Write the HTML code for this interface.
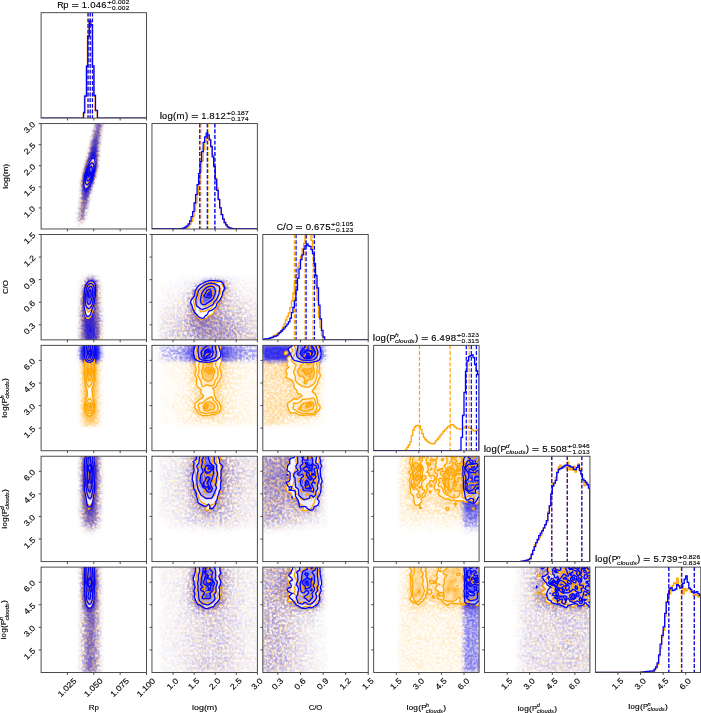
<!DOCTYPE html><html><head><meta charset="utf-8"><style>html,body{margin:0;padding:0;background:#fff;}svg{display:block}</style></head><body><svg width="701" height="713" viewBox="0 0 701 713">
<defs><clipPath id="c00"><rect x="41.10" y="12.70" width="105.4" height="105.4"/></clipPath><clipPath id="c10"><rect x="41.10" y="123.58" width="105.4" height="105.4"/></clipPath><clipPath id="c11"><rect x="151.96" y="123.58" width="105.4" height="105.4"/></clipPath><clipPath id="c20"><rect x="41.10" y="234.46" width="105.4" height="105.4"/></clipPath><clipPath id="c21"><rect x="151.96" y="234.46" width="105.4" height="105.4"/></clipPath><clipPath id="c22"><rect x="262.82" y="234.46" width="105.4" height="105.4"/></clipPath><clipPath id="c30"><rect x="41.10" y="345.34" width="105.4" height="105.4"/></clipPath><clipPath id="c31"><rect x="151.96" y="345.34" width="105.4" height="105.4"/></clipPath><clipPath id="c32"><rect x="262.82" y="345.34" width="105.4" height="105.4"/></clipPath><clipPath id="c33"><rect x="373.68" y="345.34" width="105.4" height="105.4"/></clipPath><clipPath id="c40"><rect x="41.10" y="456.22" width="105.4" height="105.4"/></clipPath><clipPath id="c41"><rect x="151.96" y="456.22" width="105.4" height="105.4"/></clipPath><clipPath id="c42"><rect x="262.82" y="456.22" width="105.4" height="105.4"/></clipPath><clipPath id="c43"><rect x="373.68" y="456.22" width="105.4" height="105.4"/></clipPath><clipPath id="c44"><rect x="484.54" y="456.22" width="105.4" height="105.4"/></clipPath><clipPath id="c50"><rect x="41.10" y="567.10" width="105.4" height="105.4"/></clipPath><clipPath id="c51"><rect x="151.96" y="567.10" width="105.4" height="105.4"/></clipPath><clipPath id="c52"><rect x="262.82" y="567.10" width="105.4" height="105.4"/></clipPath><clipPath id="c53"><rect x="373.68" y="567.10" width="105.4" height="105.4"/></clipPath><clipPath id="c54"><rect x="484.54" y="567.10" width="105.4" height="105.4"/></clipPath><clipPath id="c55"><rect x="595.40" y="567.10" width="105.4" height="105.4"/></clipPath>
<filter id="fo" x="0" y="0" width="701" height="713" filterUnits="userSpaceOnUse"><feTurbulence type="fractalNoise" baseFrequency="0.4" numOctaves="2" seed="7"/><feColorMatrix type="matrix" values="0 0 0 0 1 0 0 0 0 1 0 0 0 0 1 3 0 0 0 -0.9"/></filter>
<filter id="fb" x="0" y="0" width="701" height="713" filterUnits="userSpaceOnUse"><feTurbulence type="fractalNoise" baseFrequency="0.4" numOctaves="2" seed="23"/><feColorMatrix type="matrix" values="0 0 0 0 1 0 0 0 0 1 0 0 0 0 1 3 0 0 0 -0.9"/></filter>
<mask id="mo" maskUnits="userSpaceOnUse" x="0" y="0" width="701" height="713"><rect width="701" height="713" fill="#fff" filter="url(#fo)"/></mask>
<mask id="mb" maskUnits="userSpaceOnUse" x="0" y="0" width="701" height="713"><rect width="701" height="713" fill="#fff" filter="url(#fb)"/></mask>
</defs>
<rect width="701" height="713" fill="#fff"/>
<g clip-path="url(#c00)"><path d="M40.7 118.1l42.5 0 0-5 1.2 0 0-16.5 1.7 0 0-30 1.3 0 0-30 1.5 0 0-17.1 1.6 0 0 6.1 1.6 0 0 41 1.5 0 0 29.5 1.5 0 0 14.9 2 0 0 7.1 49 0" fill="none" stroke="#ffa500" stroke-width="1.3" stroke-linejoin="miter"/><path d="M87.90 12.70V118.10M90.10 12.70V118.10M92.40 12.70V118.10" stroke="#ffa500" stroke-width="1.2" stroke-dasharray="3.9 1.8" fill="none"/><path d="M41.1 118.1l42.5 0 0-5.6 1.2 0 0-16.5 1.8 0 0-30 1.2 0 0-30 1.5 0 0-15 1.6 0 0 4 1.6 0 0 41 1.5 0 0 29.5 1.5 0 0 14.9 2 0 0 7.7 49 0" fill="none" stroke="#0000ff" stroke-width="1.3" stroke-linejoin="miter"/><path d="M88.05 12.70V118.10M90.20 12.70V118.10M92.50 12.70V118.10" stroke="#0000ff" stroke-width="1.2" stroke-dasharray="3.9 1.8" fill="none"/></g><g clip-path="url(#c10)"><g mask="url(#mo)"><path d="M91.8 121.1l14.4 0-1.7 12.9-1.3 6.3-1 9.6-.2 8-1 7.9-2.1 10-3.6 11.6-3 11.8-3 13.7-.5 4.7-.7 2.9-2.4 4-2.4 3-.3 1 .6 3-9.1 0 .2-2 1.4-3 .1-1-1.5-5-.1-2.9 1.8-10.7 .4-4.3 1-19.9 1-5.9 1.9-8 1.7-4.8 1.4-6.1 1.5-4.5 1.6-8.5 3.4-14.4z" fill="#ffa500" fill-opacity="0.024" fill-rule="evenodd"/><path d="M92.6 121.1l12.9 0-1.7 12.9-1.5 8.8-1 9.1-.1 6-.6 5.9-1.8 10-4.5 14.7-3 11.6-3 14.1-.6 4.4-.6 1.9-1.9 3-3.9 4-.1 1 1.2 3-6.6 0 .5-2 1.4-2 .2-1-2-5-.5-2.9 2.1-15 .7-9.9 0-6 .6-6.9 2-10 5.5-18.7 1.5-8.1 1.5-5.5 2-9.1z" fill="#ffa500" fill-opacity="0.028" fill-rule="evenodd"/><path d="M93.4 121.1l11.4 0-3.5 25.2-.5 4.6-.1 7-.7 6.9-2.3 11-5.4 17.7-5.6 26-1 2-1.3 1.7-2 1.8-2 .8-1-.4-1.6-1.9-1.1-2-.6-2.9 2.3-16.6 .5-18.3 1.9-10.9 5.5-18.4 2.3-11.4 2.7-10.8zM77.8 230.5l.6-.6 1-.1 1 .6 .4 1.1-3.3 0z" fill="#ffa500" fill-opacity="0.041" fill-rule="evenodd"/><path d="M93.9 121.1l10.2 0-3.8 29.4-.1 7.4-.5 5.9-1.8 10-5.6 18-2 7.7-4.3 20-1.1 2-1.5 1.6-2 1.1-1 .1-1-.4-1.3-1.4-1-2-.4-1.9 2.1-17 .6-7.9-.2-7 .5-5.9 1-6 1.3-5 5.3-17.6 1.6-8.2 3.4-13.7z" fill="#ffa500" fill-opacity="0.056" fill-rule="evenodd"/><path d="M94.5 121.1l9.1 0-.7 6.9-1.6 10-1.3 10.9-.3 10-.7 6.9-2 10-3.7 11.3-3 10.6-4.6 20.9-.9 1.9-1.4 1.7-2 .9-1 0-1-.5-1.1-1.1-.5-1-.5-1.9 2.1-17 .4-7.9-.2-7 .4-4.9 .9-6 .9-4 5.5-17.9 2.3-10.9 4.7-19.8z" fill="#ffa500" fill-opacity="0.074" fill-rule="evenodd"/><path d="M95 121.1l8 0-.6 6.9-.7 6-.7 3-1.5 12.9-.1 8-.7 7.9-2 10-3.7 10.9-2.9 10-5 21.9-.7 1.6-1 1.1-1 .7-2 .2-1-.6-.9-1.1-.5-1-.2-1.9 1.9-14 .5-8.9-.2-9 1-8.9 1.9-8 4.8-14.9 2.3-10.9 3.5-14z" fill="#ffa500" fill-opacity="0.101" fill-rule="evenodd"/><path d="M96.1 121.1l6.2 0 0 2.1-.7 .9-.1 1-.2 7.9-.7 1-.3 5.2-.6 .8-.2 1-.2 6.9-.7 1-.1 1-.2 15.9-.8 1-.2 4.5-.9 1.5-.1 2.5-.9 1.5-.1 2-.9 1-.1 2-.9 .9 0 2-1 1-.1 2.2-.8 .8-.2 2.2-.8 .8-.2 2.4-.6 .6-.2 1-.2 2.2-.7 .8-.2 3.9-.8 1-.3 3.4-.6 .6-.4 3-.8 1-.2 3.4-.5 .6-.3 1-.1 2-1.7 1.9-2.3 .3-1-.5-.4-2.7 .3-6 .7-1 .1-1 .3-8.6 .7-1.3 0-1 .1-8-.8-4 .8-3 .2-6.4 .5-.5 .3-1 .2-3.2 .8-.8 .1-3 .9-1 .1-2 .9-1 .1-1.9 .9-1 .1-2.2 .8-.8 .2-2.2 .8-.8 .2-3 .9-1 .1-3 .8-1 .2-3.9 .8-1 .2-2.7 .9-1.3 .1-3 .8-1 .2-3 .8-1 .2-3.3 .6-.7 .4-3.4 .6-.5z" fill="#ffa500" fill-opacity="0.072" fill-rule="evenodd"/></g><path d="M95.6 121.1l6.6 0-.3 7.9-.6 2.2-.4 4.8-.7 2-.3 6.9-.8 3-.2 15.9-.6 1.3-.3 4.7-.7 1.2-.2 2.8-.8 1.5-.3 2.5-.7 .8-.3 2.2-.7 .8-.3 2.1-.7 .8-.3 2.2-.7 .8-.3 2.2-.7 .8-.3 2.2-.7 1-.5 3-.6 1-.4 2.9-.5 1-.5 4-.5 .7-.3 2.3-.9 2-1.2 6-1.2 2.9-1.3 1.2-1 .3-1-.2-1.3-1.3-.4-1.9 .2-3 .7-3 .2-6 .7-4 .2-21.8 .7-1.8 .3-4.2 .7-.8 .3-3.2 .7-.7 .2-2.3 .8-.8 .2-2.2 .7-.7 .3-2.2 .7-1 .3-2 .7-1.1 .3-1.9 .7-1.4 .3-2.6 .8-2 .3-3 .6-1.1 .3-2.8 .7-1.3 .4-2.7 .8-2 .2-2 .6-1.3 1.3-6.6 .8-2z" fill="#ffa500" fill-opacity="0.055" fill-rule="evenodd"/><path d="M96.2 121.1l5.6 0-.3 6.9-.9 7-.7 3-1 9.9-.2 13-.8 6.9-2 9-3.6 10-3.1 9.9-1.7 7.9-2.2 7.1-.7 3.9-1.2 3.3-1 1.1-1 .3-1.5-.8-.7-1.9 .8-6 1-12.9 .1-5-.4-7 .3-5.9 .8-6 .6-1.1 .4-2.9 5.5-16.4 2.5-11.4 5-18.9z" fill="#ffa500" fill-opacity="0.069" fill-rule="evenodd"/><path d="M96.9 121.1l4.2 0-.2 6.9-2.6 21.9-.1 11-.5 5.9-2.2 10-6.2 18.2-2.8 11.6-1.8 5-.8 4-1.4 3-1.1 .5-1-.5-.4-2 .8-6 0-4 .7-7.9 .1-5-.6-8 1-9.9 2.1-8 4.7-13.9 2.5-10.9 5.3-19.9z" fill="#ffa500" fill-opacity="0.114" fill-rule="evenodd"/><path d="M98.2 121.1l1.5 0 .4 6.9-2.2 20.9-.1 14-1 6.9-2 8-6.9 19.9-2.5 9.9-2.4 5-.6 2.7-.6-.7 .3-3-.5-5 .6-10.9-.8-10 .9-8.9 1.9-8 5.1-15.3 6.9-26.5 1.7-3.9z" fill="#ffa500" fill-opacity="0.179" fill-rule="evenodd"/><path d="M97.9 128l.4-.5 .3 5.5-1.5 16.9 .2 13-.9 6.9-2 8-7.5 19.9-1.6 6.1-.9 2.3-1 .6-.4-3.1 .1-7.9-1.2-10 .3-4.9 .6-5 2.1-8 4.9-13.9 5.5-19.6 2-5.6z" fill="#ffa500" fill-opacity="0.266" fill-rule="evenodd"/><path d="M94.9 141l.4-.9 1 .2 .3 2.7-.3 6.9 .5 12-.5 5.7-2 9.1-2 5.7-5 11.4-1 1.7-1 .9-.9-1.2-1.8-8.5 0-4.9 .7-6 2-8 5.2-13.9 2.8-9.4z" fill="#ffa500" fill-opacity="0.383" fill-rule="evenodd"/><path d="M93.6 149.9l.7-.3 .8 2.3 1 8 0 3.9-.8 6.7-2 7.7-4 9.5-2 3.2-1 .9-1-.1-.9-1.6-1.1-4.4 .1-6.9 1-5.6 1.9-6.8 2-5.1 4-9.3 1-1.9z" fill="#ffa500" fill-opacity="0.517" fill-rule="evenodd"/><path d="M92.2 155.9l1.1-1 1 1 1 3.6 0 7.3-1 6-2 6.6-2 4.5-2 3.6-1 1.2-1 .4-1-.4-.9-1.8-.2-1.2-.2-4.9 .4-5.2 .9-4.2 2-6 3-6.8z" fill="#ffa500" fill-opacity="0.714" fill-rule="evenodd"/><g mask="url(#mb)"><path d="M92.1 121.1l13.9 0-3.7 25.3-1.4 18.4-1.9 10-2.7 8.6-3 11-1.6 8.2-3.9 16.9-1.3 3-2.4 3-2.7 4.7-1 .8-2-1.7-1.8-2.8-.9-3-.9-4.9 .3-4 1.3-6.1 1-8.6 1.1-18.1 1.2-7 2-8 2.7-8.8 1.3-7.1 1.6-5.9 2.6-13 1.4-5.6z" fill="#0000ff" fill-opacity="0.024" fill-rule="evenodd"/><path d="M92.8 121.1l12.4 0-3.8 26.8-1.4 17.9-2.2 11-2.5 7.7-3 10.9-1.4 7.2-4 16.9-1.6 3-3.9 4.4-1 .5-1-.1-1-.8-1.2-2-1.3-4-.2-1.9 .2-4 1.5-7.9 .8-8 .9-16 1.6-8.9 1.9-8 2.7-9 1.4-6.9 1.6-6 2.6-12.9 1.4-5.5z" fill="#0000ff" fill-opacity="0.028" fill-rule="evenodd"/><path d="M93.5 121.1l11.1 0-3.3 22.9-1.5 19.8-2 11-6.5 22.2-2.4 11.6-2.8 10.9-1.7 3-2 1.7-2 1-1-.2-1.3-1.5-1.4-3-.2-1.9 .2-4 1.1-6 .9-8 1-18.8 1-6 1.9-8 3.7-12.7 .5-3.2 6.5-27.8z" fill="#0000ff" fill-opacity="0.041" fill-rule="evenodd"/><path d="M94.1 121.1l9.9 0-3.7 27-1.2 17.7-2.2 11-5.6 18.2-5.4 23.6-.9 1.9-1.6 2-1 .7-2 .5-1-.3-1.5-1.9-.7-2-.1-1.9 2.3-17.8 .5-15.1 .8-6.9 2.1-9 3.5-11.9 5-21.3 2.5-11.5z" fill="#0000ff" fill-opacity="0.056" fill-rule="evenodd"/><path d="M94.6 121.1l8.9 0-3.3 23.8-1.5 20.9-1.9 10-6.5 21.3-2.5 11.5-2.6 10-.8 1.9-1 1.1-1 .7-2 .3-1-.4-1-1.3-.5-1.4-.2-1.9 2-17 1.1-20.8 2.1-10 3.5-11.9 2.9-12 5-21.4z" fill="#0000ff" fill-opacity="0.074" fill-rule="evenodd"/><path d="M95.1 121.1l7.9 0-3.1 22.9-1 10.9-.4 9.9-1.8 10-6.5 20.9-2.7 11.9-2.8 11-1.3 2.2-2 1-1 0-1.4-1.3-.5-1-.2-1.9 2.1-18.9 .6-17.9 2-10 4.7-15.9 3.3-14.9 1.5-5 2.3-10.9z" fill="#0000ff" fill-opacity="0.101" fill-rule="evenodd"/><path d="M96.2 121.1l6.1 0 0 2.3-.7 .7-.1 1-.2 4.4-.6 .5-.2 1-.2 5.6-.8 1.4-.2 7.4-.6 .5-.2 1-.2 16-.7 .9-.2 1-.1 4.8-.9 1.2-.1 4-.9 1-.1 2.2-.7 .8-.3 2.3-.6 .7-.4 2.4-.6 .5-.3 1-.1 2-.9 1 0 2-.9 1-.2 2.2-.8 .8-.2 2.5-.8 1.5-.2 2.9-.8 1-.1 3-.8 1-.2 3-.8 1-.2 3-.8 1-.2 2.4-.6 .6-.4 1.9-1 1-2 .2-1.1-1.2 0-6.9 .9-2 .2-6 .6-1 .2-1 .2-21.2 .6-.6 .4-5.5 .9-1.5 .1-2.6 .8-1.4 .2-2.3 .6-.7 .3-3 .9-.9 .1-2.2 .9-.8 .1-2.3 .8-.7 .2-3.4 .6-.6 .3-1 .1-2.4 .6-.6 .3-1 .1-2.2 .7-.8 .3-3.9 .8-1 .2-2.5 .9-1.5 .1-2.5 .5-.5 .3-1 .1-3 .8-1 .3-3.2 .7-.7z" fill="#0000ff" fill-opacity="0.072" fill-rule="evenodd"/></g><path d="M95.7 121.1l6.5 0-.4 5.9-.5 1.3-.4 4.7-.8 3-.2 6-.8 2.9-1.2 22.9-.6 1.2-.3 3.8-.2 1-.5 .5-.2 2.5-.8 1.3-.5 2.7-.5 .5-.5 2.4-.5 .5-.4 2.5-.6 .6-.4 2.4-.6 .7-.4 2.3-.6 .7-.4 2.3-.6 .9-1.4 7-.8 2-.2 2-.6 1.3-1.6 6.7-1 3-1.3 1.5-1 .3-1-.3-.5-.6-.5-1.9 .3-7 .7-2.6 .2-2.4 .2-19.9 .6-2.9 .3-6 .7-1.3 .2-2.7 .8-1.4 .2-2.6 .8-1.4 .3-2.6 .6-.6 .4-2.3 .7-1 .2-2 .7-1.1 .5-2.9 .5-.8 .4-3.2 .6-1.1 .4-2.9 .6-.7 .4-3.2 .6-1.1 .4-2.9 .6-1.1 .6-2.9 .4-.6 .5-3.4 .5-1.1 .4-2.9 .8-1.9z" fill="#0000ff" fill-opacity="0.055" fill-rule="evenodd"/><path d="M96.4 121.1l5.4 0-2.9 23.8-.7 10-.4 10.9-2.1 11-6.4 18.9-4.6 17.9-1.8 5-.5 .6-1 .5-1-.6-.3-.5-.2-4 .2-3 .7-4 .6-7.6 0-14.3 .5-7.9 2.1-9 4.3-13.7 3.6-15.1 1.6-5 2.3-9.9z" fill="#0000ff" fill-opacity="0.069" fill-rule="evenodd"/><path d="M97 121.1l4.2 0-2 15.9-.9 10-.7 16.8-1 7-1.9 8-5.8 16.9-4.5 16.6-2 4.9-1 .5-.5-2.1-.2-3 .8-5 .3-6-.1-15.9 .5-6.9 1.9-9 4.3-13.9 4-15.9 1.6-5 2.7-10.9z" fill="#0000ff" fill-opacity="0.114" fill-rule="evenodd"/><path d="M98.1 121.1l1.9 0-2.2 24.8-.5 17-.6 4.9-1 6-1.7 6-9.6 27.8-.8 1-.2 .9-.7-3.9-.6-18.9 .8-9.9 2.1-9 3.6-10.9 4.4-16.9 1.8-5 3.2-10.9z" fill="#0000ff" fill-opacity="0.179" fill-rule="evenodd"/><path d="M95.8 137l.5-.8 .5 .8 .5 1.8 .1 2.2-.7 13.9 0 8.9-1.1 8-2.1 8-4.2 11.4-3 7-1 1.7-.9 .2-1-4.8-.8-8.6 .1-4 .6-5.9 1.9-8 4.3-12.9 4.2-14.9 .6-1.7z" fill="#0000ff" fill-opacity="0.266" fill-rule="evenodd"/><path d="M94.4 144.9l.9-.7 .6 4.7 .3 14-.9 8-1.9 7.9-3.1 8.2-3 6.3-1 1.4-1 .4-.9-1.5-1.2-6.9 .1-4.9 .7-6 2.3-9.2 6-17.4z" fill="#0000ff" fill-opacity="0.383" fill-rule="evenodd"/><path d="M92.8 152.9l.5-.8 1 .7 1.1 7.1 0 5.9-1.1 7.6-1 3.8-3 8-2 3.9-1 1.4-1 .8-1-.4-.9-2.7-.3-1.5-.2-4 .5-6.1 2.9-11 2-5.4z" fill="#0000ff" fill-opacity="0.517" fill-rule="evenodd"/><path d="M91.9 157.9l.4-.5 1 0 1 2.2 .4 4.2-.4 6-1 5.3-2 5.9-3 5.9-1 1.1-1 .2-1-1.1-.5-3.4 .1-4.9 .4-4.3 1-3.9 2-5.8 2-4.7z" fill="#0000ff" fill-opacity="0.714" fill-rule="evenodd"/><path d="M91.7 159l1.3-.8 1.6 .8 .7 1.5 0 6-1.1 6-2 6-2 4.6-1.7 2.4-1.5 1.5-1.5 .3-1.1-1.2-.7-3 .8-7.6 1.6-6 1.7-4.5 2.2-4.3z" fill="#fff" fill-rule="evenodd"/><path d="M90.8 160.5l.7-.8 1.5-.5 1.5 1.3 .5 1.5-.1 4.5-.8 6-1.1 2.3-.4 2.2-1.9 4.6-.9 1.5-2.8 2.9-1.5 0-1-1.4-.3-1.5 .4-7.6 2.8-9 2.3-4.5z" fill="#ffa500" fill-opacity="0.070" fill-rule="evenodd"/><path d="M91.1 162l.4-.6 1.5-.2 .5 .8 .6 3 0 4.5-1.6 6-2 4.5-2 3.2-1.5 1.1-1.5-.8-.2-.4-.4-3.1 .3-3 .8-4.5 1.5-4.5z" fill="#ffa500" fill-opacity="0.075" fill-rule="evenodd"/><path d="M91.3 163.5l.2-.4 1.5 .8 .6 2.6-.1 3-1.1 4.5-1.7 4.5-2.2 3.5-1.5 1-1.1-1.4-.2-1.6 .4-6 2-6 1.9-3.3z" fill="#ffa500" fill-opacity="0.105" fill-rule="evenodd"/><path d="M91 165l.5-.5 1.4 2 0 3-.5 3-1.5 4.5-.9 1.5-1.5 2.4-1.5 .6-.7-1.5-.2-1.5 .2-3 1.6-6 1.5-3 .6-.9z" fill="#ffa500" fill-opacity="0.143" fill-rule="evenodd"/><path d="M90 166.5l1.5-.9 .7 .9 .4 1.5-.3 3-1.3 4.5-1 2.2-1.5 2.1-1.5 0-.4-2.8 .1-1.5 1.2-4.5 1.2-3z" fill="#ffa500" fill-opacity="0.197" fill-rule="evenodd"/><path d="M89.6 168l.4-.8 1.5-.5 .6 1.3 .1 1.5-1.6 6-2.1 3.3-.5-.3-.8-1.5 0-1.5 1.1-4.5z" fill="#ffa500" fill-opacity="0.283" fill-rule="evenodd"/><path d="M89.4 169.5l.6-1.4 1.5 0 .2 1.4-1.5 6-1.7 2.3-.5-.8-.3-1.5 .6-3z" fill="#ffa500" fill-opacity="0.421" fill-rule="evenodd"/><path d="M89.9 169.5l.1-.3 .5 .3 .2 1.5-.5 3-1.7 2.6-.3-1.1 .2-1.5 .8-1.5z" fill="#ffa500" fill-opacity="0.682" fill-rule="evenodd"/><path d="M91.8 159l1.2-.9 1.6 .9 .7 6-.3 4.5-2.4 9-1.8 4.6-2.3 3.7-1.5 1.9-1.5 .4-1.2-1.5-.6-4.5 .9-7.6 1.7-6 1.9-4.5 1.8-3.6z" fill="#fff" fill-rule="evenodd"/><path d="M91.4 160.5l1.6-1.2 1 1.2 .4 1.5 .6 4.5-.9 6-1.1 2.9-.5 3.1-1.3 3.1-1.8 3-2.4 2.9-1.5 .3-.9-1.7-.5-3 .3-4.6 .5-3 .6-1.4 .5-3.1 1.8-4.5 1.5-3z" fill="#0000ff" fill-opacity="0.070" fill-rule="evenodd"/><path d="M90.6 163.5l.9-1.1 1.5 .1 1 2.5 .1 4.5-1.9 7.5-1.1 3-1.7 3.1-2.4 2.5-1.5-.9-.5-1.6 .1-4.6 1.2-6 1.5-4.5 1.6-3z" fill="#0000ff" fill-opacity="0.075" fill-rule="evenodd"/><path d="M90.4 165l1.1-1.2 1.5 .8 .6 1.9-.1 3-1.3 6-1.7 4.5-2 3-1.5 1.1-1-1-.4-1.6 .4-6 1.8-6 1.5-3z" fill="#0000ff" fill-opacity="0.105" fill-rule="evenodd"/><path d="M90 166.5l1.5-1.5 1.3 1.5 .1 3-.4 3-1.3 4.5-1.2 2.7-1.5 2.3-1.5 .7-.6-1.1-.3-1.6 .4-4.5 1.2-4.5z" fill="#0000ff" fill-opacity="0.143" fill-rule="evenodd"/><path d="M91.2 166.5l.3-.3 .3 .3 .6 1.5-.3 4.5-2.1 6.2-1.5 2.3-1.5 0-.3-4 1-4.5 1.9-4.5 .4-.7z" fill="#0000ff" fill-opacity="0.197" fill-rule="evenodd"/><path d="M91 168l.5-.3 .5 1.8-.4 3-1.3 4.5-1.8 2.9-1.2-1.4-.1-1.5 .5-3 1.7-4.5 .6-1.2z" fill="#0000ff" fill-opacity="0.283" fill-rule="evenodd"/><path d="M90 169.5l.5 0 .8 1.5-.9 4.5-1.9 3.2-.7-1.7 .1-1.5 .6-2.8z" fill="#0000ff" fill-opacity="0.421" fill-rule="evenodd"/><path d="M89.8 171l.2-.4 .4 .4-.1 3-.3 1.1-1.5 2.2-.2-1.8 .2-1.2z" fill="#0000ff" fill-opacity="0.682" fill-rule="evenodd"/><path d="M91.7 159l1.3-.8 1.6 .8 .7 1.5 0 6-1.1 6-2 6-2 4.6-1.7 2.4-1.5 1.5-1.5 .3-1.1-1.2-.7-3 .8-7.6 1.6-6 1.7-4.5 2.2-4.3zM92.9 162l.6 1.5 .4 3-.5 4.5-1.3 4.5-1.9 4.5-1.7 2.7-1.5 1.2-1.2-.8-.5-1.5 0-3.1 1.1-6 1.4-4.5 2.2-4.1 1.5-1.9zM90.3 166.5l1.2-.7 .5 .7 .4 1.5-.6 4.5-1.8 5-1.5 2.1-1.5-.3-.2-2.3 .4-3 1.3-4.5zM89.8 171l.2-1.3 .4 1.3-.4 3-.4-1.5zM88.5 174l1.5 0-1.5 2z" fill="none" stroke="#ffa500" stroke-width="1.3"/><path d="M91.8 159l1.2-.9 1.6 .9 .7 6-.3 4.5-2.4 9-1.8 4.6-2.3 3.7-1.5 1.9-1.5 .4-1.2-1.5-.6-4.5 .9-7.6 1.7-6 1.9-4.5 1.8-3.6zM91.1 163.5l.4-.6 1.5 .4 .7 1.7 .2 3-.4 3-1.2 4.5-1.5 4.5-2.3 3.8-1.5 1.2-1.5-1.2-.2-.7 0-3.1 .6-4.5 2.3-7.5 1.8-3.4zM91.5 166.5l.7 1.5 .1 1.5-.4 3-.8 3-1.1 3-1.5 2.3-1.5-.2-.2-3.6 1.5-6 1.7-3.5zM89.9 171l.1-.2 .2 .2 .2 1.5-.4 2.3-.8 .7-.7 1.5 0-2.2 .6-.8z" fill="none" stroke="#0000ff" stroke-width="1.3"/></g><g clip-path="url(#c11)"><path d="M152 229l1.5 0 1.5 0 1.5 0 1.5 0 1.5 0 1.5 0 1.5 0 1.5 0 1.5 0 1.5 0 1.5 0 1.5 0 1.5 0 1.5 0 1.5 0 1.6 0 1.5 0 1.5 0 0-.1 1.5 0 1.5 0 0-.1 1.5 0 0-.2 1.5 0 0-.5 1.5 0 0-.8 1.5 0 0-1.1 1.5 0 0-2.1 1.5 0 0-2.8 1.5 0 0-4.4 1.5 0 0-5.9 1.5 0 0-7.9 1.5 0 0-9.2 1.5 0 0-10.6 1.5 0 0-11.6 1.5 0 0-10.8 1.6 0 0-11 1.5 0 0-9.2 1.5 0 0-3.3 1.5 0 0-1.2 1.5 0 0 2.9 1.5 0 0 6.9 1.5 0 0 8.9 1.5 0 0 11.5 1.5 0 0 11.7 1.5 0 0 10.1 1.5 0 0 10.6 1.5 0 0 8.8 1.5 0 0 6.7 1.5 0 0 4.6 1.5 0 0 4 1.5 0 0 2.4 1.5 0 0 1.6 1.6 0 0 .8 1.5 0 0 .6 1.5 0 0 .4 1.5 0 0 .1 1.5 0 0 .1 1.5 0 1.5 0 0 .1 1.5 0 1.5 0 1.5 0 1.5 0 1.5 0 1.5 0 1.5 0 1.5 0 1.5 0 1.5 0 1.5 0 1.6 0 1.5 0" fill="none" stroke="#ffa500" stroke-width="1.3" stroke-linejoin="miter"/><path d="M200.83 123.58V228.98M208.04 123.58V228.98M215.27 123.58V228.98" stroke="#ffa500" stroke-width="1.2" stroke-dasharray="3.9 1.8" fill="none"/><path d="M152 229l1.5 0 1.5 0 1.5 0 1.5 0 1.5 0 1.5 0 1.5 0 1.5 0 1.5 0 1.5 0 1.5 0 1.5 0 1.5 0 1.5 0 1.5 0 1.6 0 0-.1 1.5 0 1.5 0 0-.1 1.5 0 0-.1 1.5 0 0-.3 1.5 0 0-.4 1.5 0 0-1 1.5 0 0-1.1 1.5 0 0-1.9 1.5 0 0-3 1.5 0 0-4.3 1.5 0 0-5.1 1.5 0 0-8.6 1.5 0 0-8.3 1.5 0 0-10 1.5 0 0-11.1 1.5 0 0-11.9 1.5 0 0-10.1 1.6 0 0-9.2 1.5 0 0-5.5 1.5 0 0-3.7 1.5 0 0 1.6 1.5 0 0 5 1.5 0 0 6.8 1.5 0 0 10.2 1.5 0 0 9.7 1.5 0 0 12.8 1.5 0 0 11.1 1.5 0 0 9.3 1.5 0 0 8.1 1.5 0 0 6.9 1.5 0 0 4.4 1.5 0 0 3.4 1.5 0 0 2.4 1.5 0 0 1.9 1.6 0 0 1 1.5 0 0 .4 1.5 0 0 .4 1.5 0 0 .2 1.5 0 0 .1 1.5 0 1.5 0 0 .1 1.5 0 1.5 0 1.5 0 1.5 0 1.5 0 1.5 0 1.5 0 1.5 0 1.5 0 1.5 0 1.5 0 1.6 0 1.5 0" fill="none" stroke="#0000ff" stroke-width="1.3" stroke-linejoin="miter"/><path d="M199.73 123.58V228.98M207.28 123.58V228.98M214.81 123.58V228.98" stroke="#0000ff" stroke-width="1.2" stroke-dasharray="3.9 1.8" fill="none"/></g><g clip-path="url(#c20)"><g mask="url(#mo)"><path d="M83.3 273.7l1.1-.5 1.9-.3 5-.2 4 .5 2 .8 3.1 2.7 1.6 2 .8 2 1 4-.3 4.9 1.5 5-.7 7 .1 2 .6 3 1.3 2.9-.2 2-1.3 3-.3 2 1.4 9.9 .3 6-.3 5-1.3 3-1.3 2-25.4 0-2.1-2-.9-2 .1-2 1-4-.5-5 .4-5.9-.3-13 .1-5.9 .8-4 .3-4-.3-2-1.3-3 1.3-2.9 1.3-5 .8-2 3.5-5z" fill="#ffa500" fill-opacity="0.024" fill-rule="evenodd"/><path d="M84.1 274.7l2.2-.7 4-.2 5 .5 2 1 2.6 2.4 1.3 2 .6 2 .6 4-.1 4.9 1.2 5-.2 6 .2 4 1.1 4.9-.9 4-.1 2 1.3 10.9-.4 10-.5 2-1.9 3-22.6 0-2.8-3-.4-1-.1-2 .7-4-.5-5 .5-5.9-.3-8 .2-9.9 .7-4 .3-6-.5-4 1.7-6.9 .7-2 3.2-5z" fill="#ffa500" fill-opacity="0.028" fill-rule="evenodd"/><path d="M84.8 275.7l1.5-.6 4-.3 3 .2 2 .4 3.2 2.3 1.5 2 .8 2 .6 4 0 5.9 .9 5 .2 10 .7 3.9-.4 6 1.1 10.9-.3 10-.6 2-2.1 3-20.1 0-2-2-1.3-2-.3-2 .5-4-.5-5 .4-4.9-.1-9 .3-9.9 .9-10-.1-4 2.2-7.9 2.6-4.5z" fill="#ffa500" fill-opacity="0.041" fill-rule="evenodd"/><path d="M89.5 275.7l1.8-.1 3 .4 3 1.8 2.3 2.9 .9 4 .3 7.9 .8 7 .1 7 .5 3.9-.1 6 1.1 10.9-.2 8-.3 3-1 2-1.8 2-17.9 0-3.1-3-.8-2 .3-5-.5-5 .4-5.9-.1-7 .4-11.9 1.1-13.9 2.2-7 1.6-3 1.9-2 1.9-.7z" fill="#ffa500" fill-opacity="0.056" fill-rule="evenodd"/><path d="M88.6 276.7l3.7-.2 2 .4 2 1 2.5 2.8 1.1 4 .2 7.9 .8 7 0 7 .6 4.9 0 5 1 9.9-.3 4 .2 4-.2 3-.6 2-1.3 1.7-1.7 1.3-15.2 0-2.8-2-.9-1-.8-2 0-5-.3-5 .3-4.9-.1-7 .9-19.9 .8-6.9 2.4-7 1.1-2 2.3-2.2z" fill="#ffa500" fill-opacity="0.074" fill-rule="evenodd"/><path d="M88.1 277.7l2.2-.6 2 0 2 .6 2 1.1 1 .9 1.3 2 .9 4 .7 14.9 0 6 .6 3.9 .1 6 .9 9.9 .1 9-.2 2-.7 2-1.7 1.8-2.3 1.2-12 0-1.6-.7-2-1.3-.9-1-.9-2-.4-10 .3-4.9-.1-6 .7-19.9 .9-7 .8-2.9 2.5-6 2-2.1z" fill="#ffa500" fill-opacity="0.101" fill-rule="evenodd"/><path d="M88.1 278.7l3.2-.4 3 .3 1 .9 1 .2 2 3 .2 10.9 .8 4 .3 17.9 .7 3 .2 12.9 .4 4-.6 4-1 1.1-1 .1-1 .9-2 .2-.7 .7-7.4 0-.9-.8-1.9-.2-1-.9-1-.1-1-.9-.2-1.1-.9-1 0-28.9 .8-8.9 .2-8 .7-1 .4-3.4 .5-.5 .4-2 .8-1 .3-1.3 1.2-1.7z" fill="#ffa500" fill-opacity="0.072" fill-rule="evenodd"/></g><path d="M88.8 278.7l1.5-.7 2 0 1 .1 2 1 2.6 2.6 1.1 4 .1 20.9 .8 3.9 .1 8 .9 6 0 12.9-.2 1-2.4 2.6-1.4 .4-.6 .4-3 .6-4.8 0-2.2-.4-2.9-1.1-2.6-2.5-.3-2-.5-9 .3-3.9-.3-6 .4-4 .3-18.9 .7-1.8 .4-4.1 1.9-5 1.1-2 1.5-1.6 1-.8z" fill="#ffa500" fill-opacity="0.055" fill-rule="evenodd"/><path d="M90.1 278.7l1.2-.2 2 .3 3 1.7 1.5 2.2 .7 3 .3 3.9-.2 17 .8 4.9-.1 5 1 9-.1 4.9 .4 4-.2 3-1.1 2.2-2 1.3-3 .9-3 .4-2 0-3-.7-1.9-.7-2.2-1.4-.7-1-.6-2-.3-8 .3-28.8 .2-4 1-6 .8-2.9 2.4-4.8 2-1.9z" fill="#ffa500" fill-opacity="0.069" fill-rule="evenodd"/><path d="M88.9 279.7l1.4-.5 2-.1 2 .6 1.5 1 .9 1 .9 2 .7 5-.3 18.9 .7 3.9 0 6 .9 7 .3 11.9-.4 2-1.2 1.4-3 1.2-4 .8-2-.1-4-1-1.9-1-1-1.1-.8-2.2-.4-7 .1-27.8 .5-8 1.3-5.9 1.6-4 1.6-2.2z" fill="#ffa500" fill-opacity="0.114" fill-rule="evenodd"/><path d="M88.5 280.7l1.8-.8 2-.1 2 .6 1 .7 1 1.1 .7 1.5 .8 5-.6 18.9 .5 3.9-.1 6 1 7 .5 11.9-.6 2-1.2 1.1-3 1.2-3 .4-2 0-2.9-.7-2-1-1.2-1-.7-2-.3-6-.4-27.8 .4-8 .9-5 1.3-3.9 1.7-3z" fill="#ffa500" fill-opacity="0.179" fill-rule="evenodd"/><path d="M90.4 280.7l1.9-.1 2.5 1.1 1.5 2 .7 3 .2 3.9-1 17 .2 3.9-.2 5 .1 3 1 5 0 4.9 .6 6-.3 2-1.3 1.5-3 1.2-3 .3-4-1-1.4-1-1-2-1-17.9-.5-16.9 .3-7 1.9-7.9 1-2 1.5-2 1.2-1z" fill="#ffa500" fill-opacity="0.266" fill-rule="evenodd"/><path d="M90.1 281.7l1.2-.3 2 .4 2 1.8 1 3.1 .3 3.9-.7 10-.8 7.9-.6 11 .9 5 .4 11.9-.4 1-.9 1-2.2 .9-2 .2-1-.1-2.2-1-.9-1-.3-1-1.9-17.9-.9-16.9 .3-7 1.6-6.9 .8-2 1.4-2 1.1-1.1z" fill="#ffa500" fill-opacity="0.383" fill-rule="evenodd"/><path d="M90.4 282.7l2.1 0 1.8 1.3 1 2.3 .4 4.3-.7 10-1.9 12.9-.3 4-.9 4 .2 3-.2 2.9 .4 3-.5 3 .2 3-.7 .8-1 .2-1.2-1-.1-3-.7-2.7-.3-3.3-2.7-10.4-1-7.5-.4-7.9 .2-7 1.2-5.6 1-2.5 1-1.6 1.3-1.2z" fill="#ffa500" fill-opacity="0.517" fill-rule="evenodd"/><path d="M89 284.7l2.3-.9 2 .9 1.1 2 .5 3.9-.6 8.9-1 6.1-2.8 10.9-1.2 1.6-1-.2-1-1.3-1-3.1-1-4.5-.5-7.4 .1-6 .4-3.5 1-3.5 1-1.9z" fill="#ffa500" fill-opacity="0.714" fill-rule="evenodd"/><g mask="url(#mb)"><path d="M88 272.7l2.3-.5 3 .1 3 .9 2 1.1 1.7 1.4 1.4 2 .6 1 1.1 4 1.4 7.9-.7 11 .4 6 .9 3.9 .1 12-.7 5.9 .5 4-.5 5-.4 2-1.1 2-24.8 0-1.5-3-.7-4-.4-6 .3-6.9 .5-3-.2-5 .5-14.9 1-6 .2-5.9-.6-4 .8-3 .2-3 1.1-1.6 1-.6z" fill="#0000ff" fill-opacity="0.024" fill-rule="evenodd"/><path d="M88.1 273.7l2.2-.5 3 .1 3 1 2 1.3 1 1.1 1.7 3 2.4 10.9-.9 8 .7 9.5 .9 4.4 0 12-.6 5.9 .2 7-.7 3-1.3 2-22.1 0-1.5-2-1-3-.6-7 .7-10.9-.1-4 .7-15.9 .7-5 .7-7.9-.1-3 1.8-6 3.5-2.3z" fill="#0000ff" fill-opacity="0.028" fill-rule="evenodd"/><path d="M88.1 274.7l2.2-.6 3 .1 3 1.1 1.8 1.4 1.7 3 .9 3 .6 4.1 1.1 3.8-1 8 1 9.9 .6 3 .4 8-.7 10.9 .2 7-.3 2-.5 1-1.8 2-19.4 0-1.9-2-1.1-3-.5-7 .5-14.9 .9-16.9 1.7-13.9 2.2-6 2.6-2.5z" fill="#0000ff" fill-opacity="0.041" fill-rule="evenodd"/><path d="M87.8 275.7l2.5-.8 2-.1 3 .9 2 1.3 1.2 1.7 1.1 3 .8 5 1 3.9-.8 8 2.1 20.9-.2 6-.4 3.9 .1 8-.3 2-.7 1-2.2 2-16.7 0-2.4-2-1.3-3-.5-7 .4-4 .1-10.9 1-16.9 1.2-10.9 .9-4 1.8-4 1.8-2.3z" fill="#0000ff" fill-opacity="0.056" fill-rule="evenodd"/><path d="M90.1 275.7l2.2-.2 2 .5 2 1 1 1.1 1.6 3.6 1.6 8.9-.6 8 2.1 20.9-.1 6-.5 3.9 .3 8-.6 2-.7 1-2.9 2-13.8 0-3.3-2.4-.9-1.6-.5-2-.2-6 .4-4 0-9.9 .4-5 .1-5.9 .9-12 1-6.9 1.3-4 1.6-3 2.8-2.8z" fill="#0000ff" fill-opacity="0.074" fill-rule="evenodd"/><path d="M89.2 276.7l2.1-.5 2 .1 2 .8 1.7 1.6 1 2 .8 3 .9 6.9-.5 8 2.2 21.9-.5 8.9 .2 8-.6 2-.9 1-3.8 2-10.7 0-2.7-1.5-1.8-1.5-1-3 .2-19.9 .5-6 .5-13.9 1-7.9 .9-4 1.9-4 2.7-2.9z" fill="#0000ff" fill-opacity="0.101" fill-rule="evenodd"/><path d="M89.1 277.7l2.2-.2 3.3 .2 2.7 3.1 .4 2.9 .6 .6 .2 21.3 .4 3.9 .4 1 .2 6 .9 2-.1 8.9-.6 2 0 1 .6 1 0 6.5-.9 1.5-1.1 1.1-1 .1-1 .9-3 .2-1.3 .7-4.1 0-1.6-.8-1.5-.2-1.7-1-1.7-1.6-.4-1.4-.7-1 0-7 .5-1 .3-2 .2-28.8 .8-3 .3-5.5 .8-1.4 .2-2.9 .8-1.1 .2-1.2 .8-.8 1.1-2.1 1-1 1-.2z" fill="#0000ff" fill-opacity="0.072" fill-rule="evenodd"/></g><path d="M89.5 277.7l.8-.5 3 0 2 1 1.4 1.5 1.2 3 .4 4.4 .5 2.5-.6 9 .5 3 .2 8.9 1.4 10-.3 8.9 .1 8-.2 1-.6 1-2 1.6-4 1.1-7-.1-2.9-1.3-2.4-2.3-.4-3 .1-18.9 .4-7-.2-3.9 .9-14 .6-1.2 .3-3.7 .7-1.2 .3-1.8 1.1-2 3.5-3.6z" fill="#0000ff" fill-opacity="0.055" fill-rule="evenodd"/><path d="M91 277.7l2.3 .1 2 1.1 1.3 1.8 1.1 3 .5 5.9-.3 9 .4 11.7 1.5 10.2-.4 8.9 .4 7-.4 2-.7 1-1.4 1-4 1.2-5 .2-3-.7-1.9-1-1.7-1.7-.6-2 .5-36.8 .4-6 1-5.9 .9-3 1.5-3 1.7-2 2.2-1.6z" fill="#0000ff" fill-opacity="0.069" fill-rule="evenodd"/><path d="M89.4 278.7l2.9-.5 2 .6 1.7 1.9 1.1 3 .7 5.9-.5 15 .2 5.9 1.5 10-.2 8.9 .4 6-.5 3-1.4 1.4-3 1.1-4 .4-3-.2-2.9-1-2-1.7-.8-3 .4-9.9 0-24.9 .6-8 1.1-5.9 1-3 2-3z" fill="#0000ff" fill-opacity="0.114" fill-rule="evenodd"/><path d="M89 279.7l2.3-.8 2 .3 1 .5 1.5 2 .9 3 .4 5.9-.8 20.9 1.5 9 0 8.9 .5 5-.2 3-.6 1-1.1 1-2.6 1-3.5 .3-3-.2-2.7-1.1-1.6-2-.3-2 .1-24.9-.3-5.9 .3-10 1-5.9 1.1-4 1.8-3z" fill="#0000ff" fill-opacity="0.179" fill-rule="evenodd"/><path d="M88.9 280.7l2.4-.9 2 .4 1 .7 1.4 2.8 .8 5.9-.6 12-.9 9.9 .5 6 .7 4 .8 13.9-.5 2-1.2 1.3-2 .9-3 .3-2-.1-2-.6-1.1-.8-.9-2-.5-14.9 .2-5-.8-11.9 .2-9 1.2-7.9 1.7-4.4z" fill="#0000ff" fill-opacity="0.266" fill-rule="evenodd"/><path d="M89 281.7l1.3-.7 2 0 1 .5 1 1 1 2.8 .4 4.3-.8 12-1.5 11.9 1.7 19.9-.1 2-.7 1.9-1 .8-1 .4-2 .2-2.4-.3-1.1-1-.4-1-.9-10 0-9.9-1.4-10.9-.2-4 .2-7 1.2-6.9 1.7-4z" fill="#0000ff" fill-opacity="0.383" fill-rule="evenodd"/><path d="M89.6 282.7l1.7-.5 1 .3 1 .8 1 2.4 .5 4.9-.5 7.5-1 6.5-2 7.7-1 2.7-1 1.6-2-2.9-2-7-.6-8.1 .6-7 1-4.2 1.3-2.7zM89.1 318.5l.2-.7 .6 1.7 0 1-.6 1.2-.5-1.2zM89.1 327.4l.2-.5 1 .8 .9 2.7 .1 2.5-.2 .5-.8 .4-1-3.8z" fill="#0000ff" fill-opacity="0.517" fill-rule="evenodd"/><path d="M89.1 284.7l1.2-.7 1-.1 1 .6 1 1.8 .5 4.3-.5 7.5-1 5.5-1 2.9-1 1.8-1 .8-1-.2-1-1.2-1-2.5-.6-6.6 .6-7.4 1-3.7 1-1.9z" fill="#0000ff" fill-opacity="0.714" fill-rule="evenodd"/><path d="M91.2 281.9l1.8 .3 1.3 1.2 .7 1.5 .6 4.5 .1 6-1.5 9.1-1.4 6-2.2 6-.6 .9-1.5 1.2-1.5-.2-.2-.4-.8-1.5-1.3-4.5-.8-12 .7-9.1 .5-1.5 1.2-3 1.9-3 1.8-1.3z" fill="#fff" fill-rule="evenodd"/><path d="M89.5 283.4l.5-.4 1.5-.3 1.5 .7 1.1 1.5 1 4.5 .1 4.5-1.2 9.1-1 2.9-.6 3.1-2.4 5.3-1.5 2-1.5-1-1.2-3.3-1.3-7.5-.1-4.5 .6-7.6 .7-3 .5-1.5 1.8-3z" fill="#ffa500" fill-opacity="0.070" fill-rule="evenodd"/><path d="M89.8 284.9l1.7-.5 1.5 1.3 .4 .7 .8 3 0 6-.6 4.6-1 4.5-1.7 4.5-.9 1.4-1.5 1.5-1.5-1.9-1.2-4-.4-3 .1-4.5 .5-7.6 1.3-3 1.2-1.8z" fill="#ffa500" fill-opacity="0.075" fill-rule="evenodd"/><path d="M89.6 286.4l.4-.5 1.5-.1 1.5 1.9 .6 1.7 .1 4.5-1.3 9.1-2.4 4.7-1.5 .9-1.5-1.7-.8-2.4-.3-7.6 .8-6 1.4-3z" fill="#ffa500" fill-opacity="0.105" fill-rule="evenodd"/><path d="M89 287.9l1-1 1.5 .1 .8 .9 .6 1.5 .2 3-1 9.1-1.1 3-1 1.4-1.5 .7-1.5-2.1-.5-7.6 .8-6 .5-1.5z" fill="#ffa500" fill-opacity="0.143" fill-rule="evenodd"/><path d="M90 287.9l1.5 .1 .8 1.4 .3 3-.1 3-.7 4.6-.9 3-.9 1.6-1.5 .5-.5-.6-.4-1.5-.5-7.6 .7-4.5 .7-1.5z" fill="#ffa500" fill-opacity="0.197" fill-rule="evenodd"/><path d="M89.4 289.4l.6-.7 1.5 .5 .6 1.7 0 3-1.5 7.6-.6 1.4-1.5 .1-1-6.1 .1-1.5 .8-4.5z" fill="#ffa500" fill-opacity="0.283" fill-rule="evenodd"/><path d="M89.3 290.9l.7-1.1 1.3 1.1 .2 1.5-.2 3-1.3 5.1-1.5-1.5-.4-2.1 .2-3z" fill="#ffa500" fill-opacity="0.421" fill-rule="evenodd"/><path d="M89.6 292.4l.4-1.1 .7 2.6-.7 3.9-1.1-.9-.3-1.5z" fill="#ffa500" fill-opacity="0.682" fill-rule="evenodd"/><path d="M88.2 281.9l1.8-1.1 1.5-.1 1.5 .6 .7 .6 .9 1.1 .7 1.9 .3 4.5-.2 6-1.4 9.1-2.4 6-.8 3-.8 1.6-1.5 1.4-1.5 0-1.5-3-1.5-7.5-.3-4.5 .7-10.6 .7-3 .9-3z" fill="#fff" fill-rule="evenodd"/><path d="M87.8 283.4l.7-.8 1.5-.7 1.5 0 1.5 .7 1.5 2.3 .7 4.5-.4 6-1.1 7.6-1.5 4.5-2.3 4.5-1.4 1.8-1.5-.9-.5-.9-1.9-6-.3-4.5 .7-10.6 .5-1.3 .5-3.2z" fill="#0000ff" fill-opacity="0.070" fill-rule="evenodd"/><path d="M89.9 283.4l1.6 0 1.5 1 1 2 .3 3-.2 6-1.8 9.1-.8 1.6-1.5 2-1.5 .7-1.5-1.3-1-1.5-.7-3-.2-3 .8-9.1 .7-3 1.4-3z" fill="#0000ff" fill-opacity="0.075" fill-rule="evenodd"/><path d="M89.4 284.9l.6-.5 1.5 0 1.7 2 .6 3-.2 4.5-.9 6.1-1.4 4.5-1.3 1.8-1.5 .3-1.5-1-1-2.6 0-7.6 .5-4.5 .9-3 .6-1.5z" fill="#0000ff" fill-opacity="0.105" fill-rule="evenodd"/><path d="M89.1 286.4l.9-.9 1.5 0 .8 .9 .6 1.5 .2 3-.2 4.5-.8 4.6-1.7 4.5-.4 .5-1.5 .3-1-.8-.8-1.5-.3-3 .1-4.6 1-6 .5-1.5z" fill="#0000ff" fill-opacity="0.143" fill-rule="evenodd"/><path d="M88.9 287.9l1.1-1.3 1.5 .1 .8 1.2 .3 1.5 0 4.5-.8 4.6-1.4 4.5-.4 .6-1.5 .5-.9-1.1-.4-1.5-.2-6.1 .6-4.5z" fill="#0000ff" fill-opacity="0.197" fill-rule="evenodd"/><path d="M89.9 287.9l.1-.2 1.5 .4 .5 1.3 0 6-2 6.4-1.5 .8-.7-2.6-.3-4.6 .6-4.5 .7-1.5z" fill="#0000ff" fill-opacity="0.283" fill-rule="evenodd"/><path d="M89.7 289.4l.3-.5 .9 .5 .6 1.5-.2 4.5-1.3 4-1.5 0-.5-4 .5-3.5z" fill="#0000ff" fill-opacity="0.421" fill-rule="evenodd"/><path d="M89.8 290.9l.2-.4 .3 .4 .4 3-.1 1.5-.6 1.8-1.4-1.8z" fill="#0000ff" fill-opacity="0.682" fill-rule="evenodd"/><path d="M91.2 281.9l1.8 .3 1.3 1.2 .7 1.5 .6 4.5 .1 6-1.5 9.1-1.4 6-2.2 6-.6 .9-1.5 1.2-1.5-.2-.2-.4-.8-1.5-1.3-4.5-.8-12 .7-9.1 .5-1.5 1.2-3 1.9-3 1.8-1.3zM89.8 284.9l1.7-.4 1.5 1.2 1.1 3.7 .1 4.5-.9 7.6-.7 3-1.7 4.5-.9 1.5-1.5 1.5-1.5-1.9-1.1-4.1-.5-3 .1-4.5 .4-6.1 .7-3 1.9-3.3zM89.9 287.9l1.6 0 .8 1.5 .3 4.5-1.1 7.6-1.5 3.2-1.5 .6-.6-.8-.4-1.5-.4-7.6 .7-4.5 .7-1.6zM89.9 290.9l.3 0 .5 1.5 .2 1.5-.9 4.6-1.5-1.6 0-2z" fill="none" stroke="#ffa500" stroke-width="1.3"/><path d="M88.2 281.9l1.8-1.1 1.5-.1 1.5 .6 .7 .6 .9 1.1 .7 1.9 .3 4.5-.2 6-1.4 9.1-2.4 6-.8 3-.8 1.6-1.5 1.4-1.5 0-1.5-3-1.5-7.5-.3-4.5 .7-10.6 .7-3 .9-3zM90 283.4l1.5 0 1.5 1.1 .9 1.9 .3 3-.1 4.5-.8 6.1-1.1 4.5-.7 1.5-1.5 2-1.5 .7-1.5-1.2-.9-1.5-.7-3-.2-3 .6-7.6 .9-4.5 1.4-3zM88.7 287.9l1.3-1.5 1.5 .1 .8 1.4 .3 3-.2 4.5-.9 4.6-1.5 3.8-1.5 .5-1-1.3-.5-1.5 0-6.1 .6-4.5zM89.4 290.9l.6-1.1 .8 1.1 .1 4.5-.9 2.5-1.5-.9-.1-1.6 .1-1.5z" fill="none" stroke="#0000ff" stroke-width="1.3"/></g><g clip-path="url(#c21)"><g mask="url(#mo)"><path d="M193 274.7l1.2-.6 2-.3 9 1.7 8.9-.9 7 .1 2 .4 2.9 1.6 2 .2 1.5-.2 4.5-1.6 2 .3 2 1.3 1 0 2-1.5 2-.4 1.9 .3 3 1.4 2 .6 3 1.8 1 .4 3 0 3-1.3 0 3.5-2 0-.3 .2-.7 .8-.4 2.2 1.4 5.3 1 1.2 1 .4 0 50.8-99.6 0-1.6-2-.9-2-.4-2 0-3-.3-1-3.3-5-.2-1 3.6-4.9 .3-1-.2-1-1.7-3-.5-2 .3-1 2-2 .5-1 .2-2-2.5-2.9-.1-1 .9-3-.5-2 .3-1 1.7-1 1.6-4 .1-2-.6-4.9 1.4-5.8 1-1.2 5-1.2 .4 .2 .3 1-.4 3 .2 1 1.1 1 1.4 .2 .9-.3 1.2-.9 .3-2 .5-1 2-1.9 1-.3 4 .2 1-.6 2-2.5 1-.6 1-.1 2 .4 2.9 2.1 1-.4zM149.5 305.6l0-.8 .8 .8 .4 1-.2 1.4-1 1zM149.5 334.4l1.9 .6 1.1 1.4 .2 1-.7 2-1.3 1-1.2 .3z" fill="#ffa500" fill-opacity="0.024" fill-rule="evenodd"/><path d="M194.4 275.7l1.8-.4 1 .2 4 1.8 4 0 2.9-1 2-.3 10-.1 2 .2 4.9 1.8 3 .1 3.6-.3 .4 .1 1.2 1.9 4.8 3.7 1-.7 .3-1 0-3 .4-1 1.3-.7 .9 0 3 1.9 2.1 .8 1.2 1 .5 1 0 1-1.8 1-.6 1 0 1 1 3 .3 1.9 1.3 .7 1-.1 .9-.6-1.2-6.9 .3-.4 1-.2 .5 .6 .7 3 .9 2-.1 1.1-.7 .8-.2 1 5.9 1.7 0 48.8-3.4 .3-79.5 0-2.7-.8-5.9-.5-5 .7-2-.6-1-.7-.9-1.1-.7-2-.1-5-1.6-3-.3-2 .4-1.9 1.9-4 0-2-1.4-4 .2-1 1.5-2.5 1.5-4.4 .1-1-.5-3 .9-1.3 2.6-1.7-.4-1-2.2-1.7-.6-1.3 .1-1 1.7-3-1.9-3.9-.1-2 .4-1 1.4-1.7 1-.2 3 2.2 2 1.1 5.9 .8 1-.1 2.1-1.1 1.9-3 2.8-1 3.2-2.4 3.9 0 3-3zM177 282.7l.3-.3 .8 .3-.8 .3z" fill="#ffa500" fill-opacity="0.028" fill-rule="evenodd"/><path d="M195 277.7l1.2-.2 .6 .2 1.4 2.2 1 .6 2-.3 7.9-2.9 3-.4 9 .2 9.3 2.6 2.6 2.1 2.4 .9 1 1 .3 1-.5 4 .8 .9 3 .5 3 3.1 6.9 2.6 3.7 2.8 1.2 4 1.1 2.1 1 1.7 1 .3 .9-.1 .6-1-.9-2-1-6 .4-1 2-.9 0 45-12 1.4-4.9-.3-6 .6-40.1 0-9.6-.5-4-.6-4 .4-4.6-1.3-3.4-.1-3.9-.6-4 .6-1-.2-1.2-.7-.7-1-.4-2 .4-4-1.4-3-.1-1 1.8-6.9 0-1-.9-3 .1-2 2.4-4 1-1 1.8-1 .9-1 .4-.9-.1-2.3 2 .3 1-.5 1-1.5 .5-2 .6-1 3.3-3 1.5-1.7 1-.9 3-1.1 4-.1 1-.7 .3-1.5-.3-3 1-.8 3.9-1 1.9-1.1 .6-1 0-1-1-2 0-1 .5-1z" fill="#ffa500" fill-opacity="0.041" fill-rule="evenodd"/><path d="M207.9 278.7l3.2-.9 9 .1 2 .3 6.9 2 1.8 1.5 1.2 1.7 1.5 1.3 .5 1 .2 6.9 .8 3.1 1 .7 1-.3 1-.9 1 .4 .5 1 1.5 .9 2.9-.2 3 .3 2 .8 1 1.2 .4 1-.1 1-2.7 2-.6 1-.3 3 .3 .9 .9 1 1.1 .5 1-.2 3-2.1 1 .1 3 2.1 3 0 0 3.9-1.5 .7-.7 1-.2 1 .2 1 .9 1 1.3 .4 0 20.5-2 .1-3 .7-7 .8-4.9-.2-9 1-6-.4-4.9 .9-5-.4-11 .3-19.8-1.3-4-.6-4 .3-4-1.4-4-.1-3.9-1-4 .3-1-.7-.3-1.3 2-5 0-1-.6-1-1.6-1-.2-1 1-3.9 .1-3-1.3-3 .2-1 .6-1 3.1-2.5 1-.2 3 .9 .6-.2 .5-1-.7-2 .4-2 2.1-2.9 2.8-2-.4-2 .3-1 2.3-2.8 4-2 1-.2 2 .1 1-.3 1.5-1.8 1.8-4 3.6-2.4 4.9-4.5zM169.4 323.3l-2.5 1.2-1.3 1 .3 .9 2.5 .4 1.1-.4 .7-.9 .1-1zM179.3 306.5l-.2 .1-.1 1 .4 .9 .9 1 1 .2 .7-1.2-.3-.9-1.4-1z" fill="#ffa500" fill-opacity="0.056" fill-rule="evenodd"/><path d="M210.4 278.7l1.7-.2 9 .3 5.9 1.6 2.4 1.3 1.3 2 1.6 4 .1 2.9-.8 4 0 2 2 3 1.4 3 4 2 2.5 2 2.1 4.9 .3 4 1.2 2 .8 1 2 1 2 .4 1-.5 1-1.2 1-.5 .8 .8 0 1-.4 1-1 1-.1 1 .7 .6 2.4-.6 1.6-1.4 1-.3 2 .1 0 2.8-2-.1-.8 .9 .6 2.9-.1 1-1.9 4 .2 1.2 1 .6 3-.9 0 4.1-2-.2-1 .2-1.2 1-1.8 .8-6 .9-4.9-.3-8 1-6-.2-5.9 .8-5-.3-11 .3-19.8-1.4-4-.8-4 .3-1-.3-3-2.1-1-.2-2 .3-1-.2-1-.6 0-1 .9-2 1.1-5-.3-4.9-1.3-4 .4-1 1.2-.2 3 .6 1-.4 1-5.3 1-.6 3 .7 1-.2 1-.9 1-2.6 .1-2-.3-1-.8-1.5-2-1.5-.3-1 .3-1.4 1-.7 1 .3 1 .8 1 0 1-1 1-5 2.3-4 1.7-2 6.4-5.9 5.5-2.4zM241.9 303.6l1.1-.3 .9 1.3-.1 1-.8 .9-1.3-.9zM168.1 330.4l.6 0 .1 1-.4 .8-.4-.8z" fill="#ffa500" fill-opacity="0.074" fill-rule="evenodd"/><path d="M209.4 279.7l2.7-.5 8 0 6.9 2 1.9 1.5 1.3 3 .6 3.9-.6 2-1.6 3-.4 2 .8 2.2 2 2.3-.3 3.5 .3 1.4 1 1.3 3 .8 4 2.5 .9 .9 .4 1-.5 4 .6 2 2.3 2 4.2 1.5 1.6 1.5 .3 1-.3 1-.6 .5-3.2 .4-.9 1-.3 1 .1 1 1.3 .9 1 .1 4-.3 1.6 .3 1.9 5 .1 1-.3 1-4.3 1.5-2 .1-3.9-.6-8 1.6-4-.3-7.9 1.1-5-.4-11.9 .3-15-1.2-4.9-.8-3-1.1-4-.1-4.3-4.1 0-1 1.6-2 .1-1-1.5-3 .1-1.1 1-.3 2 .1 2 .9 1-.2 1-2 .7-4.3 1.7-5 1.6-5.8 .7-4.1 1.3-4 .6-5 1.6-3 1.5-2 6.2-6.2 4-2.1zM253.6 328.4l.3-.4 .2 .4-.2 .2z" fill="#ffa500" fill-opacity="0.101" fill-rule="evenodd"/><path d="M208.8 280.7l9.3-.3 4.7 .3 1.3 .8 1.8 .2 2.3 2 .6 5-.5 1.9-2 4 .2 8-2 3-.4 2 .3 .9 .7 .6 .9 .4 1 1-.4 3 2.4 1.9 .9 1.1 .4 2 1.8 4 .9 .9 3 .7 .5 .4 1 1.9 2 2 .6 2 .2 4-.3 1.4-1 1.6-3 1.1-2 0-2-.7-1 .1-1 .6-3 .2-1.9 .8-18 .1-4.9-.2-8.9-1-3.7-1-.9-1 .5-.9 2-.3 1.3-.8-.3-.5-1-.7-2 .1-1-.5-1.1-2.4-1.8-2.3-.4-1.7 .3-.9 1.3-2-.1-3 .4-1 .9-1 .9-2 0-1-.5-1-.4-2 .4-4 .8-2.9 .3-3 .7-1 .3-5 .6-1 .4-2 6.9-7.9 1.2-1 .9-.2 1-.9 1-.1 1-.8 2-.3 1-.8 1.9-.3z" fill="#ffa500" fill-opacity="0.072" fill-rule="evenodd"/></g><path d="M209.7 280.7l.4-.3 2-.3 8 0 4 1.1 1.9 1 1.6 1.5 .7 2-.1 3-2.2 5.9-.3 6-2.6 5.2-1 2.7 0 3 .8 2 3.1 4 1.5 3 2.3 2 1.6 2 2.8 1.9 1.3 2 2.5 1.2 .6 .8 .1 2-.3 3-.4 1-1 .8-2 .3-2-1.5-1 .1-3 1.9-5.9 1.5-4-.4-12 .7-3.9-.9-5-.1-3.5-1.4-.4-1 .5-2-.3-1-1.3-1.2-3-1-.9-.8-1.8-3-.1-1 1.1-2.9 .1-4 .8-3-.1-2-.7-3 .2-3 1.7-8.9 .5-4 .7-2 6-6.9 2.5-2.4 6.9-3.1z" fill="#ffa500" fill-opacity="0.055" fill-rule="evenodd"/><path d="M212 280.7l6.1-.2 4 .7 3.9 1.8 1 1.3 .4 1.4-.1 3-2.2 6.9-.4 4-4 8.9-1 8 .4 .6 1-.3 1 .2 1 .7 1 1.5 .7 2.3 2.2 3.1 .8 .9 3.1 1.9 .4 1-.3 1.1-2 2.8-3-.1-.9 .6-.4 .6 1.3 .8 2-.2 1 .3 0 1.1-.6 1-4.3 2-16 .6-1.9-.2-3-.9-3 .2-2-.3-1-.4-.7-1-.1-3-.6-1-3.6-4-1.4-2-.3-.9-.4-6 .4-4-.8-7 2.1-12.9 .7-2 5.9-6.9 1.8-1.7 6-2.8 2.9-1z" fill="#ffa500" fill-opacity="0.069" fill-rule="evenodd"/><path d="M209.6 281.7l2.5-.5 5-.2 4 .6 2.7 1.1 1.4 1 .7 1 .4 2-.3 2.9-2.4 9-1.9 5-2.3 4-1 2.9-1.6 3-.9 3-1.7 4 0 1 .9 1.7 1.6 .3-2.6 .3-1 .6-.6 1.1-.2 1.9 .2 6 .6 1.6 1.1 1.4-3.7 1-2.4 .2-1.1-.2-.8-1-.3-2-.7-1.2-1 .1-3 2.7-1 .2-1.2-.8 .2-3-2.4-3-1.6-4.9-2.1-2-1.2-2-.3-2 .1-4-.7-6 .5-5.9 1.3-7 .8-2 6.9-7.9 4.7-2.6zM216.9 324.5l.2-.5 .1 .5-.1 0zM218.9 329.4l1.2-.2 1 .5 .5 .7-.5 1.6-1 .4-1-.7-.6-1.3z" fill="#ffa500" fill-opacity="0.114" fill-rule="evenodd"/><path d="M208.6 282.7l3.5-.7 5-.2 3 .5 2 .8 2 1.6 .4 1 .3 2-.3 2.9-3.9 12-6.1 9.9-.9 3-1.1 2-1.4 1.4-3.3 1.6-.8 1-.7 2-1.1 .9-2 .5-2 0-1-.7-1.8-2.7-3.2-.9-1.2-1.1-1.2-10-.1-5.9 .3-2 1.4-7 2.1-3 4.7-5.3 4-2.3z" fill="#ffa500" fill-opacity="0.179" fill-rule="evenodd"/><path d="M208.4 283.7l3.7-.7 4-.3 2 .2 2.2 .8 1.4 1 .7 1 .7 2 0 2.9-1 3.8-3 7.8-5 7.3-5.4 7-4.5 2.7-1 .4-1 0-4-2.1-1-1.2-2.1-6.8-.6-5.9 .2-2 1.1-6 .8-2 1.5-2 4.4-4.9 3.4-2z" fill="#ffa500" fill-opacity="0.266" fill-rule="evenodd"/><path d="M209.2 284.7l5.9-.8 3.3 .8 1.3 1 1.3 2 .5 1.9-.2 2-1.2 3.6-2.8 6.4-5.2 7.1-3 3-2.9 2.3-2 1-2 0-1-.5-1-1.2-2.3-3.8-.8-1.9-.3-6 .8-6 1.5-3 4.1-4.8 3-1.9z" fill="#ffa500" fill-opacity="0.383" fill-rule="evenodd"/><path d="M212.7 285.7l1.8 0 1.6 .4 2.1 1.6 .9 1.9 .1 1-1 4-4.1 7.3-4 5.1-2 1.6-1.9 1-2 .3-1-.2-1.9-1.2-.8-.9-.8-2-.5-6 .2-3 .6-2 2.2-3.1 3-3.1 3.2-1.7z" fill="#ffa500" fill-opacity="0.517" fill-rule="evenodd"/><path d="M208.9 288.7l3.2-.8 3 .8 .8 .9 .4 1-.2 2.1-1.1 2.9-3.9 5.5-4 3.7-1.9 .7-1-.2-1-.7-1-2.1-.4-4.9 .3-2 1.1-2 2-2.3 1.9-1.7z" fill="#ffa500" fill-opacity="0.714" fill-rule="evenodd"/><g mask="url(#mb)"><path d="M213.9 273.7l2.2-.5 4 .1 3 .7 4.9 .3 7 1.5 3 .2 1.6 .7 2.4 2.4 1-.1 1.6-1.3 2.3-.7 6 .1 1 .4 .8 1.2 .3 2 .5 1 2.4 .7 2 1.4 0 58.6-95.6 0-1.9-.6-3-1.8-1.4-1.6-.9-2 .2-3-1.3-4 1-3.9-.4-3 .4-2-1-4 2.9-7-.4-3.9 .1-4-.3-1-.9-.7-2-.6-.7-.7 .2-1 .5-.8 1-.6 1-.1 3 1.1 2 .2 1 0 .7-.8-.8-2-2.9-2.3-.5-1.7 .2-1 1.3-2.1 1-.7 1 0 2 1.1 1.8-.2 .4-1-1.4-3-.2-1 1.7-4 1.7-1.2 1.9-.1 .6 .3 .2 1-.8 2 .9 1 2.1 .4 .9-.4 .9-2 2.2-2.2 3-1.1 3-.1 3.9-1.6 2 0 5 1.6 1 .1 3-.4 7-1.9 4.9 .3zM159.8 282.7l.6-.2 .2 .2-.2 1.1-1.1-.1z" fill="#0000ff" fill-opacity="0.024" fill-rule="evenodd"/><path d="M215 274.7l4.1-.2 4.7 1.2 7.2 .5 6 2.1 1 .6 1.1 1.8 1.2 1 5.8 1 .8 1 .4 3 .5 1 1.1 1 2-.2 5-2.5 1-.1 1 .3 2 1.3 0 54.9-79.7 0-2.9-.9-5-.5-3.9 .5-3-.4-3-1-2-1.3-1.5-2.4-.3-4-.9-3 1.2-3.9 .5-4.3-.9-4.7 2-6 .2-2-.6-2.9 1.3-4.4 1-.7 2 0 1-.5 1.8-2.4 0-1-1.7-3-.2-1 .3-1 .8-.5 2-.5 1.9 .5 1 .8 2 2.8 1 .2 1-.7 2.3-3.6-.2-1-1.1-1.2-2-1.1-2-.4-1-.8-.3-.4 .2-1 1.1-.3 1 .2 2 1 1 .1 2-.5 1 .1 2 1.4 1 0 1.6-1-.2-4 .6-.8 1-.6 3.9-.1 4.2 .5 1.8-.7 3-1.8 7-2.8 1.9-.2 4 .5zM243 291.4l-.2 1.2 1.1 1.2 1 .2 1.8-.4 .3-1-.8-1-2.3-.4z" fill="#0000ff" fill-opacity="0.028" fill-rule="evenodd"/><path d="M204.7 276.7l2.4-.4 4 .4 4-.8 4-.1 4 1.1 6.9 .8 2 .6 1.6 1.4 .7 5 1.8 3-.2 1.9 .4 1 2.7 1.4 1.6 1.6 .9 2 .5 3.2 1 .7 2.9 .1 1 .5 3-1.3 2 .2 2.8 1.6 2.2 3.3 .8 .7 2.2 .4 0 35.9-5 .7-4-.6-6-.2-6.9 1.2-4-.2-10.8 .6-34-.1-7.9-1.1-3-.9-3-.1-3-.6-3.9 .7-2-.2-3-1.1-2.3-1.6-.9-2-.1-3-.6-3 1.3-3.9 .7-5-.7-4 3.1-8 4.5-4.7 2.9 2.6 1-.6 1-2.1 1-.8 1 0 2 1 1 .1 1-.6 1-1.8 .6-3-.7-4 .2-1 1.9-3.2 5.9-3.8 1.1-.9 .9-2.5 .8-.5 4.2-1 3-1.8zM256.8 288.7l1.1 .2 1.8 1.7 .2 2.9-3-.1-1.6-.8-.4-.6-.2-1.4 .3-1 .9-.7z" fill="#0000ff" fill-opacity="0.041" fill-rule="evenodd"/><path d="M204.9 277.7l2.2-.4 4 .1 4-.6 3 0 12.1 2.9 1 1 .2 1-.4 5.1 2.5 4.8 .5 2.8 1 .2 2-.4 1.3 .4 .5 1 0 2 .9 3 1.5 2 1.8 3.5 .9 1.1 1 .5 3.1-.1-.5 1.9 2.7 3 1.7 3.1 2 .6 2 .1 1.6-.8 .4-1-.3-1-1.5-4 .8-1.3 3-.3 0 22.4-2 .1-3-1.9-1.2-.1-.6 1 1.8 1.9 3.9 3.1 1.1 .3 0 4.7-5 1.2-4-.7-5-.3-2.9 .3-5 1.1-4-.2-9.9 .5-4 .6-11-.6-11.9 .7-9.9-1-5-.9-3-1-4-.1-3-.9-2.9 .9-2 .1-2.4-.7-2.5-2-.6-1-.1-1 .6-2.2 1-.5 2 .2 .7-.5 1.5-4 0-1-.7-.9-2.5-1-.6-1 0-1 .5-1 1.1-.6 4 .1 .9-.6 2.9-4.9 .5-2 2.6-1.7 1-1 1.6-3.2 2.9-4 1.5-3 .7-5 4.4-5 4.1-5.9 1.2-1z" fill="#0000ff" fill-opacity="0.056" fill-rule="evenodd"/><path d="M214.7 277.7l2.4-.1 3 .5 5.2 1.6 3.5 2 .4 1 .9 8.9-2.1 4-.1 1 .3 1 .8 .9 2.9 2.1 .2 1-1.4 2 1.3 5.5 1 1 2 1.3 1-.2 0-.7-.8-2-.1-.9 .9-2.6 1-.9 1 .1 2 1.4 1.4 2.9 .3 5 2 3 2.7 3 .4 1-.1 3 1.2 .8 3.5 .2-.6 1-.9 .2-1 .7-.5 1-.1 1 .6 1 2.6 2 5.1 5 .6 1-.2 1-1.1 .8-2 .2-4-1.2-4-.3-2 .2-5.9 1.8-4-.2-13.9 1.4-11-.5-11.9 .5-9.9-1-4.8-1.7-3.2-1.9-3 .5-1-.1-2-1-3-.5-.8-1-.3-2 .6-2 4.3-4 3.1-1.9 .4-4 6.7-7.1 1-1.4 .4-2.5-1-3.9 1.6-4.2 1.6-6.8 2.3-2.8 1.3-3.1 2.1-3 1.6-1.5 9-5.1 2.9-.8zM251.2 319.5l.7-.5 1-.2 1 .7 0 1-1 1-1-.1-.8-.9zM259.4 319.5l.5-.3 0 3.8-1.3-1.5 0-1zM166.7 336.4l.7-.5 1 0 .3 .5-1.3 .3z" fill="#0000ff" fill-opacity="0.074" fill-rule="evenodd"/><path d="M212.2 278.7l4.9-.4 5 1.2 3 1.3 1.9 1.8 .6 1.1 .6 4-.1 1.9-.5 2-1.6 3-.5 3 .4 2 1.3 2 .1 1-.4 3 1.6 2 .5 3.1 1 .8 2 1 1.9 2 .8 4 .5 1 .8 .8 1 .4 4 .1 1 .4 .7 1.3 1 3.9 .2 1-.5 3 .7 3-.1 1-1.8 2-2.9 2-1.3 .2-3-.3-5 1.1-8.9 .9-12-.4-11.9 .5-8-1-1.9-.6-2.2-1.4-3.2-3-.2-1 .6-.7 3-1.7 .6-2.6-.6-2-3.1-2.9-.4-2 1.5-3.9 3-3.7 1-2.2 .1-2.2-.6-2.9 .2-2 2.6-9 1.6-3 1-3 3-4 7-4.6 4-1.7z" fill="#0000ff" fill-opacity="0.101" fill-rule="evenodd"/><path d="M209 279.7l7.1-.2 3.5 .2 .5 .5 2.3 .5 .7 .6 1 .3 1 1.1 .3 1 .8 1 0 5.9-.8 1-1.1 3-.2 2.3-.7 1.7-.1 5-.8 2-.5 2.9 .4 6 .2 1 1.5 1.5 1.9-.1 1-.6 2-.5 .9 .7 .6 2 1.6 2 1.5 3 1.4 2 1 5.9 0 2-1 1.9-3 2.2-2 .3-1.1 .6-5.8 .3-2 .6-4-.7-8 0-2 0-2.9 .8-2-.3-4 .4-5.9-1.1-1.8-1-.3-.5-.1-3.5-1.2-3-.3-4-1.7-3.9 0-1 1.2-3 .4-3 1.1-4 .1-2-.7-1.9 .1-4 .8-2 .3-3 .6-1 .3-2 .8-1 .3-1.4 .6-.6 .4-2.3 1.8-2.6 2-2 2.2-1.2 2-1.8 1-.3 .7-.7 1.3-.3 1-.8 2.9-.3z" fill="#0000ff" fill-opacity="0.072" fill-rule="evenodd"/></g><path d="M212 279.7l2.1-.5 3 0 4 1.2 2 1 1 1 1.4 2.3 .4 3-.2 1.9-1.8 5-1.7 8-1.7 5-.1 1.9 .6 6 .3 1 1.8 2.6 1 .7 2.2-1.3 1.7-.3 2.1 2.3 1 2 .2 2-.3 .7-1-.6-2 .1-.7 .8-.2 .9 .9 1.3 1 .3 2-.2 .7-.4-.2-1.9 .5-.2 .6 1.1-.2 1 .3 1 1.3 1.8 .4 1.2 0 2-1.2 2-2.2 1.4-2 .8-5.9 1.1-3 .1-4-.9-4 .5-4 0-2.9 .5-6 0-4-.4-2.4-1.1-.6-1-.1-4-1.9-3.4-.8-3.5-.1-4 1.9-5-.5-3 0-4-1.2-3.9 1.4-8 2.7-7 3-3.9 1.6-1.5 4-2.9 2-1 3.9-1.2z" fill="#0000ff" fill-opacity="0.055" fill-rule="evenodd"/><path d="M208.1 280.7l7-1 3 .3 4 1.7 1.3 1 1.2 2 .4 2-.2 2.9-3.3 11-3.9 7.9-1.5 1.9-1 2.1 0 6 1 .6 2-.3 2 .4 2 4 2 1.5 1.9 4.6 3.3 3.1 .4 1-.1 1-.6 1-1.2 1-1.8 .6-4.9 .8-1.8-.4-2.2-1.1-2-.4-4 1.3-3 .1-2.9 .7-7-.5-1.1-1.1-.2-3-.7-1.9-3-2.1-1-1.1-.8-1.9 .2-1.9 .8-2 .1-2 .9-4-1.1-7-1.3-2.9-.4-2 1.3-8 2.5-6 3-3.9 5.8-4.3zM215.1 322.4l-1 .4-1.1 1.7 .1 1.1 1 .4 1.9-.5 .6-1-.5-1.6z" fill="#0000ff" fill-opacity="0.069" fill-rule="evenodd"/><path d="M211.6 280.7l3.5-.4 2 .2 4 1.7 1.6 1.5 .6 1 .6 2-.1 2-2.2 7.9-1.5 4-4 6.1-2.1 3.8-.8 2-.4 3-.7 1.9-2 3.3-1.4 1.8-1.4 3.9-3.1 5.7-1 .5-2-1.1-3.3-4.1 0-1 2.3-.8 .5-1.1-2.5-2-.7-1-1.7-4-1.9-8-1.8-4.9-.1-2 .4-4 .5-2 2.2-5 3.5-4.9 5.8-4 3.7-1.4z" fill="#0000ff" fill-opacity="0.114" fill-rule="evenodd"/><path d="M210.2 281.7l4.9-.5 2 .2 2.5 1.3 1.8 2 .8 2 .1 2-.6 2.9-1.5 5-2.3 5-3.7 5-2.1 3.7-2 2.2-3.9 2.1-2 .7-5-.6-1-.6-1.7-2.6-2.7-6.9-.3-3 .8-5 4.9-9 5.4-3.9 2.5-1.2z" fill="#0000ff" fill-opacity="0.179" fill-rule="evenodd"/><path d="M210.7 282.7l4.4-.3 1.3 .3 1.7 1 1.5 2 .8 2 .1 1.9-.4 2-1.6 5-1.4 3-1.9 3-2.6 3-2 2.9-1.5 1.3-2 .8-1.9 .6-2-.1-4-1.7-1-.7-1-1.3-1-2.2-.7-2.6 .4-5 4.3-8.9 2-1.7 4-2.7 1.9-1z" fill="#0000ff" fill-opacity="0.266" fill-rule="evenodd"/><path d="M208.6 284.7l1.5-.5 3-.2 2 .4 1 .5 1 1 1 1.8 .3 1.9-.3 2-1.5 4-3.5 5.8-4 4.8-1 .7-1.9 .5-3-.1-2-1.1-2.1-2.6-.8-3 .1-3 .6-2 2.8-6 5-3.9z" fill="#0000ff" fill-opacity="0.383" fill-rule="evenodd"/><path d="M208.3 287.7l1.8-.8 1-.1 2.2 .9 1 1 .4 .9 .1 1-.2 2-1 2-2.2 3-2.3 3.9-1 1.1-1.9 1-2 0-1.5-1-1.1-2-.3-2 .2-2 2.2-5z" fill="#0000ff" fill-opacity="0.517" fill-rule="evenodd"/><path d="M206.1 283.4l5.3-1.4 1.5-.1 3.1 .6 3-.6 1.5 0 1.2 1.5 .4 1.5 1.7 3 0 1.5-1 3-.1 3-.4 1.5-1.8 2.3-1.5 3.8-3 6-1.6 1.5-1.3 3-1.7 1.2-3 1.4-1.5 1.7-1.5 .8-1.5 .1-3 .7-1.5-.5-1.5-1.1-2.6-4.3-.5-1.5 .3-4.5-1-3-.4-3 .2-1.5 1-1.3 1.5-3.2 .5-4.6 7-6.3z" fill="#fff" fill-rule="evenodd"/><path d="M210.1 283.4l1.3-.5 1.5-.1 3.1 1 3-.3 1.4 1.4 2 3 .3 1.5-1 3-.2 3-2.5 3.9-.6 2.2-1.1 1.5-3 3-1 3-1.9 2.2-1.9 .8-5.6 3.7-3 .1-1.5-1-2.4-2.8-.4-1.5 .2-1.5-.3-1.5-1.2-3 .2-3 .9-2 1.9-7.1 .7-1.5 2.8-3 3.6-3z" fill="#ffa500" fill-opacity="0.070" fill-rule="evenodd"/><path d="M210.1 284.9l1.3-.5 1.5 .1 6.1 2.7 .9 .7 1 1.5-.7 4.5-.6 1.5-1.2 1.5-1.7 4.6-4.4 4.5-.9 1.5-1.5 1.5-3 .6-1.5 1.1-4.5 .4-1.6-3.6-1.4-1.1-.9-1.9 .1-1.5 .8-2.4 .6-3.7 1.5-4.5 2.5-3 2.9-2.5z" fill="#ffa500" fill-opacity="0.075" fill-rule="evenodd"/><path d="M209.1 286.4l2.3-.9 1.5 .2 1.5 .7 1.6 .9 3 2.8 .3 .8 0 1.5-.5 1.5-1.4 1.5-1.2 4.6-2.4 3-3.9 3.4-3 .9-1.5 .9-1.5 .4-1.5-.4-2.4-3.7-.5-6 .3-1.6 1.8-4.5 2.5-3 1.3-1z" fill="#ffa500" fill-opacity="0.105" fill-rule="evenodd"/><path d="M208.3 287.9l1.6-1 1.5-.4 1.5 .2 1.5 .6 2.1 2.1 1 1.5 .2 1.5-1.6 3-.5 3.1-3.3 4.5-2.4 1.9-1.5 .8-3 1.2-1.5 .1-1.5-1.8-.9-2.2-.7-4.5 .3-1.6 1.1-3 2.1-3 1.1-1.2z" fill="#ffa500" fill-opacity="0.143" fill-rule="evenodd"/><path d="M209.7 287.9l1.7-.6 1.5 .3 1.5 .8 .9 1 .5 1.5-.8 6-.6 1.4-1.5 1.4-.9 1.8-3.4 3-3.2 1.3-1.5-.5-1.2-2.3-.1-3-.6-1.5 .1-1.6 1.3-3 2-2.9z" fill="#ffa500" fill-opacity="0.197" fill-rule="evenodd"/><path d="M208.8 289.4l1.1-.7 1.5-.4 1.5 .3 1.2 .8 .4 1.5-.4 4.5-.4 1.5-1.5 1.6-2 3-1.8 .8-1.5 1.5-1.5 .8-1.3-1.6 .4-1.5-.2-1.5-.9-1.5-.2-1.6 1.2-3 1-1.3 1.5-1.7z" fill="#ffa500" fill-opacity="0.283" fill-rule="evenodd"/><path d="M208.3 290.9l1.6-1.1 1.5-.3 1.5 .8 .4 .6-.4 4.6-3 2.9-1.5 .7-3-1.1-.8-1.1 0-1.5 .8-1.5z" fill="#ffa500" fill-opacity="0.421" fill-rule="evenodd"/><path d="M208.6 292.4l1.3-1.2 1.5 .2 .4 1-.3 1.5-1.6 .5-.7 1-2.3 1.5-1.3-1.5 1.3-1.8z" fill="#ffa500" fill-opacity="0.682" fill-rule="evenodd"/><path d="M205.7 281.9l2.7-.9 3-.6 9.1 .9 1.5 .7 1 1.4 1.7 4.5-.4 1.5-1.7 3-.4 3-.6 1.5-1.1 1.6-.5 1.5-2.8 3-1.2 3.5-.7 1-3.9 3.1-1.5 .1-1.5 .9-.6 1.9-.9 1.3-2.2 1.7-.8 1.5-1.5 .3-3-.8-4.5-4.7-1.9-3.8-1.1-3.8-1.1-2.2-.1-1.5 .6-1.5 2.1-2.3 1.4-2.3 .4-4.5 2.9-4.5 2.8-2.2z" fill="#fff" fill-rule="evenodd"/><path d="M205.7 283.4l2.7-1.1 3-.3 9.1 1.2 1.2 1.7 0 4.5-1.1 3-.5 3-1.1 1.3-1.3 3.3-1.7 1.9-1.6 3-3 2.7-3.1 1.4-2 1.5-.9 1.5-1.5 .5-3 1.7-1.5-.6-1.5-3.2-2.5-2.9-2.5-4.5-.1-1.5 2.6-4.6 1-2.7 .5-3.3 2.2-3 1.8-1.9 3-1.9z" fill="#0000ff" fill-opacity="0.070" fill-rule="evenodd"/><path d="M205.9 284.9l2.5-1 3-.5 3 .5 3.1 1.8 .9 .7 .6 1.5 .1 1.5-.6 4.5-1.9 4.6-2.4 3-1.8 3-1 .7-2.2 .8-2.3 1.5-4.5 1.1-1.5-.6-3.4-2-.9-1.5-.1-6 1.5-4.6 .6-3 4.7-4.5z" fill="#0000ff" fill-opacity="0.075" fill-rule="evenodd"/><path d="M209 284.9l2.4-.6 1.5 .2 1.5 .7 1.6 1.2 1.2 1.5 .3 1.5-.5 4.5-1.8 4.6-3.8 4.8-3 1.1-3 2.1-3 .1-1.5-.5-1.5-.7-.9-.9-.6-4.5-.1-1.5 1.7-4.6 .2-1.5 .7-1.5 3.5-3.2 1.5-1.2z" fill="#0000ff" fill-opacity="0.105" fill-rule="evenodd"/><path d="M207.8 286.4l2.1-.8 1.5-.1 1.5 .2 1.3 .7 1.2 1.5 .5 1.5 .2 3-.3 1.5-1.9 4.6-2.5 2.8-6 3.8-1.5 .2-1.5-.2-1.5-.6-.9-1.5-.7-3 0-1.5 .8-1.6 1.2-4.5 3.9-4.5z" fill="#0000ff" fill-opacity="0.143" fill-rule="evenodd"/><path d="M206.9 287.9l3-1.2 1.5 .1 1.5 .6 1.5 2.4 .4 1.1 0 1.5-1.4 4.5-2 2.7-4.6 3.4-1.4 .8-1.5 .2-1.5-.4-.6-.6-.4-1.5 .5-3-.2-3.1 .7-2.1 2.6-3.9z" fill="#0000ff" fill-opacity="0.197" fill-rule="evenodd"/><path d="M206.5 289.4l1.9-1.1 1.5-.2 1.5 .3 1.1 1 .6 1.5-.5 1.5 .2 3-1.4 2.5-1.5 1.3-4.5 2.9-1.5 .1-.6-.7 .8-3-1-1.6-.3-1.5 2-3 .5-1.5z" fill="#0000ff" fill-opacity="0.283" fill-rule="evenodd"/><path d="M206.8 290.9l1.6-1.1 1.5 .3 .7 .8 .9 4.5-1.6 2.1-1.5 .1-1.5-.5-1.5-.1-1.1-1.6 1.1-1.2z" fill="#0000ff" fill-opacity="0.421" fill-rule="evenodd"/><path d="M207.5 292.4l.9-.9 .9 .9 .8 1.5-.2 1.9-1.5 .2-1.3-.6-.3-1.5z" fill="#0000ff" fill-opacity="0.682" fill-rule="evenodd"/><path d="M206.1 283.4l5.3-1.4 1.5-.1 3.1 .6 3-.6 1.5 0 1.2 1.5 .4 1.5 1.7 3 0 1.5-1 3-.1 3-.4 1.5-1.8 2.3-1.5 3.8-3 6-1.6 1.5-1.3 3-1.7 1.2-3 1.4-1.5 1.7-1.5 .8-1.5 .1-3 .7-1.5-.5-1.5-1.1-2.6-4.3-.5-1.5 .3-4.5-1-3-.4-3 .2-1.5 1-1.3 1.5-3.2 .5-4.6 7-6.3zM209.7 284.9l1.7-.5 1.5 0 6.1 2.6 1.2 .9 .8 1.5-.8 4.5-.5 1.5-1.2 1.5-1.8 4.6-4.3 4.5-1 1.8-1.1 1.2-3.4 .9-1.5 1.1-3 .3-1.5 .6-1-1.4-.2-1.5-.7-1.5-1.1-.9-1-2.1 0-1.5 3-10.6 1-1.5 3-3 1.5-1.1zM209.3 287.9l2.1-.8 1.5 .2 1.5 .7 1.2 1.4 .6 1.5-1 6-.4 1.6-1.5 1.5-.9 1.5-3.2 3-3.8 1.6-1.5-.3-1-1.3-.5-1.5-.2-3-.6-1.5 .2-1.6 1.3-3 2-3zM208.5 290.9l1.4-.9 1.5-.2 1.5 .9 0 3.2-.3 1.5-1.2 1.3-1.5 .9-1.5 .6-1.5 0-1.5-.5-.5-.8-.1-1.5 .8-1.5z" fill="none" stroke="#ffa500" stroke-width="1.3"/><path d="M205.7 281.9l2.7-.9 3-.6 9.1 .9 1.5 .7 1 1.4 1.7 4.5-.4 1.5-1.7 3-.4 3-.6 1.5-1.1 1.6-.5 1.5-2.8 3-1.2 3.5-.7 1-3.9 3.1-1.5 .1-1.5 .9-.6 1.9-.9 1.3-2.2 1.7-.8 1.5-1.5 .3-3-.8-4.5-4.7-1.9-3.8-1.1-3.8-1.1-2.2-.1-1.5 .6-1.5 2.1-2.3 1.4-2.3 .4-4.5 2.9-4.5 2.8-2.2zM209.3 283.4l2.1-.3 3 .6 4.6 2.3 .6 1.9 0 1.5-.7 4.5-2 4.6-.8 1.5-1.5 1.5-1.7 3.1-6 3.4-3.8 1-.7 .5-1.5-.5-4.1-3-.7-1.5-.3-4.5 .4-1.5 1.5-4.6 .6-3 1.1-1.3 1.5-1.7 3-2.4 3-1.4zM209.3 286.4l2.1-.3 1.4 .3 1.6 1.5 1.1 3-.4 3-1.9 4.6-1.8 1.9-6 4-1.5 .2-1.5-.2-1.4-1.4-.6-3 1.2-6.1 1.6-3 2.2-2.5 1.5-1zM206.5 290.9l1.9-1.4 1.5 .2 1.1 1.2-.1 1.5 .8 3-.9 1.5-.9 .9-1.5 .1-3-.5-.6-.5-.9-1.3 1.5-1.9z" fill="none" stroke="#0000ff" stroke-width="1.3"/></g><g clip-path="url(#c22)"><path d="M262.8 339.9l0-.1 1.5 0 0-.2 1.5 0 0-.1 1.5 0 0-.3 1.5 0 0-.2 1.5 0 0-.8 1.6 0 0-1 1.5 0 0-1.2 1.5 0 0-1 1.5 0 0-.9 1.5 0 0-1.4 1.5 0 0-.8 1.5 0 0-1.2 1.5 0 0-3.5 1.5 0 0-3.3 1.5 0 0-3.9 1.5 0 0-3.6 1.5 0 0-3.5 1.5 0 0-5.2 1.5 0 0-6.7 1.5 0 0-8 1.5 0 0-9.5 1.5 0 0-8.8 1.6 0 0-7.6 1.5 0 0-4.7 1.5 0 0-6.3 1.5 0 0-7.2 1.5 0 0-5.4 1.5 0 0-5.2 1.5 0 0-4.2 1.5 0 0-2.6 1.5 0 0 1.2 1.5 0 0 7.6 1.5 0 0 11.1 1.5 0 0 17.7 1.5 0 0 16.3 1.5 0 0 15.2 1.5 0 0 16.4 1.5 0 0 10.7 1.5 0 0 8 1.5 0 0 4 1.6 0 0 .2 1.5 0 1.5 0 1.5 0 1.5 0 1.5 0 1.5 0 1.5 0 1.5 0 1.5 0 1.5 0 1.5 0 1.5 0 1.5 0 1.5 0 1.5 0 1.5 0 1.6 0 1.5 0 1.5 0 1.5 0 1.5 0 1.5 0 1.5 0 1.5 0 1.5 0 1.5 0 1.5 0 1.5 0 1.5 0" fill="none" stroke="#ffa500" stroke-width="1.3" stroke-linejoin="miter"/><path d="M294.35 234.46V339.86M305.05 234.46V339.86M313.03 234.46V339.86" stroke="#ffa500" stroke-width="1.2" stroke-dasharray="3.9 1.8" fill="none"/><path d="M262.8 339.9l0-.5 1.5 0 0-.4 1.5 0 0-.2 1.5 0 0-.2 1.5 0 0-.2 1.5 0 0-.7 1.6 0 0-.4 1.5 0 0-.8 1.5 0 0-.4 1.5 0 0-.5 1.5 0 0-1.7 1.5 0 0-1.2 1.5 0 0-1.7 1.5 0 0-1.5 1.5 0 0-1.7 1.5 0 0-1.7 1.5 0 0-1.9 1.5 0 0-2.3 1.5 0 0-3.7 1.5 0 0-5.6 1.5 0 0-5.1 1.5 0 0-6.7 1.5 0 0-10.6 1.6 0 0-12 1.5 0 0-9.4 1.5 0 0-9.2 1.5 0 0-4.8 1.5 0 0-5.6 1.5 0 0-3.5 1.5 0 0-1.9 1.5 0 0 2 1.5 0 0 .5 1.5 0 0 3.3 1.5 0 0 4 1.5 0 0 9.9 1.5 0 0 12 1.5 0 0 12.5 1.5 0 0 17.1 1.5 0 0 13.7 1.5 0 0 11.5 1.5 0 0 6.7 1.6 0 0 2.7 1.5 0 0 .2 1.5 0 1.5 0 1.5 0 1.5 0 1.5 0 1.5 0 1.5 0 1.5 0 1.5 0 1.5 0 1.5 0 1.5 0 1.5 0 1.5 0 1.5 0 1.6 0 1.5 0 1.5 0 1.5 0 1.5 0 1.5 0 1.5 0 1.5 0 1.5 0 1.5 0 1.5 0 1.5 0 1.5 0" fill="none" stroke="#0000ff" stroke-width="1.3" stroke-linejoin="miter"/><path d="M296.09 234.46V339.86M306.13 234.46V339.86M314.44 234.46V339.86" stroke="#0000ff" stroke-width="1.2" stroke-dasharray="3.9 1.8" fill="none"/></g><g clip-path="url(#c30)"><g mask="url(#mo)"><path d="M77.8 343.8l.7-1 22.6 0 2 3 1.4 4 .5 5-.8 4 .8 3.9-.3 3 .4 3-.7 4 .5 5.9-.3 10 1.2 5-1.1 5.9 .3 4-.4 3 .4 4-.2 5.9-.7 7-.7 2-2.1 2.1-3 1.5-6 .9-7-.2-2.9-.8-3-1.3-1.7-1.2-1.1-2-.2-7-.8-3.9 1-7-1-17.9 1.4-8-1.2-6.9-.2-8 .4-4-.1-8.9 1-7z" fill="#ffa500" fill-opacity="0.024" fill-rule="evenodd"/><path d="M79.3 343.8l.7-1 19.7 0 2.4 3 1 3 .4 3-.3 7 .5 3.9-.2 3 .4 3-.4 4 .2 8.9-.6 6 1.2 6-.8 5.9 0 7 .4 4-.3 7.9-.5 5-.9 2-2.9 2.3-4 1.1-6 .4-4.9-.5-2-.7-3-1.7-1-.9-.8-2-.5-9.9 .5-8-.6-9.9 .3-4-.2-4 .8-7-1-7.9 .4-4-.4-12.9 .9-9 .7-2z" fill="#ffa500" fill-opacity="0.028" fill-rule="evenodd"/><path d="M80.5 343.8l.9-1 17 0 2.8 3 1 3 .2 2-.3 6 .5 4.9 .3 7-.3 13.9-.6 5 1.1 6-.6 5.9 0 7 .4 4-.3 8.9-.5 4-1.1 2-1.7 1.4-4 1.3-5 .3-5.9-.5-4-2-1.4-1.5-.3-1-.5-8.9 .2-9-.4-9.9 .7-5-.3-5 .4-5-.9-7.9 .5-5-.6-12.9 1-8 .8-2z" fill="#ffa500" fill-opacity="0.041" fill-rule="evenodd"/><path d="M82.3 342.8l15.1 0 3 3 1.1 3 .1 2-.4 5 .6 4.9 .3 8-.4 13.9-.5 4 1 7-.6 4.9 .1 8 .3 4-.3 10.9-.8 3-1.6 1.6-2 .9-4 .9-5 .1-3.9-.7-3.3-1.8-.9-1-.7-2-.5-7-.2-16.9 .1-3.9 .8-5-.4-5 .2-5-.8-5.9 .4-6-.5-12.9 1-8 1-2z" fill="#ffa500" fill-opacity="0.056" fill-rule="evenodd"/><path d="M82.2 343.8l.9-1 13.4 0 3.2 3 1.1 3-.4 6 1 13.9-.5 9.9 0 5-.3 3 .7 7-.5 4.9 .4 12-.2 10.9-.5 2-1.6 2-2.6 1.2-3 .6-6 0-2.9-.6-2-1.2-1.1-1-.6-1-.5-2-.4-6.9-.3-15 .1-3.9 .9-6-.5-5 0-5-.6-5.9 .3-6-.3-12.9 .9-8 .4-1z" fill="#ffa500" fill-opacity="0.074" fill-rule="evenodd"/><path d="M82.9 343.8l.9-1 11.9 0 3.3 3 .6 1 .6 2-.4 6 1 13.9-.9 17.9 .6 7-.5 4.9 .5 13-.3 9.9-.5 2-1.4 1.6-2 1-4 .8-5 0-2.9-.9-2-1.5-.7-1-.7-3-.5-5.9-.4-14 1-10.9-.5-5 0-5-.7-5.9 .4-6-.3-12.9 .9-8 1-2z" fill="#ffa500" fill-opacity="0.101" fill-rule="evenodd"/><path d="M84.1 343.8l1-1 9.4 0 1.8 1.8 1 .5 2 3 0 3.7-.6 1-.1 1 .1 2 .6 1 0 1 .2 10.9-.1 15.9-.7 2 .7 3 0 6-.7 2.9 .7 2 0 19.9-.1 1.2-1 2-.8 .8-1.2 .3-1 .8-5 .3-5.2-.4-1.7-1.6-1-1.9-.4-5.5-.6-1.3-.1-20.5 .8-2 .1-3-.1-3-.7-1.5-.1-1.5 0-35.8 .8-1 .3-1.2z" fill="#ffa500" fill-opacity="0.072" fill-rule="evenodd"/></g><path d="M83.8 343.8l1.1-1 9.7 0 1.7 1.3 2.4 2.7 .4 2 0 9 .7 11.9-.2 5-.6 4.9-.1 18.9 .3 13-.4 9.9-.1 1-1.4 1.8-1 .7-3 1.1-6 0-1-.2-2.2-1.4-1.2-2-1.9-11.9-.1-10 .7-5.9 .2-5-.4-10-.7-5.9 .1-19.9 .8-7 1.1-2z" fill="#ffa500" fill-opacity="0.055" fill-rule="evenodd"/><path d="M84.4 343.8l1.2-1 8.3 0 3.5 3 1.1 2 .2 1-.2 5 .7 15.9-.6 9.9 0 14-.3 3.9 .4 5 0 10-.6 8.9-.8 2-1 .8-2 .9-3 .6-3-.1-2-.5-1.3-.7-.9-1-.7-2-1.8-9.9-.1-11 .9-10.9-1.2-15.9 .2-19.9 .7-7 1.2-2z" fill="#ffa500" fill-opacity="0.069" fill-rule="evenodd"/><path d="M85 343.8l1.4-1 6.7 0 3.7 3 .7 1 .6 2-.2 5 .6 15.9-.5 9.9-.5 17.9 .6 5-.3 12.9-1.2 7-.8 1-1.5 .9-3 .7-4-.3-1-.3-1.1-1-.5-1-1.8-7-.9-4.9 .1-10 .8-9.9-1.2-16.9 .2-19.9 .7-7 1.2-2z" fill="#ffa500" fill-opacity="0.114" fill-rule="evenodd"/><path d="M85.9 343.8l1.9-1 3.8 0 .7 .3 2 1.2 1.7 1.5 .7 1 .5 2 .5 20.9-1.1 21.9 0 5.9 .6 5-.1 10-.6 3.9-1.4 5-.6 1-1.2 1-2 .5-3-.1-1.1-.4-.9-1-2.9-7.9-.8-4 .1-8 1-10.9-1.3-17.9 .1-19.9 .8-7 1.1-1.7z" fill="#ffa500" fill-opacity="0.179" fill-rule="evenodd"/><path d="M87.3 343.8l1-.4 2-.1 3 1.1 2 1.8 .9 2.6 .5 22.9-.6 12.9-.8 7 .1 5.9 .8 6-.1 8-.5 3-1.3 3.2-2 3-1 .8-1 .2-1-.1-1-.7-3-4.3-1.3-3.1-.7-4 .3-7 1.2-9.9-1.6-18.9 .1-19.9 .8-7 1.2-1.8z" fill="#ffa500" fill-opacity="0.266" fill-rule="evenodd"/><path d="M86.9 344.8l2.4-.7 3 .6 2 1.6 .8 2.5 .5 25.9-.7 9.9-1.2 5-.1 2 .5 5.9 1 5 .1 7-.5 3-1.2 2.9-1.2 1.4-2 1-2-.3-2-1.7-1.6-3.3-.5-3 .2-6 1.8-10.9-2-15-.2-7.9 .2-15.9 .5-6 .9-2z" fill="#ffa500" fill-opacity="0.383" fill-rule="evenodd"/><path d="M87.1 345.8l1.2-.6 2-.2 2 .8 1 1 .5 2 .5 6.9 0 10 .3 6-.3 5-1 8.2-2.6 6.7 .1 1 2.8 8.9 .5 4 0 3-.5 3-.9 2-1.4 1.3-2 .7-2-1-1-1.3-.9-2.7-.2-2 .1-4 .4-2 1.6-5.8 1.6-4.1-.1-1-1.5-3.5-1-4-.8-4.5-.4-4.9 .2-20.9 .6-6 .4-1z" fill="#ffa500" fill-opacity="0.517" fill-rule="evenodd"/><path d="M88 346.8l1.3-.5 1 0 1.2 .5 .8 1.5 .5 5.5 0 12.9 .5 4 0 3.8-1.5 8.1-.5 1.7-1 1.3-1 0-1-1.4-1-2.4-1-6.1 .2-20.9 .8-6.9zM89.2 399.5l1.1 .1 1 .9 1 2 .6 5-.5 3-.6 1-.8 1-1.7 .5-1-.3-1-1.2-.6-2-.3-3 .9-4.5 1-1.7z" fill="#ffa500" fill-opacity="0.714" fill-rule="evenodd"/><g mask="url(#mb)"><path d="M77 342.8l27.3 0 1.5 3 .5 5-.6 8-1.3 2.9-1.2 1.4-1.9 1.4-6 2.9-4 1.1-4 0-2-.5-1.9-.9-5-3-1.4-1.4-1.2-2-.8-2.9 0-10 .8-3z" fill="#0000ff" fill-opacity="0.024" fill-rule="evenodd"/><path d="M78.2 342.8l24.9 0 1.7 3 .4 4-.4 9-1.4 2.9-2.1 1.9-5 2.6-3 1.2-3 .4-2 .1-3-.6-5.9-3.6-1.3-1-1.4-2-.8-2.9 .1-11 .8-2z" fill="#0000ff" fill-opacity="0.028" fill-rule="evenodd"/><path d="M79.3 342.8l22.7 0 2 3 .4 3-.4 10-.3 .9-1.2 2-2.2 1.8-5 2.5-3 1-2 .4-3-.1-2.9-1.1-5-3.3-1.9-2.2-.7-1.9-.2-9 0-2 .5-2z" fill="#0000ff" fill-opacity="0.041" fill-rule="evenodd"/><path d="M79.3 343.8l.9-1 20.8 0 1.8 2 1 3-.3 10-.9 2.9-2.3 2.1-5 2.7-2 .8-3 .6-2 0-3-.7-4.9-3.2-2.2-2.3-.7-1.9-.3-2 .1-9 .5-2z" fill="#0000ff" fill-opacity="0.056" fill-rule="evenodd"/><path d="M80 343.8l1.1-1 19.2 .2 2.4 2.8 .4 2-.1 10-1.1 2.9-1.6 1.6-5 2.8-3 1.1-2 .3-4-.4-1.9-.9-3.6-2.5-2-2-.8-1.9-.2-2 0-9 .6-2z" fill="#0000ff" fill-opacity="0.074" fill-rule="evenodd"/><path d="M80.7 343.8l1.1-1 17.3 0 1.2 .9 1.8 2.1 .6 3-.2 9-.5 1.9-.7 1-2 1.7-5 2.7-4 1.1-3-.2-2-.7-4.9-3.5-1.6-2.1-.4-1.9-.2-8 .1-2 .6-2z" fill="#0000ff" fill-opacity="0.101" fill-rule="evenodd"/><path d="M82 343.8l1.1-1 14.5 0 .7 .7 1.1 .3 1.9 2 .5 6-.5 8.1-2 1.9-1 .1-.8 .8-1.2 .4-2.5 1.6-2.5 .4-.6 .6-2.4 .1-1-.8-2-.2-1.9-1.8-1.1-.3-1.9-1.8-1-1.6-.1-1.5 0-11 .8-1 .3-1 1-.3z" fill="#0000ff" fill-opacity="0.072" fill-rule="evenodd"/></g><path d="M81.7 343.8l1-1 15.1 0 2.5 1.7 1.6 2.3 .2 4-.1 7-.2 1-1.4 1.9-5.1 3.7-3 1.1-6 0-.9-.8-1-.3-3-2.3-1.2-1.4-1.4-2.9-.1-8 .1-2 .9-2z" fill="#0000ff" fill-opacity="0.055" fill-rule="evenodd"/><path d="M82.2 343.8l1.1-1 13.8 0 2.9 2 .8 1 .8 2 .1 4-.2 6-.8 1.9-.8 1-1.6 1.4-4 2.3-2 .8-2 .3-4-.4-1.9-1.1-2.8-2.3-1.6-2-.4-.9-.4-3-.1-6 .3-2 .8-2z" fill="#0000ff" fill-opacity="0.069" fill-rule="evenodd"/><path d="M82.8 343.8l1.1-1 12.4 0 3 2 1.5 2 .4 5-.3 6-.7 1.9-.9 1-5 3.3-3 1.1-2 .1-2-.2-2-.9-3.9-3.1-.9-1.3-.6-1.9-.2-9 1-3z" fill="#0000ff" fill-opacity="0.114" fill-rule="evenodd"/><path d="M83.5 343.8l1.1-1 10.8 0 4.1 3 .5 1 .5 2 0 7-.5 3-1.5 1.9-5.2 3.3-4 .8-2-.3-1.8-.8-3.7-3-.7-1-.6-1.9-.3-8 .6-3 1.5-2z" fill="#0000ff" fill-opacity="0.179" fill-rule="evenodd"/><path d="M84.3 343.8l1.4-1 8.5 0 3.1 2 1.8 2 .5 2 .2 3-.1 5-.4 1.6-1.8 2.3-4.2 2.8-2 .7-2 .2-2.8-.7-2.9-2-1.7-2-.5-.9-.5-4 .1-6 1.2-3z" fill="#0000ff" fill-opacity="0.266" fill-rule="evenodd"/><path d="M85.3 343.8l1.7-1 5.6 0 4.7 2.9 1.2 2.1 .4 6-.2 3-.4 1.6-1.8 2.3-2.9 2-1.3 .6-3 .5-3-.8-2.8-2.3-1.2-1.9-.6-4 .1-6 1.3-3z" fill="#0000ff" fill-opacity="0.383" fill-rule="evenodd"/><path d="M86.8 343.8l2.5-.7 3 .5 2.5 1.2 1.3 1 1.2 2 .4 6-.4 4.1-2 2.8-1.3 1-2.7 1.2-3 .1-2-.8-1.9-1.7-1-1.5-.4-1.2-.5-6 .5-4 1.1-2z" fill="#0000ff" fill-opacity="0.517" fill-rule="evenodd"/><path d="M86.3 344.8l3-.9 2 .3 2.1 .6 1.4 1 1.3 2 .4 4-.2 5.5-1.3 2.4-2.7 2.1-3 .6-2-.5-1.7-1.2-1.4-1.9-.7-4 .1-5 .8-2.9z" fill="#0000ff" fill-opacity="0.714" fill-rule="evenodd"/><path d="M84.6 344.6l2.4-.9 1.5-.2 3 .1 2.9 1 0 21.1 .6 4.5-.3 3 .2 3-1.6 9-1.3 3.1-.2 1.5 .7 3-.1 3 2.1 9 .2 4.5-.4 1.5-1.3 2.5-1.5 1.8-1.5 .8-1.5-.3-1.9-1.8-1.6-3-.5-3 .2-4.5 2.7-7.5 .1-1.5-.5-4.5-1.5-4.6-1-10.5 0-22.6 .3-3z" fill="#fff" fill-rule="evenodd"/><path d="M84.5 344.6l1-.9 3-.5 4.5 .4 1.5 1 0 21.1 .7 4.5-.3 3 .2 3-1.6 9-1.4 3.1-.2 1.5 .8 3-.1 3 1.8 7.5 .4 6-.9 3-2.4 2.9-1.5 .8-1.5-.2-2.1-2-1.6-3-.5-3 .2-4.5 2.8-7.5 0-1.5-.3-4-1.6-5.1-1-9z" fill="#ffa500" fill-opacity="0.070" fill-rule="evenodd"/><path d="M85.6 344.6l1.4-1 1.5-.2 3 .2 1.8 1 .4 3 0 7.5 .3 3-.3 7.6 .6 4.5-.1 6-2.1 9-1.9 3.1-.2 1.2-1.5-.3-1.5-2.5-.9-3-.8-9 .1-6-.2-3 .3-4.5-.5-3.1 .4-3-.2-3 .5-3zM89.9 391.3l.1-1.1 0 3.2zM88.7 397.3l1.3-1 1.5 1.8 2.4 6.7 .1 4.5-.4 1.5-2.1 3-1.5 .8-1.5-.4-1.7-1.9-.9-1.5-.7-4.5 0-1.5 .9-3z" fill="#ffa500" fill-opacity="0.075" fill-rule="evenodd"/><path d="M86.2 344.6l.8-.6 1.5-.4 1.5 0 2.5 1 .5 4.5-.1 6 .4 4.5-.4 6.1 .8 4.5-.3 6-2 7.5-1.4 2.3-1.5 .5-.9-1.3-.5-1.5-1.1-7.5 .1-13.5-.4-4.6 .2-6 .5-3zM88.2 400.3l.3-.6 1.5-.8 2.2 2.9 .9 3 .1 4.5-.4 1.5-1.3 2-1.5 .8-1.5-.5-.7-.8-1-1.5-.8-3-.1-3 .3-1.5z" fill="#ffa500" fill-opacity="0.105" fill-rule="evenodd"/><path d="M86.9 344.6l1.6-.7 1.5 0 1.7 .7 .9 7.5-.3 3 .5 4.5-.6 6.1 .8 4.5-.3 6-.7 3-1.8 4.5-1.7 .7-.7-2.2-1.2-7.5 .2-12-.7-4.6 .4-6 .8-3zM88.2 401.8l.3-.4 1.5-.5 1.5 1.4 1.1 2.5 0 4.5-.4 1.5-.7 1-1.5 .9-1.5-.6-.9-1.3-1-3-.2-3 .6-1.7z" fill="#ffa500" fill-opacity="0.143" fill-rule="evenodd"/><path d="M87.7 344.6l.8-.4 1.5 0 .9 .4 .2 3 .9 4.5-.3 3 .6 4.5-.9 6.1 1.2 4.5 0 1.5-.8 6-1.8 3.9-1.5-.1-1.2-5.3-.1-6 .3-7.5-.9-4.6 .6-6 .9-3zM87.8 403.3l.7-.7 1.5-.3 1.5 1.4 .5 1.1-.1 4.5-.5 1.5-1.4 1-1.5-.7-.9-1.8-.5-3 0-1.5z" fill="#ffa500" fill-opacity="0.197" fill-rule="evenodd"/><path d="M89.8 349.1l.2-.5 1.2 3.5-.2 3 .7 4.5-.2 2-1.2 4.1 1.8 4.5 0 1.5-1.2 6-.9 1.8-1.5-.9-.5-2.4-.3-6 .7-3 0-3-1.2-6.1 1.2-7.5zM87.9 404.8l.6-1 1.5-.4 1.2 1.4 .2 1.5-.4 3-1 1.6-1.6-1.6-.7-3z" fill="#ffa500" fill-opacity="0.283" fill-rule="evenodd"/><path d="M89.5 352.1l.5-.5 .3 3.5 .7 3-.2 3.1-.8 1.8-1.5-1.7-.7-3.2 .7-4.1zM89 368.7l1-.8 1.6 2.3-.1 1.5-1.5 4.4-1.5-2.5-.2-3.4zM89.5 404.8l.7 0 .3 1.5-.5 2.5-1.5-2.5z" fill="#ffa500" fill-opacity="0.421" fill-rule="evenodd"/><path d="M88.4 358.1l.1-.8 1.5-.2 .3 1-.3 2.4-1.5-1.7zM89.1 370.2l.9-1 .7 1 0 1.5-.7 1.8-.9-1.8z" fill="#ffa500" fill-opacity="0.682" fill-rule="evenodd"/><path d="M84.7 344.6l2.3-.9 3-.2 3 .4 1.3 .7 .3 7.5-.4 6-1.2 2.5-1.5 1.2-1.5 .5-1.5-.1-1.5-.5-1.8-2.1-.5-1.5-.3-3z" fill="#fff" fill-rule="evenodd"/><path d="M84.4 344.6l1.1-.9 1.5-.4 3-.1 3 .3 1.5 1.1 .4 7.5-.5 6-.4 1.5-1 1.3-1.5 1.3-3 .3-1.5-.4-2.2-2.5-.4-1.5-.2-3z" fill="#0000ff" fill-opacity="0.070" fill-rule="evenodd"/><path d="M85.5 344.6l1.5-1.1 3-.2 1.5 .1 2.3 1.2 .4 7.5-.5 6-.8 1.5-1.4 1.4-1.5 .6-1.5 0-1.5-.8-1.1-1.2-.4-1.5-.6-4.5z" fill="#0000ff" fill-opacity="0.075" fill-rule="evenodd"/><path d="M86 344.6l1-.7 3-.4 1.5 .2 1.4 .9 .1 4.2 .6 3.3-.3 4.5-.4 1.5-.9 1.5-2 1.2-1.5 0-1.5-1-.9-1.7-.4-4.5z" fill="#0000ff" fill-opacity="0.105" fill-rule="evenodd"/><path d="M86.7 344.6l1.8-.8 1.5-.1 2.4 .9 .6 7.5-.3 4.5-.4 1.5-.8 1.1-1.5 .9-1.5-.1-.5-.4-1.2-1.5-.4-1.5-.2-4.5z" fill="#0000ff" fill-opacity="0.143" fill-rule="evenodd"/><path d="M87.4 344.6l1.1-.5 1.5-.1 1.7 .6 0 3 .8 4.5-.2 3-.7 3-1.6 1.2-1.5-.1-1-1.1-.4-1.5-.3-4.5z" fill="#0000ff" fill-opacity="0.197" fill-rule="evenodd"/><path d="M88.2 344.6l1.8-.3 .8 .3 .2 3 1 4.5-.5 4.5-1.5 1.9-1.5-.2-.8-1.7-.4-4.5z" fill="#0000ff" fill-opacity="0.283" fill-rule="evenodd"/><path d="M89.7 347.6l.3-.4 1.4 4.9-.4 3-1 2.3-1.5-.8-.6-4.5 .6-3.8z" fill="#0000ff" fill-opacity="0.421" fill-rule="evenodd"/><path d="M89.3 350.6l.7-.5 .7 2-.7 3.6-1.2-2.1-.3-1.4z" fill="#0000ff" fill-opacity="0.682" fill-rule="evenodd"/><path d="M84.6 344.6l2.4-.9 1.5-.2 3 .1 2.9 1 0 21.1 .6 4.5-.3 3 .2 3-1.6 9-1.3 3.1-.2 1.5 .7 3-.1 3 2.1 9 .2 4.5-.4 1.5-1.3 2.5-1.5 1.8-1.5 .8-1.5-.3-1.9-1.8-1.6-3-.5-3 .2-4.5 2.7-7.5 .1-1.5-.5-4.5-1.5-4.6-1-10.5 0-22.6 .3-3zM86.2 344.6l2.3-.7 1.5 0 2.6 .7 .5 4.5-.2 6 .5 4.5-.4 6.1 .7 4.5-.2 6-2 7.7-1.5 2.4-1.5 .6-1.5-2.6-1-8.1 0-13.5-.3-4.6 .2-6 .5-3zM89.6 398.8l.4-.3 1.5 1.9 1.3 2.9 .5 3 0 3-.4 1.5-1.4 2.1-1.5 .8-1.5-.4-1.5-1.9-.8-2.1-.4-3 .4-3 .7-1.5 1.6-2.5zM88 344.6l2.5 0 .1 3 .9 2.9 .2 1.6-.3 3 .6 4.5-.3 3.1-.7 3 1.4 4.5-.1 1.5-.8 6-1.5 3-1.5-.5-.6-2.5-.4-3-.1-4.5 .4-3 .1-3-1-6.1 .6-6 .9-3zM88.3 403.3l1.7-.6 1.7 2.1-.1 4.5-.7 1.5-.9 .6-1.5-.8-.9-2.8-.2-3zM89.5 353.6l.5-1.4 .8 7.4-.8 3.1-1.5-1.9-.5-2.7 .5-3.2zM89.4 368.7l.6-.6 1.4 2.1 0 1.5-1.4 3.7-1.3-2.2-.3-1.5 .1-2zM89 406.3l1-1.2 .3 1.2-.3 1.5z" fill="none" stroke="#ffa500" stroke-width="1.3"/><path d="M84.7 344.6l2.3-.9 3-.2 3 .4 1.3 .7 .3 7.5-.4 6-1.2 2.5-1.5 1.2-1.5 .5-1.5-.1-1.5-.5-1.8-2.1-.5-1.5-.3-3zM86.5 344.6l2-.6 1.5 0 2.6 .6 0 3 .6 4.5-.3 4.5-.4 1.5-1 1.5-1.5 .8-1.5-.1-1.1-.7-.9-1.5-.5-4.5zM88.5 344.6l2 0 .1 3 1.2 4.5-.7 4.5-1.1 1.6-1.5-.4-.7-2.7-.2-3zM89.4 350.6l.6-.5 .6 2-.6 3.6-1.2-2.1-.3-1.5z" fill="none" stroke="#0000ff" stroke-width="1.3"/></g><g clip-path="url(#c31)"><g mask="url(#mo)"><path d="M163.4 343.8l1-.7 1-.2 4 .7 2.3-.8 2.3 0 2.3 .8 3.3-.8 67 0 2.3 .9 7-.1 4 .7 0 82.3-8 1.1-4-.4-7.9 .7-14 .1-4.9 .6-15.9-.3-8 .3-6-.8-5.9 .4-4.3-.9-6.7-.2-7.9-.9-5 .7-2-.8-1.6-1.8-.2-2 .5-5-1.7-3.9 .2-2 2.5-7 .1-1-.8-1.8-1.8-2.2-.1-1 1.2-2.9 2.1-3 .8-2-.1-1-.6-1-3.6-3-.4-1 .3-1 2.2-2.7 .3-1.3-.1-3.9-1-4 0-1 1-2 1.8-2 .3-1-.2-1-2.1-3-1.9-3.9 .1-2 2-5 .4-2-.6-1-2-.4-.9-.6-.3-1 .5-1 .7-.5 1-.1 2 1.2 1 .3zM149.5 382.6l0-.4 1 1.6 1 2.8-.2 1-.6 1-1.2 .6z" fill="#ffa500" fill-opacity="0.024" fill-rule="evenodd"/><path d="M181.8 343.8l1.5-.2 3 .3 3.7-1.1 38.8 0 2.2 .6 4-.3 3 .5 5 0 2.9 .5 3 1 7-.1 4 1.1 0 79.2-3 .1-5 1-4-.4-4.9 .3-3 .5-3-.2-4 .5-7-.1-4.9 .7-15.9-.4-5 .3-4 0-5-.9-3 .5-2.9 0-4-1.1-4 0-6-1.2-4.9-.2-4 .6-1-.2-1.1-.7-.6-1-.2-2 .8-3 0-1-1.5-2.9-.3-2 2.6-7-.3-3-1-3 0-3 .6-1.5 2.1-3.4 .6-2-.4-1-2.5-2-1.2-2 .2-1 1.6-3-.7-5.9 .2-3 2.1-4.8 .2-1.2-.6-2-2.3-3-.8-1.9-.5-2 .2-2 .8-2 2.7-5 2.3-2.4 1-.3 3 .5 1-.1 2.9-1 4 .7z" fill="#ffa500" fill-opacity="0.028" fill-rule="evenodd"/><path d="M190.8 343.8l2.1-1 31.6 0 6.5 1.7 4-.1 3 .5 5.9 .1 5 1.8 7-.3 4 2.2 0 4-1 .4-.8 .7-.1 1 .8 3 1.1 .5 0 22.2-1 .9-.5 1.2-2.9 3-.3 1 .7 2.9 1 1.3 1-.5 1-1.3 1-.6 0 8.4-1.9 1.7-1.9 3-.1 1 .6 3-1.5 4 1.8 6.4 1 1 2 .3 0 6.6-4-.1-4 1.3-4-.6-4.9 .4-3 .7-4-.1-3 .5-7-.1-3.9 .8-4 .2-5-.5-8.9 0-4 .4-5-.4-4-.8-4.9 .7-2-.4-3-1.4-3 .3-1-.3-1.5-1-.2-1 .3-2-.6-2.2-3-2.7-.6-1 0-4-3.3-3-2-.8-2-1.3-1-1.9-.6-3 0-1 .6-.8 1.9-1.2 .9-1-.7-2.9 .2-1 1.2-1 2.5-.9 1.9-1.1 1-1 .4-2-.7-2-2.4-3-1.3-3-.9-1-4.3-1.9-.4-2 .4-2 .6-1 2-2 .4-1-.7-.3-1.7-5.7-2.3-2-.6-.9-.6-2 .2-2 1-1.9 1-.8 1-.2 2 .5 1.7-.6 .9-1 .8-2 1.1-1 2.4-1.4 1 0 3 .7 4-1.6 6-.3zM255.9 358.4l-.7 .4 .7 1 1.7-1zM169.4 396.4l-1 .3-.9 .8 .4 1 1.5 2 .9 2.2 1-.3 .5-.9 .6-4-1.1-.9zM165.4 356.5l0 1.5 1 .1 1-1.3-1-.5zM168.4 365.2l-1.9 2.5 .9 .8 1 .2 1-.5 .5-1.5-.1-1-.4-.4zM162 383.6l1.4-.5 1.1 .5 .4 1-1 1-1 0-1.1-1zM259.2 408.5l.7-.7 0 4.8-1.6-1.1-.1-1zM162.2 412.5l3.2-.2 2 1 1.1 1.2 1 1.9 .2 1-.4 2-.9 1.8-3.4 1.2-1.8 0-.3-1 1-2-.1-1-1.9-3.9-.2-1z" fill="#ffa500" fill-opacity="0.041" fill-rule="evenodd"/><path d="M193 343.8l2.3-1 26.3 0 8.4 2.5 5 .2 4 1 3-.1 2 .4 .7 1-.8 3 .1 1 1.9 3.6 2.3 1.4 .9 1-.3 2.9 .2 3 .3 1 2.6 1.4 1 1.1 1.2 4.5-.6 1-.6 .3-1-1.3-1-.6-1 .1-.6 .5-.5 1 .5 3-.2 1-1.2 1.5-3 1.4-.5 1 0 6 .8 1 3.7 1.2 .7 .8-.7 7.9 1 5-.3 2-.7 .9-1 .7-1.6 .4-1.4 .8-1.9-.3-1 .2-.6 1.3 .6 .3 1-.2 .9-.8 1-.1 2 .9 2 .2 1 .7 .2 5 3 .9 .5 1-.7 1.3-2 .6-.7-.9-.3-2.2-1 .1-1 .7-.9 1.4-.9 4-1.1 1-2 .4-3 1.3-4-.2-3 .6-6 0-6.9 1.4-3-.1-3-.5-5 .3-4.9-.3-4 .4-5-.6-4-1.1-3 .9-1.9 .1-1.6-.6-2.4-2.3-1-.3-2 .2-.3-.6-.9-6-2.2-1.9-.6-1-.6-3-2.4-2-.5-1 .2-1 2.5-3 .5-6-.2-2.9 2.5-1.3 2.2 .3 1.3 1-.5 1 0 1.8 1 .6 .3-.5 .3-.9-.5-2 1.7-4-1.5-11 .2-1 1.1-1.9 .1-2-.7-2.3-1-1.2-5-2.5-1-.1-1 .5-.4-.4-.6-4.7-.4-1.3-.6-.4-1 .3-1-.1-1.1-.8 .2-1 .9-.5 1 0 .9 .5 1.1 1.5 .2-.5 2.8-2 .5-.9 .3-3 .8-1 2.4-2 0-1-1.3-2 .3-1 2-.5 2 .3 1-.1zM241 397.2l-.5 .3-.2 1 .7 .3 1.3-.3 .7-1-1-.6zM250.5 348.8l3.4-.3 1 .3 .5 1-.3 1-1.2 1.2-4 .2-1-.5-.6-.9 .1-1zM173 369.7l.3-.7 2 2.8 2.5 1.9 .9 1 .1 2-.8 .9-2.7 .9-.7-.9-.4-1.9-1.9-2-.4-1 .3-2zM259.4 370.7l.5-.1 0 4.2-1-.2-1-.8-.5-1.1 .2-1zM253.4 380.6l.5-.4 1 .4 .4 1-.2 1-3.2 3 0 1 1 2-1 1-1.8-1-.6-1-2.4-2-.5-1 .4-1 .9-.6 3-.2zM249.6 420.4l1.3 .1 .9 .9 .3 1-1.2 .4-1.1-.4-.8-1z" fill="#ffa500" fill-opacity="0.056" fill-rule="evenodd"/><path d="M195.1 343.8l2.8-1 20.9 0 11.2 3.6 5 .7 1.4 .7 2 2 .4 1-.2 1-1.2 1-.4 1 0 1 .5 2 1.7 2.9 1.2 3 0 1-.6 2 .9 3-.7 1-2 1.5-1 .5-2-.4-1 .5-.4 2.9 .4 .5 2-2.1 1-.2 3 2 .6 .8 .2 1.9-1.2 5-.6 .9-1.8 1.1-.6 4 .2 6-.3 1-2.5 1.9-.8 1 .8 4.4 3.1 2.6 .2 1-.3 3 .4 1 2.4 2 .7 1-.3 6.9-.5 1-.7 .5-1 .1-4-1.3-2-.3-3 .9-4.9 2.6-3 .8-3 .2-4-1-5 .6-4.9-.6-4 .7-5.1-1.2-2.9-2.1-2 0-2.9 1.4-1-.2-1-.9-1.6-2.2-.2-1 .8-.4 2 1.1 1 .2 .9-.2 1-1.5 .4-1.2-.4-1.4-2.9-2.5-.4-1 .1-2 1.7-3-.1-2-.7-1-2.6-1.4-.6-1.6 .4-3 1.2-2.8 1-.8 1.9-.7 .9-.6-.1-1-2.2-3-.4-1 0-1 .9-1.9 0-1.1-.8-9.9-1.2-4 1.2-4-.2-5-.6-1.9 .7-2-.1-1-1.1-2 .1-3 .7-2 1-1 3.6-2zM244.7 402.5l.2-.5 .4 .5-.4 .1z" fill="#ffa500" fill-opacity="0.074" fill-rule="evenodd"/><path d="M197.2 343.8l2.5-1 16.5 0 4.9 1.4 6.6 2.6 1.7 1 .8 1-1.1 3 .3 2 .6 1.2 3 1.8 .2 1-1.2 1.9 .3 5-.7 3-.5 7-.6 2-1.2 1.9-.3 1 .5 1 2.1 2 .3 2-.9 2.2-3.1 2.8-.4 1 1.1 3 .1 2.9 1.4 3 .4 4 1.9 3-.3 1-2.1 2-.7 3-2.7 5.9-2.5 3.3-1 .8-2 .8-3 .3-3-1.6-1 .1-3 1.1-2 .1-4.9-2.2-1 .1-2 1.6-1 .2-2-.6-2-1.2-1.6-2.8-3.1-3.9-1.9-3-.2-2 .4-3-.6-4.2-1-1.5-1.5-1.3-.4-1 .1-1 .9-1.2 .9-.1 2.2 .3 .8-.8 .5-2.1-1.3-5 .4-3-1.8-4-.2-4-1-7.9 .5-3 .1-5 .9-4.9-.2-2-1.3-3-.2-1 .2-1 .8-1 2.4-2 3.4-2z" fill="#ffa500" fill-opacity="0.101" fill-rule="evenodd"/><path d="M199.3 343.8l1.9-.2 .8-.8 10.3 0 .8 .7 4 .3 1 .8 2.3 .2 .7 .7 1.3 .3 .7 .7 1 .3 1.3 1 .6 1-.8 3 .1 1 1.2 6 .9 1.9-.8 3 .2 1 1.4 3 .3 2-.1 5-1.9 2.9-.2 1 .2 3 .8 3-.1 1-.7 1-3 3-.2 1 .2 2 .8 3-.1 2.9 2.2 3 .1 1-.2 3-.6 2 .2 3-.5 3-.3 1.1-1 1.3-2 .7-3 .2-4 2-1 .8-3 1.2-2 0-2-1.1-1.8-.3-1.1-.6-6 .1-1-.5-5-5.6-1-3.1 .8-8.2 1.9-4 .2-3.9-.4-2-.7-1-.1-6-1.7-2.2-.2-.8-.1-4.9-.8-2 0-8 .1-3.2 .7-2.8 .3-10.9 1-2 1-1.1 3.4-1.9 1.6-.1z" fill="#ffa500" fill-opacity="0.072" fill-rule="evenodd"/></g><path d="M200 343.8l1.2-.6 3-.3 5.9 .1 5 .4 .7 .4 3.3 .6 2 .9 1.9 1.5 1.2 2-.2 3 1.1 4 .5 3.9-.2 4 1.4 5 .2 3-.2 2-1.4 3.9-.5 8-.4 1-2.1 3-.6 2 0 1 .7 5.9 2.7 4 .1 1-.5 3 .1 4-.8 2.3-2 2.2-9 4.1-2 .6-6.9-.9-6-1.2-1-.4-3.8-3.7-1.4-3 .2-7 .5-2 1.9-4 .7-3.9-1.5-4-.1-5-2-3-.3-1 .1-3.9-.8-4-.1-4 .8-7 .6-10.9 .5-2 1.7-2.3 4-2.2z" fill="#ffa500" fill-opacity="0.055" fill-rule="evenodd"/><path d="M201.2 343.8l3-.5 6.9 .1 6 1.1 3.6 1.3 1.3 1 .6 1 .4 4 1.3 5-.1 7.9 .3 2 1.1 3 .1 2-1.4 5-1 8.9-1 2-2.5 3-.3 1 1.5 6.9 2.8 4-.2 8-1.1 2-2 2-8.4 3.9-7.9-.4-6-1.6-2-1.2-1.7-1.7-1.5-3-.1-3 .5-5 2.5-5 .9-2.9-.2-2-1.4-3.3-.5-5.7-1.5-2-.7-2 .2-2.9-1.1-7 .9-7 .1-7.9 .8-5 .8-2 .7-1 1.4-1z" fill="#ffa500" fill-opacity="0.069" fill-rule="evenodd"/><path d="M199.9 344.8l3.3-.8 6.9-.1 5 .6 4 1.3 1.4 1 .5 1 .3 3 1.5 5-.4 9.9 .4 2 .9 2 .2 2-2.3 8.9-.3 5-.7 1-2.5 2-1 2-.2 1 .4 2 1.4 3.9 3.3 5 .3 1 .1 6-1 2-2.3 2.4-2 1.1-5 2-7.9 .1-4.7-1.7-2-.9-1.3-1.2-1.3-1.8-.6-2 0-2 .9-5 3.2-6 .8-2.9-.3-2-1.9-5-.5-4-1.6-3-1.9-9.9 .2-2 1.1-4-.4-4 .3-4.9 1.6-7 .7-1 1.4-1z" fill="#ffa500" fill-opacity="0.114" fill-rule="evenodd"/><path d="M202.2 344.8l2-.3 6.9 .1 3 .5 3 .9 1.3 .8 .8 1 .6 4 .9 3-.4 10.9 .4 2 1.1 3-.1 2-3.6 11.9-3 3.9-3 2.1-.6 1 0 1 7.7 8.9 .9 2 .7 5-.8 2-1.9 2.1-2 1.2-5 1.8-5.9 .2-2-.3-2-.9-3-2.1-1.4-2-.5-2 .7-4 .9-3 5.4-7.9 .6-1 .1-1-2.5-3-2.2-4-1-3-1.5-3-1.9-8.9 .3-2 1-3-.2-5 .4-3.9 1.2-5 .3-3 .6-1 1.3-1z" fill="#ffa500" fill-opacity="0.179" fill-rule="evenodd"/><path d="M202.6 345.8l2.6-.3 3.9-.1 3.8 .4 3.2 1.5 1 1.2 .4 1.3 .3 3-.1 5 .3 8.9 1.4 4 0 2-5.3 12.5-1.4 1.4-2.6 1.1-1 .1-3.9-.8-2-1.1-4-6.3-1.2-3.9-.5-6 .8-5 .5-9.9 1.4-7 .7-1zM206.7 396.5l1.4-.1 1 .3 6.4 4.8 1.5 2 .9 3 .3 2-1 2-2.1 1.5-4 1.8-4 .3-4.2-.6-1.7-1-1-1-1.4-3 .1-4 1.3-2.8 4-3.8z" fill="#ffa500" fill-opacity="0.266" fill-rule="evenodd"/><path d="M204.1 347.8l2.1-.7 1.9-.1 2 .2 2 .6 .9 1 .4 1 .9 4 .5 7.9-.5 5 1.1 5-.2 3-4.1 6.5-2 1.4-2 .6-1.9-.2-1.7-1.4-2.3-4-.4-1.9 .5-11 .8-5-.4-5.9zM205.6 401.5l4.5 .3 1.7 .7 1.4 1 .9 1.3 .6 1.7-.2 2-.6 1-2.8 1.7-3 .7-2.8-.4-2.1-1.1-1-1.4-.6-1.5-.3-2 .3-1 .5-1 1.1-1z" fill="#ffa500" fill-opacity="0.383" fill-rule="evenodd"/><g mask="url(#mb)"><path d="M158 343.8l1.4-1 100.5 0 0 20.9-3 0-4 .6-9.9-.1-7.4 .5-10.3 1-8.2 1.8-10 .4-6.9-.4-10-1.2-5.1-1.6-14.8-.8-3.9 .2-4-.5-6-1.9-1.6-1-.4-1 1.5-2.9 .1-1-.2-1-1.1-2-1.3-6 .2-1 .8-.7z" fill="#0000ff" fill-opacity="0.024" fill-rule="evenodd"/><path d="M160.2 343.8l1.2-.6 2.4-.4 96.1 0 0 19.9-2.6 0-4.4 .7-12.9 .1-13.7 1.2-7.2 1.6-5 .7-7 .3-4.9-.3-12-1.7-5.9-1.5-19.9-.9-3-.7-2-.9-1.9-1.6-.2-.9 .2-5-1.5-4-.2-2 .4-1 1.1-1z" fill="#0000ff" fill-opacity="0.028" fill-rule="evenodd"/><path d="M165.9 343.8l2.5-.3 5.9 .2 8.1-.9 67.9 0 4.6 .5 5-.5 0 19-3 .1-4 .6-12.9 .1-13 1.4-11.9 2.3-8 .3-6.9-.4-7-1.4-4-.5-4.9-1.2-7-.7-12.9-.4-3.5-1.3-1.3-1-.7-.9-.3-2 .1-4-1.2-4 .7-2 2.2-1.9 2-.6z" fill="#0000ff" fill-opacity="0.041" fill-rule="evenodd"/><path d="M181.8 343.8l6.1-1 47.9 0 6.2 .3 11.9 1.1 6-.3 0 17.2-3 0-4 .7-4 .2-6.9-.2-16.9 1.8-9 1.9-9.9 .7-8-.9-9-1.7-3.9-1.1-8-.9-11.9-.4-3-.8-2.2-1.6-.7-2 .3-4-.8-4 .1-1 1.3-1.6 2-.9 5-.8 6.9 .2z" fill="#0000ff" fill-opacity="0.056" fill-rule="evenodd"/><path d="M187 343.8l3-1 40.5 0 2.5 .2 4 .9 5 0 11.9 1.2 6-.3 0 15.4-3 0-4 .8-4 .2-7.9 0-14 1.6-12.9 2.6-7.9 .2-6-.4-6-1.5-5-.7-3.9-1.1-8-1.1-11.9-.6-3-1.1-1.4-1.3-.5-2 .6-3-.5-4 .3-1 1.4-1 2.1-.3 3-1 7.9 .1z" fill="#0000ff" fill-opacity="0.074" fill-rule="evenodd"/><path d="M189.3 343.8l2.4-1 31 0 9.3 .8 5 .8 4 .1 7.9 .8 6 .8 5-.2 0 13.4-3-.2-4 1-5 .4-4-.2-3.9 .3-14.9 2-11 2.3-8.9 .4-7-1-5-1.3-4-.6-3.9-1.1-4-.4-4-1-11.9-1.1-2-.8-1.2-1.2-.2-1 1.2-3-.1-2 .3-1 2.2-2 1.6-1 1.2-.2 6.9 0z" fill="#0000ff" fill-opacity="0.101" fill-rule="evenodd"/><path d="M191 343.8l2.2-.2 1.2-.8 25 0 .7 .7 4.5 .3 1.4 .7 8 .2 .8 .1 1.2 .8 7.9 .2 1 .6 6 .4 1 .6 2.9 .4 2.1 .8 3 1.7 0 7.6-2-.7-1 0-4.9 1.6-4.1 .3-5.9 0-1.7 .6-5.3 .4-1 .7-6 .2-1 .3-.4 .4-3.5 .2-1 .8-3 .2-1.2 .8-6.8 .4-1.7 .6-4.2 .1-.9-.1-1.1-.7-5-.2-1-.8-2.4-.3-.6-.6-1-.2-4-.1-1-.8-2-.3-.9-.7-5-.3-1-.7-1.5-.2-.5-.5-2.8-.5-1.4-1-.8-1.4-2.9-1-1.1-1.6-.3-2 .3-1 1.6-1 5.4-.3 4.3-1.7 2.7-.3 1-.8 4-.1 1.1-.8 1.8-.2z" fill="#0000ff" fill-opacity="0.072" fill-rule="evenodd"/></g><path d="M191.9 343.8l1.3-.6 3.4-.4 21.8 0 5.7 1.2 6.9 .4 4 .8 6 .3 9.6 2.3 2.9 1 1.3 1 1.1 2 1 .8 3 .9 0 2.8-3-1.2-2 .3-1-.2-2-1.8-2-.8-2-.4-.6 .6 .3 1 2.5 3-.2 1-2 1-4.9 .1-5 .7-7 1.6-5 .4-1.9 .7-3 .4-1 .6-3.2 .4-1.8 .7-12.9 .1-2-.1-1.5-.7-2.5-.4-1-.6-7-1.4-1.9-.9-6-1.2-3.9-2.4-1-1-1.2-2-2.7-2 .1-1 1.4-1 4.3-1.1 5-2.2 5.9-1.4 2-.9z" fill="#0000ff" fill-opacity="0.055" fill-rule="evenodd"/><path d="M193.1 343.8l5.5-1 18.6 0 6.9 1.5 7.9 .9 5 1 5 .3 2.6 1.3 .8 1-.7 3 0 2 .2 1.1 1.1 1.9-6 1.8-9 1.9-5 .7-11.9 2.9-7 .3-4.9-.2-5-1.1-4-1.4-4-.7-3.9-1.7-3.6-.5-1.6-1-1.3-3-1.7-2 .1-1 2.1-.3 1-.7 .9-2 .8-1 1.7-1 3.6-.9z" fill="#0000ff" fill-opacity="0.069" fill-rule="evenodd"/><path d="M196 343.8l5.2-1 13.9 .1 10 2.1 6.9 .9 5 1.4 4 .3 1.1 1.2 0 2-1.1 5-.8 1-1.2 .5-4 .9-4.1 1.5-4.9 .9-11.9 3-7.9 .4-5-.5-13-3.6-3.3-2.1-1.1-1-.3-1 .5-6 .2-1 .9-1 7.1-3.2z" fill="#0000ff" fill-opacity="0.114" fill-rule="evenodd"/><path d="M199.5 343.8l5.6-1 5.1 0 5.9 .9 13.6 3.1 2.5 1 1.3 1 .9 2 .2 2-.3 1-2 3-.9 1-1.4 .7-10.9 3.4-6 1.3-6.9 .3-5-.5-4-1-8.4-3.2-1.6-2-.8-2 .1-2 1.4-4 1.9-2 2.4-1.4 2-.7z" fill="#0000ff" fill-opacity="0.179" fill-rule="evenodd"/><path d="M203.5 343.8l5.6-.3 7 .9 5 1.4 5 2 1.5 1 .8 2 .2 2-.9 3-1.7 2-3.5 1.9-5.8 2-5.6 1-5.9 .2-6-1.1-3-1.1-5-2.9-1.1-2-.3-3 1.1-4 1.3-2 1.7-1 1.3-.3z" fill="#0000ff" fill-opacity="0.266" fill-rule="evenodd"/><path d="M201.9 344.8l4.3-.5 3.9 .1 6 .9 4.1 1.5 1.7 1 1.2 2 .5 5-.5 2-2 2-1.7 .9-7.3 2.1-7.9 .2-5-1.2-2.6-1.1-2.5-1.9-1.1-2-.3-3 .8-4 .6-1 1.2-1 2.5-1z" fill="#0000ff" fill-opacity="0.383" fill-rule="evenodd"/><path d="M202.2 345.8l4-.5 3.9 .1 6 1.3 1.9 1.1 1.1 1.1 .9 1.9 .1 3.1-.8 2.9-2 2-3.2 1.3-3 .7-4.9 .2-2.8-.3-5.2-1.9-1.1-1-1-2-.4-3 .5-2.8 1.5-2.2 1.6-1z" fill="#0000ff" fill-opacity="0.517" fill-rule="evenodd"/><path d="M203.9 346.8l3.2-.3 3.4 .3 2.7 1 1.2 1 1.1 2 .6 3-.5 2-1.4 2-2.1 1.2-5 .7-3.9-.7-2.2-1.2-1.2-2-.2-3 .1-2 .5-1.4 1-1.2z" fill="#0000ff" fill-opacity="0.714" fill-rule="evenodd"/><path d="M195.9 344.6l2-.7 10.5-.3 6 0 6.4 1 .1 3-.7 3 .8 3 .1 6 .4 1.6-1.8 6 .1 1.5 .6 1.5 1 4.5-.2 1.5-2.2 4.4-1.5 1.8-.7 2.8-1.6 1.5-2.5 1.6 1.6 3-.1 3 1.8 5.1 .4 .9 2.6 2.3 1.3 2.2 .6 3-.1 1.5-.8 1.5-1.3 1.5-1.2 .9-3.1 1.2-3 0-2.5 1-2 .3-4.5-.3-1.5-.6-3-2.4-1.5-2.7-1.5-1.9 .3-4.5 4.2-3.6 1.7-.9 2-1.5 .5-1.5-2.7-2.6 0-1.9 .4-1.5-3.8-3.1-.6-1.5-.4-3 .3-3-.4-1.5-1.5-3 .2-1.5 .9-1.5 .3-1.5-1.3-6 0-1.5 1.4-2 .3-1.1-.8-6 0-1.5 .9-3-.9-3z" fill="#fff" fill-rule="evenodd"/><path d="M195.7 344.6l2.2-1.1 10.5-.3 7.6 .2 3 .4 2 .8 .1 3-.7 3 .8 3 .1 6 .3 1.6-1.7 6 .1 1.5 1.6 6-.2 1.5-2.4 4.5-1.5 2-.5 2.5-1.5 1.5-2.6 1.6 1.6 3 .2 1.5-.4 1.5 1.7 4.9 .6 1.1 3.1 3 .7 1.5 .7 3-.1 1.5-2.2 3-1.3 1-3.1 1.3-3 0-3 1-1.5 .2-3 .1-1.5-.4-1.5-.5-3-2.4-3.1-4.8 .2-4.5 4.4-3.8 1.5-.7 2-1.5 .5-1.5-2.5-2.3-.3-.7 .5-3-3.8-3.1-.6-1.5-.3-3 .2-3-.3-1.5-1-1.5-.4-1.5 .1-1.5 .8-1.5 .4-1.5-1.3-6 0-1.5 1.5-2.3 .2-.8-.9-6 0-1.5 1-3-1-3z" fill="#ffa500" fill-opacity="0.070" fill-rule="evenodd"/><path d="M197.1 344.6l2.3-.7 9-.5 6 .1 3.4 1.1-.1 3-.7 1.5 .5 1.2 1.4 1.8 .2 3 .6 1.5 .1 1.5-.8 2.1-1.5 1.1-.8 1.4-.4 1.5 1.5 3 1.3 4.5 .4 3-.3 1.5-.7 1.5-2.3 3-.9 3-.8 1.5-1.6 1.1-3 .6-3-1-1.5 .5-1.5 2.2-1.5-.7-2-2.7-1.1-4.5-1.1-3-1.9-3 1.4-3 .3-1.5 .1-1.5-.9-3 .1-1.5 1.2-1.5 .3-1.5-1.4-4.6-.1-4.5 .6-1.5 1.3-1.5-.8-1.5-1.3-1.5zM210.3 395.8l1.1-1.3 2.4 2.8 .7 3 3.9 4.5 .8 4.5-.8 1.5-.9 .9-3.1 1.5-3-.2-4.5 1.4-3-.3-3-.8-1.5-1.2-1-1.3-.5-2.7-.8-1.8 0-1.5 .6-1.5 1.7-1.5 3-.7 4.5-3.5 1.5-.5z" fill="#ffa500" fill-opacity="0.075" fill-rule="evenodd"/><path d="M199.1 344.6l9.3-.9 6 .2 1.5 .7-.3 4.5 .4 1.5 1 1.5-.2 1.5-1.2 1.5 .1 1.5 1.3 1.5-.1 1.5-.9 1.3-.8 1.8-.3 3 1.3 1.5 .7 1.5 .5 3-.4 1.5 0 3-.5 1.5-2.6 3-.4 1.5 .3 1.5-.9 1.2-.6 .3-.9 .3-1.5-.6-4.5-.7-1.5 .7-1.5-.7-.9-3.5-1.2-1.5-.7-1.5-.1-1.5 .5-1.5-.7-4.5 .5-1.5-.2-1.5-.6-1.5 1.4-3-1.5-4.6 0-1.5 .7-1.5 0-1.5-.4-1.5 1.7-3 .2-1.5-.2-.6-1.8-.9zM208.2 398.8l1.7-.7 1.5 .5 1.1 1.7 3.5 3.1 .9 1.4 .6 4.5-1 1.5-2.1 1.2-4.5 .1-3 1-1.5-.1-4.5-1.4-.8-.8 0-3-1-1.5-.1-1.5 .4-.5 3-.6z" fill="#ffa500" fill-opacity="0.105" fill-rule="evenodd"/><path d="M204.7 344.6l3.7-.5 4.5 .1 2 .4-.2 4.5 .1 1.5 .6 1.5-.3 1.5-.8 1.5 .1 1.5 1.1 1.5 0 1.5-.8 1.6-1.6 4.5 .6 1.5 1.8 1.5 .5 1.5-.2 1.5-1 3 0 1.5-1.4 3-2.5 3-1 .8-1.5 .3-2.7-1.1-1.8-1.3-3.2-3.2 .9-3-1-3 0-1.5 1-1.5 .2-1.5-.3-1.5 .6-1.5-.1-1.5-1.4-3.1-.4-1.5 .4-1.5 1-1.5 .3-1.5-.4-3 .4-1.5 .5-1 2.3-2zM209.8 400.3l4.3 3 1.5 1.5 0 4.5-1.3 1.5-1.4 .3-3 0-1.5 .7-1.5 .2-1.5-.2-2-1-1-1.5-.2-3 .6-1.5 2.6-2.5 3-1.8z" fill="#ffa500" fill-opacity="0.143" fill-rule="evenodd"/><path d="M206.8 344.6l2.4 0 0 1.5 .7 .9 1.5 .4 1.5-.4 .4 .6 .1 3 .4 1.5-.4 4.5 .9 1.5 .1 1.5-1 1.6-2.1 4.5 .7 1.5 1.6 1.5 .9 1.5 .2 1.5-1.4 3-.4 3-.8 1.5-.7 .7-3 1-1.5-.2-3.5-3-.5-3-.9-1.5-.4-1.5 .4-1.5 1.1-1.5 .1-3 .3-1.5-.3-1.5-1.6-3.1-.2-1.5 2-3 .1-1.5-.6-3 .6-1.5 3.7-1.5-.4-1.5zM205.4 403.3l1.5-.8 1.5-.2 1.5-.1 1.5 .5 2.6 2.1 .4 1.1-.1 1.9-.6 1.5-.8 .5-3-.8-1.5 1.5-.8 .3-.7 .2-1.5-.3-1.6-1.4-.5-3 .8-1.5z" fill="#ffa500" fill-opacity="0.197" fill-rule="evenodd"/><path d="M204.7 350.6l.7-.5 1.5 .1 .8 .4 .7 .9 1.5-.5 1.5 .2 1.1 2.4-.3 3 .7 1.5-.1 1.5-1 3.1-2.3 3 .8 1.5 3.1 3 .3 1.5-.8 1.5-1.3 1.5 .1 3-.3 .5-1.5 0-1.5-1.3-1.5 1.1-1.5-.8-.5-1-.2-1.5-1.4-1.5-.5-1.5 2.1-4.5 .1-3-2.3-4.6-.2-1.5 2.4-3 .3-1.5-.7-1.5zM205 404.8l1.9-1.3 3 .4 1.5 .5 1.5 1.9-1.5 .8-1.5-1.2-1.5 1.3-.7 2.1-.8 .5-1.5-.2-1.1-1.8 0-1.5z" fill="#ffa500" fill-opacity="0.283" fill-rule="evenodd"/><path d="M206.8 355.1l3.1-.5 .7 .5-1.1 1.5 1 1.5 .3 3.1-.2 1.5-.7 .7-1.5 .3-1.5-1.4-1.5-.7-1.5-2.2-.2-1.3 1.7-2.1zM206.1 368.7l2.3-1 1.5 .4 2.3 2.1 .4 1.5-1.2 1.2-1.5 .6-1.5-.7-1.5-1.6-1.5-.3-.6-.7zM206.6 404.8l.7 0 .3 1.5-.5 1.5-.2 .4-1.5 0-.3-1.9z" fill="#ffa500" fill-opacity="0.421" fill-rule="evenodd"/><path d="M205.3 358.1l.1-.1 .2 .1-.2 .2zM207.2 370.2l1.2-1.3 1.5 .3 1.1 1 .1 1.5-1.2 .5z" fill="#ffa500" fill-opacity="0.682" fill-rule="evenodd"/><path d="M194.9 344.6l4.5-.9 10.5-.2 4.5 .2 4.4 .9 .2 3.1 1.9 5.9-.5 3-.8 1.5-3.6 2.6-6.1 1.5-6 0-4.5-.7-1.5-.6-2.3-1.3-.7-1.2-1.2-4.8 .1-3 1.1-4.5z" fill="#fff" fill-rule="evenodd"/><path d="M194.3 344.6l3.6-1.2 12-.2 6.1 .2 3.5 1.2 .2 3 1.8 6-.5 3-.6 1.5-4.4 2.9-6.1 1.5-4.5 .1-4.5-.5-1.5-.2-3-1.4-1.4-.9-.9-1.5-.4-3-.6-1.5 .2-3 1-4.5z" fill="#0000ff" fill-opacity="0.070" fill-rule="evenodd"/><path d="M196.5 344.6l2.9-1 10.5-.3 4.5 .3 2.8 1 .3 3.8 1.6 5.2-.5 3-1.2 1.5-1.8 1.5-1.2 .7-4.5 1.1-4.5 .4-6-1.2-1.7-1-1.1-1.5-.4-1.5-.5-6z" fill="#0000ff" fill-opacity="0.075" fill-rule="evenodd"/><path d="M198 344.6l2.9-.7 9-.4 3 .1 3 1 .1 2.4 1 5.1 .1 3-.3 1.5-2.4 2.4-4.5 1.6-6 .2-4.1-1.2-1.5-1.5-.4-1.5-.7-6z" fill="#0000ff" fill-opacity="0.105" fill-rule="evenodd"/><path d="M199.5 344.6l2.9-.5 7.5-.4 3 .2 1.9 .7 .9 7.5-.7 4.5-1.2 1.5-3.9 1.6-4.5 .6-3-.7-2.5-1.5-.8-3-.6-4.5 1-4.5z" fill="#0000ff" fill-opacity="0.143" fill-rule="evenodd"/><path d="M201.8 344.6l8.1-.7 1.5 .1 2.4 .6 .1 4.5 .7 3-1.3 4.5-1.7 1.5-1.7 .8-4.5 .6-1.5-.1-2.4-1.3-.9-1.5-.8-4.5 .1-1.5 1.5-3z" fill="#0000ff" fill-opacity="0.197" fill-rule="evenodd"/><path d="M206.6 344.6l3.3-.4 2.7 .4-.2 4.5 .9 3-.8 3-1.1 1.5-1.5 1.2-4.5 1-1.5-.2-.9-.5-1.3-1.5-.7-4.5 2.9-4.3 1.5-.7 1.2-1z" fill="#0000ff" fill-opacity="0.283" fill-rule="evenodd"/><path d="M205.8 349.1l2.6-1.1 2.9 2.6 .7 1.5-.6 1.9-1.5 1.8-1 .8-3.5 1.3-1.5-.3-1-1-.4-1.5 0-1.5 1.8-3z" fill="#0000ff" fill-opacity="0.421" fill-rule="evenodd"/><path d="M206.1 350.6l.8-.4 1.5-.1 1.5 1.1 .7 .9-.7 1.5-4.5 3.2-.6-.2-.5-1.5 .7-3z" fill="#0000ff" fill-opacity="0.682" fill-rule="evenodd"/><path d="M195.9 344.6l2-.7 10.5-.3 6 0 6.4 1 .1 3-.7 3 .8 3 .1 6 .4 1.6-1.8 6 .1 1.5 .6 1.5 1 4.5-.2 1.5-2.2 4.4-1.5 1.8-.7 2.8-1.6 1.5-2.5 1.6 1.6 3-.1 3 1.8 5.1 .4 .9 2.6 2.3 1.3 2.2 .6 3-.1 1.5-.8 1.5-1.3 1.5-1.2 .9-3.1 1.2-3 0-2.5 1-2 .3-4.5-.3-1.5-.6-3-2.4-1.5-2.7-1.5-1.9 .3-4.5 4.2-3.6 1.7-.9 2-1.5 .5-1.5-2.7-2.6 0-1.9 .4-1.5-3.8-3.1-.6-1.5-.4-3 .3-3-.4-1.5-1.5-3 .2-1.5 .9-1.5 .3-1.5-1.3-6 0-1.5 1.4-2 .3-1.1-.8-6 0-1.5 .9-3-.9-3zM197.9 344.6l10.5-.7 6 .2 2.2 .5-.2 3-.4 1.5 1.7 3-.1 1.5-.9 1.5 .3 1.5 1.4 1.5-2.4 3.9-.6 2.2 .3 1.5 1.2 1.5 1.1 3 .1 4.5-.1 1.5-.6 1.5-2.4 3-.5 3-1.6 1.9-1.5 .4-4.5-1-1.5 .1-1.5 1.5-1.5-.2-.6-1.2-1.2-4.5-3-6 1.1-1.5 .4-4.5-.8-3 .4-1.5 1.1-1.5-.1-1.5-1.3-3.1-.2-1.5 .4-1.5-.3-3 1.9-3-.1-1.5-2.2-1.5zM210.3 397.3l1.1-.5 .7 .5 .8 1.1 .5 1.9 3.1 3 1 1.5 .7 4.5-.7 1.5-3.1 1.7-3-.2-4.5 1.3-1.5-.1-4.5-1.1-1.6-1.6-.4-3-.7-1.5-.1-1.5 1.3-1.7 3-.1 4.8-4.2zM206.5 344.6l3.1 0 0 1.5 .3 .4 1.5 .5 1.5-.4 .6 1 0 3 .4 1.5-.4 4.5 .9 1.6 .1 1.4-1 1.6-2 4.5 .6 1.5 1.6 1.5 1 1.5 .1 1.5-1.3 3-.5 3-.8 1.5-.8 .8-3 1.3-1.5-.3-4-3.3-.2-3-1.1-3 .3-1.5 1-1.5 .1-3 .4-1.5-.3-1.5-1.6-3.1-.2-1.5 .7-1.5 1.2-1.5 .2-1.5-.7-3 .6-1.5 .6-.5 2.7-1zM205.3 403.3l1.6-.9 1.5-.2 1.5-.1 1.5 .5 2.8 2.2 .2 .6 .3 .9-.8 3-1 .6-3-.5-1.7 1.4-1.3 .3-1.5-.3-1.7-1.5-.5-3 .8-1.5zM209.6 353.6l1.9 0-.1 2.1-.7 .9 .9 1.5-.8 4.6-.9 1.1-1.5 .5-3-1.9-1.7-2.8-.3-1.5 3.5-4 1.5 .2zM205.4 368.7l1.5-1 1.5-.3 1.5 .4 2.6 2.4 .4 1.5-1.5 1.5-1.5 .9-1.5-.5-1.3-1.9-1.7-.2-1-1.3zM206.1 404.8l.8-.4 1.2 .4-.2 1.5-1 2.3-1.5-.1-.4-.7-.1-1.5 .5-.9z" fill="none" stroke="#ffa500" stroke-width="1.3"/><path d="M194.9 344.6l4.5-.9 10.5-.2 4.5 .2 4.4 .9 .2 3.1 1.9 5.9-.5 3-.8 1.5-3.6 2.6-6.1 1.5-6 0-4.5-.7-1.5-.6-2.3-1.3-.7-1.2-1.2-4.8 .1-3 1.1-4.5zM198.7 344.6l11.2-.7 3 .2 2.4 .5 .2 3 .8 4.5-.1 1.5-.3 3-1.1 1.5-4.9 2-4.5 .4-4.3-.9-1.7-1.1-.7-1.9-.8-6zM206.7 344.6l5.9 0-.3 4.5 1 3-.9 3-1 1.5-1.5 1.1-4.5 1-1.5-.2-.8-.4-1.3-1.5-.7-4.5 2.8-4.2 1.5-.7 1.3-1.1zM205.7 350.6l1.2-.6 1.5-.1 1.5 1 .9 1.2-.9 1.8-3.5 2.7-1 .3-1.2-.3-.3-1.5 .9-3z" fill="none" stroke="#0000ff" stroke-width="1.3"/></g><g clip-path="url(#c32)"><g mask="url(#mo)"><path d="M261 342.8l63 0 1.6 3 2 5 .2 3-.9 4 .8 2.9-.1 1-1.6 2.5-.3 1.5 1 3 .3 4.7 1 5 .7 2.2 .3 2-.3 2-1.2 3-.1 1 1.1 3 0 2-1.6 2.9-.6 2 1.6 8-.2 2-.7 2.1-.6 2.9 .2 2.9 .9 2 .4 2-.2 2-.7 1.4-1 .7-4 .5-8 2.8-4-.2-2.9 .6-6 0-5 .6-13.9-.2-9.9 .7-6-.2-2-.3-2-.9-2-1.7 0-82.7z" fill="#ffa500" fill-opacity="0.024" fill-rule="evenodd"/><path d="M261.6 343.8l1.2-1 59.7 0 .5 .6 1.5 2.4 1.6 5-.6 6 .1 3.9-1.2 4 .1 1 .9 3 .1 5 2 8.9-.3 2-1.5 3 .2 2 1 3-.5 2-1.4 2.9-.2 1 1.2 9-1.7 7-1.7 2.9-.1 1 .9 2-.1 1-9.3 4.6-4 .2-3.9 .9-5 0-5 .6-4.9-.1-5 .3-4-.3-9 .7-3.9 0-5-.5-2-1.1-1.3-1.3-.7-1 0-79.4z" fill="#ffa500" fill-opacity="0.028" fill-rule="evenodd"/><path d="M263.2 343.8l2.1-.7 4.3-.3 50.9 0 2.4 2 .9 2 1 4-.7 9.9-.8 4 1 5-.1 4 1.4 8.9-.4 2-1.2 2-.3 1 .1 2 .9 4-1.2 3.9 .6 5 0 5-.4 4-.5 2-3.4 5.9-1.8 1.6-6 2.9-4.9 1.8-7 .3-4 .7-9.9 .2-4-.3-11.9 1-6-.7-2-1.4-.8-1.1-.9-2-.3-3 0-39.5 .4-2.3-.4-2.9 0-27.6 1.5-2.3z" fill="#ffa500" fill-opacity="0.041" fill-rule="evenodd"/><path d="M269 343.8l7.2-.5 5 .2 3.7-.7 33.2 0 2.9 1.4 1.5 1.6 1.1 4 .2 2-1.3 12.9 .9 5-.1 4 .6 6.9-.3 2-1.2 3-.5 5 .6 4-.4 2.9 .9 5 0 8-.4 2-.9 2-2.7 3.6-2 1.8-6.6 2.5-3.8 2-6.5 .4-5 1-8.9 .3-4-.4-9.9 1.3-2 0-5-.6-2-1-.9-1-.6-1-.4-2-.1-6-.4-4.9 .3-9-.2-10.9 .3-3-.6-5 .9-5-.5-3.9 0-6-.5-5 .3-13.9 1-3 1.4-1.2 2-.6z" fill="#ffa500" fill-opacity="0.056" fill-rule="evenodd"/><path d="M284 343.8l9.1-1 22.1 0 3.8 1.3 1.4 .7 1.1 1 .7 2 .6 4-.2 5-.9 6.9 .8 6 .2 7.9-.3 4-1.2 4-.8 6 .3 5.9 1.2 5 .3 7-.2 2-1.4 3-3.6 3.9-1 .7-3 1-5.9 1.1-2 1.3-2 .2-3-.2-6 2.1-7.9 .5-4-.4-9.9 1.6-6-.4-2-.8-1-.8-1-1.9-.3-2-.3-23.9 .3-8.9-.5-5 1-5-.6-3.9 .1-5-.5-6 .4-14.9 1-2 1.4-.8 1-.2 7.9-.6 8 .1z" fill="#ffa500" fill-opacity="0.074" fill-rule="evenodd"/><path d="M290.9 343.8l8.7-1 13.1 0 6.3 2 1.4 1 .6 1 .9 6-.2 4-.8 6.9 .8 6 .1 7-.5 4.9-2.3 11 .5 4.9 1.5 5 .5 7-.3 2-1.6 3-2.6 2.7-2 1.2-2 .6-3 .3-4.9-.4-6 .8-4-.2-1.3 .9-.9 2-.8 .4-5.9 1.2-4-.4-4 1.1-6.9 .9-6-.9-1.7-1.3-.5-1-.4-2 .2-5-.4-4.9 0-14 .3-8.9-.6-5 1.1-5-.7-3.9 .2-5-.6-6 .4-4.9 .1-10 .6-1.2 1-.8 1-.3 7-.5 8.9 0 3-.6z" fill="#ffa500" fill-opacity="0.101" fill-rule="evenodd"/><path d="M298.4 343.8l9.7-.3 4.9 .2 1 .7 3.2 .4 .8 .8 1 .2 1 1.6 .5 6.4-.5 8-.4 .9 .4 1.2 .5 7.8 .5 1.8 0 2.2-.7 1.9-.3 5-.7 1-.3 3.1-.6 .9-.4 2.4-.6 .6-.3 2 .4 3.9 .5 .6 .5 2.4 .5 .5 1.1 3.5-.1 8.3-.6 .7-.4 1.1-2.8 2.8-1.2 .4-1 .7-4.9 .2-5-.4-5 .4-5-.3-5.9 1.5-2 2.6-5 .3-.7 .6-1.3 .4-1 .7-4 .2-1 .7-1.9 .1-2.8-.1-1.2-.6-2-.3-1.1-1.1-.1-1-.2-15.9 .2-18.9-.9-3 .1-2.4 .5-.6 .5-2.3 .5-.7 0-.9-.6-1-.2-2 0-7-.8-2 0-4 .5-1 .3-1.9 .1-10 1.2-1.1 7.9-.5 7 .2 1.2-.6 6.8-.5 1-.5 7.9-.3z" fill="#ffa500" fill-opacity="0.072" fill-rule="evenodd"/></g><path d="M300.5 343.8l4.6-.6 5.9 .2 1.3 .4 2.7 .4 3 1.3 1.3 1.3 .3 1 .9 5-.1 5-.7 2.9-.1 2 .9 6 .1 8-.8 2.9-.4 4-1.1 4-2.2 4-.1 1 1.5 4.9 2 5 .8 7-.9 3-2.7 2.9-1.7 1.3-1 .3-4.9 .7-5-.7-5 .4-6-.9-5.9 1.1-2.5 1.8-2.5 .3-1 .5-2 1.9-1 .6-3 .2-2 .8-1.9 .4-5-.9-1.2-.8-.8-2 .6-5-.7-4.9-.1-5 .3-3-.2-4 .3-3.9-.4-4 .6-3-1.1-5 .3-2 1.3-3-.2-1.9-.7-2-.1-1 .6-3-.9-4-.3-3 1-4.9-.1-3 .4-3-.3-3 .4-1 1.3-.6 4-.7 9.9-.1 4-.9 5-.4 2.9-.6z" fill="#ffa500" fill-opacity="0.055" fill-rule="evenodd"/><path d="M305.9 343.8l5.1 .2 5 1.2 1.3 .6 1.1 1 .7 2 .6 4 .1 3-.9 6.9 .8 5 .4 8-1 3.9-.2 3-.9 3-1 2.5-2.3 2.5-.4 1 .1 1 4.6 10.9 .5 6-.5 2.1-1.2 1.9-1.8 1.7-1 .6-2 .7-3.9 .4-5-.6-5 .3-6-1.3-3.9 .5-7-.5-1 .2-1 .8-2 2.6-1-.2-2-1.4-.7 .1-.3 .4-.2 2.6-.4 1-1.3 1.3-2 .1-1.2-.4-.8-.7-1.5-.3-.5-.3-.3-.7 .3-1.7 1 .2 1 1.1 1-.2 1.1-1.4 1.1-2-.3-4.9-.9-.4-3 2.2-1-.9-.3-.9-.2-6 .5-2 2 2.7 1-.3 1.6-2.4-.8-1-1.8 0-1 .6-1-.6-.6-3 .6-2.2 1-.7 2-.3 1 .6 1 1.7 1 .9 1.9 .8 1 0 1.5-.8 1-1 .5-1-.2-1.9 .3-1 .9-1.2 1-.3 1.4 .5-.8 2.9 .5 1 1.9 1.9 1 0 .7-.9 .8-2 .1-3.9 3.2-2 .6-1-.7-1-3.7-2-1.2-1-.5-1-.3-3-.9-1-3.1-1.1-2-1.8-1-.5-1 0-1 .6-1.9 2-1-.5-1.3-2.6 1.5-2 .1-1-.3-1.7-1-1.3-1-.4-1 .5-1-.7-.5-1.4-1.5-2.1-.8-2.9 .5-3 2.3-4.2 3-1.7 1.1-2-.3-1-3.8-1.2-.6-.8 .1-1 1.8-1 1.7-.2 2.9 .2 2 .8 1-.1 7-1.9 8-1.3zM269.3 365.5l-.5 1.2 .1 1 .4 .7 1 .2 2-1.8 .4-1.1-.4-.7-1-.1zM276.2 358.5l-2 1.5-.2 1.7 .4 1 .8 .3 1-.2 1-.3 .9-.8 .2-1-.1-1.9-1-.7zM267.3 371.7l.6 3 .8 1 .4 1-.8 .6-1-1-.4-1.6-.7-1 .1-1.3zM266.1 379.6l1.2-.8 2 2.7 1 .4 1-.2 .3 .9-.3 .5-2 .2-3 1.8-1-.4-.8-2.1 .7-2zM275.7 382.6l1.5-.3 .7 .3 .6 1-.2 3-1.1 .8-1-1-1.1-2.8zM266.2 390.6l.1-.1 0 .1 0 .1z" fill="#ffa500" fill-opacity="0.069" fill-rule="evenodd"/><path d="M299.9 344.8l7.2-.5 4.9 .3 4 1.3 1.2 .9 .8 2 .7 4 .2 3-.9 6.9 .9 5 .4 8-1.2 3.9-.2 3-.9 2.5-1.7 2.5-4.1 3-.3 1 3.1 4 3.8 6.9 .5 2 .2 5-.5 2-1 1.4-2 1.7-2 .8-4.9 .5-4-.5-5 0-6-1.7-3.9-.6-2-1.1-1.5-1.5-.7-2 .5-2-.2-1-1.2-1 .4-1 2.7-2.2 4.9-2.3 3-2.1 2.1-2.3 1-2-.5-1-3.6-2.2-2.9-2.8-.7-1-.2-2-.6-1-2.5-1.3-4-3.9-3-.6-.5-1.1 .5-.8 2 0 1-1.2 .1-2-.7-2 .2-2-.5-3 0-4 .5-1 2.3-1.9-.1-1-.6-1-2.4-3-.7-2 .2-1 .8-1 .9-.4 4-.7 4-1.6zM275.2 370.7l1-.9 1 .5 .7 1.4-.1 1-.6 .6-1 .1-1-.6-.2-1.1z" fill="#ffa500" fill-opacity="0.114" fill-rule="evenodd"/><path d="M299.5 345.8l7.6-.8 3.9 .3 2.4 .5 1.9 1 .8 1 .3 1 1 7-.6 6.9 .7 4 .6 7-.3 2-1.2 3.9-.4 3-1.2 2.3-2 1.8-3 1.5-2.9 .8-2 .1-2-.5-6.7-2-1.3-.8-2.3-4.2-2.7-3-1.7-3.9 .2-3 3.2-9 0-2-1.4-3.9-.1-1 1.6-4-.6-3 .8-1zM305.9 395.6l2.2-.4 2.9 .9 1 .8 4.3 5.6 .8 2-.1 4-.4 2-1.4 2-2.2 1.3-2 .5-3.9 .2-7-.5-2.5-.5-2.4-1-4.2-3-.7-1-.1-1 .9-3 1-1.5 5-3.7 4-2.3z" fill="#ffa500" fill-opacity="0.179" fill-rule="evenodd"/><path d="M303.4 346.8l3.7-.5 2 0 2.7 .5 1.2 .7 1.1 1.3 1.1 6-.1 6.9 .3 5 .8 5-.5 3-2.7 7.5-2 1.3-3.9 .8-2-.1-2-.6-3-1.5-3-.8-.8-.7-.8-2-1.1-6.9 .2-2 1.5-4-.1-3 .6-3-.5-2.9 .7-3 2.5-5 .8-.9zM304.4 400.5l2.7-.7 2.9 .2 2 1 2 1.6 1.1 1.9 .1 2-.8 3-1.4 2-1 .6-2 .5-5.8-.1-4.1-1-1.9-1-2.1-1.9-.2-1.1 .8-3 1.2-2 2.1-1z" fill="#ffa500" fill-opacity="0.266" fill-rule="evenodd"/><path d="M306.2 351.8l.9-.4 2 .7 1.7 1.7 .5 1 .1 3 .6 2.1 .1 1.8-1.3 3 2.3 6-.2 2-1.3 3-2.5 2-2 .8-2-.2-2.7-1.6-2.1-3-.5-2 .1-1 .5-1 2.4-2 1.8-2 .3-1-.5-1-1.5-1-.7-1 0-1 .8-2.9 1.6-4zM303.8 404.5l3.3-.4 3.9 1 1 1.4-.5 2-.8 1-1.6 .7-2 0-1.9-.7-2.8-2-.4-1 .3-1z" fill="#ffa500" fill-opacity="0.383" fill-rule="evenodd"/><g mask="url(#mb)"><path d="M260.3 342.8l66 0 2.6 3 .9 2 0 5 .5 5-1.2 2.9-2.1 2.2-5 3.2-3 1.1-2 .3-10.9 .3-26.9-2.1-12.9-.1-3-.4-3-1.3z" fill="#0000ff" fill-opacity="0.024" fill-rule="evenodd"/><path d="M260.3 342.8l64.5 0 2.9 3 1 2 0 5 .6 5-.7 1.9-.7 1-4.9 3.9-4 1.8-3 .4-10.9 .3-9-.7-5.9-.8-21.9-.7-5-.5-3-1.5z" fill="#0000ff" fill-opacity="0.028" fill-rule="evenodd"/><path d="M260.7 342.8l62.8 0 3.2 3 1 2 .1 5 .5 3 0 2-.7 1.9-.8 1-4.8 3.6-2 1-4 .9-10.9 .3-16.3-1.8-20.5-.3-4-.4-2-.6-2-1.4 0-18.8z" fill="#0000ff" fill-opacity="0.041" fill-rule="evenodd"/><path d="M260.7 343.8l1-1 60.7 0 3.4 3 1 2 0 4 .7 4 0 2-.3 1-1.2 1.6-4 3.2-3 1.4-3 .6-9.9 .4-9-.7-7.9-1.1-20.9-.4-4-.3-2-.8-2-1.6 0-16.9z" fill="#0000ff" fill-opacity="0.056" fill-rule="evenodd"/><path d="M261.6 343.8l1-1 58.6 0 2.8 2 1.6 2 .6 2-.2 3 .7 4-.1 2-1 1.9-4.6 3.8-2 1-4 .8-9.9 .2-10-1-5.9-.9-20.9-.2-4-.4-2-.8-2-2.2 0-14.8z" fill="#0000ff" fill-opacity="0.074" fill-rule="evenodd"/><path d="M262.3 343.8l1.3-1 56.4 0 4 2.8 1.3 2.2 0 4 .6 4-.1 2-1.2 1.9-3.6 3.3-3 1.3-3 .5-8.9 .3-10-.9-7.9-1-22.9-.4-2-.6-1-.7-1.5-1.8-.5-1.1 0-12.3z" fill="#0000ff" fill-opacity="0.101" fill-rule="evenodd"/><path d="M263.2 343.8l3.7-1 3.4 .6 3.9-.5 3 .7 7 .1 4-.3 2.4-.6 27.6 0 .8 .8 1 .1 1 .9 1 .1 2.1 2.1 .1 6 .8 2.4 0 1.4-.7 1.2-.2 1-1.1 1.2-2.9 2.7-1.1 .2-1 .8-10.9 .3-10-.2-.7-.1-1.3-.7-5.1-.3-.8-.6-1-.1-24.3-.3-.6-.6-1.1-.4-.1-1-.8-.7-.7-5.2 .7-8z" fill="#0000ff" fill-opacity="0.072" fill-rule="evenodd"/></g><path d="M263.7 343.8l.6-.5 2-.2 17.9 .2 10-.5 22.9 0 1.9 .4 2 .9 1.9 1.7 1.3 2 .4 7-.2 3-1.1 1.9-2.3 2.5-2 1.2-4 1-13.9-.1-2.8-.6-5.2-.4-1.5-.6-1.4-.2-24.9-.1-2-.9-1.7-1.8-1-2.9 0-8 .3-2 1.3-2z" fill="#0000ff" fill-opacity="0.055" fill-rule="evenodd"/><path d="M264.7 343.8l1.6-.3 7.9 0 11 .4 12-1.1 17.8 0 2 .4 4 1.5 2.2 2.1 .6 2 .3 7-.4 2-1 1.9-2.7 2.5-3 1.3-4 .5-8.9 .1-15.9-2-18.9 .1-4-.3-2-.8-1.2-1.4-.7-1.9-.4-3 .1-6 .4-2 1.2-2z" fill="#0000ff" fill-opacity="0.069" fill-rule="evenodd"/><path d="M293.8 343.8l7.3-.8 8-.1 5.9 .4 5 1.4 1.6 1.1 1.3 2 .4 8-.7 3-1.6 2-3.1 1.9-3.9 .7-6.9 .3-9-.7-9.9-1.5-21.9 0-2.6-.8-1-1-.6-.9-.6-4 .2-7 .7-2 1.9-1.4 2-.4 7.9 0 11 .3z" fill="#0000ff" fill-opacity="0.114" fill-rule="evenodd"/><path d="M299.5 343.8l5.6-.3 7.9 .3 5 .8 2.5 1.2 1.5 2 .2 2 0 7-1.2 2.9-2 1.8-3 1.1-9.9 .5-9-.8-8.9-1.5-21.9 .1-2-.6-1.4-1.5-.8-4 .2-6.1 .4-1.9 .6-1 1-.7 2-.4 7.9-.1 12 .3z" fill="#0000ff" fill-opacity="0.179" fill-rule="evenodd"/><path d="M296.8 344.8l6.3-.5 6.9 0 5 .4 3.8 1.1 1.3 1 .8 2 .2 7-.7 3-2 1.9-2.4 1-8.9 .7-9-.7-9.9-1.9-5 .3-15.9-.1-2-.3-1-.7-.8-1.2-.5-3 .3-6.5 .6-1.5 1.3-1 9-.3 12 .4z" fill="#0000ff" fill-opacity="0.266" fill-rule="evenodd"/><path d="M296.9 345.8l6.2-.7 6.9 0 5 .5 3 1.2 .9 1 .6 2 .1 6-.6 2.4-1.4 1.5-2.3 1-3.3 .5-5.9 .2-9-.9-3-.8-4.9-1.8-2-.1-4 .7-13.9 0-3-.4-1.3-1.3-.5-2 .2-3 .6-3.4 1-.8 4-.1 3.9-.5 4 .6 4-.1 4 .5 5.9-1z" fill="#0000ff" fill-opacity="0.383" fill-rule="evenodd"/><path d="M300 346.8l4.1-.5 5.9-.1 4.1 .6 1.9 1 1 1.6 .4 2.4-.2 4-.8 2-1.2 1-2.2 .7-5.9 .5-8-.8-1.7-.4-1.3-.8-1-1.2-.2-1 .2-5 1-2 1.3-1z" fill="#0000ff" fill-opacity="0.517" fill-rule="evenodd"/><path d="M303.5 348.8l5.6-.7 3.1 .7 1.1 1 .9 2-.2 2-.9 2-1.2 1-3.8 1-2.5 0-4-1-1-1-.4-1 0-3 1.3-2z" fill="#0000ff" fill-opacity="0.714" fill-rule="evenodd"/><path d="M289.5 344.6l2.7-.5 9-.6 10.6 .1 6.5 1 .2 3 1.1 1.5 .1 1.5-.6 3 .6 3-.6 6.1 .5 6-.9 3 .5 1.5 1.2 1.5-.2 1.5-2.1 4.5-.7 3-5.3 7.6 1.2 1.5 2 1.5 .9 1.5 .9 3 .3 4.5 1.5 1.5 1 1.5 .1 1.5-.4 1.5-3.3 3-1.5 2.2-7.6 .4-4.5 .8-4.5-1.1-3-1.9-1.5-.1-1.5 .5-1.5-.3-2.3-3.5-.9-4.5 .4-1.5 4.1-3 1.7-1.7 3 .9 1.3-.7 1.7-1.5 1.5-.6 .8-.9-1.4-1.5-.9-.5-1.5-.2-1.2-.8 0-1.5-.6-1.5-1.8-1.5-.7-1.6-.1-3-1.6-3.2-1.5-1-4.3-1.8-.1-1.5 .6-1.5 .1-1.5-1.1-1.5-.1-1.5 .4-.8 2.6-2.2-1.1-.9-1-2.1 1.3-3-.9-3.1 .6-.7 2.9-2.3 .3-1.5 1.9-3-.5-1.5-2.8-3zM284.7 352.1l1.5-.7 1.5 .1 .4 .6-.6 1.5-1.3 1-1.5-.2-.5-.8z" fill="#fff" fill-rule="evenodd"/><path d="M289.9 344.6l2.3-.8 9-.6 12.1 .2 3 .5 1.6 .7 .2 3 1.1 1.5 .3 1.5-.5 3 .1 1.5 .4 1.5-.5 6.1 .4 6-.8 3 .4 1.5 1.2 1.5-.2 1.5-2.2 4.5-.8 3-3.7 4.4-1.5 .9-.5 .8 0 1.5 3.5 3 .9 1.5 1.2 3 .3 4.5 2.5 3 .1 1.5-.5 1.5-3 2.8-1.5 2.3-1.5 .4-6.1 .1-4.5 .7-4.5-1.2-1.5-.8-1.5-1.3-1.5 0-1.5 .5-1.5-.5-2.1-3-.8-4.5 .3-1.5 4.2-3 1.4-1.3 3 .7 1.5-.6 1.5-1.5 1.5-.4 1.2-1.4-1.3-1.5-1.4-.8-1.5-.2-.7-.5-.6-3-1.9-1.5-.8-1.6 .2-3-2.2-3.6-1.5-.9-3.9-1.5-.2-1.5 .8-3-1.2-1.5-.2-1.5 3.5-3-.3-.7-1.5-.9-.7-1.4 1.3-3-.8-3.1 3.2-2.7 .4-1.8 2-3-.5-1.5-1.7-1.5-1-1.5zM285.5 352.1l.7-.3 1.5 .3-.9 1.5-.6 .5-1.6-.5z" fill="#ffa500" fill-opacity="0.070" fill-rule="evenodd"/><path d="M293.9 344.6l2.8-.9 3-.3 10.5 .1 3.1 .3 2 .8 0 1.5 2.4 4.5 .2 1.5-1.3 3 .1 1.5 .9 1.5 .3 1.5-.6 4.6 .8 3-.9 4.5 .4 3-.2 1.5-1.9 6-1 1.5-1.2 1.3-1.5 .7-3.1 2.1-7.5-1.2-3-1.9-1.5-1.4-1.8-2.6-.3-1.5 .2-1.5-.8-1.5-.3-1.5-1.3-1.5 .4-1.5 .9-1.2 .7-1.8 0-3-.5-1.5-2.7-3-.8-1.6 .4-1.5 1.4-.6 .8-.9 .7-2.9 1.7-1.6-.2-3-1.3-3zM307 397.3l.2-.4 1.5 1.1 1.5 .1 1.6-.6 1.5 .1 1.5 1.2 .6 1.5 .4 3 1.6 3 0 1.5-.3 1.5-2.3 3.2-1.5 1-7.6 .2-3 .6-4.5-1.7-3-2.3-3.3-1-.1-1.5 .6-1.5-1.7-.5-.5-1 .5-1.5 3-1.2 3 .5 3-.8 1.5-2.2 1.2-.8 3.3 .1z" fill="#ffa500" fill-opacity="0.075" fill-rule="evenodd"/><path d="M295.7 344.6l2.5-.7 3-.2 4.5 .3 4.5-.2 3.1 .6 .3 .2 0 1.5 1 1.5 1.9 4.5-1.2 3-.1 1.5 1.3 3-.1 1.6-.8 3 .6 4.5-.2 6-.6 3-.9 3-1.2 2.3-1.5 1.2-4.6 2-1.5 .2-1.5-.3-1.9-.9-.9-1.5 .1-3-.3-.4-3 2-1.8-1.6-.2-1.5 .3-1.5-.3-3-.4-1.5-1-1.5 .5-1.5 1.8-3 1.2-3-4.2-3 .7-4.6 .8-1.5 1.4-1.5 .1-4.5-1.4-3zM307.9 400.3l3.9-1.1 1.5 .4 .4 .7 1.8 4.5 .4 3-.2 1.5-2.4 3.3-7.6 .2-3 .4-1.8-.9-2.7-.8-3.3-3.7 .6-1.5 1.8-1.5 3.9-2.4 1.5-1.7z" fill="#ffa500" fill-opacity="0.105" fill-rule="evenodd"/><path d="M297.2 344.6l4-.6 4.5 .5 3-.4 3.5 .5 0 1.5 1.1 1.8 1.4 4.2-.6 3 0 1.5 .6 3 .6 1.6-1 3-.2 1.5 .9 4.5 .2 3-.9 4.5-1 1.7-1.5 1.1-3.1 .7-2.5 4-.5 .2-1.5-.4-1.2-1.3 .3-3-.6-2-1.5-.8-1.5 .8-1.5 1.4-.4-.9 .1-1.5-.6-4.5-.8-1.5 0-1.5 2.3-3 .3-1.5 1.7-3-2.6-1.7-1-1.4-.6-1.5-.1-1.5 1.7-1.5 .2-1.5-.2-1.5 .4-3-1.4-3zM307.2 401.8l3-.9 1.6-.1 1.5 1.1 .8 1.4 .7 3-.5 3-1 2-1.5 .4-1.6-.2-7.5 .7-4.5-1.9-.7-1-.2-1.5 .9-1.5 1.5-1.5 3-2.4 1.5-.6z" fill="#ffa500" fill-opacity="0.143" fill-rule="evenodd"/><path d="M299 344.6l4.5 0-.1 3 .8 1.1 1.5 .2 1.5-2.3 .8-.5 0-1.5 1.4 0-.2 3 .8 1.5 1.8 1.3 1 1.7 .3 7.5 1.1 1.6-.1 1.5-1 1.5-.5 1.5 1.2 3 .3 3 0 1.5-.7 3-.4 1.5-1.2 .9-5.6 2.1-.5 2.1-.8-.6 .4-1.5-.4-1.5-2.2-3.5-1.5-.2-1.5 .2-.8-1-1.2-3-.1-1.5 3.3-3 .2-1.5 1.6-1.2 1.5-1.8-1.5-2.2-2.7-.9-1.3-1.5 .4-1.5 1-1.5-.2-1.5-.5-1.5 .4-3-.8-3zM305.8 403.3l4.4-1.5 1.6 .2 1.4 1.3 .5 1.5-.2 1.5-1.6 3-.1 .2-1.6-.6-2.1 1.9-.9 .2-4.5 0-1.5-1.6-1.5 .2-.4-.3 .4-.8 1.5 .7 1.1-1.4-1.2-1.5 .9-1.5 2.2-1.5z" fill="#ffa500" fill-opacity="0.197" fill-rule="evenodd"/><path d="M301.2 350.6l1.5-.6 1.5 .8 1.5 .4 1.5-1 1.5-.4 2.4 2.3 1.1 6-.4 1.5 1.3 3.1-2.9 2.5-3 .2-1.5-1 0-1.7-1-1.5-2-2.3-1.7-.8 .2-1.8 2.4-1.2-.1-1.5-1.8-1.5zM311 367.2l.8-.5 .9 2 .3 3-1 3-.1 1.5-.8 1.5-.9 .5-1.5 0-1.3-.5-.2-1.6-1.5 .1-1.4-1.5-.7-1.5-.9-1.1-1.5 0-.9-.4-.6-1.5 1.5-.6 1.5-1.3 1.5-.4 1.5 .7 1.5 .2 1.5-.3zM308.4 403.3l1.8-.6 1.6 .3 .8 1.8-.8 1.4-3.6 1.6-1 1.6-1.5 .1-1-1.7 .1-1.5 1-1.5z" fill="#ffa500" fill-opacity="0.283" fill-rule="evenodd"/><path d="M306.7 353.6l.5-.5 1.5-.5 .9 1 0 3 .6 .4 .7 1.1-1 3 1.1 1.6-2.3 1.3-1.5-.8-2.8-3.6-.8-1.5 .9-1.5 2.4-1.5zM303.3 370.2l.9-.6 6-.1 1.1 .7-.6 1.5-3.5 2.1-1.5 0-1.5-2.7zM307.5 404.8l1.2-.6 1.5-.1 .9 .7-3.9 1.9-.4-.4z" fill="#ffa500" fill-opacity="0.421" fill-rule="evenodd"/><path d="M304.8 358.1l.9-.9 1.5 .7 .5 1.7-.5 .6-1.5 0-.4-.6zM306 371.7l1.2-.9 1.1 .9-1.1 .7z" fill="#ffa500" fill-opacity="0.682" fill-rule="evenodd"/><path d="M291.9 344.6l6.3-.9 9-.3 9.1 .4 3.2 .8 0 1.5 .9 3 .7 4.5-.3 3-.6 1.5-.9 1.6-1.5 1.3-6 1.3-10.6-.1-6-1.5-1.5-.7-2.3-3.4-1.1-3-1.8-3-.2-1.5 .9-1.3 2.7-1.7z" fill="#fff" fill-rule="evenodd"/><path d="M290.2 344.6l5-1 4.5-.4 13.6 0 4.5 .3 2.3 1.1 0 1.5 1.4 7.5-.2 3-1.5 3-1.6 1.6-4.9 1.2-12.1 .1-7.5-2-1.1-.9-2.5-3-.6-3-1.8-3-.2-1.5 1.7-2.4 1-.6z" fill="#0000ff" fill-opacity="0.070" fill-rule="evenodd"/><path d="M294.3 344.6l2.4-.7 3-.4 7.5-.2 7.6 .2 3 .7 .6 .4 0 1.5 1.6 6-.2 3-.9 3-1.1 1.5-1.5 .8-4.5 1.3-9.1 0-1.5-.2-5.5-1.9-1.5-1.5-.4-1.5 0-6 .8-1.5 .2-1.5-.5-1.5z" fill="#0000ff" fill-opacity="0.075" fill-rule="evenodd"/><path d="M296.4 344.6l3.3-.8 7.5-.4 7.6 .4 2.4 .8 0 1.5 1.7 6-.4 3-1.1 3-2.6 2-3 .8-9.1-.1-3-.7-1.5-.8-1.6-1.2-.9-1.5-.3-1.5 .3-4.5 1.1-3z" fill="#0000ff" fill-opacity="0.105" fill-rule="evenodd"/><path d="M298.2 344.6l3-.7 6-.3 6.1 .3 2.6 .7 .4 3 1.4 3 .3 1.5-1 4.5-.7 1.1-1.5 1.4-1.5 .7-4.6 .6-6-.4-1.5-.4-2.7-1.5-1.3-1.5-.6-1.5-.1-1.5 1.5-6z" fill="#0000ff" fill-opacity="0.143" fill-rule="evenodd"/><path d="M299.7 344.6l7.5-.8 4.6 .2 2.8 .6 0 1.5 .5 1.5 1.7 3 .4 1.5-1.3 4.5-1.1 1.4-1.5 .8-4.6 1-6-.6-2.1-1.1-2.4-2.1-.5-.9-.1-1.5 2.1-7.5z" fill="#0000ff" fill-opacity="0.197" fill-rule="evenodd"/><path d="M303.2 344.6l4-.6 5.8 .6 0 1.5 3.2 6-.3 1.5-1.4 3-2 1.5-2.3 .8-3 .3-3-.5-1.5-.6-1.5-1.8-1.7-1.2-.5-1.5 2.2-6 2-1.5z" fill="#0000ff" fill-opacity="0.283" fill-rule="evenodd"/><path d="M305.5 344.6l1.7-.3 3.8 .3 0 1.5 4 6-.4 1.5-1.3 2.4-3.1 2.2-1.5 .3-3.6-.4-1.8-1.5-.9-1.5-1.6-1.5 .4-1.8 1.5-1.7 1.5-1 .9-1.5z" fill="#0000ff" fill-opacity="0.421" fill-rule="evenodd"/><path d="M306.9 344.6l1.7 0 0 1.5-1.4 1zM306.1 350.6l1.1-.8 4.6 0 .7 .8 .9 1.5-1.3 3-1.4 1.5-2 1.1-1.5-.1-1.9-1 .6-1.5 .1-1.5-.3-.3-1.5-.1-1.5-1.1z" fill="#0000ff" fill-opacity="0.682" fill-rule="evenodd"/><path d="M289.5 344.6l2.7-.5 9-.6 10.6 .1 6.5 1 .2 3 1.1 1.5 .1 1.5-.6 3 .6 3-.6 6.1 .5 6-.9 3 .5 1.5 1.2 1.5-.2 1.5-2.1 4.5-.7 3-5.3 7.6 1.2 1.5 2 1.5 .9 1.5 .9 3 .3 4.5 1.5 1.5 1 1.5 .1 1.5-.4 1.5-3.3 3-1.5 2.2-7.6 .4-4.5 .8-4.5-1.1-3-1.9-1.5-.1-1.5 .5-1.5-.3-2.3-3.5-.9-4.5 .4-1.5 4.1-3 1.7-1.7 3 .9 1.3-.7 1.7-1.5 1.5-.6 .8-.9-1.4-1.5-.9-.5-1.5-.2-1.2-.8 0-1.5-.6-1.5-1.8-1.5-.7-1.6-.1-3-1.6-3.2-1.5-1-4.3-1.8-.1-1.5 .6-1.5 .1-1.5-1.1-1.5-.1-1.5 .4-.8 2.6-2.2-1.1-.9-1-2.1 1.3-3-.9-3.1 .6-.7 2.9-2.3 .3-1.5 1.9-3-.5-1.5-2.8-3zM284.7 352.1l1.5-.7 1.5 .1 .4 .6-.6 1.5-1.3 1-1.5-.2-.5-.8zM294.4 344.6l3.8-.6 3-.1 9 0 4.5 .7 0 1.5 2.5 4.5 .3 1.5-1.4 3 .1 1.5 .9 1.5 .4 1.5-.8 4.6 .9 3-.8 4.5 .3 3-.3 1.5-1.2 4.5-.6 1.5-1 1.5-.7 .7-4.6 2.7-3 0-4.5-1.1-1.5-1.6-1.5-.4-2.8-3.3 0-3-.7-3-.8-1.5-.4-1.5 1.5-3 .2-1.7 .8-1.3 0-1.5-2.3-1-1.8-2-.6-1.6 2.4-3 .2-1.5 1.3-1.5 .7-1.5-.1-3-1.4-3zM310.3 398.8l1.5-.8 1.5 .1 .9 .7 .7 1.5 .6 3 1.4 3-.3 3-2.1 3-1.2 .9-7.6 .2-3 .5-4.5-1.7-3-2.4-1.8-.5-.6-1.5 1-1.5 .1-1.5-.5-1.5 1.8-.2 1.5 .3 3-1.1 3-3.1 3 .2 1.5-.6zM298.7 344.6l5.1 0-.1 3 .5 .6 1.5 .3 1.5-2.4 0-1.5 2.9 0 0 1.5-.5 1.5 .6 1.5 1.6 .9 1.3 2.1 .2 7.5 1 1.6-.1 1.5-1.4 3 1.1 3 .3 3 0 1.5-.9 4.4-1.5 1.2-5 1.9-1.1 2.9-1.5-.6 0-1.2 .7-1.1-.3-1.5-.8-1.5-1.1-1.5-1.5-.4-1.5 .3-1-1.4-1.1-3-.1-1.5 3-3 .3-1.5 .4-.6 2.7-2.4-1.2-2-1.5-.2-1.5-.7-1.2-1.7 .4-1.5 .9-1.5-.6-3 .4-3-.9-3zM309.9 401.8l1.9 0 1.5 1.4 .5 1.6-.5 3-.8 1.5-.7 .8-1.6-.6-1.5 1.3-1.5 .3-4.5 .1-.7-.4-.8-.9-1.5-.1-.9-.5 .9-1.5 1.5 .3 .2-.3-.9-1.5 1.1-1.5 1.1-.8 1.5-.9 1.5 0zM306.7 352.1l2-.7 1.5 1.5 .3 .7-.1 1.5 1.1 3-.7 1.5 0 1.6 1.2 1.5-1.8 1.3-1.5 .5-1.7-.3-.5-1.5-3.4-4.6 .4-1.5 2.2-1.5-.2-1.5zM310.3 368.7l1.5-.5 .2 .5-.2 3.6-3.1 1.6-1.5 .4-1.5 .2-1.5-2.4-1.9-1.9 1.9-1.3 1.5 .4 1.5 0zM309.7 376.2l.5-.6 .3 .6-.3 .5zM310.2 403.3l1.6 1.2 0 .5-4.6 2.6-1.4-1.3 1-1.5z" fill="none" stroke="#ffa500" stroke-width="1.3"/><path d="M291.9 344.6l6.3-.9 9-.3 9.1 .4 3.2 .8 0 1.5 .9 3 .7 4.5-.3 3-.6 1.5-.9 1.6-1.5 1.3-6 1.3-10.6-.1-6-1.5-1.5-.7-2.3-3.4-1.1-3-1.8-3-.2-1.5 .9-1.3 2.7-1.7zM298.1 344.6l9.1-.7 4.6 .2 4.2 .5 .3 3 1.4 3 .3 1.5-1 4.5-.7 1.2-1.5 1.3-1.5 .7-4.6 .5-6-.3-1.6-.4-2.6-1.5-1.3-1.5-.5-1-.2-2 1.4-6zM305 344.6l2.2-.2 4.6 .2 0 1.5 3.6 6-.6 2.2-1.5 2.3-2.4 1.5-2.2 .6-4.5-.6-4-4.5 1-2.5 1.5-1.9 1.8-1.6 .5-1.5zM307.1 350.6l3.1 .2 1.6-.3 1 1.6-1 2.5-1.5 2-1.6 .7-1.5-.1-1.3-.6 .8-1.5 .3-1.5-1.3-1.3-1-.2 1-.2zM310.2 353.6lz" fill="none" stroke="#0000ff" stroke-width="1.3"/></g><g clip-path="url(#c33)"><path d="M373.7 450.7l1.5 0 1.5 0 1.5 0 1.5 0 1.5 0 1.5 0 1.5 0 1.5 0 1.5 0 1.5 0 1.5 0 1.5 0 1.6 0 1.5 0 1.5 0 1.5 0 1.5 0 1.5 0 1.5 0 1.5 0 0-.1 1.5 0 0-.9 1.5 0 0-2.2 1.5 0 0-2.5 1.5 0 0-3.2 1.5 0 0-6.2 1.5 0 0-5.6 1.5 0 0-3 1.5 0 0-1.4 1.5 0 0-.2 1.6 0 0 .6 1.5 0 0 3.7 1.5 0 0 4 1.5 0 0 3.6 1.5 0 0 2.3 1.5 0 0 1.2 1.5 0 0 1.6 1.5 0 0 .7 1.5 0 0 .5 1.5 0 0 .3 1.5 0 0-.8 1.5 0 0-2.2 1.5 0 0-1.4 1.5 0 0-2 1.5 0 0-2 1.5 0 0-1.9 1.5 0 0-2.1 1.5 0 0-1.7 1.6 0 0-1.4 1.5 0 0-1.7 1.5 0 0-.7 1.5 0 0-1.4 1.5 0 0 .1 1.5 0 0 1.1 1.5 0 0 1.5 1.5 0 0 1.3 1.5 0 0 .3 1.5 0 0 .3 1.5 0 0-.4 1.5 0 0-.5 1.5 0 0-1.3 1.5 0 0-.7 1.5 0 0 .7 1.5 0 0 .9 1.5 0 0 .7 1.6 0 0 1.2 1.5 0 0 1 1.5 0 0 .2 1.5 0 0-.5 1.5 0 0-1 1.5 0 0 21.2" fill="none" stroke="#ffa500" stroke-width="1.3" stroke-linejoin="miter"/><path d="M419.47 345.34V450.74M450.13 345.34V450.74M469.13 345.34V450.74" stroke="#ffa500" stroke-width="1.2" stroke-dasharray="3.9 1.8" fill="none"/><path d="M373.7 450.7l1.5 0 1.5 0 1.5 0 1.5 0 1.5 0 1.5 0 1.5 0 1.5 0 1.5 0 1.5 0 1.5 0 1.5 0 1.6 0 1.5 0 1.5 0 1.5 0 1.5 0 1.5 0 1.5 0 1.5 0 1.5 0 1.5 0 1.5 0 1.5 0 1.5 0 1.5 0 1.5 0 1.5 0 1.5 0 1.6 0 1.5 0 1.5 0 1.5 0 1.5 0 1.5 0 1.5 0 1.5 0 1.5 0 1.5 0 1.5 0 1.5 0 1.5 0 1.5 0 1.5 0 1.5 0 1.5 0 1.5 0 1.6 0 1.5 0 1.5 0 1.5 0 1.5 0 1.5 0 1.5 0 1.5 0 1.5 0 1.5 0 0-.5 1.5 0 0-12.9 1.5 0 0-21.8 1.5 0 0-23.2 1.5 0 0-20.8 1.5 0 0-10.5 1.5 0 0-4.3 1.5 0 0-1 1.6 0 0-.7 1.5 0 0 2.6 1.5 0 0 6.9 1.5 0 0 6.1 1.5 0 0 4.1 1.5 0 0 76" fill="none" stroke="#0000ff" stroke-width="1.3" stroke-linejoin="miter"/><path d="M466.26 345.34V450.74M471.33 345.34V450.74M476.39 345.34V450.74" stroke="#0000ff" stroke-width="1.2" stroke-dasharray="3.9 1.8" fill="none"/></g><g clip-path="url(#c40)"><g mask="url(#mo)"><path d="M78 453.7l24.1 0 1.6 3 .9 4 .2 6.9 .7 3-.5 4 .1 7 .6 3.9-.7 6 .7 6-.5 3-.1 3.9-.8 4 .8 9-1.9 6.8-.1 4.1-1.8 6.6-1 1-1 .2-2-.3-1 .3-2 2.9-1 .6-1.1-.3-.9-1.8-3 .4-1-.3-2.2-1.3-2.8-1-1.5-1-.9-2-.4-4-2.8-5-.6-1.9-.7-10 .1-8 .6-6.9-.3-6 .9-5-.3-6.9-.8-4-.1-2 .5-3-.2-3.9 .7-8 .5-2z" fill="#ffa500" fill-opacity="0.024" fill-rule="evenodd"/><path d="M79.3 453.7l21.5 0 1.9 3 1 4 .2 3-.3 3.9 .5 4-.2 10 .6 3.9-.7 6 .4 7-.9 8.9 .1 11-1.1 5-.3 3.9-.7 2.2-2 2.8-3 .5-2 1-6 2-1-.2-3.9-2-1.7-1.3-1-4-2.6-5-1.1-6.9-.3-13 .4-5.9-.2-7 .7-5-.2-6.9-.8-6 .5-3-.2-3.9 .6-8 .5-2z" fill="#ffa500" fill-opacity="0.028" fill-rule="evenodd"/><path d="M79.7 454.7l.8-1 19 0 2.3 3 1 4 .2 3-.3 3.9 .3 4 0 10 .5 3.9-.7 6 .2 7-.7 7.9 0 12-1.1 4.9-.2 3-.7 2-1 1.4-5 2.4-6 1.9-1-.2-2.5-1.5-1.3-1-.7-1-3.5-7-1.2-7.9-.3-10 .3-6.9-.2-8 .5-5-.2-5.9-.6-6 .4-4-.2-3.9 .6-8 .6-2z" fill="#ffa500" fill-opacity="0.041" fill-rule="evenodd"/><path d="M80.6 454.7l.9-1 16.9 0 2.6 3 1.1 4-.2 6.9 .3 5 0 9 .5 3.9-.7 6 0 9-.5 5.9-.2 13-1.4 6.9-1.1 2-4.5 2.6-5 1.5-2-.2-2.7-1.9-3.2-5-1.6-3.9-.9-7-.2-24.9 .3-4-.6-11.9 .1-7.9 .5-8 .8-2z" fill="#ffa500" fill-opacity="0.056" fill-rule="evenodd"/><path d="M81.5 454.7l1-1 14.9 0 2.8 3 1.2 4 .1 3-.3 4.9 .4 4 0 9 .3 3.9-.7 5-.2 6 .1 5-.4 4.9-.2 13-1.5 5.9-.9 2-3.8 2.6-4 .9-2 0-2-.9-1.6-1.6-2.1-3-1.8-3.9-1.1-7 0-14.9-.3-5 .1-14.9-.4-6 .3-4-.2-3.9 .5-8 .8-2z" fill="#ffa500" fill-opacity="0.074" fill-rule="evenodd"/><path d="M82.3 454.7l1.1-1 13.2 0 3 3 1.2 4-.2 7.9 .6 16.9-1 11 .2 5-.6 9.9 0 7-2 6.9-.5 1-2.2 2-2.8 1.2-2 .1-2-.4-2-1.3-1.9-2-1.1-1.6-1.4-2.9-1.3-7-.2-14.9-.5-5-.2-29.8 .6-7 .9-2z" fill="#ffa500" fill-opacity="0.101" fill-rule="evenodd"/><path d="M83.2 454.7l1.1-1 11.1 0 3.9 4 .4 5-.2 6.9 .8 4 .1 12.9-.1 1.1-.7 .9-.1 1-.2 14.9-.6 2-.3 13-2.9 6.9-1.2 1.2-1 .2-1 .7-1.8-.1-1.9-1-2.5-2-1.7-1.9-.3-1.1-.7-.7-.5-2.2-.6-1-.4-9-.6-3-.1-26.8-.2-2-.6-1.9-.1-2.1 .1-2.1 .5-.9 .1-1-.7-3.9 .1-1.2 .6-1.8 .3-6z" fill="#ffa500" fill-opacity="0.072" fill-rule="evenodd"/></g><path d="M83.5 454.7l1.2-1 10.4 0 2.2 1.5 1.4 1.5 1.1 3 .3 25.8-.4 7-.7 5 .1 5-.5 14.9-.9 3-2.4 4.9-1 1.4-1 .8-1 .3-2-.1-1-.6-4.2-3.8-2.1-3.9-1.1-5-.5-14.9-.7-5-.1-33.8 .3-3 1.3-2z" fill="#ffa500" fill-opacity="0.055" fill-rule="evenodd"/><path d="M83.9 454.7l1.3-1 9.4 0 3.5 3 .8 2 .4 2 .4 24.8-1.2 12 .1 5-.7 8.9-.1 6-.5 2-2.9 5.9-1.1 1.1-1 .5-1 .1-2-.8-3.1-2.9-2.3-3.9-1.2-5-1.6-19.9-.2-29.8 .6-7 .9-1.6z" fill="#ffa500" fill-opacity="0.069" fill-rule="evenodd"/><path d="M84.6 454.7l1.4-1 7.7 0 2.6 1.8 1.1 1.2 .9 2 .4 2 .3 24.8-1.1 12 0 5-1.1 13.9-.7 3-2.6 4.9-1.2 1.1-1 .2-1-.2-2-1.5-1.4-1.6-1.8-2.9-1.4-5-1.1-9-.9-10.9-.3-29.8 .6-7 1.3-2z" fill="#ffa500" fill-opacity="0.114" fill-rule="evenodd"/><path d="M85.5 454.7l1.7-1 5.2 0 .9 .4 2 1.3 1.4 1.3 .9 2 .3 2 .3 24.8-1.2 12-.6 10.9-1.7 10-2.3 3.9-1.1 .8-1-.1-2-1.8-1.9-2.8-.8-2-2.1-10-1.1-11.9-.5-27.9 .3-5.9 .2-2 .8-2z" fill="#ffa500" fill-opacity="0.179" fill-rule="evenodd"/><path d="M86.8 454.7l1.5-.6 2-.2 2 .6 2.3 1.2 1.7 2 .7 4 .2 23.8-2 21.9-.8 4-1.1 3-1 1.7-1 .9-1 .2-1-.2-2-2.1-2-5-.9-4.5-1.3-11.9-.3-8.9-.1-18 .3-6.9 .5-2 .6-1 1-1z" fill="#ffa500" fill-opacity="0.266" fill-rule="evenodd"/><path d="M86.3 455.7l3-1 2 .2 2 .8 2 2 .6 3 .3 23.9-.6 8.9-2.3 15.9-1 2.3-1 1-1 .3-1-.1-1-.6-1-1.5-1-2.5-1-4.8-1.3-10-.4-8.9-.1-18 .2-4.9 .7-4z" fill="#ffa500" fill-opacity="0.383" fill-rule="evenodd"/><path d="M88.3 455.7l3 .1 1.8 .9 .9 1 .6 2 .4 6 .1 18.9-.7 7.9-2.1 11.3-1 3.2-1 1.5-1-.2-1-1.4-1-2.4-1-3.9-1.1-6.1-.6-9-.1-18.9 .5-6.9 .3-1.5 1-1.4z" fill="#ffa500" fill-opacity="0.517" fill-rule="evenodd"/><path d="M88.6 456.7l1.7-.1 1 .3 1.1 .8 .9 1.6 .6 16.3-.1 9.9-.7 7-1.8 6.3-1 1.5-1 .2-1-1-2-6-.7-8.9 0-17 .4-6.9 .4-2 .9-1.3z" fill="#ffa500" fill-opacity="0.714" fill-rule="evenodd"/><g mask="url(#mb)"><path d="M78 454.7l.6-1 23.4 0 1.7 3 .9 5-.5 6.9 .8 6-.3 10.9 .6 5-1.1 9 .3 7.9-1 5 .9 7-1.4 7.9-1.8 4-.8 .9-3 .8-1.3 1.3-1.7 2.7-3 .9-2 1.5-1.1-.1-.9-.8-1.2-2.2-2.2-2-4.8-6-1.3-3-.1-5.9-.9-4-.9-8 1-4.9-.6-5 .4-13.9-.6-23.9 .7-3z" fill="#0000ff" fill-opacity="0.024" fill-rule="evenodd"/><path d="M79.2 454.7l.6-1 20.9 0 1.5 2 .8 2 .6 5-.4 5.9 .7 6-.4 11.9 .5 4-.9 8 0 8.9-.7 4 .7 7-.1 2-1.5 5.9-.9 2-1.3 1.5-5 4.1-2 1.1-6-1.2-1-.6-5.4-5.9-1-3 .1-3.9-1.1-5-.8-7 .8-5.9-.4-5-.2-8 .4-5.9-.6-18.9 .5-7z" fill="#0000ff" fill-opacity="0.028" fill-rule="evenodd"/><path d="M80.3 454.7l.7-1 18.4 0 2.4 3 .5 2 .3 4-.2 6.9 .6 6-.4 10.9 .2 6-.7 6 .2 7.9-.8 6 .4 8-1.4 4.9-1.6 3-4.6 3.8-2 .7-5-1-2-.8-3.9-3.7-.7-1-.6-2-.1-3.9-1.1-5-.7-7 .6-5-.6-13.9 .3-5.9-.4-18.9 .5-7z" fill="#0000ff" fill-opacity="0.041" fill-rule="evenodd"/><path d="M81.2 454.7l.9-1 16.1 0 2.8 3 .7 2 .2 4-.3 4.9 .6 8-.4 16.9-.5 5 .3 8.9-.9 6 .2 8-.7 2.9-1.9 4-3 2.8-2 1.1-2 0-5-1.2-1-.5-2.9-2.5-1.3-2.7-.2-3.9-1.1-5-.6-7 .4-5-.7-13.9 .3-5.9-.4-17.9 .6-8 .3-1z" fill="#0000ff" fill-opacity="0.056" fill-rule="evenodd"/><path d="M82.1 454.7l1.1-1 14 0 2.3 2 .7 1 .7 2 .3 3-.3 4.9 .7 9-.3 3 0 5-.9 12.9 .5 9.9-.9 5-.1 9-.8 2.9-1.8 3.6-3 2.6-2 .6-6-1.4-1.9-1.2-1.3-1.2-1.1-2-.4-4.9-.9-4-.5-7 .2-5-.8-13.9 .2-5.9-.3-17 .7-8.9 .9-2z" fill="#0000ff" fill-opacity="0.074" fill-rule="evenodd"/><path d="M82.9 454.7l1.2-1 12.1 0 3.3 3 .9 3-.2 6.9 .7 9-.3 3 .1 5-1.1 12.9 .5 10.9-.9 4-.2 8-.7 2.9-1.9 4-2.1 1.9-2 .7-2-.2-4-1.2-1.9-1.2-.9-1-.9-2-.3-3.9-.8-4-1.3-25.9 .3-5.9-.4-6 .3-5-.3-6 .7-8.9 1-2z" fill="#0000ff" fill-opacity="0.101" fill-rule="evenodd"/><path d="M84.2 454.7l1-1 9.4 0 .7 .7 1 .2 2 1.9 1.1 2.2 0 12.9 .3 3-.3 14.9-.1 1.2-.7 1.8-.2 4 .1 6.9 .5 3-.1 1-.5 2-.1 3.2-.6 1.8-.4 7-.7 .9-.2 1-.7 1-.4 1.2-1 1-2 1-2-.1-1-.6-2-.3-1-.8-1-.2-.9-1-1-2.3-.3-5.8-.7-2.9-.4-16-.7-3 0-31.8 .5-2 .4-4z" fill="#0000ff" fill-opacity="0.072" fill-rule="evenodd"/></g><path d="M84.1 454.7l1.5-1 9.1 0 2.6 1.8 1 1.2 .6 1 .5 3-.3 5.9 .8 9-.3 4 0 4-1.3 13.9 .4 10.9-.5 2-1 9-.6 2-2.1 3.9-1.3 1-1.9 .5-2-.2-3-1.1-1-.7-1.2-1.5-1.2-7.9-.5-10-.6-2.9-.2-8-.7-5 .5-5.9-.6-5 .3-6-.3-5 .8-4.9 .1-5 1.1-2z" fill="#0000ff" fill-opacity="0.055" fill-rule="evenodd"/><path d="M84.7 454.7l1.4-1 7.8 0 2.4 1.6 1.5 1.4 .5 1 .5 2-.1 6.9 .6 8-.7 14.9-.8 8 0 5 .4 4.9-2.1 13-2.1 3.9-1.1 1-1.6 .6-2-.3-3-1.1-1-.7-.8-1.5-2.2-20.8-.8-12 0-22.9 .8-8.9 1.1-1.8z" fill="#0000ff" fill-opacity="0.069" fill-rule="evenodd"/><path d="M85.5 454.7l1.6-1 5.7 0 2.5 1.4 1.8 1.6 .6 1 .4 2-.1 6 .7 8.9-.8 14.9-.9 10 .2 8.9-2.3 12-1.6 2.8-1 .9-1 .3-2-.1-2-.7-1-.7-.9-1.5-2.5-19.9-.9-12 0-22.9 .8-8.9 1.3-2z" fill="#0000ff" fill-opacity="0.114" fill-rule="evenodd"/><path d="M86.5 454.7l2.8-1 3 .5 2.8 1.5 1.1 1 .5 1 .4 2 .6 14.9-.6 14.9-1.1 11 0 7.9-.7 4-2 7.2-1 1.8-1 .6-1 .2-2.2-.8-.8-.9-.3-1.1-.4-3-1.3-4.8-1.4-9.1-1.2-13 0-21.9 .7-8.9 .7-2z" fill="#0000ff" fill-opacity="0.179" fill-rule="evenodd"/><path d="M88.3 454.7l2-.2 2 .4 2 1.1 1.4 1.7 .4 2 .5 9.9-.5 19.9-1.3 11-.3 7.9-.7 3-1.5 3.6-1 1.1-1 .1-1-.6-1-1.4-1-1.9-1-3.3-1.5-7.5-1.3-13 0-20.9 .8-8.9 .2-1 .8-1.3 1-.8z" fill="#0000ff" fill-opacity="0.266" fill-rule="evenodd"/><path d="M87.7 455.7l1.6-.4 2 .1 2 1 1.2 1.3 .5 2 .4 7.9-.1 17.9-.6 8-1.3 7-.9 7.9-1.2 2.1-1 .3-1-.4-1-1.3-2-6.2-1.4-9.4-.5-5-.2-10.9 .2-10 .7-7.9 .5-2 .6-1z" fill="#0000ff" fill-opacity="0.383" fill-rule="evenodd"/><path d="M88.1 456.7l1.2-.3 2 .1 1 .6 1 1.2 .3 1.4 .5 7.9-.1 17.9-.7 8-1 4-1.8 5-.2 .4-1 .3-1-1.4-2.2-8.3-.5-5-.3-9.9 .3-11 .7-7.9 .7-2z" fill="#0000ff" fill-opacity="0.517" fill-rule="evenodd"/><path d="M88.3 458.7l1-.7 1-.1 1.2 .8 .6 2 .4 5.9 .1 18-.3 4.2-1 5.2-1 1.5-1 .2-1-1-1-3.8-.5-12.3 .2-12 .8-5.9z" fill="#0000ff" fill-opacity="0.714" fill-rule="evenodd"/><path d="M84.9 455.5l2.1-1 3-.1 3 .3 1.7 .8 0 16.5-.2 3 .5 4.6-.5 3-.2 12-.6 3-1.9 6-1.2 1.6-.5 1.5 .2 1.5-.3 .5-1.5 .4 0-1.2 1.4-1.2-.6-1.5-.8-.4-1-1.2-.7-1.5-1.3-6-1-7.5 .1-7.5-.3-4.6z" fill="#fff" fill-rule="evenodd"/><path d="M84.6 455.5l.9-.8 1.5-.5 3-.1 3 .2 1.9 1.2-.3 4.5 .4 12-.5 3 .8 4.6-.6 3 .2 3-.6 10.5-2.3 7.5-1.4 3.1 .1 1.5-.7 1.1-1.5 .7-.4-1.8 1.1-1.5-.5-1.5-1.4-1.6-.8-1.5-2.2-12-.2-13.6z" fill="#ffa500" fill-opacity="0.070" fill-rule="evenodd"/><path d="M85.6 455.5l1.4-1 3-.3 3 .5 1 .8 0 19.5 .3 4.6-.8 15-2 5.6-1.5 2.4-1.5-.8-2.2-5.7-1.1-7.5 .2-6-.5-6.1z" fill="#ffa500" fill-opacity="0.075" fill-rule="evenodd"/><path d="M86.2 455.5l.8-.7 1.5-.4 1.5 0 1.5 .2 1.7 .9 .1 19.5 .5 3.1-.6 10.5-.6 6-.4 1.5-2.2 3.3-1.5-.8-1.2-2.5-1.3-6-.3-19.6z" fill="#ffa500" fill-opacity="0.105" fill-rule="evenodd"/><path d="M86.8 455.5l1.7-.9 1.5 0 2.5 .9 .2 19.5 .4 3.1-.5 10.5-.8 6-1.8 2.6-1.5-.7-.9-1.9-1.3-7.5 .3-6-.5-10.6z" fill="#ffa500" fill-opacity="0.143" fill-rule="evenodd"/><path d="M87.5 455.5l1-.6 1.5 0 1.8 .6 0 9 .8 15.1-.7 10.5-1.2 4.5-.7 .9-1.5-.9-1.5-7.5 .2-6-.6-10.6 .8-7.5z" fill="#ffa500" fill-opacity="0.197" fill-rule="evenodd"/><path d="M88.1 455.5l1.9-.3 .8 .3 .3 3-.2 6 .6 3 .1 7.5 .6 4.6-.8 9-1.4 4.2-1.5-1.2-1-6 .2-9.1-.5-6 .2-3 .8-4.5z" fill="#ffa500" fill-opacity="0.283" fill-rule="evenodd"/><path d="M89.8 458.5l.2-.3 0 1.9zM88.3 466l.2-.5 1.5-.5 1 4-.1 6 .7 4.6-1 7.5-.6 2.5-1.5-1.8-.3-2.2 .3-9.1-.8-4.5 0-1.5z" fill="#ffa500" fill-opacity="0.421" fill-rule="evenodd"/><path d="M88.5 467.5l1.5-.3 .1 .3 .4 4.5-.5 3.2-1.5-1.4-.3-1.8zM89.4 478.1l.6-1.3 .8 2.8-.8 6.4-.5-1.9-.3-3z" fill="#ffa500" fill-opacity="0.682" fill-rule="evenodd"/><path d="M85.3 455.5l1.7-.9 3-.2 3 .4 1.2 .7-.1 6 .8 4.5 0 1.5-.4 22.6-1.4 9-.2 3-1.4 3.1-1.5 2.3-1.5-.7-1.6-3.2-.6-4.5-1.8-9-.4-12 .4-6.1-.2-6 .3-3 0-3 .7-3z" fill="#fff" fill-rule="evenodd"/><path d="M85.2 455.5l1.8-1.3 3-.1 3 .4 1.3 1-.1 6 .8 6-.6 24.1-1.4 7.5-.1 3-.6 1.5-2.3 3.7-1.5-.7-1.6-3-2.5-13.5-.3-12 .3-6.1-.2-6 .3-6 .7-3z" fill="#0000ff" fill-opacity="0.070" fill-rule="evenodd"/><path d="M86 455.5l1-.8 3-.4 1.5 .2 1.9 1-.4 5.6 1.1 4.9 0 13.6-.4 4.5 .3 4.5-1.6 9-.9 2.3-1.5 1.2-1.5-.6-.7-1.4-1.8-6-1-7.5-.2-9.1 .7-4.5-.5-6 .5-1.8 0-4.2z" fill="#0000ff" fill-opacity="0.075" fill-rule="evenodd"/><path d="M86.7 455.5l1.8-.9 1.5-.1 1.5 .3 1.1 .7-.2 4.5 1.1 6-.1 12.1-.5 6 .3 4.5-1.7 8.6-1.5 1.8-1.5-1.1-1.6-4.8-1.2-7.5-.1-9.1 .4-4.5-.3-6 .5-3-.1-3 .6-3z" fill="#0000ff" fill-opacity="0.105" fill-rule="evenodd"/><path d="M87.4 455.5l1.1-.6 1.5-.1 1.8 .7-.2 4.5 1.2 6-.1 13.6-.4 4.5 .3 4.5-1.4 6-1.2 2.6-1.5-2.2-.7-1.9-1.6-7.5 0-9.1 .4-4.5-.3-6 .7-3-.3-3 .7-3z" fill="#0000ff" fill-opacity="0.143" fill-rule="evenodd"/><path d="M88.2 455.5l1.8-.3 .8 .3 .1 4.5 1.4 6 .1 1.5-.2 12.1-.5 4.5 .2 4.5-1.9 5.6-1.5-1.8-1.7-6.8 0-9.1 .4-4.5-.3-4.5 .7-4.5-.1-3 .7-3z" fill="#0000ff" fill-opacity="0.197" fill-rule="evenodd"/><path d="M88.3 460l.2-1.1 1.5 .8 .6 3.3 1.2 3 .1 1.5-.4 12.1-.6 4.5 .2 3-.1 1.5-1 2.3-1.5-1.4-1-5.4 .3-12.1-.4-4.5 .9-4.5z" fill="#0000ff" fill-opacity="0.283" fill-rule="evenodd"/><path d="M89.4 464.5l.6-.7 1 2.2 .3 1.5-.8 7.5-.1 7.6-.4 2.3-.4 .7-1.1 .4-.4-4.9 .4-9.1-.5-4.5 .5-2.3zM89.7 487.1l.3-1 .1 1-.1 .4z" fill="#0000ff" fill-opacity="0.421" fill-rule="evenodd"/><path d="M89.6 466l.4-.4 .6 1.9-.6 3-.9-1.5-.4-1.5z" fill="#0000ff" fill-opacity="0.682" fill-rule="evenodd"/><path d="M84.9 455.5l2.1-1 3-.1 3 .3 1.7 .8 0 16.5-.2 3 .5 4.6-.5 3-.2 12-.6 3-1.9 6-1.2 1.6-.5 1.5 .2 1.5-.3 .5-1.5 .4 0-1.2 1.4-1.2-.6-1.5-.8-.4-1-1.2-.7-1.5-1.3-6-1-7.5 .1-7.5-.3-4.6zM86.4 455.5l2.1-.7 1.5 0 3 .7 .1 19.5 .4 4.6-.5 9-.6 6-.9 2.5-1.5 1.8-1.5-.8-1-2-.5-1.5-.9-6-.2-18.1zM88.2 455.5l2.6 0 .3 4.5-.3 4.5 .8 4.5 0 6 .5 4.6-.8 9-1.3 4.2-1.5-1.2-.9-6 .2-9.1-.6-6 1-7.5zM88.5 467.5l1.5-.2 .1 .2 .4 4.5-.5 3-1.5-1.5-.3-1.5zM89.5 478.1l.5-1.2 .7 2.7-.7 6.3-.7-4.8z" fill="none" stroke="#ffa500" stroke-width="1.3"/><path d="M85.3 455.5l1.7-.9 3-.2 3 .4 1.2 .7-.1 6 .8 4.5 0 1.5-.4 22.6-1.4 9-.2 3-1.4 3.1-1.5 2.3-1.5-.7-1.6-3.2-.6-4.5-1.8-9-.4-12 .4-6.1-.2-6 .3-3 0-3 .7-3zM86.9 455.5l1.6-.6 1.5 0 2.4 .6-.2 4.5 1.1 6-.1 12.1-.4 6 .3 4.5-1.6 8.3-1.5 1.9-1.5-1.2-1.5-4.5-1.2-7.5-.1-9.1 .4-4.5-.2-6 .5-3-.1-3 .6-3zM89.6 455.5l.5 0 .3 4.5 .5 3 1 3 .1 1.5-.3 13.6-.5 3 .2 4.5-1.4 3.5-1.5-1.5-.5-2-.7-3-.1-4.5 .4-9.1-.3-6 .8-3-.1-3 .3-1.5 .2-1 1.1-.5zM88.5 466l1.5-1.3 1 2.8-1 7.5-.4-1.5-.1-1.5-1-2.5-.2-2zM89.8 476.5l.2-1.3 .1 7.4-1.6 .4 0-2.5 .7-.9z" fill="none" stroke="#0000ff" stroke-width="1.3"/></g><g clip-path="url(#c41)"><g mask="url(#mo)"><path d="M160.7 454.7l1.9-1 95 0 2.3 1 0 69.8-.7 .8-3.3 7-1 .7-2 .1-6-3.4-3.9-.4-1 .4-2 2-1 .4-6 .7-5-.5-2 1.8-.9 .2-1-.4-2-1.5-1-.2-5 0-3 2.2-1 .3-1-.3-2-1.5-1 0-3.4 1.4-1.5 1.7-1 .3-2-.7-4-.5-3-2.2-3-1.1-5.9-.6-2 .2-4 1.5-1 0-6-3-1.9-1.7-2.1-.9-3.9-1.1-1.7-.9-1.9-2-1-1.9 .6-4-1.2-4-.5-3-1.1-3-.4-4.9 .4-1 2.1-3 .5-2-.8-3.6-1-1.2-2 0-3-1.6-2.7-.6 5.7-.4 2 1.1 1-.5 .5-1.2 .2-1-.6-1-1.1-.7-.3-1.2 .1-5-.8-3.7-1.8-3.3 .3-1 1.5-2 .4-3 .9-2.9-.3-4-1.3-3 .9-1zM149.5 495.5l0-.5 .6 1.5 .1 3-.7 2.5zM149.5 514.4l0-.9 1 .4 1.4 1.5 .2 1-.7 1.7-.9 .7-1 .3z" fill="#ffa500" fill-opacity="0.024" fill-rule="evenodd"/><path d="M165.5 454.7l9.8 .5 4-.9 6.7-.6 57.3 0 3.6 .8 4-.3 9 2.2 0 66.1-2-.1-1 .4-.5 .5 0 2-.5 1.7-1 1.6-1 .8-1.7-.1-3.3-1.5-4-.2-2.9-1-1 .1-.8 .6-1.3 2-1.9 .9-4 .4-6-.8-5.9 .9-5-.2-3 .9-1 0-2-1.1-1 0-3.9 1.4-4 .5-2 1-1 0-1-.7-1-1.7-4-1-2-1.7-2-1.1-1.9-.2-1 .2-4 2.1-3 .6-2-1.3-3-1.1-2-1.9-3.9 .2-2-.5-1.6-.8-1.1-1-1.1-1.9 .1-4-2-4-.1-4-1-4 0-2.9 2-4 .2-1-.3-6 .7-4-.4-2-1.6-2.9-.1-3-1-5 .4-2 1.3-2 .1-1-1-3 .6-2.9-.2-3 .2-2 .4-1 1-1 2.5-1.3z" fill="#ffa500" fill-opacity="0.028" fill-rule="evenodd"/><path d="M187.4 454.7l3.6-1 34.2 0 1.8 .4 8 .1 4 .8 4 .1 3.9 .8 4-.2 2.5 1 2.5 1.9 4-.4 0 32.8-2 .1-.4 .4 0 1 .2 4 1.1 1 1.1 .2 0 7.2-2-.1-.5 .6 .1 1 .4 .7 1 .5 1 .1 0 4.4-2 .6-1-.3-.5 1 0 1-.9 4-.6 .3-1-.1-1-1-1-.4-1 .4-2 1.8-3 4.8-1 .3-1.9-.9-2 .2-2 1-2.3 2.5-1.7 .8-4 0-3-.4-6.9 1.3-4-.3-3 .4-3-1-1 0-5.9 1.2-1-.3-3-2.2-3-.8-2 .1-3-1.3-3 0-4.9-.7-4 .5-1-.6-1.9-2.6-4.5-1-1.4-1-2.1-2.3-3-1.8-4-1.3-.9-1.6 .6-3-1.6-4 0-2 .9-1.6 1.5-1.3 .5-1 0-4.5 2.5-2.5 .6-1-.2-1-1.9-.7-1-1.3-.3-3-1.5-2.9-.2-3-1.1-4 .3-2 .5-1 2.2-2 .6-1-.5-1-1.4-1-.7-1 .1-.9 1-1.1 1.4-.9 0-1-.6-2 .2-1 1-2 1-.9 1-.3 4.9 .5 4 0 4-1.1 5-.4zM166.4 501.3l-1.4 1.2 .4 1.1 2.7 1.8 .2 1-.8 3 .4 1 1.5 1.2 .9-.3 .6-.9 .1-1-1.2-7.9-.4-.7-1-.3zM164.8 519.4l.6-.5 1-.1 .6 .6 .5 1-.1 2-1 .4-1.2-.5-.7-.9-.2-1zM259.2 519.4l.7-.6 0 .6 0 .6z" fill="#ffa500" fill-opacity="0.041" fill-rule="evenodd"/><path d="M191.2 454.7l4.1-1 27.4 0 3.3 1.2 9 .4 4 1 4 .1 3.9 1.2 3-.5 1 .2 1 .7 .8 1.7 .6 4 .6 .8 2 1.1 .1-.9 1.9-3 1-1.1 1-.4 0 5.9-4-.4-.4 5.9 1.3 4 1.6 3 0 3 .4 1 1.1 .5 0 6-3-1.1-1 0-1 1.5-.5 4-.5 1.5-1 .6-3 .5-.6 .4-.4 .7-.7 4.3 1.4 3.9 0 1-1.7 4 .3 2-.8 6-.5 1.1-1 1-1 .3-1-.2-2.9-1.6-1 .2-2 1.2-4 1.2-2 2.4-.7 .3-2.3 .1-4.9 2.3-6-.2-4 .6-3-.9-4 .8-2.3-.7-2.6-2.3-3-.4-4-.9-3-1.7-4.9 0-4.5-1.6-1.2-1 .7-.5 1.2-1.5 .8-1.8 .1-1.2-.5-2-.6-1-1-.7-1 .6-1.8 4.1-.2 2 .4 1-.4 .5-2 .5-2-.1-1.5-.9-.6-1-.3-2 1.3-2 0-1-.5-2 .2-2 1.4-2.1 3-2.9 .7-.9 .2-1-.9-1.6-1-.5-1.2 .1-.9 2-.9 .8-.6-.8-.7-3-1.7-1.9-1.8-1.1 1.3-1 2.7-1 1-1-.1-2-.5-2-.6-.6-1-.3-3-.1-.7-1 2-3.9 2.3-3 .3-1 0-1-1-3 .1-1.1 1-1.2 2-.5 1-.7 1-1.5-.1-1-2.8-2.9 0-2 .9-1.6 4-3 6-1.5 3.9-1.6z" fill="#ffa500" fill-opacity="0.056" fill-rule="evenodd"/><path d="M194.8 454.7l2.3-1 23.1 0 6.8 2.3 8 .5 1 .3 3 1.9 1 .3 2-.5 .9 .2 1 1-.1 1-1.5 2 .2 1 1.8 2.9 .1 5-.3 1-2.2 2-.8 2-.2 2 .4 2 1.1 2 1.5 1.4 2 .9 .4 .6 .1 1-.5 1.4-2.7 1.6-.7 1-.2 1 .3 1 1.6 2 0 2-.3 .9-.9 .7-3-2.4-3-.1-1.6 .9-.4 1 0 2.4 1 1.4 2.1 .2 .4 1-.2 1.9-.3 .9-1 .5-2-.5-1 .4-1.2 1.7 .2 1.4 .9 .6 3.1 .8 1 .6 1 1.2 .7 2.4-.2 1-1.5 1.7-2 .4-4-1.3-1 .4-1.6 2.8-1.4 1.5-2 1.6-2.9 1.5-2 .3-3-.4-4 .8-3-.5-4 .8-.9-.4-2-2.2-1-.7-4-.4-4-1.5-1.5-1.4-1.4-2-.7-2-.4-3-1-1.6-3.9-1.3-3.4-3.1-.5-1 1.9-2.2 1.9-4.7 0-1-.4-1-2-2-1.5-2.1-1.4-2.9-.4-2 1.8-3.9 1.2-2-.2-4 1-5-3.2-5-2.1-1.9-.2-1 .5-.4 2-.2 1-.6 2-2.9 3.5-2.9 2.4-1zM247.7 474.6l.2-.2 1.3 .2 .2 1-.5 .6-1 .1-.4-.7z" fill="#ffa500" fill-opacity="0.074" fill-rule="evenodd"/><path d="M196.5 454.7l2.4-1 16.8 0 3.4 .4 6.9 2.5 4 .6 4.3 1.5 .7 .9 1.5 3.1 0 1-.5 2-.6 .9-2.3 2-.4 2 .3 1.3 1 1.3 3 .4 1 .7 .5 1.3 .3 5 .9 3-.1 1-1.6 2.8-.3 3.1-.7 1.2-4 1-1.9 1.8 0 1 .9 1.4 .6 1.6-.1 2-.6 2-2.4 3.9-.4 3-.6 1-.5 .5-2 0-1.9 1.6-3.4 1.9-2.6 2.3-3.8 .7-1.3 1-.9 1.2-1 .4-2-.1-2.9 .6-7-2.8-2 .1-1.4-.4-1.6-2-1.6-7-.8-1-1.7-1-.9-1-1.4-2.9-.1-2 1.1-3 0-1-1.3-4 .4-6-2-8.9 .8-8-1.3-4.9 0-2 2.3-4 1.5-1.6zM224.6 517.4l.5-.5 .9-.2 1 .7 .1 1-1.1 1.1-.9 .1-.6-.2-.3-1z" fill="#ffa500" fill-opacity="0.101" fill-rule="evenodd"/><path d="M198.2 454.7l3-.4 .6-.6 10.9 0 1.4 .8 3.3 .2 .7 .5 3.6 .5 1.4 .9 1 .1 1.9 1.5 2.2 .5 1 1-.6 4 1 2 .1 3.9 .5 2 .1 1-.9 3 .1 1 1.6 3-.7 2-2 3-.5 1.9 .8 3-.1 1-2.1 3-.4 3 .7 2 1.9 2-.2 1-1.3 1-2.2 .9-1.4 2-.5 2.5-1 2.4-1.1 1.1-3.9 2.2-3 .2-2 .7-2 .3-3 1.9-.9 .2-3-.5-4-3.4-1.4-.6-1.2-1-.7-1-.2-2-.8-2-.7-1-3-2.6-.5-1.3 .5-4-1.1-6-.6-12.9 .4-5-.8-3-.3-5.9 .3-4 .9-2 .9-1 1.3-.3 1-.8 2-.2 .7-.7 1.3-.1z" fill="#ffa500" fill-opacity="0.072" fill-rule="evenodd"/></g><path d="M199.1 454.7l1.1-.5 3.9-.5 6.8 0 3.2 .4 2 .7 4 .3 3 1.4 1.6 1.2 2.5 2 .4 1-.6 3 1.3 3.9-.4 10 1 3-.1 1-1.8 3.9 .2 4-2.3 6-.2 2 .2 3-.3 1-1.6 2.9-1.7 5-1.2 1.5-3 1.5-4.3 1-6.6 2.3-1 .1-2-.6-5-3.9-1.5-1.9-1.2-4-2.8-4.9-1.9-10-.7-11.9 .8-5-.9-4-.4-4.9 .4-4 .8-2 1.4-1.3 5-2.3z" fill="#ffa500" fill-opacity="0.055" fill-rule="evenodd"/><path d="M200.5 454.7l4.7-.7 4.9 0 9 1.5 3 1.1 1.5 1.1 1.8 2 .4 1-.3 4 1.2 2.9-.3 4 .2 4-.4 3 .5 4-1 3.9-.3 4-1.9 6-.2 4-3 7.9-.6 1-1.6 1.3-11.9 3.6-2-.1-1-.4-5.2-4.4-2.5-6.9-2-4-1.9-9-.5-9.9 .7-6-1-6-.2-3.9 .4-3 .9-2 1.3-1 5-2.4z" fill="#ffa500" fill-opacity="0.069" fill-rule="evenodd"/><path d="M203.4 454.7l3.7-.3 3 .1 9 1.6 2 .8 1.1 .8 1.4 2 .3 2-.5 3 1.3 3.9 .1 7-.6 3 .6 5-1 3.9-.2 4-1.6 5-.9 5.2-1.6 2.7-1.1 3-.9 1-7.4 3.2-3.9 .9-2-.2-1-.5-2.9-2.4-1.3-2-2.1-5.9-2.1-4-1.6-6-.3-2-.5-8.9 .6-7-.9-5 0-2.9 .2-4 .6-2 2-2 2.3-1.3 3-1.1z" fill="#ffa500" fill-opacity="0.114" fill-rule="evenodd"/><path d="M201.2 455.7l4-.6 3.9 0 3 .3 6 1.4 2.1 .9 1 1 .6 2-.6 5 1.3 3.9 .2 5-.5 4 .3 6-.9 3.9-.1 4-2.4 4.9-2.8 4.1-1.4 3.9-1.1 1-3.7 2.2-2.4 .8-1.5 0-1-.5-5-5.1-3.2-7.3-2.3-8-.4-7.9 .2-9-.5-4 .5-6.9 1.1-2 1.1-1 1.6-1z" fill="#ffa500" fill-opacity="0.179" fill-rule="evenodd"/><path d="M201.1 456.7l5.1-.8 4.9 .2 2.5 .6 3.5 1.3 1.3 .7 .8 1-.1 6.9 1 4 .2 3-.4 6 .1 5-1.1 6.9-.7 2-1.1 1.6-3.8 3.4-2.2 3.4-1 .3-5.9-.4-2-1.3-1-1.2-1.5-2.8-2.7-9 .1-3.9-.3-3-.2-7 .2-4-.3-3 .4-4.9 .4-2 .7-1 1.1-1z" fill="#ffa500" fill-opacity="0.266" fill-rule="evenodd"/><path d="M202.9 457.7l4.2-.7 5.1 .7 1.7 1 1.7 2 1.1 4 .9 10.9-.5 9.9-.7 4-1.2 3-1.6 2-2.5 2.1-3 1.1-2.2-.2-3.7-2.8-1-2-1.9-6.2 .3-3.9-.4-16.9 1-5.4 1.1-1.6z" fill="#ffa500" fill-opacity="0.383" fill-rule="evenodd"/><path d="M208 460.7l2.1 .2 1 .7 1.1 2.1 1.4 16.9-1.5 6.2-2.4 3.7-.6 .5-1 .1-2.9-1.9-2.1-2.7-.3-1.9 .7-10-.8-6 .4-2.9 1.1-1.9 2-2.1z" fill="#ffa500" fill-opacity="0.517" fill-rule="evenodd"/><g mask="url(#mb)"><path d="M160.6 454.7l3.8-.2 1.6-.8 89.3 0 4.6 1.8 0 73.7-3-1.3-4-.1-1 .3-2 1.8-1 .4-5-.9-5.9 1.3-4-.3-6 3.4-2 .6-.9-.2-3-2-1.1 .1-1.9 2.3-3-.6-3 .6-1.5-.3-2.5-2.2-7.9-1.2-3-1.2-1 0-1 .4-3 2.9-4 1.5-1 0-.9-.5-.7-.7-.5-2-.7-1-4.1-.7-3-1.1-1-.1-7 1.5-.9 .1-1.6-.7-1.7-2-1.2-2-.1-2 .8-1.9-.2-1.4-.6-.6-1.4-.6-3 .4-1-.3-1-.5-.9-1-.3-1 .4-3-.2-7 1-3.9 .4-6-.5-4 .2-4 1-3.9-.2-1-1.2-2-.4-2 1.2-5-.5-5.2-.8-1.8-2.2-1.9-.6-2 .6-1.5 2-1.8 1-4.1 1-1.1z" fill="#0000ff" fill-opacity="0.024" fill-rule="evenodd"/><path d="M167.9 454.7l1.5-.5 4.9 .8 4-.8 4 .1 4.2-.6 57.4 0 3 .7 5-.1 8 2.9 0 68.7-5-.5-3-1.2-2-.1-1 .5-.3 .7 .4 2-1.1 .9-4-1.1-3.9 .5-3 .8-3 .2-4 2.1-3 .9-1-.2-2.9-2.3-1-.2-4 1.2-4 .6-10.9-.8-5-2.3-2 .2-1.5 .5-2 2-1.5 .5-1-.2-1.2-1.3-1.7-.9-5-.1-4-2.1-1-.1-3 1.1-2 .3-2-.2-.9-.7-.6-1.3 1.4-3 .1-.9-1-2-1.9-2-1-.7-5.4-1.3-.9-1-.8-2-.2-3 .3-2.9 .6-2.1 0-3.9 1.2-5-.7-3-.2-4 .8-2 1.5-1.9-.2-1-2-2.4-.8-1.6 0-2 1.2-3 .2-2-.8-4-2.6-3.9 0-1 1.8-2.1 1.4-3.9 .6-.5 1-.2 2-.1z" fill="#0000ff" fill-opacity="0.028" fill-rule="evenodd"/><path d="M191 454.7l2.5-1 34.7 0 9.8 1.5 5-.1 3.9 .8 4-.1 2.7 .9 2.3 1.8 4 .6 0 50.6-3-.5-3 1.1-3 .1-.7 1 .1 1 1.6 3 .8 3-.2 1-.6 .6-2 .9-2 .4-2-.4-1.2-.5-.8-.8-1.9 1.8-2 3-3.9 1.9-4.1 1-4 1.7-1 0-1-.5-1-1.2-.9-.5-4 .5-4-1-4 1.7-4 .3-2.9 .5-2.3-.5-2.7-2.4-1-.3-4 .6-4-.4-7.9 .7-1-.3-1-.8-3-3.1-2.4-.9-1.4-3-1.2-4-3.9-1.6-1.1-1.4 .6-1 3.4-.2 3-1.6 1.1 .8 .2 1-.4 2 .4 1 .7 .4 1-.2 .3-1.2 0-4-1.3-.5-1 .1-.6-1.6 0-3-.4-.8-1-.6-1 0-2 2.3-1 .6-.9 .2-1-.1-2-1.6-2.5-.9-.9-1 .2-1 1.4-3 2.8-1.9 .7-1.1 .4-2-1.1-1.1-3 1.1-1-.3-.8-1.7 .1-1 .5-1 1.7-1 .6-1 .5-3.9-.1-1-.5-.8-3-1.1-.8-1.1 .1-1 1.9-3 .2-2-2.6-6.9 0-1 1.2-1 2 1.3 2 .4 3 1.7 .9 .2 .7-.7 .6-2.9-.3-1.6-2.9-2-.7-1.4-.1-1 .5-1 1.3-.5 3.9 .8 5-1.1zM243.9 515.4l-.9 .7-.2 1.3 1.1 1.6 .8-1.6 .1-1zM246.9 502.1l-.2 1.3 .2 .8 1 .4 1.1-1.2-.3-.9-.8-.7zM252.9 492.4l-1 .6-1 1.2-.3 2.3 .3 1 1 .8 2 .3 2-.9 .9-1.2 .1-2.2-.2-.8-.8-1.3-2-.1zM164.1 506.4l1.3 .5 .2 .5-.3 1-1.9 2.3-1 .5-.7-1.8 .1-1 .6-1.2zM259.6 516.4l.3-.6 0 3.4-.7-.8z" fill="#0000ff" fill-opacity="0.041" fill-rule="evenodd"/><path d="M193.6 454.7l2.1-1 26.8 0 14.5 2.7 6 .1 2.9 1.1 4 .3 1.3 .8 .1 1-2.1 4-2.8 2.9-.2 1 .3 1 .4 .8 1 .6 1-.1 5-3.1 2.9 1.8 .1 1-1 2 .1 1 1.6 2-.4 1-3.4 1-1.5 1-.4 1 .2 1 .8 .8 5 1.8 .5 .4 0 1-2 2.9-.5 .6-1 .4-1.5-1-2.5-4.4-2-.8-2-.4-1 0-.6 .7-.5 2 1.1 4.6 1 .9 1.8 .4-.7 1-2.1 .4-2 1.5-1 4.1-.9 2-1 1.6-2 1.6-.3 .8 2.2 1.9 .6 1-.7 3 0 1 .7 2-.2 1-.3 .4-1 .2-3-1.1-1 .1-.8 .4-.3 1 .1 1 1.5 4 .1 1-.6 2.9-1 1.7-1 .4-1-.2-2-2.4-1-.2-4 1.4-3.9 2.7-2 .1-3-1.5-1-.1-4 1.9-2 .2-3-.3-1.9 .9-1-.1-2.6-2.5-1.4-.6-5 1.1-5-1.8-1-.1-2.9 .8-1-.1-1.3-1.3 .6-1.9 .1-1-.3-1-2.8-1-.3-1 1-2 1-.6 1 0 2.1-2.4 .2-1-1-3 .5-3-.8-2.3-1-1-3-.1-1-.3-2.7-2.2-2.2-5-2.1-2-.4-1 .4-1.5 .8-.5 3.2-.9 1-1.1-.1-1.9-1.4-3 .1-2 .4-1.2 .7-.8 2.2-1 .6-1-.3-1-1.2-1.9-2.2-2.1-1-2-2.2-2-.2-.9 .6-1.1 1-.2 1.7 1.3 .6 .9 1.7 1.6 1 .3 1-.5 .5-1.4 .2-1.9 0-2-.9-4 .5-1 2.7-1 6.9-1.1zM185.3 494.4l-1.8 3.1 .8 .6 1-.6 1-1.3 .1-1.7zM253.4 463.7l.5-.6 .5 .6-.5 1.5zM167.2 474.6l.2-.5 1 .4 1 2.1 0 .4-1-.3-1-.9zM259.7 506.4l.2-.1 0 .1 0 .3z" fill="#0000ff" fill-opacity="0.056" fill-rule="evenodd"/><path d="M195.5 454.7l3.5-1 17.9 0 15.8 3 3.3 1.7 4 0 1 .3 .3 1-.1 1-2.3 5.9-.3 4 .4 1 1 .5 2 0 .2-.5-.1-2 .4-1 .5-.2 .9 .8 2 3.4-1 .9-1-.1-.9 .2-.7 3-.9 2-3.5 4-.4 2 .5 1.6 3 .1 1 .5 .4 .7 0 1-1 2-.8 3-.6 1.2-1 .3-2-.4-1 .4-2.5 3.5-.2 1 .9 2 .2 2.9 .7 1 1.9 1.5 .3 .5-.2 1-3.2 1-.9 1.3-.3 3.7-.7 1.6-3 1.8-6.9 6.3-1 .3-1-.2-3-2.5-1 .1-3 1.6-2 .4-1.3-.5-.7-1.5-1-.6-3.9 1.6-1-.1-4-1.5-1 .2-2 1.4-1 .1-1.5-.6-2.5-2.4-2-1.1-1-1.1 0-2.3 1.3-4 .1-2-2.5-7.9 1.4-4 0-3-1.2-2.5-1-1-2-.8-.7-.7 .7-.6 .5-1.4 .2-3.9-2.1-4 0-1 .6-2 0-1-1.6-3 0-1 1.3-3 1.1-4.2 2.3-2.7-.9-2 .1-1 1.5-1.2 3.9-.9zM235 486.5l-1 .1-.6 .9 0 3 .3 1 1.3 .7 1-.1 1-1.2 .7-2.4-.2-1-.5-.7z" fill="#0000ff" fill-opacity="0.074" fill-rule="evenodd"/><path d="M198 454.7l3.9-1 11.5 0 9.7 1.9 5.8 2.1 1.7 1-.3 2 .4 4 .6 1 1.7 .9 .9 1 .1 1-.5 4 .5 1.7 1 1.3 3 .1 .9 .9-.6 1-1.3 .6-2-.6-.5 1-.5 3.3-3 2.2-.8 1.4-.3 1 .3 3-1.6 2-.2 1 .9 1 2.2 1 .5 1-1.2 1-3.8 .8-1 .8-.6 1.4 .2 1 .4 .4 2.7 .6 1.1 1 .1 .9-.5 1-2.8 2-.2 1 1.6 3 1.6 2-.6 .9-1-.8-1 0-1 .5-2 3.4-1.7 5-1.2 .8-1.1-.8-.3-1 .1-3-.7-.8-4-.1-2 2.3-1 .2-4-.6-2.9 .4-1-.6-.3-.8-1.7-2-2-3-1-.6-1-.2-1 .3-3 2.4-1 0-1-.9-.3-1-.2-7-2.7-2.9 0-1 1.2-3-.2-4-2.3-6-.4-5.9-1.6-3 .3-6 .5-2-.9-2-.2-2 .9-2 2.9-1 .7-.9 .3-1-.4-3 .4-1 4.6-3z" fill="#0000ff" fill-opacity="0.101" fill-rule="evenodd"/><path d="M201.1 454.7l4.1-.2 8.9 .1 2 .9 3.6 .2 1.4 .8 2.1 .2 2 2 .4 2 .7 1 1.1 4.9 1.9 4 0 3-1.7 3-.2 1 .5 5-.5 2.9-2.9 4-.2 4-1.6 4-.4 7.9-.8 3-2.4 2.2-3.2 1.8-1.8 .4-2 1.1-2 1.7-3-.1-1.9-.8-5-5-2-.9-2-.4-1-.7-.4-3.3-.8-1.9-.3-3-1.7-3-.3-4-1.6-3-.5-6.9-1.5-4 .1-3 1.7-3 1.3-6.9 .8-2 .2-2.9 .8-2.1 2-2 1.2-.3 .8-.7 3.2-.2z" fill="#0000ff" fill-opacity="0.072" fill-rule="evenodd"/></g><path d="M202.4 454.7l1.8-.6 6.9 .1 1.8 .5 4.2 .5 4 1.1 2 1.1 1 1.3 1.4 4 1 6.9 1.1 3-.2 1-1.4 2-.2 1 .1 3-.8 3 .7 2 0 .9-1.8 3-.4 4-1.7 4-.3 4-1.3 6.9-1.2 1.4-4 2.7-3 1.3-3 1.7-2-.1-1.9-1-3-3.2-4.6-2.8-1-1-1.1-3-.7-3.9-2.1-4-.4-4-1.7-4-.1-4.9-1.3-5 .3-2 1.7-4.9 .8-6 1.9-6 .6-1 1.7-1.4 3-1z" fill="#0000ff" fill-opacity="0.055" fill-rule="evenodd"/><path d="M204.8 454.7l7.3 .2 4 .7 5 1.6 .9 .5 .8 1 1.5 5 .1 3.9-.9 5 .9 6-1.4 4 .9 2.9-1 3-.4 4-1.8 4-.5 4-1.2 2.9-.3 2-.6 1.4-3.8 3.6-6.2 2.6-1.9-.5-1-.7-3-3-3.7-2.4-1.3-2-.7-1.9-.3-3.1-2.1-3.9-.5-4-1.7-4 .1-3.9-1-6 .1-2 1.4-6 .4-4.9 2.1-6 .6-1 1.6-1.1 5-1.5z" fill="#0000ff" fill-opacity="0.069" fill-rule="evenodd"/><path d="M202 455.7l3.2-.5 4.9 0 7.5 1.5 2.1 1 1 1 1.8 5-.2 2.9-1.4 5 .2 2 1.4 4-1 4 .4 3.9-.6 6-2.8 7-2.4 2.1-1.3 2.8-1.6 2-.3 2-.5 1-1.3 .7-3 .5-1.9-.1-3-2.5-3-1.6-1-1-1-1.9-.5-4-2.1-4-.8-4-1.2-4 .1-2.9-.8-8 .9-6 .4-5.3 2.5-5.6 .8-1z" fill="#0000ff" fill-opacity="0.114" fill-rule="evenodd"/><path d="M201.8 456.7l2.4-.7 4.9-.1 5 .8 2.8 1 1.2 1 .4 1 1.3 5-1.1 5.9 .1 2 1.2 5-.3 4 0 7.9-.4 2-1.2 2.7-1 1.3-3 2.1-6 6-1 .4-1.9-.3-3.1-1.2-1.2-1-1.2-4-2.2-4-1.8-7-.6-10.9 .9-9.9 3.3-7z" fill="#0000ff" fill-opacity="0.179" fill-rule="evenodd"/><path d="M202.8 457.7l2.4-.8 3.9 .1 3.3 .7 2 1 1 1 .3 1 .7 5-.5 5.9 1.3 12-.6 4.9-3 5-2.5 2.7-2 1.3-2.9 1.2-1 0-1-.4-2-2.3-1.5-2.5-.9-2-.6-5-1-3-.4-9.9 .1-2 3.3-11.9z" fill="#0000ff" fill-opacity="0.266" fill-rule="evenodd"/><path d="M205 459.7l2.1-.4 1.6 .4 .4 .4 .8 3.6 1.8 2 .7 1.9-1.5 7 1.5 5-.2 5.9-1 2-1.4 2-.7 2.4-1 .9-1 .1-1.9-.8-1.5-1.6-.9-5.9 .1-3-.5-3 .5-3-.6-4 .6-5 1.3-5.9z" fill="#0000ff" fill-opacity="0.383" fill-rule="evenodd"/><path d="M197.2 455.5l3.7-.9 7.5-.3 6 .2 4.6 .5 1.4 .5-.1 3 1 3-.7 3 .7 7.5-.4 3 .7 3.1-.3 1.5-.8 1.5 .2 1.5 .8 1.5 0 1.5-.8 1.5 .4 3-.4 1.5-1 1.5-.7 3-.1 3-2.9 2.1-1.6 2.5-1.5 .9-1.5 0-1 .6 .8 3-2.8 1.8-1.5 .3-1.5-.6 .2-1.5 1-1.5 .2-1.5-1.4-1.1-3-1.1-2.2-2.4-1.4-3-.8-3-1-1.5-.9-3-1.5-3 .3-1.5 1-1.5 .5-1.5-1-3-.1-4.6 .2-1.5-.7-4.5 .3-4.5 1.8-4.5z" fill="#fff" fill-rule="evenodd"/><path d="M196.9 455.5l2.5-1.1 1.5-.2 7.5-.2 6 .1 4.6 .5 1.6 .9-.1 3 1 3-.6 3 .6 7.5-.3 3 .6 3.1-.3 1.5-.7 1.5 .2 1.5 .8 1.5 .1 1.5-.9 1.5 .4 3-.4 1.5-1 1.5-.7 3-.1 3-3.2 2.6-1.6 2.4-1.5 .9-1.6 .2 .3 3-1.7 1.3-1.5 .8-1.5 .3-1.5-.4-.3-.5 .2-1.5 .9-1.5 .1-1.5-.9-.7-3-1.1-2.7-2.8-1.2-3-.6-2.7-1.1-1.8-.4-1.7-2-4.3 .2-1.5 1-1.5 .4-1.5-.8-3 0-7.6-.7-3 .4-4.5 1.7-4.5z" fill="#ffa500" fill-opacity="0.070" fill-rule="evenodd"/><path d="M198.7 455.5l2.2-1 7.5-.3 6 .2 4.5 1.1 0 1.5-.7 1.5 .3 1.5 .8 1.5-.3 3 .4 6-.4 3 1.3 4.6-2.2 4.5-.4 1.5 .6 3-.2 1.5-.8 1.5-.2 1.5 .6 1.5-.2 1.5-3.4 3-1 1.5-.6 1.5-1.1 .6-1.5-.2-1.5-.7-4.5 0-2.1-1.2-1.2-1.5-.9-3-2.2-3-1.3-4.5 .5-1.5 1.3-1.5 .1-1.5-1.3-4.5 0-4.6-.7-3 .1-1.5 .6-1.5 .1-3 1.7-4.5z" fill="#ffa500" fill-opacity="0.075" fill-rule="evenodd"/><path d="M199.9 455.5l2.5-.8 6-.3 4.5 .1 3.6 1-.3 4.5 1 3 .2 3-.3 4.5-.8 3 .2 1.5 1.7 1.5 .6 1.6-1.9 4.5-.2 4.5-1.6 4.5 .4 1.5 0 1.5-4.1 4-7-1-.5-.3-.3-1.2-4.6-4.5-.7-1.5-.5-3 1.6-2.4 .1-3.6-1.2-3-.2-4.6-.7-3 .3-1.5 1.8-3 .9-4.5-.5-3z" fill="#ffa500" fill-opacity="0.105" fill-rule="evenodd"/><path d="M201.1 455.5l4.3-.8 3-.1 4.5 .2 2.2 .7 0 4.5 .9 7.5-.6 4.5-.8 3 2.4 3.1 0 1.5-1.1 3-.6 4.5-1.8 4.5 .3 3-1.1 1.5-1.3 1-4.5-.6-1.5-.9-2.8-2.5-3.3-4.5 1.2-3 .6-4.5-.2-1.5-.8-1.5-.1-3.1-1-4.5 3.1-7.5 0-1.5-1-3z" fill="#ffa500" fill-opacity="0.143" fill-rule="evenodd"/><path d="M202.9 455.5l5.5-.7 3 .2 2.4 .5 0 9 1 3-.5 4.5-1 3 2 3.1 .4 1.5-1.1 6-2.1 4.5-1.1 2.1-2 .9 .5 .5 1.5 .3 .4 .7-.4 .5-1.5 .2-3-.2-1.5-1-1.5-1.4-.5-1.1-.1-1.5-1.8-3 .3-3 .9-3 .2-1.5-.6-3.1 .1-1.5-1.7-4.5 .1-1.5 .9-3 1.7-3 .1-1.5-1.1-3 .5-1.5z" fill="#ffa500" fill-opacity="0.197" fill-rule="evenodd"/><path d="M204.9 455.5l3.5-.4 3.7 .4-.7 7-.9 2 .5 1.5 1.9 1.5 .5 1.5-.1 3-1 3 .5 1.5 1.3 1.6 .4 1.5-.1 1.5-.7 1.5-.5 3-2.1 3-.3 1.5-.9 .7-3 1.4-1.5-.3-1.3-3.3-1.2-1.5-.2-1.5 1.4-4.5 .3-3-.6-1.6-.5-3-1.1-3-.1-3 .6-1.5 1.2-1.3 1.1-.2 .4-.5 .5 .5 1.9 0-.2-1.5-2.2-1.2-.8-1.8-.4-1.5 .7-1.5z" fill="#ffa500" fill-opacity="0.283" fill-rule="evenodd"/><path d="M206.6 458.5l.3-.5 1.5-.6 .8 1.1 .3 1.5-1.1 .7-1.5-.5zM203.9 466l1.5-.2 1.5 .9 .7 .8-.2 1.5 1 1.2 3 0 .3 .3 .6 1.5-1.1 3 .5 1.5 1.3 1.6 .5 1.5-2.1 5.3-3.1 .7-.9 1.5 1 .8 .3 .7 .1 1.5-1.9 .5-.6-.5-2-4.5 1.4-6 2.9-3.1-1.7-.7-1.5 .3-.7-1.1-1.5-7.5z" fill="#ffa500" fill-opacity="0.421" fill-rule="evenodd"/><path d="M207 472l2.9-.7 1.3 .7-.4 1.5-.9 1.3-2.9-1.3zM209.3 478.1l.6-.9 1.8 .9 .5 1.5-.8 1.4-1.6 .1-.9-1.5zM206.9 481.1l.6 1.5-.6 .5-.3-.5z" fill="#ffa500" fill-opacity="0.682" fill-rule="evenodd"/><path d="M196.7 455.5l1.2-.5 3-.5 6-.2 9.1 .5 2.4 .7 0 1.5 1.2 3 .1 3 2.7 3-.1 1.5-1.2 3-.1 1.5 .1 3-.4 3.1 .6 3-.6 1.5-.2 1.5 .1 4.5-1.6 3 .1 1.5-1.4 3-.5 3-1.4 3 0 1.5-.6 1.6-2.3 2.8-1.5 .7-1.6-.5 .1-1.5-.5-1.5-1-1-1.5 1.6-1.5 .5-1.5-.4-4.5-2.3-1.4-1.5-.4-3-1.3-3 0-3-2.5-4.5-.3-1.5-.1-4.5-1.2-3 .5-4.6 1.1-3 .2-3-.5-3 .7-3-.9-1.5 1.6-.9 1.5-1.9z" fill="#fff" fill-rule="evenodd"/><path d="M196.9 455.5l2.5-1.1 3-.3 6 0 7.6 .4 2 1 0 1.5 1 3 .3 3 2.6 3 0 1.5-1.2 3 0 4.5-.5 4.6 .3 1.5-.7 3 .4 1.5-.1 3-1.7 3-.4 3-.7 1.5-.5 3-1.1 1.5-.4 1.5 .1 1.5-.7 1.6-1.8 2.1-1.5 .5-.7-1.1-.8-2.9-1.5-1-1.5 .6-1.5 1.2-1.5 .5-1.5-.6-3.5-2.4-.1-1.5-2-4.5-.1-3-1.7-3-1.1-3-.2-4.5-1.1-3 .1-1.5 .4-3.1 1-3 .4-3-.7-3 1.3-3 0-1.5 1.3-1.5z" fill="#0000ff" fill-opacity="0.070" fill-rule="evenodd"/><path d="M198.5 455.5l2.4-1 6-.3 7.5 .7 1.8 .6 .1 4.5 1.7 6-.4 1.5 .1 1.5 1.3 4.5-.1 1.5-1.4 4.6-.3 3-.5 1.5 .2 1.5 .8 1.5 0 1.5-1.7 2.6-2 6.4-2.6 2.3-3-.3-3 .5-1.5-.4-1.5-1.6-1.5-.6-1.4-1.4-.5-3-1.8-3-1.2-4.5-.1-3-.7-3 .2-3.1 1.4-6-.1-1.5-1.1-3 2.3-3.6z" fill="#0000ff" fill-opacity="0.075" fill-rule="evenodd"/><path d="M199.9 455.5l2.5-.8 4.5-.3 6.3 1.1 0 3 .5 3 .5 1.5 1.5 1.5 .5 1.5-.3 3 1.4 4.5-.2 1.5-1 3.1 .1 3-.3 1.5-.9 1.5-.2 1.5 1.1 1.5 0 1.5-4.5 9.1-4.5 .3-1.5-.7-1.5-1.2-1.5-.5-1.1-1-2.5-4.5-1.4-4.5-.3-7.5 .6-4.6 1-3-1.4-3-.2-1.5 2.2-3z" fill="#0000ff" fill-opacity="0.105" fill-rule="evenodd"/><path d="M201.2 455.5l2.7-.7 3-.1 3.8 .8 .2 3 1.6 4.5 1.7 1.5 1 1.5-.3 3 1 4.5-1.1 4.6 .1 3-.5 1.7-1.8 1.3-.1 1.5 1.4 1.5 .6 1.5-1.2 3-1.9 2.9-1.5 1.1-1.5 .3-1.5-.3-3-1.3-1.8-1.2-.1-1.5 .8-1.5-1.9-1.8-.9-1.2-1.6-4.5 .3-7.6 .5-1.5 1.1-1.5 .1-1.5-1.5-3 1.6-4.5-.1-3 .8-3z" fill="#0000ff" fill-opacity="0.143" fill-rule="evenodd"/><path d="M202.6 455.5l4.3-.5 2.3 .5 .1 3 1.7 4.5 3.1 3-.1 4.5 .6 3-1.4 4.6-.3 3-1.5 1.6-.5 1.4 .4 1.5 1.8 3-.3 1.5-1.4 2.3-1.5 .6-3-.5-1.8-.9 .1-1.5-1-1.5-2.2-1.5-.7-3-1.7-1.5-.2-1 .7-6.6 2.1-3 0-1.5-1.8-3 .2-1.5 1.1-3-.3-3 1.2-3z" fill="#0000ff" fill-opacity="0.197" fill-rule="evenodd"/><path d="M204.6 455.5l3 0-.2 3-.5 .9-1 .6 .7 1.5 1.3 1.5 5 3 .6 1.5-1.5 9-1.6 4.6-1 1.5 .2 1.5 2.1 4.5-.4 1.5-1.4 1.2-1.5 0-1.2-1.2-.6-1.5-3.2-1.5-.8-1.5-.2-2.1-1.7-2.4 .2-1.1 .4-.4 0-3.1 .5-1.5 1.4-1.5 .6-1.5-1.4-6 .9-3-.4-3 1.1-1.5 .6-1.5z" fill="#0000ff" fill-opacity="0.283" fill-rule="evenodd"/><path d="M206.2 466l.7-.7 1.5 0 3 .9 1.1 1.3-.3 1.5-.8 1.5-1.5 1.3-3 1.5-1.5-.8-1.1-3.5zM206.2 478.1l2.2-1.2 1 1.2-.1 1.5-1.8 3 1 3 .8 1.5 .6 .4 .4 1.1-.4 .8-1.5-.2-.7-2.1-2.3-.2-1.5-.5-.6-.8 .1-3 1.5-1.5z" fill="#0000ff" fill-opacity="0.421" fill-rule="evenodd"/><path d="M207.5 467.5l.9-.4 2.5 .4-.5 1.5-3.5 1.6-.7-1.6zM203.9 484.1l1.5-1.5 1.2 1.5-.1 1.5-1.1 .5-1.1-.5z" fill="#0000ff" fill-opacity="0.682" fill-rule="evenodd"/><path d="M197.2 455.5l3.7-.9 7.5-.3 6 .2 4.6 .5 1.4 .5-.1 3 1 3-.7 3 .7 7.5-.4 3 .7 3.1-.3 1.5-.8 1.5 .2 1.5 .8 1.5 0 1.5-.8 1.5 .4 3-.4 1.5-1 1.5-.7 3-.1 3-2.9 2.1-1.6 2.5-1.5 .9-1.5 0-1 .6 .8 3-2.8 1.8-1.5 .3-1.5-.6 .2-1.5 1-1.5 .2-1.5-1.4-1.1-3-1.1-2.2-2.4-1.4-3-.8-3-1-1.5-.9-3-1.5-3 .3-1.5 1-1.5 .5-1.5-1-3-.1-4.6 .2-1.5-.7-4.5 .3-4.5 1.8-4.5zM200 455.5l2.4-.5 6-.3 4.5 .2 3.5 .6-.3 4.5 1 3 .2 3-.3 4.5-.8 3 .2 1.5 1.7 1.5 .6 1.6-1.9 4.5-.2 4.5-1.6 4.5 .4 1.5 0 1.5-4 3.9-6-.9-1.5-1-.1-.5-4.7-4.5-1.2-3 0-1.5 1.5-2.2 .2-2.3 0-1.5-1.2-3-.3-4.6-.6-3 .2-1.5 1.9-3 .9-4.5-.5-3zM204.4 455.5l4-.3 4.4 .3-.3 7.5-.6 1.5 .5 1.5 1.2 1.5 .2 1.5-.2 3-1.1 3 .7 1.5 1.2 1.6 .5 1.5-1.3 6-1.8 3-.4 1.5-1.5 1.3-3 1.7-1.5-.1-.8-1.4-.2-1.5-.5-1.1-1.4-1.9-.2-1.5 1.4-4.5 .2-3-.6-1.6-.3-3-1.3-3-.1-1.5 .7-3 2.5-3-.1-1.5-1.1-3 .8-1.5zM203.6 467.5l.3-.6 1.5-.4 1.5 1-.3 1.5 .7 1.5 4.1 .5 .5 1-1.2 3 .2 1.5 1.6 1.6 .5 1.5-1.6 3.8-.9 .7-3.6 1-1.5-.2 .1-2.3 1-3 2.8-3.1-.9-1.4-1.5-.3-1.5 .5zM206.5 488.6l.4-.6 .8 .6-.8 1.5z" fill="none" stroke="#ffa500" stroke-width="1.3"/><path d="M196.7 455.5l1.2-.5 3-.5 6-.2 9.1 .5 2.4 .7 0 1.5 1.2 3 .1 3 2.7 3-.1 1.5-1.2 3-.1 1.5 .1 3-.4 3.1 .6 3-.6 1.5-.2 1.5 .1 4.5-1.6 3 .1 1.5-1.4 3-.5 3-1.4 3 0 1.5-.6 1.6-2.3 2.8-1.5 .7-1.6-.5 .1-1.5-.5-1.5-1-1-1.5 1.6-1.5 .5-1.5-.4-4.5-2.3-1.4-1.5-.4-3-1.3-3 0-3-2.5-4.5-.3-1.5-.1-4.5-1.2-3 .5-4.6 1.1-3 .2-3-.5-3 .7-3-.9-1.5 1.6-.9 1.5-1.9zM199.6 455.5l2.8-.6 4.5-.2 7.5 .8-.2 6 .6 1.5 1.3 1.5 .5 1.5-.3 3 1.4 4.5-.2 1.5-1 3.1-.3 4.5-.8 1.5 0 1.5 1 1.5-.1 1.5-4.2 9-.7 .6-4.5 .3-1.5-.3-4.5-3.3-2.5-4.8-1.3-4.5-.3-7.5 .5-4.6 1-3-.4-1.5-.9-1.5-.3-1.5 2.2-3zM203.6 455.5l4.8 0 .1 3 1.5 4.5 3.5 3 .3 1.5-.4 3 .3 3-2.3 7.6-1 1.5-.1 1.5 2.1 4.5-1 2.6-1.5 .9-1.5-.1-1-.4-1.9-3-1.6-.6-1.2-.9-.6-1.5-.2-1.5-1.3-1.5-.6-1.5 .8-6.1 2.2-3-.2-1.5-1.4-3 .1-1.5 .9-3-.4-3 1.6-3zM206.2 466l.7-.7 1.5 0 3 1 1.1 1.2-.3 1.5-.8 1.5-1.5 1.3-3 1.5-1.5-.9-1.1-3.4zM206.2 478.1l2.2-1.2 1 1.2-.1 1.5-1.8 3 .9 3 .9 1.5 .6 .4 .4 1.1-.4 .8-1.5-.2-.7-2.1-2.3-.2-1.5-.5-.5-.8 .1-3 1.4-1.5z" fill="none" stroke="#0000ff" stroke-width="1.3"/></g><g clip-path="url(#c42)"><g mask="url(#mo)"><path d="M260.7 453.7l63 0 1.7 2 1.2 2 1 3 0 4 .8 2.9 .1 6-1.4 4 1 4 .5 4.9-.2 5-1.3 5 .8 4-.8 3.9 .6 4-1.2 4 0 1 .8 2 .3 2-.7 4.9-2.1 4-.8 2.7-1 1.2-1 .3-.5-.2-2.2-2-1.3-.3-1.1 .3-1.9 1.5-1 .2-3-1.1-1.9 .2-3 1.6-4 1.5-4 2.5-1 .4-4-.7-1 .3-.5 .6-.6 2-.8 1-1 .3-1-.7-.3-.6 .1-1 1.2-2-.3-1-1.7-.8-1 0-2 1.3-2 .8-5 .5-4-.1-1.9 .9-2 .3-3-1.1-5.4-4.8-.6-.7 0-75.5z" fill="#ffa500" fill-opacity="0.024" fill-rule="evenodd"/><path d="M261.4 454.7l1-1 59.5 0 2.1 2 1.4 2 1 4-.4 3 .5 2.9 .3 6-1.3 4 1.1 5 .2 3.9-.2 5-1.1 4 .9 5-1.2 3.9 .9 4-.6 2-1.2 2-.1 1 .7 3-.5 2-1 1-2.4 .6-1 .7-.5 .7-.5 2.9-5 2.7-4.9-.1-3 1.9-4 .8-3 1.9-1 .2-1-.3-2-1.9-3 1.5-.9 .2-5-.6-1 .2-3 1.9-2 .5-4-.1-3.9-1.3-1 .3-2 1.5-1 .1-2-.7-4-2.9-1.6-2.8-.4-2.5 0-69.1z" fill="#ffa500" fill-opacity="0.028" fill-rule="evenodd"/><path d="M262.8 454.7l1.8-1 55.6 0 3.4 3 1 2 .5 2-.5 8.9 .3 4-.5 4 .8 7-.3 6.9-1.1 4 .9 4-1.1 4.9 .1 4-2.2 5 .5 2-.2 1-.8 .6-2 .4-1 .8-2 3.4-2 2.4-1 .5-1 .1-3.9-1.4-1 .6-2 2.9-1 .5-3 .5-2-.2-3-1.6-1-.1-1.5 .5-3.4 2.2-7 .8-3 1.9-1 .3-3-.3-3.9-1.8-1-.1-3 1.7-2 .1-2-.8-1.3-1-.6-1-.6-2-1.3-6.9-.2-3.6 0-58.3 1.3-1.8z" fill="#ffa500" fill-opacity="0.041" fill-rule="evenodd"/><path d="M264.5 454.7l5.7-1 48.4 0 3.9 3 1.2 2 .4 2-.6 8.9 .3 3-.2 6 .5 6-.4 6.9-1 4 .4 5-2 8.9-.8 2-1.3 1.7-2.9 2.3-2.1 4.5-1 .4-2-1.3-1-.3-1.9 .3-2 1-1.6 1.4-.9 2.9-1.5 1.2-2 0-4-1.8-1-.1-2 .7-4.9 2.5-6 1-4 1.9-3-.3-2.9-1.5-1-.2-1 .1-3 1.6-1 .1-1.2-.2-1.4-1-.8-2-1.5-7.9-.2-9-.7-8.9 .5-4-.7-6.8 .3-7.1-.3-5.5 .5-4.5 0-13.9 1.5-2.7 1-.8z" fill="#ffa500" fill-opacity="0.056" fill-rule="evenodd"/><path d="M270 454.7l2.3-.3 5.9-.1 5 .3 8.6-.9 24.9 0 2.3 1.1 2.4 1.9 1.3 2 .5 2-.6 7.9 .5 16-.3 5.9-1.1 5 .1 4-.9 4.9-1.8 6-1.6 2-4.5 3.3-3 .9-3.9 .6-3 1.4-1 .9-2 3.2-1 .1-3-.8-2-.1-6.9 3.2-9 1.6-2 .7-1-.1-2-.9-1.9-.3-2 .3-3 1.3-1.3-.4-.7-1-1.6-4.9-.6-4-.1-8-.6-8.9 .4-5-.8-8 .5-4.9-.3-5 .4-5-.1-12.9 .5-2 1.3-1.7 2-.8z" fill="#ffa500" fill-opacity="0.074" fill-rule="evenodd"/><path d="M289.4 454.7l8.7-1 15.9 0 2 .5 3 1.3 1.4 1.2 1.4 2 .5 2-.5 7.9 .6 16.9-.3 4-2.4 13.9-1.7 6-.5 1-1.5 1.6-3 2.2-2 .9-1.9 .4-4 0-3 .3-1 .6-2 3.2-1 .5-5-.5-4.9 2.5-3-.2-2 .6-3 .4-4 0-3.9 1.4-5 .8-1-.2-1-.9-1.5-2.6-.7-2-.3-2 0-7-.8-9.9 .6-5-.9-8 .4-4.9-.3-5 .5-5 .1-13.9 .9-1.7 2-1 7-.9 10.9 .1z" fill="#ffa500" fill-opacity="0.101" fill-rule="evenodd"/><path d="M296.1 454.7l7-.4 2-.6 3.3 0 1.6 .7 5 .2 1 .9 2 .2 2.1 2 .2 1 .7 .7 .1 31.1-.1 .9-.7 1.1-.3 2.8-.7 1.2-.3 2.7-.7 1.3-.3 2-.5 .9-.5 4.7-1 1.8-2.7 2.5-1.7 1-2.5 .5-4-.3-2-.7-2-.3-1 .1-3 1.6-1 0-3-1.3-1-.2-3.9 .7 .9-1.1 0-1-.7-1-2.2-.6-1 .1-3.2 3.5-.8 3.4-.9 1.6-1.1 1-1 .4-3 .3-3.9 1.1-5-.2-1-.4-1.1-2.2-.2-13-.8-2.9 0-4 .7-1 .1-1-.2-2-.6-1-.2-6 .3-28.8 1-1.2 5-.9 8.9-.4 6 .2 1-.1 1-.6 7.9-.2 1-.2z" fill="#ffa500" fill-opacity="0.072" fill-rule="evenodd"/></g><path d="M298.5 454.7l1.6-.5 2-.2 9.9 .2 5 1.1 1.9 1.4 1.5 2 .5 3-.2 6.9 .7 8-.5 5 .3 4.9-.7 6-1.1 4-2 5-1.2 6.9-1.2 1.8-1.3 1.2-2.7 1.6-1.9 .6-8-2.1-1 .1-3 1.6-1-.1-5.9-4.4-7-1.4-1 .3-.8 .8-1.9 6-1.3 1.6-1 .1-2-2.6-1-.6-1.9-.2-1 .6 .1 1.1 2.1 2 0 1-1.2 1.1-3 .1-3 .6-1-.6-.8-2.2 0-6-1.1-9.9 1.2-4-1.8-8 0-3 .6-2.9-.4-6 .7-5 0-10.9 .2-2 1.4-1.2 4-.2 3.9-1 14-.3 4.9-.8z" fill="#ffa500" fill-opacity="0.055" fill-rule="evenodd"/><path d="M301 454.7l7.1-.4 7.9 1.2 2.2 1.2 .9 1 1 2 .3 2-.2 6.9 .5 9-.3 10.9-1.2 6-2.7 7-.8 4.9-.6 2-1.7 2-3.4 2-1.9-.1-8-2.1-3 1.4-1-.2-1.6-2-1.2-3-1.2-.7-4.9 .6-2.1-.9-1.3-1-.6-1 .7-2.9-.7-1-1 .4-.1 .6 .1 1.6 .9 1.3-.9 .4-.3 .6-1.2 1-2.1 1-1.4 2.6-1 .4-3 0-2.9 .9-1.5 2.1-.1 3-.4 .9-1 .6-1-.2-.6-1.3-.3-10-1.2-4.9 .1-1 1-1.3 2.4-.7 .8-1-.3-1-1.9-.6-1-.8-1-2-.8-3.6 0-2 .6-3.9-.3-6 .8-6-.3-4 .6-3.9-.1-3 .9-1 3.6 0 3.9-1.4 5-.5 5 .2z" fill="#ffa500" fill-opacity="0.069" fill-rule="evenodd"/><path d="M297.6 455.7l3.5-.5 6-.3 6.9 .7 3.1 1.1 1.1 1 1 2 .3 2-.1 6.9 .7 9-.4 5 .1 3.9-.5 4-1 4-2.6 5-1.7 6.4-3 3.2-1 .6-1.9 .2-3-.2-2-.7-3.2-1.6-4.8-3-4.5-3.9-3.4-1.9-4-2.8-4-1.6-1-.8-2-2.9-1-.1-2.9 1.8-1-.9 .1-3.8-1.1-1.4-1 .2-3 2.3-1-.1-.3-1 0-2 .9-2.9-.5-3-.1-5 1-1.8 1.7-1.2 .8-1 .5-3 1-.9 2-.8 .9-.9 2-5.6 .9-.7 2.1-.5 6-.1zM278.2 465.8l-1.7 1.8-2.3 1.4-1.2 1.6-.4 1-.4 2 .1 1 .6 1 2.3 .5 4-1 1-.8 .4-1.7-1.5-3-.4-3zM274 498.5l2.2-.4 1 .2 1 .7 .5 1.5-.5 1.5-1 .4-1 0-2-.8-.7-1.1-.2-1z" fill="#ffa500" fill-opacity="0.114" fill-rule="evenodd"/><path d="M302.6 455.7l5.5-.2 7 1.2 1.7 1 .7 1 .8 3-.1 5.9 .9 11-.6 8.9-.9 5-.9 2-2.1 3-1.6 3.9-1 1.5-3.9 2.8-2 .8-2.3-1.1-1.9-2.9-1-1-3.8-1.3-7.3-3.7-.9-1-1.7-3-3-2.3-1.5-2.7 0-1 1.2-2.9 .4-2-.8-5 .7-5-.6-4 .5-1 2.1-1.4 1.8-3.5 2.4-3 2.1-1z" fill="#ffa500" fill-opacity="0.179" fill-rule="evenodd"/><path d="M302.3 456.7l5.8-.3 5.9 1.3 1.4 1 .6 .9 .6 2.1 0 6.9 1.1 10-1.2 9.9-1.2 4-1.2 2-3.1 3.5-2.9 1.6-2-.3-3-1.5-6-2.3-4.5-5-1.1-2-.4-2-.1-1.9 1.4-4-.4-7 .5-3-.9-4 0-2.9 .5-1.2 4-3.8 2-1z" fill="#ffa500" fill-opacity="0.266" fill-rule="evenodd"/><path d="M302.2 458.7l4.9-.9 3.7 .9 1.5 1 1 1 .7 1.2 .5 1.8-.3 5.9 1.2 9-.4 3.9-1 4-2.3 4-.7 2.1-1 1.4-1.9 .9-2-.3-1.9-1.1-2.5-2-1.6-1.8-1-2.2-.6-4.9-1.4-5.3-.3-3.7 .5-3-.2-4 .4-1.9 1.6-4 1-1z" fill="#ffa500" fill-opacity="0.383" fill-rule="evenodd"/><path d="M306.7 470.6l.4-.7 1 .2 1.2 3.5 .1 1-.3 1.5-1-.7-1.5-1.8-.4-1 .1-1z" fill="#ffa500" fill-opacity="0.517" fill-rule="evenodd"/><g mask="url(#mb)"><path d="M260.3 453.7l64.2 0 2.5 2.3 1 1.7 .6 3-.2 7.9-.7 5 1.2 4-.3 2-1.1 3 .4 2.9 0 5-1.3 4-.3 2 1.5 6.9-.3 4 .8 3 .7 6-.7 5.9-1.3 5-1 1.5-1 .4-1-.1-2-1.5-1-.2-3 1.9-5-.1-3.9 .9-3-.4-2.5 1.6-1.5 .6-2 0-3-1.2-1-.1-4.3 1.7-1.5 1-2.1 2.5-1 .4-2.3-2.9-1.3-1-1.4-.4-4.6 .4-2.7 1-2.6 2.2-1 .2-4-1.2-3-.1-1-.5-.5-.6-1.1-3-1.4-2.1z" fill="#0000ff" fill-opacity="0.024" fill-rule="evenodd"/><path d="M260.8 454.7l.9-1 61 0 2.1 2 1.9 3 .6 4-.1 5.9-.9 5 1 4 0 1-1.1 4 .4 2.9 0 5-1.2 4-.3 2 .9 6-.3 1.9-.7 2 .2 1 1.2 2 .4 2-.3 2-.8 2 1 5 .1 1-.8 1.7-1 .6-2 .3-4 1.8-6 .1-3.9 1.2-3.9 .2-3.1 2.1-1 .3-3-.9-1 0-5 1.2-2.9 .2-3 .9-3.2-.8-5.8-.1-2 .5-3.9 1.9-1 .2-5-.7-1-.7-4-5.6 0-70.6z" fill="#0000ff" fill-opacity="0.028" fill-rule="evenodd"/><path d="M262.1 454.7l1.1-1 57.7 0 2.6 2 1.3 2 .9 2 .5 4-.4 5.9-.7 4 .7 5-.8 4 .5 6.9-1.5 7 .2 6.9-1.3 4 1.3 3 .2 1-.6 1-2 2-1.2 2-.9 3 0 2.9-.7 .9-1 .4-1-.1-2-.8-1 .1-3 1-3.9 .1-3 1.2-6 1.1-4 1.3-4.9-.4-5 1.2-4 .3-4-.1-4.9 2.2-6-1.1-1-.5-1.9-1.8-.6-1-1-3 .1-8.9-.6-4.8 0-52.5z" fill="#0000ff" fill-opacity="0.041" fill-rule="evenodd"/><path d="M263.4 454.7l1.7-1 54 0 2.9 1.7 1.3 1.3 1.3 3 .6 4-.4 5.9-.7 4 .6 5-.6 5 .4 5.9-1.8 9-.1 4.9-1.1 4 0 4-2.5 3.8-3 2.8-5 3.3-1.9-.1-2-1.3-1-.2-1 .4-2 2.4-3 1.4-3.2 .4-3.8 1.1-6.9-.3-3 1.4-2 .5-5-.3-1 .3-2.9 2.1-1 .2-6-1.2-2-1.2-1.3-2.6-.3-2 .1-7.9-.8-14.9 .2-14.9-.4-7 .4-4-.5-6 .5-4.9-.4-4 .7-2z" fill="#0000ff" fill-opacity="0.056" fill-rule="evenodd"/><path d="M265.1 454.7l2.2-.5 5 .5 3.9-.3 9 .3 13.5-1 17.2 0 2.1 .4 2 .9 2.3 1.7 1.1 2 .9 4-.1 3-1.1 7.9 .6 5-.4 5 .3 5.9-2.6 11-.1 3.9-.9 5-.8 2-1.2 1.5-1 .7-4 1.4-4.9 0-4 2.1-2 .6-3-1.7-1 0-.7 .4-.5 1 .2 1.5 1 .9 2 0 .5 .6-.3 1-1.2 .3-1.4-.3-.6-.6-1 .2-3 1.8-2.9 .3-2-.4-2-1.4-1-.2-1.7 3.2-1.3 .9-3 .3-4-.7-1 .6-1.7 1.9-1.2 .5-3-.9-3-.2-1-.5-1.2-1.9-.5-3.9 .1-6-.6-6 .1-4-.4-3.9 .2-15.9-.4-7 .4-4-.5-6 .4-4.9-.2-3 .2-2 1.3-2z" fill="#0000ff" fill-opacity="0.074" fill-rule="evenodd"/><path d="M297.6 454.7l4.5-.7 13.9 .4 4 1.3 1.4 1 1.2 2 .8 4-1.2 10.9 .7 6-.3 4 0 5.9-1.3 6-1.7 5-.1 3.9-1.1 5-.8 1-1.6 1-6 1.5-2.9 .1-4 1.5-4-1.1-4 1.1-1 0-1-.8-1.7-2.3-1.2-.5-1 0-1 .9-.2 2.6 .5 2 2.2 2 .4 1-.9 .7-1 .1-3-1.7-2-.1-1 .3-.6 .7-.2 2.9-.5 1-.7 .5-2 .2-4-2-1-.1-1.8 .4-5.1 2.1-2 .2-1-1.1-.6-3.1 .2-5-.8-6 0-5-.4-3.9 .1-15.9-.5-7 .4-4-.5-6 .5-4.9-.2-3 .2-2 .6-1 1-.8 3-.8 5 .3 3.9-.2 9 .2z" fill="#0000ff" fill-opacity="0.101" fill-rule="evenodd"/><path d="M295.1 455.7l7-.6 4 .4 11.9 .1 1 .9 1 .1 1.1 1.1 .1 1 .9 2 0 4-.7 2.9-.3 6 .2 4 .7 1.9 0 1.6-.8 2.5-.2 8.9-.7 1-.3 2.6-2.6 5.4-.4 6.3-1.4 1.6-3.6 1.2-2 .2-4.9-.1-3-.6-5-.2-3-1.8-3.9-.3-1.4-.4-.8-1-.7-2-1.1-.4-.7 .4 .2 3-1 2-.2 1 .9 4-.5 1-.7 .3-5 .3-3 1.1-5.9 3.5-3 .3-1-.5-.5-1 .8-4-1.4-4-.4-3 .1-4-.6-.9-.2-1 0-19.9-.3-2-.5-.7-.1-2.3 .1-1 .7-1 .1-2-.2-2-.6-1.1-.1-2.9 .1-2.1 .6-.8 .2-1-.2-4 .2-2 1.2-1.1 2-.2 24.8 0 2-.1z" fill="#0000ff" fill-opacity="0.072" fill-rule="evenodd"/></g><path d="M297.9 455.7l1.2-.5 2-.2 14.9 .2 3 1 2.2 2.5 .4 4-.2 5.9-.6 5 .8 6-.3 6.9-.9 7-1 3-2.6 5-.9 5.9-.7 1-1.2 .6-4 1.2-2.9-.3-5-1.6-4 .1-2-1.1-3-2.7-2.9-.5-4-2.5-1 .2-1.6 1.6-.3 1 .1 3-1.3 5-.6 1-1.3 .6-2 .3-1-.7-1-1.5-1-.3-1 .5-1 1.8-.2 2.3-.4 1-1.3 1.1-2.1 .9-1-1 .5-3 .1-3 1.9-3 .4-1-.1-1-.7-.6-3-.9-.6-.5-1.4-2.1-.6-1.8 .3-5-.9-5 .2-7.9-.6-5 .7-5-.8-6 1-4.9-.5-4 1.2-1.6 2-.7 4 .8 3.9-.3 3 .4 4-.5 4 .1zM278.2 498.3l-.5 1.2 .5 1.1 1 .1 1-.5 .4-.7 .1-1-.5-.9-1-.1z" fill="#0000ff" fill-opacity="0.055" fill-rule="evenodd"/><path d="M300 455.7l2.1-.3 9.9 0 4 .4 3 1.2 1 1 .7 1.7 0 6.9-.5 7 .8 8-1.2 10.9-1.2 4-3 5-1.2 4.9-1.4 1.3-2.1 .7-1.8 .3-2-.3-3-2-4-1.8-3-.2-3-2.3-1-.3-2.9 .1-1-.4-1-1-.3-1 .1-3-.5-1-2.3-1.2-5-1.5-2-1.3-1-.3-1.2 .3 2.2 1.9 .2 1.1-.3 1-2.6 3-1.2 3-1.1 .1-.4-.1-.1-1 1-2-1.4-5.2-1-.3-3 1.6-1 .1-1-.7-.7-1.5-.5-5 .3-3.9-1-5 1.2-6-1.2-5 1.4-3.9 .1-2-.5-2 .1-1 .8-.8 1-.3 2 .4 1.1 .7 .9 1.7 1 .6 1.3-.3 .6-.6 .2 .6 1.8 1.8 2 1 1-.2 .4-.6 .4-4 1.2-.7 2-.3 4 .3 4-.5z" fill="#0000ff" fill-opacity="0.069" fill-rule="evenodd"/><path d="M298.9 456.7l3.2-.6 12.9 .2 1.7 .4 1.7 1 1 2 .3 7.9-.5 7 .9 6 0 2-1.4 9.9-.7 2.5-1 1.8-3.4 3.7-1.6 3-1 .9-1 .4-1.9 .1-2-1.7-4-.8-3-1.8-4-1.7-2-1.4-.5-2 0-3-.5-.9-1.5-1.1-.4-.6-.5-2.4-2.5-2.7-1.2-3.2-.8-.8-2.6-1.2-2.4-2-2-.5-2 2.1-2 .5-3.9-.3-2 .8-1 0-1-1.4 .1-1.2 .9-1.2 1-.4 2 .9 1 0 3.3-2.3 .4-2-.3-3 .5-.7 1-.3 3 2 1 .2 2-.5 1 .4 1.6 2.9 2.4 5.8 1 .5 1-.2 .2-1.1-.4-3-1-2-.2-1 2.4-3 1-3.5 .7-5.4 .6-1 1.1-1z" fill="#0000ff" fill-opacity="0.114" fill-rule="evenodd"/><path d="M300 457.7l3.1-.7 9.9 .1 2.9 .6 1.1 1.1 .4 3.9 .8 3.9-.7 8 1.1 8 0 2-1.3 3.9-.5 4-.7 2-2.1 2-2 .9-4.9 .6-6-.6-1.3-.9-1.8-2-2.8-6-1.1-4.9 .4-9-.5-4 2.1-8.9 1.4-2z" fill="#0000ff" fill-opacity="0.179" fill-rule="evenodd"/><path d="M302.2 459.7l1.9-.5 5-.5 1.9 .2 1 .4 .6 .4 .5 3 1.9 2.8 .4 1.1 .1 2-1 6 1.6 9-.1 1.9-3 6.9-1.4 1.1-2.5 1-2 .3-2-.4-1.8-.9-2.1-2-.8-3-1.5-3.9-.8-4 .9-14.9 1.1-3z" fill="#0000ff" fill-opacity="0.266" fill-rule="evenodd"/><path d="M304.8 472.6l.3-.5 1-.4 .8 .9 .2 1.2-1 .7-1.2-.9z" fill="#0000ff" fill-opacity="0.383" fill-rule="evenodd"/><path d="M289.6 455.5l2.6-.5 7.5-.6 9-.1 7.6 .3 1.5 .2 1.5 .7-.4 4.5 .4 4.5 .7 1.5-.6 3 .5 3-.4 1.5-.3 7.6 .2 1.5 1.2 3-.6 1.5-.1 3-2.1 4.5-2 3-1.9 6-.6 1.2-.7 .4-1.1 3-2.8 1.5-4.5 1-1.4-1 .7-3-1.5-1.5-2.6-1.6-1.3-3-1.4-2.2-1.5-.4-1.5 .9-1.5-.4-.7-.9-.2-1.5 .4-1.5-.7-1.5-3.3-1.4-1.1-1.6-.7-4.5 .3-.4 3.3-1.1-.3-1.2-1.5-1.2-.3-.6 2.3-3-.5-2.1-1.1-1-.7-3-1.9-4.5 3.7-5.1 .7-3.9z" fill="#fff" fill-rule="evenodd"/><path d="M290.2 455.5l2-.7 6-.6 10.5-.2 7.6 .3 1.5 .2 1.4 1-.4 4.5 .1 4.5 .5 1.5-.4 3 .5 3-.3 1.5-.1 7.6 .1 1.5 1.1 3-.6 1.5 0 3-2 3-.4 1.5-2 3-2 6.6-1.8 1-.1 1.5-.7 1.5-3.5 1.7-3 .4-.8-.6 .6-3-1.1-1.5-3.2-1.8-.8-1.3-.7-2.1-1.5-2.2-1.5-.5-1.5 .9-1.5-.4-.5-1.7 .5-1.5-.6-1.5-2.3-1.5-1.6-.6-.7-.9-.4-3 .5-1.5 2.1-.8 .7-.7-.2-1.5-1.6-1.5 2-3-.9-2.7-1.2-1.9-.3-1.9-1.8-4.1 1.8-2.4 1.5-1 .4-2.6 1-3-.4-1.5z" fill="#ffa500" fill-opacity="0.070" fill-rule="evenodd"/><path d="M295.7 455.5l2.5-.9 1.5-.2 9-.2 7.6 .6 1.7 .7 0 1.5-.7 3 .1 3-1.2 3 .1 1.5 1.1 3 .2 1.5-.3 1.5 .6 3-.3 7.6-1.1 3 1.1 3-1.3 1.2-1.4 3.3-1.7 3-1.4 1.4-3.1 .2-3 2.1-1.5 .6-1.5 .1-1.5-.6-.8-.8-2.2-3.5-2.7-2.5-1.8-3.3-4.1-2.7 .2-1.5 2.5-3 .7-3 0-1.5-2.3-6.1 1.5-1.2 1.7-3.3 1.3-.9 .4-.6 0-3-.4-1.8-.7-1.2-.3-1.5 1.5-3zM289 467.5l.7 0 1 1.5-1.5 .8-.7-.8z" fill="#ffa500" fill-opacity="0.075" fill-rule="evenodd"/><path d="M297.3 455.5l2.4-.8 4.5 0 4.5-.4 3.1 .1 4.4 1.1 0 1.5-1.5 1.5 1.2 3 .2 1.5-.7 3 .7 4.5-.3 3 .9 3-.2 6.1-1.9 9-1.3 3-1.5 2.7-4.6 .9-1.5 0-1.5-.8-1.5 .1-1.3-1.4-.3-1.5-1.4-.8-3-.5 .1-1.7-1.1-3-.5-.6-1.5-.1-1-.8 1.4-3 .6-3 .2-3 .6-1.6-1-3 .9-3 1.6-3 .3-1.5 0-1.5-1.3-4.5 1.3-3z" fill="#ffa500" fill-opacity="0.105" fill-rule="evenodd"/><path d="M298.5 455.5l1.2-.4 4.5 .1 4.5-.6 3.1 .1 2.2 .8 0 1.5-.4 1.5 1.4 4.5-.4 3 .7 3-.9 4.5 .4 1.5 .9 1.5 .1 1.6-.9 7.5-1 3-.6 3-1.2 1.5-.5 1.5-1.2 1.5-3.2 .9-1.5-.1-1.2-.8-1-1.5-4.3-3-.8-1.5-.5-3-1.2-3 0-1.5-.5-1.5 .1-1.5 1-1.5 .4-1.6-1.2-3 .3-3 2.4-4.5 .5-.7 1.5-.8-2.2-1.5-.2-1.5-.8-1.5z" fill="#ffa500" fill-opacity="0.143" fill-rule="evenodd"/><path d="M305.8 455.5l2.9-.7 3.1 .2 1.1 .5-.3 3 .9 3 .3 4.5 .7 3-1.3 4.5 0 1.5 1.5 1.5 .3 1.6-1.2 4.5-.2 1.5 .2 1.5-1.1 3 0 1.5-.9 1.5-1.6 .8-1.5-.3-.1-.5-1.4-.8-1.5 0-3 1.8-1.5-.5-.6-.5-.7-1.5 1.3-1.1 1.4-.4-1.2-3-.1-1.5-1.2-1.5-1.9-.9-.5-.6-.1-1.5 .6-.9 1.5-1.2 1.5 .9 1.5 .2 2.1-2.1-1-1.5-2.6-.8-1.5 1.6-1.5-.5-.6-1.8 0-1.5 .4-1.5 1.7-3.1 3-1.4 3-.6 .4-.9-.4-.4-1.5 .2-1.5-.4-1.1-.9-.7-1.5 .5-1.5 1.3-.4 1.5-.1 1.6-2.5zM306.6 493.1l.6-.2 .7 .2 .8 .6 .3 .9-1.8 1.3-1.5-.4-.6-.9 .6-1.3z" fill="#ffa500" fill-opacity="0.197" fill-rule="evenodd"/><path d="M307.4 455.5l1.3-.4 3.1 .3 .1 1.6-.3 1.5-1.4 1.3-3 1.7-1.4-1.5 1.6-3zM308.2 464.5l.5-.5 1.5-.2 1.6 .4 .4 1.8 1.1 1.1 .4 1.9-1.3 3-.4 3 1.5 1.5 .6 1.6-2 4.5-1.2 1.5-.6 3 .4 3-.5 .2-.5-1.7-1-.6-1.5 .2-1.5 .8-1.5-.5-1-1.4-.4-1.5-.1-2.1-.7-2.4 .7-.5 3.6-4.1 0-1.5-3-1.5-1.2-1.5-1.4-3 .5-.7 1.5-.5 1.5 .3 3-1.5zM308.7 466.9l-1 .6 1 2.9 1.5-.1 .8-1.3 .1-1.5-.9-.8zM299.6 479.6l.1-.1 .2 .1-.2 .2z" fill="#ffa500" fill-opacity="0.283" fill-rule="evenodd"/><path d="M308.6 455.5l1.7 0-.1 1.7-1.5 .5zM305.5 469l.2-.1 1.5 .6 .6 1 .1 1.5-.7 .8-1.5 .7-1.5-.7-.6-.8 .3-1.5zM307.8 476.5l.9-1.2 1.5-.2 3 3-1.4 2.6-1.6 .5-1.5-.4-.4 .3 1.3 1.5 0 1.5-.9 1.5-1.5 .4-1.5 1.3-.9-.2-.6-.2-.4-1.3 .5-4.5 1.4-2.4z" fill="#ffa500" fill-opacity="0.421" fill-rule="evenodd"/><path d="M305.1 470.5l.6-.6 .9 .6 0 1.5-.9 .6-.9-.6zM307.8 478.1l.9-1 1.5-.2 1.7 1.2-1 1.5-.7 .3-1.5-.8z" fill="#ffa500" fill-opacity="0.682" fill-rule="evenodd"/><path d="M294.5 455.5l3.7-.9 12-.3 7.6 .5 2.2 .7-.1 3 .6 1.5-.3 3 1.5 3-.9 1.4-.4 1.6 .1 6 .3 2.1 1.5 4-1.4 3 .3 3-.7 6-2.8 4.5-.5 1.5 1.6 1.5 .3 1.5-.4 1.5-.9 1.7-3.7 1.4-1.1 3-2.8 .5-3.1-2-1.4-1.5-1.5-.3-4.5 .6-1-4.9-.5-1.5-2.7-4.5-.3-5-3-.8-3 0 0-.7 1.5 .2 1.2-2.7-1.2-.7-1.2 .7-.3 .7-.2-.7-1.3-1.4-.6-1.6-1.1-1.5 3.3-1.5 .7-1.5 .2-6.1-.7-1.5-2.6-1.5 .6-3 0-1.5 2.5-3-.6-3 1.3-1.6 1.5-.5 1.5 0 .8-.9zM286.1 475l1.6-.2 .1 .2zM291.9 497.6l.3-.7 .3 .7-.3 .3z" fill="#fff" fill-rule="evenodd"/><path d="M295.2 455.5l1.5-.9 1.5-.3 12-.2 7.6 .4 1.8 1-.2 3 .4 1.5-.5 1.5 1.8 4.5-.6 1.5-.5 3 .3 4.5 .5 3 .9 1.6 .3 1.5-1.6 3 .4 3-.7 6-3.9 6 .1 .8 1.5 .4 .3 .3 .5 1.5-.8 2.4-1.5 .9-3 1.1-1.5 2.3-1.6 .6-4.5-3.9-3 .7-1.5-.2-1-.8-.4-1.6 .8-3-.9-.8-1.5-.5-2.2-3.2-.7-6-1.6-.4-1-1.1-.5-4.8-.1 .3-2.9 2-1.3-2 .2-1.5 2.3-1.5 .5-7.6-.5-1.5-2.3-1.5 .1-1.5 .9-1.5-.8-1.5 2.4-2.3 1.5 0 1.5-.4 1.5-1.2 0-.9-1.4-1.2 0-1.5 1.4-1.5zM307.2 502l-.2 .1 .2 .7 .3-.7zM290.7 465.6l-1.4 1.9 1.4 .6 1.4-.6 .3-1.5-.2-.6zM290.3 460l.4-.5 1.5-.6 1.2 1.1-1.2 1.2-1.5 .4z" fill="#0000ff" fill-opacity="0.070" fill-rule="evenodd"/><path d="M296.8 455.5l1.4-.7 3-.5 4.5 .2 4.5-.3 6.1 .7 1.6 .6-.8 6 1.9 3 .2 1.5-.8 4.5 .5 4.5 1.3 4.6-.2 1.5-.7 1-.7 2-.3 1.5 .6 3-1.2 3 .4 1.5-.7 1.5-2.6 3.4-1.5 1.1-1 0-.5 3.2-1.3-1.7-1.8-.6-1.5 0-1.8 .6-1.2 1.4-1.5-1.4-.8-1.5-3.7-3-.5-1.5-.3-4.5-.7-1.1-2.3-1.9-.4-7.5-1.4-1.5-.3-1.6 .2-1.5 1.2-3.2 1.6-1.3 .1-1.5-.4-3 .6-1.5 1.3-1.5-.5-4.5z" fill="#0000ff" fill-opacity="0.075" fill-rule="evenodd"/><path d="M298.3 455.5l4.4-1 3 .4 4.5-.5 5.4 1.1 .2 3-.4 4.5 2.3 1.5 .7 1.5 0 1.5-1.4 3 .4 1.5 .3 3 .6 1.5 .4 3.1-1.6 6 .4 3-1.7 3 0 1.5-.4 1.5-.6 .9-1.5 .9-1.5-1.3-1.6-.1-1.5 3.1-3 1.1-1.5 .2-4.5-3.5-.8-1.3-.2-4.5-.4-1.5-2.2-1.5-.4-1.5 .3-1.5-.6-3 .1-1.5 .4-1.5-1.2-1.6-.6-1.5 .3-1.5 .8-.9 3.2-2.1-2.3-3 0-1.5 2.2-3-.4-3z" fill="#0000ff" fill-opacity="0.105" fill-rule="evenodd"/><path d="M300 455.5l2.7-.7 3 .7 4.5-.9 2.7 .9 0 1.5 1.1 1.5 .4 1.5-.4 3 .8 1 1.5 .7 1.2 1.3 .1 1.5-1.8 3 1.5 6-.1 1.6-.8 1.5 .7 3-.8 2.6-.6 .4-.1 1.5 .4 1.5-.8 1.5-.6 3-1.3 1.4-1.5-.9-1.6-.2-1.5 1.6-1.5-.5-1.5-2.4-1.5 .1-.9 .9-.3 3-.3 .2-1.5-.4-1.1-1.3 .5-3-.6-3-2.2-3 .8-1.5-.1-1.5-1.2-1.5-.5-1.5 2.1-1.5-.1-1.6-3.1-1.5 0-1.5 4.1-3-.5-1.5-2.1-1.5 .1-1.5 2.4-3-.2-3 .6-1.5zM306.8 496.1l.4-1 .3 1-.2 1.5-2.1 0z" fill="#0000ff" fill-opacity="0.143" fill-rule="evenodd"/><path d="M301.3 455.5l1.4-.4 1.3 .4 0 3 1.7 1.2 1.5-.9 .4-3.3 2.6-.6 1.9 .6 0 1.5 1.2 3-.5 3 1.3 1.5 2.6 1.5 .3 1.5-.7 .9-1.6 .6 0 1.5 .6 1.5 .2 3 .8 1.5-.5 1.6-1.7 1.5-.1 1.5 2.1 1.5-1.3 1.8-1.5-1.3-1 1 1.8 4.5-.3 3-.5 1.2-3.1-1.5-1.3 .3-.2 .8-.2-.8-2.8-.7-3-.2-.4-.6 .4-1.5-.8-1.5-1.4-1.5-1-4.5 1.8-4.6 .2-1.5-1.8 .9-2.2-.9-.6-1.5 2.8-1.9 .9-1.1-.1-1.5-.8-1.3-.5-.2-.1-1.5 3-3-.7-1.5 .1-1.5 .6-1.5-.8-1.5z" fill="#0000ff" fill-opacity="0.197" fill-rule="evenodd"/><path d="M308.9 455.5l1.3-.2 .7 .2 0 1.5 .8 1.5 .1 1.9-1.6 0-1.5-1.7zM304.2 461.5l1.5-.5 1.5-.1 1.2 .6 1.8 1.6 1.6 .1 1.5 1.7 2.2 1.1 .5 1.5-2.7 1.5 .6 3-3.2 1.5 0 1.5 1.1 .8 3 .1 .4 .6-.8 1.6-1.1 1-.8 2-1.3 1.5-.8 1.5 2 3 .5 1.5-.2 1.5-.9 .6-3.1-.9-3 .1-1.5-.6-.4-2.2-2.6-4.5 0-1.5 1.5-2.1 1.5-.2 .9-.7 0-1.6-1.5-3-.9-1-1-.5 .1-4.5 1.6-1.5 .5-1.5-.1-1.5zM298 473.5l1.7-.7 1 .7-1 .9z" fill="#0000ff" fill-opacity="0.283" fill-rule="evenodd"/><path d="M305.1 463l.6-.8 1.5 0 .8 .8 .3 1.5 .4 .3 1.5 0 1.6-.4 1.4 1.6-1.1 3 .2 1.5-.5 .8-1.6-.2-1.7 .9 .9 1.5 .1 1.5 3.3 3.1-1 2.1-1.6 .5-.8-1.1-2.1-1.5-1.1-3.1-.3-1.5 .1-1.5-2.3-1.5-.6-1.5 .9-1.5 1.6-1.5 .1-1.5zM302.5 481.1l4.7-1.4 2.2 2.9-.1 1.5 .3 1.5 2.2 2.6 0 .7-4.6 0-1.6-.3-.9-3 .1-1.5-.5-1.5-1.6-.2z" fill="#0000ff" fill-opacity="0.421" fill-rule="evenodd"/><path d="M311.6 466l.2-.1 0 .1 0 .2zM305.5 467.5l1.7-1.1 1.5 .3 1.4 .8-.2 1.5-2.7 .9-1.5-.1-.9-.8zM309.9 478.1l.3-.5 .8 .5-.8 .3zM306.6 484.1l.6-1 .6 1 .3 1.5-.4 1.5-.5 .3-1-1.8z" fill="#0000ff" fill-opacity="0.682" fill-rule="evenodd"/><path d="M289.6 455.5l2.6-.5 7.5-.6 9-.1 7.6 .3 1.5 .2 1.5 .7-.4 4.5 .4 4.5 .7 1.5-.6 3 .5 3-.4 1.5-.3 7.6 .2 1.5 1.2 3-.6 1.5-.1 3-2.1 4.5-2 3-1.9 6-.6 1.2-.7 .4-1.1 3-2.8 1.5-4.5 1-1.4-1 .7-3-1.5-1.5-2.6-1.6-1.3-3-1.4-2.2-1.5-.4-1.5 .9-1.5-.4-.7-.9-.2-1.5 .4-1.5-.7-1.5-3.3-1.4-1.1-1.6-.7-4.5 .3-.4 3.3-1.1-.3-1.2-1.5-1.2-.3-.6 2.3-3-.5-2.1-1.1-1-.7-3-1.9-4.5 3.7-5.1 .7-3.9zM297.1 455.5l2.6-.6 9-.2 3.1 0 5 .8 0 1.5-.7 3 .4 3-.9 3 .8 4.5-.3 3 .9 3-.1 6.1-.9 3-.5 4.5-.5 1.5-1.2 3-2 3.3-6.1 .9-1.5-.2-1.5 1.1-1.5-.5-1.2-1.6-.5-1.5-1.3-1.1-1.5-.8-.8-1.1 0-1.5-.7-1.9-3-1.2-.6-1.4 1.8-3 .9-3-.4-3-.9-3.1 .3-1.5 3.4-6 .1-3-1.2-4.5 1.5-3zM306 455.5l2.7-.4 4 .4-.2 3 .8 3 .3 4.5 .8 3-1.3 4.5 0 1.5 1.4 1.5 .4 1.6-1.4 4.5-.2 1.5 .4 1.5-1.2 3 0 1.5-.7 1.2-1.6 .8-3-1.7-1.5 .1-1.5 .4-.3 .7-1.2 .7-1.9-.7-.6-1.5 1-.9 1.5-.1 .2-.5-1.3-3-.1-1.5-1-1.5-2.3-1.2-.3-.3-.1-1.5 .4-.7 1.5-1 1.5 .7 1.5 .2 2.3-2.3-.8-1.5-3-1.1-1.5 1.5-1.5-.3-.4-1.6 0-1.5 .3-1.5 1.8-3 2.8-1.3 3.1-.2 .6-1.5-.7-.8-1.5 .3-1.5-.4-.7-.6-.9-1.5 .1-.4 1.5-1.1 1.5 0 1.8-3zM305.4 494.6l.3-.8 1.5-.5 1.4 1.3-1.4 1-1.5-.4zM308.4 455.5l2.3 0 0 1.5-.5 1-1.5 .9-.4-.4zM305.1 469l.6-.5 1.5 .5 .8 1.5 .2 1.5-1 1.2-1.5 .5-1.5-.6-.8-1.1 .2-1.5zM309.8 473.5l.4-.5 .5 2 2.7 3.1-1.6 3.1-1.6 1.1-.4 1.8-1.1 2-1.5 .4-1.5 1.2-1.5-.4-.6-1.7 .2-4.5 2.1-3z" fill="none" stroke="#ffa500" stroke-width="1.3"/><path d="M294.5 455.5l3.7-.9 12-.3 7.6 .5 2.2 .7-.1 3 .6 1.5-.3 3 1.5 3-.9 1.4-.4 1.6 .1 6 .3 2.1 1.5 4-1.4 3 .3 3-.7 6-2.8 4.5-.5 1.5 1.6 1.5 .3 1.5-.4 1.5-.9 1.7-3.7 1.4-1.1 3-2.8 .5-3.1-2-1.4-1.5-1.5-.3-4.5 .6-1-4.9-.5-1.5-2.7-4.5-.3-5-3-.8-3 0 0-.7 1.5 .2 1.2-2.7-1.2-.7-1.2 .7-.3 .7-.2-.7-1.3-1.4-.6-1.6-1.1-1.5 3.3-1.5 .7-1.5 .2-6.1-.7-1.5-2.6-1.5 .6-3 0-1.5 2.5-3-.6-3 1.3-1.6 1.5-.5 1.5 0 .8-.9zM286.1 475l1.6-.2 .1 .2zM291.9 497.6l.3-.7 .3 .7-.3 .3zM297.9 455.5l4.8-.7 3 .3 4.5-.4 6.3 .8-.2 3-.6 3 .2 1.5 1.9 1.1 .7 1.9 0 1.5-1.3 3 1.9 9.1-1.8 6 .5 3-1.8 3-.2 3-1 1.5-1.5 1-1.5-1.6-1.6 0-.7 2.1-.8 .9-4.5 1.4-4.7-3.8-.8-1.5-.2-4.5-.6-1.5-2.2-1.5-.3-1.5 .2-1.5-.4-1.5-.1-4.5-1.3-1.6-.1-1.5 .5-1.5 1-1.3 2.9-1.7-2.1-3-.1-1.5 2-3-.3-3zM301.8 455.5l1.7 0 0 1.5-.8 1.3-.9-1.3zM308 455.5l2.2-.3 1.5 .3 0 1.5 1.1 3-.4 1.5 0 1.5 1.2 1.5 2.8 1.5 .3 1.5-.4 .5-2.1 1 .1 1.5 .7 1.5 0 3 .9 1.5-.6 1.6-1.6 1.5-1 3-1.2 1.5 2.1 4.5 .1 1.5-.4 1.9-3.1-1.1-6-.3-1.1-.5-.3-3-1.6-1.5-1.1-4.5 .8-1.5 .4-1.5 2-1.6-.2-1.5-.4-.6-1.5-.1-1.5 1.1-1.5-.4-.9-1.5 2.4-1.5 1.3-1.5-.1-1.5-.7-1.5 .1-1.5 2.4-2.1 .2-.9-.7-1.5 .5-2.6 2 1.1 1 .3 2.3-.3-.3-1.5zM313.3 473.5l-1.5 .3-.2 1.2 2.2 0-.2-1.5zM314.2 482.6l.6-.2 .3 .2-.3 .6zM305.4 463l.3-.4 1.5 0 .5 .4-.3 1.5 1.3 .9 1.5 0 1.6-.6 1 1.2-1 3 0 1.7-3.1-.4-.6 .2-.9 1.1-1.5-.3-1.5-.8-.7-1.5 1-1.5 1.7-1.5 .8-1.5-1.3-.7zM306.4 473.5l.8-1.2 1.5 .4 .4 .8 .1 1.5 3.2 3.1-.6 1.5-1.6 .1-2-1.6-1.6-3.1zM306.2 481.1l1-.3 1.5 1.5 .5 3.3 1.9 3-.9 .2-1.5-.5-1.5 .3-1.5-.6-.6-2.4z" fill="none" stroke="#0000ff" stroke-width="1.3"/></g><g clip-path="url(#c43)"><g mask="url(#mo)"><path d="M398.5 454.7l.9-1 82.2 0 0 70.8-1.2 4.8-1.4 2-2.4 1.6-4 1.5-2 .3-2.9-.8-3 1.8-1-.1-2.6-2.3-3.4 .2-4-1.4-3.9 1.3-1-.2-3-1.4-5 .9-4-.9-2 .4-2.9 2.6-2 .7-1-.1-1-.6-2-2-2-1.1-5-.5-4 1.6-2.9 .7-3 1.4-2-1.3-2.1-2.3-1.9-1-2-.3-2-1.3-1.8-2.4-.6-2 .2-3.9-.9-7 0-10.9 .5-6-.6-5 .1-6-.5-4.9 .5-4-.3-6 .5-4 .2-5.9 .9-4z" fill="#ffa500" fill-opacity="0.024" fill-rule="evenodd"/><path d="M400.3 454.7l1.1-1 79.8 0 .4 .4 0 64.2-.6 4-2.4 6.4-1 1.5-1 .7-2 .5-4-.1-1.9-.7-4-2.3-1 .2-3 1.7-3 .8-4-1-3.9 .8-2-.9-2-.3-4 .8-6-.5-4.9 2-1-.1-3-2.3-1-.3-4 .4-3-.2-4 1.6-3.9 .2-2-.4-8-3.2-1.9-1.3-1-2-.1-3.9-1.1-7 .1-11.9 .4-5-.7-5 .2-6-.5-4.9 .6-5-.3-5 .9-10.9 .9-3z" fill="#ffa500" fill-opacity="0.028" fill-rule="evenodd"/><path d="M402.1 454.7l2-1 75.5 0 2 1.8-.2 52.9-1.7 13.9-1.1 2.3-2 2.5-1 .9-1 .4-5-.2-.9-.5-4-3.3-1-.1-7 3-5-.3-2.9 .9-4 0-3 .7-6-.8-3 .8-1.3-.3-2.6-2.3-2-.4-4 2-1 .2-3-.7-1 .1-2 1.2-2 .3-8.9-1.6-4.9-2.8-.7-2-1.4-8.9 0-11.9 .5-5-.9-5 .3-6-.5-4.9 .6-5-.2-5 .9-10.9 1.2-3z" fill="#ffa500" fill-opacity="0.041" fill-rule="evenodd"/><path d="M405.3 454.7l2.7-.2 3.3-.8 17.6 .1 4.9 .4 2.8-.5 41.3 0 2.8 2 .9 1 0 41.6-.2 2.2-.9 3.9-.1 5-1.6 12-.2 .9-1 1.5-2 .9-6-.3-1.9-.7-2-1.5-1-.4-4 1.1-3-.5-3 1.3-3.8 .6-2.1 1.6-1 .4-3-.5-3 .7-1-.3-5-3.3-3.9-.8-2-1-1-.1-1.2 .4-4 3.9-1.8 .7-4-1.6-4 1.3-5.9-.4-2-.8-1.3-1.2-2.7-.6-1-.6-.8-1.7-1.2-7 .2-8-.3-4.9 .6-4-1.1-5 .4-6-.5-4.9 .7-5-.1-7 .6-7.9 1-3 .7-1 1.8-1.4z" fill="#ffa500" fill-opacity="0.056" fill-rule="evenodd"/><path d="M410.9 454.7l2.1-.5 5.9-.4 2 .1 4 .9 8.9 .3 5-.9 5-.4 23.7-.1 9.1 .5 2 .7 1.2 .8 1.8 2.8 0 33.5-1.9 12.4-.3 6-1.5 6-.7 4-.6 1.5-1 .3-3-.8-3.9 .1-1-.7-1-1.5-1-.8-4 2.1-4-.5-1 .1-3 .9-3 .3-2.9 1.6-1 0-6.3-3.6-1.7-.4-6 0-6.9-1.9-2 2.1-1 .5-5 1.2-2 .9-2 1.3-.9 .3-1-.3-1-.8-.5-.9 .1-3-2.6-1.5-1-1.9-1-1-1-.3-1 .4-1 .9-1 0-1.1-1.6-.5-6 .4-3-.7-3.9 .8-4-.1-1-1.2-3-.3-2 .6-5-.5-4.9 1.2-7-.6-6 .8-6.9 .5-2 1.7-2.2 2-.8zM402.9 516.4l2.7 1 1.4 1-.6 1-2.4 1.1-1 .1-1-.4-.3-1.8 .3-1.2z" fill="#ffa500" fill-opacity="0.074" fill-rule="evenodd"/><path d="M416.3 454.7l3.6-.3 5 1 4 0 4.9 .5 5-1 5-.4 13.9 0 5-.5 13.9 .9 2 .7 1 .8 1.3 2.3 .4 2 0 8.9-.4 6 .4 11.9-1.5 13-.9 3.9-.2 5-1.1 3.1-1 .8-2-.3-1 .4-1.1 2-.9 .8-7.9-1.5-2.1 .7-.9 1.9-1 .3-5 .2-1-.4-3-2.6-.9-.1-1.6 .7 0 2-.4 .6-1 .1-.3-2.7-2.7-1.2-5 .4-3-1.9-2-.8-.5 .5-.6 2-2.8 .6-1-.1-3-2.5-2-.8-1 .5-1.1 3.3-.9 .9-3 .2-1-.2-3-1.7-2.9-.9-2-2.3-5.3-4-.2-1 .5-1.2 1-.8 2-.7 .6-1.2-.7-1-3.4-2 .2-4-.5-1-2.2-1.9-.3-1.1-.1-2 .7-4.9-.5-4 2.4-7-.3-2-1.1-2-.5-2 .9-3.9 .3-3 .7-2 .7-1 1.1-.7 7-1.9z" fill="#ffa500" fill-opacity="0.101" fill-rule="evenodd"/><path d="M412.9 455.7l9-.1 2 .9 7 .1 2.9 .8 1-.2 1-.6 2-.2 1-.7 19.9-.1 4-.4 13.9 .4 1 .8 1.1 .3 1 1 .2 2 .6 2-.6 3 .2 3.9-.4 6 .3 12.9-.4 7.6-.7 1.4-.3 5-.7 1-.3 5-.8 1.9-4.2 .5-2 1.8-1.9 .5-2-.8-2-1.7-1 .1-4 1.9-4 .9-2-.1-2-1-1-.2-3.9 .4-1-.7-2-2.4-1-.3-1 .6-1 1.3-1 .4-1-.3-2-1.4-1-2.5-1-1.3-2-1.1-1.9-.4-1 .1-1.2 .7-.2 3-.6 2.1-1 .3-1-.1-3-2.4-1.4 1.1-1.6 3.2-1 .8-1 0-3-1-2.9-1.8-1.3-1.2-.7-1.6 .6-2.4 .1-2.9-.6-1-2.2-2-1.2-3-.2-4-.9-3 0-3.9-.2-1-.8-1-.3-2 .4-2 .8-2 .4-3-.7-5 1.4-3.9-.1-1-.8-2 .2-2 1.8-2 1.3-.3 1-.8 2-.2z" fill="#ffa500" fill-opacity="0.072" fill-rule="evenodd"/></g><path d="M415.9 455.7l2-.5 2 0 5 1.6 4 .1 4.9 .9 2-.6 2-1 6-1 13.9 .1 5-.3 8.9 .2 6 .9 1 .8 1.4 1.8 .3 2 0 28.8-1.4 8-2.5 9.9-.8 .7-3 .3-2.5 2-1.4 .4-1-.3-1-1-1.2-2.1-.8-.5-2-.3-1.9 .8-1.5 2-1.3 1-1.3 .5-2-.1-2-1.2-1-.1-2.9 1-1 0-1-.7-1.7-2.4-1.3-1.3-1-.5-3 0-1-.6-2-1.9-4.9-1.6-3 .1-2 .5-4 2.3-4 4.4-2 1.2-2 0-1.9-1-1.4-1.6-.3-1 .3-3.9-.5-2-2.1-3-1.4-3-.9-6 .1-3.9-1.4-4 1.2-4 .4-3-.5-4 .7-3.9-.3-4 .3-2 1.8-2.1 2-1.2zM431.9 495.2l-.8 1.3 .1 1 .7 1.4 .9 .9 2-.4 1-.9 .1-1-.7-1-2.4-1.4zM425.9 507.4l0-.2 .1 .2-.1 .1z" fill="#ffa500" fill-opacity="0.055" fill-rule="evenodd"/><path d="M460 455.7l3.7-.2 7.9 .4 5 .6 2 1 1.1 2.2 .2 8.9-.4 7 .2 13.9-2.2 10-1.9 4.7-.9 1.2-3.1 .5-.7 .5-1.3 1.8-.9 .3-1-2.1-1-1.3-4-1-2.3 .3-4.7 2.8-3-.3-3.9 .4-1-.2-2-1.7-1-2-1-.9-3-.4-1.1-.6-.9-1.1-.6-2.9-.6-1-3.8-3.7-1-.8-.9-.3-1 .6-2 2.8-3 2.1-1.5 3.3-4.5 5-4 2.7-1 .1-1-.4-1.1-1.5 .1-3.9-.6-2-3.7-7-.9-5 .2-3.9-1-4 .7-3 .4-4-.2-4 .4-3.9-.1-4 .4-2 .6-1 1.1-1 1.8-.9 6.9-1 2 .2 4 1.6 5 .5 3.9 1.2 1-.2 3-2.1 4-.9z" fill="#ffa500" fill-opacity="0.069" fill-rule="evenodd"/><path d="M416.3 456.7l2.6-.3 2.1 .3 3.2 2 3.3 3 1.2 3 1.4 1.9 .3 1-.8 4 .3 2.1 2 2.4 .9 .8 1 .2 .8-.5 .3-1-.2-2 .3-4-.4-2-1-1.9 0-1 2.2-2.7 1.7-3.3 1.4-1 4.9-1.1 13.9 0 5-.4 9.9 .4 3 .5 2 .6 1 1.2 .6 2.8 .1 6.9-.5 7 .4 11.9-.6 4.4-1 2.7-1 1.6-3 3-1 .4-6.9-.6-3 1.8-2 .6-2-.5-2-1.5-1.6 .1-1.1 1-.5 2.9-1.8 1.2-1.9 0-1-.4-.8-.8-.9-1.9-2.2-2-2.1-3.7-2.8-2.3-.6-2-2.6-2.7-2-3-1-.6-1-.2-2.9 .9-2 1.5-1.4 2.1-.9 4-1.7 3-2.6 3-1.4 2.7-1 1.2-1 .6-1 .3-1-.3-1.5-3.5-4-7-.7-2-.6-4 .4-3.9-.4-7 .5-12.9 .7-4 .6-1 1.4-1z" fill="#ffa500" fill-opacity="0.114" fill-rule="evenodd"/><path d="M417 457.7l2.9-.1 1.6 1.1 3.2 5 1.2 2.9 .5 2-1.7 8-.3 3 .2 5.9-1.4 7-1.3 2.4-2 1.1-2 .5-2-.4-2-1.5-.9-1.1-1-2-.9-4 1.4-3.9-1.5-7 .1-4 .7-4-.1-4.9 1.4-4 1.2-1zM448.9 457.7l5.8 0 3 .4 4-.7 9.9 .3 5 1.5 1 1 .4 1.5 .3 5.9-.7 7 .3 5-.3 4 .4 4.9-.4 2.2-1 1.4-5 3.2-2 .7-1.9-.4-2-1.1-2-.2-4 1.4-3-.6-6.9 3.3-2-.6-1-1-3-7.2-3.5-2.1-1-1-.3-1 0-2.9-.4-2 .7-4-.3-5 .7-3-.4-2.9 .1-1 1.5-2 .9-3 .8-1 1.2-.4z" fill="#ffa500" fill-opacity="0.179" fill-rule="evenodd"/><path d="M450.6 460.7l3.1 0 4 1.1 6 1 .9 .9 .5 1 .6 3.5 1 .1 2.9-2.7 1.1 .1 .7 .9 0 1-.7 4-2.9 7 .2 1 2.1 2 .5 1.4 .3 2.5-.3 1-1 1.2-3.9 1.8-1.3 0-1.4-1-.9-2-.4-1.8-1 .3-.2 .5-2.8 1.8-2.1 2.2-1.4 1-2.5 .6-1.1-.6-1.2-4-5.2-7.9-.6-2 .4-1 3.9-4 .4-1-.5-2 .2-1 1.3-2.9 .4-3zM458.7 472.9l-1 1.1 0 1.6 1 1.8 1 .4 1-1 .2-1.2-.8-2-.4-.5zM415.6 471.6l1.3 .3 2.7 2.7 .1 2-.6 3 1.1 3-.3 2-1 .2-.3-.2-.5-1-.4-3-1.8-1.4-1.1-1.6-.5-4 .6-1.7z" fill="#ffa500" fill-opacity="0.266" fill-rule="evenodd"/><g mask="url(#mb)"><path d="M459.1 453.7l22.5 0 0 78-3 3.7-1 .7-4 .2-3-.5-1 .3-1.9 2-1-.1-.9-.7-2.8-4-2.7-6-.9-5-.2-5.9-1.1-8 .1-4-.3-6.9-.7-5-.2-5 .1-26.8 .7-4z" fill="#0000ff" fill-opacity="0.024" fill-rule="evenodd"/><path d="M459.6 454.7l.5-1 21.5 0 0 74.8-1.9 2.8-1.1 1-5 1.6-4-.3-2.9 .4-1-.4-1.4-1.3-1.9-3-1.1-2-.8-3-.5-7.9-1-8-.2-10.9-.7-4-.3-5 .2-27.8 .3-3z" fill="#0000ff" fill-opacity="0.028" fill-rule="evenodd"/><path d="M460.4 454.7l.6-1 20.6 0 0 70.5-1.3 4.1-1.5 2-1.2 .7-4 .9-5.9 .1-2-.8-3-3.3-1.5-3.6-.5-9.4-.9-6.5 0-5-1.3-14.9 .2-27.8 .3-3z" fill="#0000ff" fill-opacity="0.041" fill-rule="evenodd"/><path d="M461.1 454.7l.7-1 19.3 0 .5 .5 0 66.4-2 7-1 1.4-2 1.1-6 .6-3.9-.5-3-2.3-1-1.6-.8-2-.3-5.9-1.2-10-.4-10.9-.9-8 .1-27.8 .7-5z" fill="#0000ff" fill-opacity="0.056" fill-rule="evenodd"/><path d="M462.6 453.7l17.6 0 1.4 1.5 0 55-.5 8.2-.7 3.9-1.8 5-1 1.1-2 .7-5 .4-3.9-.6-2-1.3-1-1-1.3-3.3-.2-4.9-1.2-10-.5-10.9-.9-7 .2-14.9-.2-4 .4-12.9 1-3z" fill="#0000ff" fill-opacity="0.074" fill-rule="evenodd"/><path d="M462.4 454.7l.9-1 16.1 0 2.2 2.3 0 50.4-1.1 7-.3 7-.8 2.9-1.8 3.5-1 .7-5 .9-2.9-.1-3-1.1-2-2-.8-2.9-.1-3.9-1.3-10-.5-10.9-.7-4-.2-4 .2-28.8 .7-4z" fill="#0000ff" fill-opacity="0.101" fill-rule="evenodd"/><path d="M463.5 454.7l1-1 13.4 0 .7 .7 1 .2 1 1.1 .2 1 .8 .8 0 37.1-.7 .9-.2 1 0 10.9-.8 1-.1 1-.1 10-.6 1-.5 2.4-.5 .5-.5 1.3-1 .9-2 .4-1 .6-3 .4-4.1-.6-1.8-1.6-1.1-2.4-.1-7.9-.9-3-.1-8.9-.8-1.8-.2-6.2-.1-1-.7-1.3-.1-1.7 0-10.9 .7-3-.7-3 .1-10.7 .6-1.2 .3-5z" fill="#0000ff" fill-opacity="0.072" fill-rule="evenodd"/></g><path d="M463.3 454.7l1.7-1 12.6 0 1 .3 2.6 2.7 .3 2 .1 34.3-1 6.4 .5 5-.5 1.7-1 7.3-.4 7-.1 1-1.2 1.9-1.3 1.3-6 2-3.9-.9-1-.5-1.5-1.9-.4-5.9-1.7-9-.3-10.9-.8-3-.2-4 0-23.9 .3-8.9 1.1-2z" fill="#0000ff" fill-opacity="0.055" fill-rule="evenodd"/><path d="M464 454.7l2.2-1 8.8 0 2.6 .4 2.4 1.6 1 2 .2 1 .4 9.2-.2 22.6-1 7 0 6.9-1.1 8-.4 7-1.1 2.9-1.2 1.2-6 2-3.9-.7-1-.6-1-1.9-.4-4.9-1.6-9-.6-10.9-.9-5-.2-21.9 .3-10.9 .8-3z" fill="#0000ff" fill-opacity="0.069" fill-rule="evenodd"/><path d="M464.9 454.7l1.8-.6 3.9-.1 7 .7 1.8 1 .7 1 .7 3 .5 12.9-.4 17.9-1.1 8 .2 5.9-1.3 8-.3 5-.7 3-1.1 1.4-6 1.9-2.9-.4-1-.5-.9-1.4-.5-4-1.9-8-.8-11.9-1-6 .1-14.9-.3-6 .5-10.9 .7-3 1.1-1.3z" fill="#0000ff" fill-opacity="0.114" fill-rule="evenodd"/><path d="M470 454.7l6.6 .4 1.8 .6 1 1 .5 1 .2 2 .5 12.9-.4 18.9-1.1 7 .1 5.9-1.5 7-.5 5-.6 1.5-1 .8-3 .1-2 .9-1.4-.3-.5-1-.2-2-1.8-1.5-1-1.5-1-2.5-.5-2.5-.8-9.9-1.3-9 .2-12.9-.3-7 .6-10.9 .7-2 1.4-1.2 2-.6z" fill="#0000ff" fill-opacity="0.179" fill-rule="evenodd"/><path d="M466.3 455.7l5.3-.2 5 .4 2 1.1 .8 2.7 .5 12.9-.2 12.9-.4 7-1.2 6-.2 5.9-1.3 3.9-1 1.4-2 1.8-1 .3-3.9 .2-1-.3-1-.8-.8-1.5-1.7-11.9-1.1-6-.3-21.9 .5-9.9 .4-2 .7-1z" fill="#0000ff" fill-opacity="0.266" fill-rule="evenodd"/><path d="M466.7 456.7l3.9-.2 5 .3 2 .9 .7 2 .7 13.9-.2 11.9-.4 6-.8 3.4-2.5 6.6-1.5 1.7-1 .5-2-.1-1.9-1-1.3-1.1-.7-1.2-1.8-5.8-.8-4-.2-20.9 .6-9.9 .7-2z" fill="#0000ff" fill-opacity="0.383" fill-rule="evenodd"/><path d="M468.6 458.7l4.4 0 2.5 1 1.1 3.6 .3 2.4 .5 12.9-.8 9.6-1 4.4-2 2-2 .6-2-.4-1.9-1.2-1-1.5-.6-2.6-.4-5.9 .1-15 1-7.9 .9-1.6z" fill="#0000ff" fill-opacity="0.517" fill-rule="evenodd"/><path d="M410.9 455.5l1.2-.6 3-.2 6 .3 1.3 .5 0 1.5 1.7 .6 .6-.6 0-1.5 .9-.4 2.2 .4 0 1.5-1.4 1.5-.5 1.5 1.2 4.5 .3 0 .8-1.5 .4-.2 1.5 .3 .7 1.4-.7 .5-1.5 0-.8 1-.1 1.5 .7 1.5-.4 1.5-1.4 1.5 2 .8 .6 .7-.5 1.5 1.4 1.4 1.5-.8 1.6 .1 1.2 .8 .5 1.6-1.7 3.7-.4-.7-1.2-.4-1.5 0-.8 1.9-2.2 1.9-.7 1.1 .7 3-.4 3-1.7 3-.2 1.5-2.6 1.5-1.3 1.5 .9 1.5-.5 1.5-1.5 1.5-.1 3.1 1.4 .7 .3 .8-.3 .3-1.6-.3 0-3-1.4-.7-.6 .7-.9 .2-1.5-.5-.7-1.3 0-1.5-.6-1.5 0-4.5-1.2-1.5-2-1.5-.2-4.5-.4-1.5 .1-3-.8-3 1.6-4.6-.3-1.9-1.8-2.6 2.8-3-.5-3-1.4-3 0-1.5 1-3zM437.3 455.5l1.9-.7 4.5 .4 3-.5 4.5-.2 4.5 .4 10.6-.5 7.5 .1 6 .5 .5 .5 .5 6-.4 10.5 .3 6.1 0 13.5-.4 3 .1 4.5-.6 3.6-1.5 0-1.5 1.4-1.2-.5-.2-1.5 1.1-1.5-2.4-3-.3-1.2-.6 1.2-.1 3-.8 .8-1.5-1.1-1.5-.5-1.5 .5-1.5 1.9-1.5-.4-1.5-1.2-1.5 .4-4.6 0-4.5-1.1-3 .2-1.5-1.4-3 .4-1.5-1.4-1.5-.5-3-1.9-.6-.7-.2-1.5 1-1.5 .3-1.5-2-.8-1.5 .9-1.5-1-.7-2.1 .9-1.5 .2-1.5 1.1-1.7 .3-1.3-.5-1.5 .3-1.5 1-1.6 .4-1.5-.5-1.5-2.6-1.5 .5-3 1-1.5 .1-1.5-.7-1.5 .7-1.5 .1-1.5-1.4-1.5 1.3-.3 .8-1.2zM443.7 458.4l-1.5 .2-.9 1.4 .9 .8 1.1-.8zM431.5 458.5l1.7 1.2 1.1 .3-2.7 1.5-1.3-1.5zM430.8 469l.8-.4 .3 .4-.3 .5zM429.7 485.6l.4-.9 1.5 .3 .3 .6-.3 1.1-1.5 0zM429.3 491.6l.8-.7 .9 .7-.9 1.3zM454.3 503.6l1.4-.7 .6 .7-.6 2.2-.7-.6zM446 508.2l.7-.8 1.5 .4 .5 .4 .3 1.5-.8 .4-1.5-.1-.6-.3zM472.3 508.2l1.5-.2 .3 .2-.3 1.7-.6-.2z" fill="#fff" fill-rule="evenodd"/><path d="M410.4 455.5l1.7-1.1 1.5-.1 6 0 1.5 .1 3 1.1 1.5-.9 1.5 0 1.3 .9 0 1.5-1.3 1.5-.5 1.5 .5 2 1.5 0 .9-.5 0-1.5 .6-1.2 1.5-1.5 3.1 1.8 1.5-.4 .5-1.7 0-1.5 2.5-1.2 4.5 .4 3-.5 4.5-.1 4.5 .2 18.1-.2 6 .3 1.1 1.1 .3 6-.3 10.5 .3 6.1-.2 19.5-.4 4.5-.8 1.3-1.5 0-1.5 1.5-3.8-1.3-2.2-1.5-1.5 .7-1.5-.5-1.5 .7-1.5 .2-1.5-1.6-3 .4-3.1-.2-1 .3 .8 1.5-.1 1.6 .3 1.2 1.6 .7 3 .4 .4 .7-3.4 .9-1.6 0-1.4-.9-.5-1.5-1.6-1.5-.3-1.6 .6-1.5-1.3-1.1-3.2 1.1-1.3-2-3-.2-1.5-1.2-4.5-2.8-1.2-1.3-.3-2.9-1.5 .3-1.5-1-1.5-3.9-1.6 .6-1.5 0-.6-.6-.9-2.7-1.6 1.2 .8 3-.1 1.5-2.1 4.5 .2 1.5-1.7 1.6-1 1.4 .1 1.5-2.3 3-.1 1.6 .9 1.5 1.1 3 .3 1.5-.5 .4-1.5-1.9-1.5-.3-.7-1.2-.3-1.5-.5-.7-3-.3-.6-.5-.9-2.6-.9-.5-.6-1.1-.1-.4 1-1.5 0-3-.9-1.1-1.5-.8-.8-1.1-.5-6 .3-3-.7-3 1.2-4.6-.1-1.5-.7-1.5-1.4-1.5 1.2-1.5 1.7-1.5-.1-3-1-1.5-.5-1.5 .1-3 .8-1.5zM428.6 466.7l0 1 1.5 .1 .6-.3-.6-1.2zM433.2 464.8l-1.1 1.2 1 3-.3 1.5-1.2 1.3-.6 .2 .6 1.9 1.6 .3 .7-.7-.5-1.5-.2-3 1.5-.9 .3-2.1-.3-.7zM436.2 473.8l-.6 1.2 .6 .6 .2-.6zM475.3 500l-.8 .6 .8 .6 .4-.6zM430.1 474.6l-.1 .4 .1 .2 .8-.2zM433.2 483.5l-.9 .6 .9 2.9 .7-1.4 .2-1.5zM427.5 491.6l1.1-.3 1.5-1 1.7 1.3-.2 1.5-1.5 .5-.7-.5-.8-1.2zM444.8 503.6l.4-.5 1.5 0 .6 .5 0 3.1 .9 .1 1.5 1 0 2-1.5 .9-1.5-.1-1.3-.9-.2-1.5 1.2-1.5-1.2-.7-.5-.8zM471.5 508.2l.8-.8 1.5-.2 1.5 1-.6 1.5-.9 1-1.5-.5-.5-.5zM416.3 512.7l.3-.5 .9 .5-.9 .2zM461.2 512.7l.6-.3 1.7 .3-1.7 .3z" fill="#ffa500" fill-opacity="0.070" fill-rule="evenodd"/><path d="M411.4 455.5l.7-.5 1.5-.3 3-.2 3 .2 2 .8 0 1.5 2.4 1.5 1 1.5 .6 4.3 1 1.7-.1 3-1.7 1.5-.1 1.5 .8 1.5 1.6 .5 .7 1 0 1.5 .8 1.5 3-1.4 1.6 .5 .6 1-.6 1.2-.6 .3-1 .3-1.5-.4-1.4 1.6-.7 1.5-.9 .8-1.5 .7-.7 1.5 .7 .7 .9 2.3-.6 3-3.1 4.5-4.9 4.5-1 1.5-.3 1.7-.3-.2 0-1.5-1.3-3-.4-3-1-1.9-1.5-1.4-.8-1.2-.1-1.5 .3-1.5-.7-1.5-.1-3-.9-3 .5-1.5 1.1-1.5 .4-1.6-1.4-4.5 1.7-2.2 .2-.8-.2-1.8-1.8-4.2 0-1.5 .7-1.5zM416.6 491.1l-.8 .5 .8 .6 .2-.6zM438 455.5l1.2-.8 1.5 .1 2.4 .7 0 1.5-3.3 3-.6 1.4-1.4-1.4zM444.1 455.5l2.6-.9 1.5 .1 3-.4 4.5 .6 4.6-.6 6-.2 7.5 .2 4.5 .8 1.5 0 .4 .4 0 1.5 .8 4.5-.1 6-.6 4.5 .6 6.1-.3 9 .3 4.5-.7 3 .3 3-.7 3.5-1.5 0-3.2-3.5 .7-1.5 1.2-1.5-1.7-1.2-1.5 .5-.9 2.2-2.1 2.6-1.5-.6-1.5 0-1.5 2.5-3-.9-3-2-.5 1.4-1 1-1.6 0-2.6-1-4.9-.5-1.5-1.2-3-.2-3-.8-2.5-1.8-.3-1.5 1.8-1.5-.1-1.5-1.9-1.6-3-.9-.6-.5 .6-3 1.3-1.5-.8-3 1-1.5 1.7-1.6-.3-1.5-.8-1.5-1.9-1.5-1-1.5 .7-1.5 1.1-1.5 .3-1.5 1.7-3.4 1.5 .4 1.5-.3 1.5-.9 1.1-1.8-.1-1.5-.6-1.5z" fill="#ffa500" fill-opacity="0.075" fill-rule="evenodd"/><path d="M413.2 455.5l3.4-.5 3 .4 .3 .1 0 1.5 1.2 .4 1.4 1.1 .6 1.5-2.3 3 1.8 3.6 1.3 .9-1.6 7.5 .3 .4 1.5 .2 1.5-.4 .7 1.3 .3 1.6-1 1.2-1.5 .7-2 2.6-.1 1.5 .6 4.6 1.5 .4 .9 1-.2 1.5-3.3 4.5-1.9 1.6-1.5 .6-.7-.7-.7-1.5-.1-1.5 1.3-1.5 .8-1.5-2.1-2.6-3 1.1-.6-1.5-1.3-1.5-.5-1.5 .2-1.5-.6-3 .6-1.5 1.2-1.5 .1-1.6-1-3 0-1.5 1.5-3-1.6-6 .9-3-.1-1.5 .8-1.5zM439 455.5l1.9 0 0 1.5-1.7 .7zM445.8 455.5l.9-.4 1.5 .2 3-.7 1.5 .2 1.5 .7 0 1.5 1.5 .4 .7-.4 0-1.5 3.9-.9 6-.3 3 .3 4.5-.1 3.9 1 0 1.5 .6 .8 1.5 0 1 3.7-.4 7.5-.6 1.9-1.5 0-1.1 1.1 .4 1.5 .7 .4 1.5 0 .7 2.6 0 3.1-.5 3 .4 3-.4 1.5 .6 4.5-.8 2.3-1.5 0-4.5-3.1-1.5 .3 .3 3.5-1.8 2.2-1.5-.5-1.5 .3-3 2.1-1.5-.3-.8-.8-.7-1.5 .2-3-.2-.1-2.1 .1 .4 1.5-.5 1.5-2.4 1.8-1.5-.3-1.5 .6-3-.7-1.5-.4-1.5-1.6-1.5-.2-1.5-.8-2.1-2.9-.9-3.2-1.5-1.3-1.5-.2-1.5-1.3 0-1.5 1.7-1.5-1.6-3 1.4-1.2 1.5-.5 1.5 .7 1.5-.5-3.8-4.6-.7-1.3-1.5-.7-.9-1 .9-1.2 .8-.3 .7-2.8 .9 1.3 .6 .4 2.2-.4 .8-1.6 2.8-2.9 .3-1.5-.3-3-.7-1.5zM457.2 464.3l0 .5 1.6 1.5 1.5 .1 1.5-.3 1.5 .6 1.6-.7-1.6-1.2-1.5 1.1-1.5-.4-1.5-1.7zM443.7 468.5l-1.5 1.8-1.5-.3-.6 .5 .6 .6 1.5-.3 1.5 .2 1.5-.2 .8-1.8-.8-1.1zM422.6 463lzM431.2 478.1l.4-.4 .6 .4-.6 .3zM476.6 497.6l.2-.3 1.5-.1 1.5 0 .1 .4-.1 .4z" fill="#ffa500" fill-opacity="0.105" fill-rule="evenodd"/><path d="M450.1 455.5l1.1-.5 2 .5 0 1.5 1 1.2 3.4 1.8 .5 1.5-1.5 1.5-.4 1.5 1 1.9 3.1 1.6 1.5-.5 2.1 0 .9-.4 1-1.1-.7-1.5-1.8-.6-1.5 .6-1.5-.5-.9-1 1.6-3 0-1.5-2.4-1.5 0-1.5 1.7-.5 3 0 3-.5 3 .4 4.5-.1 2.1 .7 0 1.5 1.1 1.5 1.3 .6 1.5 0 .7 2.4 0 1.5-.5 1.5 .2 3-.4 1.5-3 .4-.9 2.6 .1 1.5 .7 1.5 1.6 .7 1.5 0 .3 .8 .1 1.6-.4 2.4-1.5 0-.8 .6 .1 1.5 .7 1.3 1.5 0 .2 1.7-.2 .3-1.5 0-1 1.2 .1 1.5 .9 .8 1.5 0 .3 2.2-.3 .9-1.5 0-3-1.7-1.5-1.3-1.5-.2-1.6 .8 .2 1.5 .6 1.5-.3 1.5-.4 .4-4.5-1-1.5 .1-.1-1-1.4-.4-1.5-.9-4.6 0-1.5 .6-3 0-.6 .7 5 1.5-2.9 2.5-3-.8-1.9-1.7-1.1-.5-1.5-.2-1-.8-1.9-3-.1-3.4-1.5-3.6-2.9-3.5 1.4-.5 1.5 1 1.5-.6 .7-1.4-.4-1.6-1.3-1.5-.8-1.5 1.8-1.2 1.5-.5 1.9-2.8-.3-1.5 .6-1.5 .8-.4 .7 .4 1.2 0-2-3 .1-3.2 1.5 .5 .4-.3 .4-1.5zM455.7 478.3l-.1 1.3 .1 .3 .5-.3zM458.8 474.2l-1.4 .8-1.1 1.5 .9 .5 1.6 0 1.5-.1 .4-.4-.3-1.5zM463.3 473.1l-.5 .4 .5 .5 .9-.5zM469.3 483.9l-1.5 3.3 1.5 .5 1.5-1.3 2.9-.8-1.4-.7-.7-.8zM473.8 459.6l-.6 .4-1.7 3 .3 1.5 .5 .3 1.5-.9 .8-2.4 1.1-1.5-.4-1.2zM449.7 476.5l1.2 1.6 .4 0 .1-1.6zM475.3 478l-.1 1.6 1.6 .4 .2-.4-.2-.4zM414.4 458.5l.7-.7 1.5 .9 1.5-1 1.5 0 1.8 .8 .2 1.5-.5 .4-1.5 .8-1.5-.1-.6 .4 1 1.5 3.1 3 .6 1.5 .1 1.5-.2 1.5-1.3 3 .1 1.5 2.8 3.1-.6 1.5-2 1.5-1.5 3 1.5 1.8 .6 1.2-.6 1.9-1.5 .6-3-2.3-1.5 .9-1.5-.2-1-.9-.7-1.5 1.1-3-.7-1.5 .4-1.5 .8-1.5 0-1.6-.8-1.5-.3-1.5 .2-1.5 1.8-3-1.5-3-.1-1.5 1.7-4.5zM416.6 473.3l-.2 .2 .2 .7 .3-.7zM419.4 493.1l1.7-.8 1.4 .8-.9 1.5-2 2-1.1-.5-.4-1.5zM464.1 496.1l.7-1.4 .4 1.4-.4 .3z" fill="#ffa500" fill-opacity="0.143" fill-rule="evenodd"/><path d="M460.3 455.5l1.5-.3 1.5 .3 3-.8 1.5 .1 1.5 .6 4.5-.2 .8 .3 0 1.5-.8 .9-1.5 .5-1.5-.9-1.5 .2-.9 3.8-2.1 2.6-1.5-.4-1.5-.9-1.5 .7-1-.5 1.2-1.5 .4-3-.6-.7-1.5-.8zM419.5 460l.1-.1 .1 .1-.1 0zM452 460l.7-1.5 2.9 1.5 .9 1.5-.8 .7-1.5 .7-1.5-.4-1.1-1zM477 461.5l1.3-1.1 1.5 0 .3 1.1-.3 2.2-3 0-.7-.7zM415 463l1.6 .2 1.7 1.3 1.3 .4 1.2 1.1 .7 1.5 .1 1.5-1.8 4.5-.1 1.5 1.7 1.5 1 1.6-.7 1.5-2.4 1.5-.3 1.5-1.6 1.5-.9 1.5-1.4 1.4-1.5 0-.9-1.4 .5-1.5 1.3-1.5 .2-1.5-.8-1.5 .8-3.1-1.3-1.5-.3-1.5 .3-1.5 1.5-1.5 .7-1.5 0-1.5-.5-1.1-1-.4 0-1.5zM416.6 472.1l-1.3 1.4-.1 1.5 1.4 .6 2.5-.6-.1-1.5zM453.2 464.5l1-1.3 1.7 2.8 1.3 1.3 3.1 2.1 1.5-1 3-.5 .8-.4 2.2-2.7 1.5-.5 2.6 1.7 .4 .9 .4-.9 1.1-.7 1.8 .7 .2 1.5-.5 1.1-1.5 1.9 .9 1.5 .2 1.5-1.5 1.5-.5 1.5 .5 3.1 1.8 1.5 .1 1.5-1.5 .5-1.5 0-1.4-.5-.1-1.5 .4-1.5-.4-.9-1.5-1.1-.6 2 .6 1.4 1.4 .1-2.8 3-1.3 3 2 3-.1 1.5-.7 1.2-1.5-.8-3-.6-3-1-1.5 .3-3.1 .1-1.1-.7 .5-1.5-2.4-1.3-1.2 1.3-.1 1.5-1.2 1.5-2 1.1-1.5-.9-1.7-1.7-.1-3-.9-3-1-1.5-.2-1.5 .9-.7 .6-.8 .9-1.5 .5-1.6-.5-2.9-.5-.1 .5 0 .4-1.5 2.3-3 .3-1.6 3-.6 1.3-.8zM463.3 471.8l-1.5 1.2-1.5 .6-1.5-.6-1.3 .5-1.8 2.3-1.5 .7-1.5-.4-1.1-1.1-.4-.9-.5 .9-2.1 1.5 .5 1.6 .6 1 1.5 .5 1.5-1.2 1-.3 .5-1.1 .3 2.6 1.2 1.8 1.5 1.3 .4-.1 .9-1.5-.7-1.5 .3-1.5 .7-.3 1.5 .3 1.5 3 1.5-.3 .9 1.8 .6 .4 1.5 0 .9-.4-.1-1.5-1.7-1.5-2.1-2.7-1.1-.4 2.6-1.6 1.1-1.4-1.1-1.1zM469.3 472l0 .1 0-.1zM472.3 468.9l0 .1 0 .1 0-.1zM458.8 483.2l-.4 .9 .1 1.5 .3 .3 .2-1.8zM461.7 475l.1-.2 .2 .2-.2 .7zM476.2 484.1l.6-.8 .4 .8-.4 .9zM419.2 487.1l.4-.4 .6 .4-.6 .5zM472.9 487.1l2.4-.4 .3 .4 .1 1.5-.4 .5-1-.5z" fill="#ffa500" fill-opacity="0.197" fill-rule="evenodd"/><path d="M464.9 455.5l1.4-.6 1.5 .1 1 .5 0 1.5-.7 3-1.8 2.9-1.5 0-1.2-1.4-.8-1.5 .8-1.5 1.3-1.5zM472.1 455.5l.6 0 0 1.5-.4 .1zM417 466l1.1-.8 1.5 .2 .6 .6 .7 1.5-.1 1.5-1.2 2.6-1.5 .2-1.7-1.3zM468.1 466l1.2-.6 .8 .6 .7 1.5-.5 1.5-2.5 2.5-1.5 .3-1.5-.7-1.5-.1-1.5 .4-1.5 1-1.5-.8-1.6 .2-.6 1.7-.9 1.3-1.5 .8-.9-.6-2.1-2.4-1.2 .9-1.8 2.2-1.5-.9-.7-1.3 .2-1.5 2-2.5 1.5-1.1 1.5-.6 1.5-.1 1.5 1.9 1.5 1.1 .8-1.7 .7-.7 3.1 2.2 2.4-1.5 3.6-.8zM473.7 467.5l.1-.2 .1 .2-.1 .1zM472.1 472l.2-.3 .6 .3 .9 1.2 0 .4-1.5 .8-1-.9zM465.6 475l.7-.7 1.5-.2 1 .9-.1 1.5-.9 2.1-1.5 .7-2-2.8zM416.6 476.5l3-.5 2.1 2.1-.6 .8-2.3 .7-1.3 1.5-.4 1.5-.5 .5-.4-.5 0-1.5-1.2-1.5 .1-1.6zM445.9 478.1l.8-1.2 1.5 1 .8 1.7-.1 1.5 .5 1.5-.4 1.5 .9 3-.1 1.5 .5 1.5-.6 .6-1.5 .1-.9-.7-.1-1.5-2.2-3-.8-4.5zM452.4 481.1l.3-.5 1.5 0 2.6 3.5-.2 1.5-.9 1-1.5 .1-1.3-1.1 .3-1.5-.2-1.5zM414.4 484.1l.7-.7 .8 .7-.8 1.9-1.6-.4zM461 484.1l.8-.7 1.5 1.1 1.5 0 .5-.4 1-.2 .3 .2 .1 1.5-.4 .6-1.5 0-.5 .9 2.4 3-.4 .4-1.5 .3-1.5 0-1.4-.7-1.1-1.5-1-3z" fill="#ffa500" fill-opacity="0.283" fill-rule="evenodd"/><path d="M465.6 455.5l.7-.3 1.8 .3 0 1.5-.7 1.5-.1 1.5-1 1.9-1.5-.1-1.1-1.8 1.9-3zM418.1 466l1.5 .1 .7 1.4-.2 1.5-.5 1-1.5 .9-.5-.4-.4-1.5 .2-1.5zM468.4 467.5l.9-.6 .3 .6-.3 .8zM450.8 469l.4-.2 1.5 .7 2.9 2.5 .1 1.7-1.5 .9-3-3.4-1.5 1.3-1.5 2-1.2-1-.1-1.5 1.3-1.5zM465.3 476.5l1-1.1 1.5 1.1-1.5 1.7zM416.1 478.1l.5-.5 1.5 .1 1.5-.3 .9 .7-.9 .3-1.5 0-1.5 .9zM445.9 479.6l.8-1.4 1.1 1.4-1.1 1.9-.5-.4zM454.1 484.1l.1-.8 1.2 .8-.4 1.5-1 0zM446.6 485.6l.1-.4 .6 .4-.6 .1zM460.9 485.6l.9-.8 .7 .8 .2 1.5 1.1 1.5-.5 1.2-.9-1.2-.6-.4-.6-1.1z" fill="#ffa500" fill-opacity="0.421" fill-rule="evenodd"/><path d="M465.9 458.5l.4-1.4 .4 2.9-.4 .8-1.6-.8zM418 467.5l1.6-.3 .2 .3-.2 .8-1.5 1.2zM447.6 472l.6-.7 .9 .7-.9 1.3zM454.1 473.5l.1-.8 .2 .8-.2 .1zM466.2 476.5l.1-.1 .1 .1-.1 .2z" fill="#ffa500" fill-opacity="0.682" fill-rule="evenodd"/><path d="M464.9 455.5l2.9-.7 4.5-.1 7.5 .1 .7 .7 .3 27.1-.4 10.5-.4 3-.2 1.1-1.5 0-1.5 3.1-1.3 1.8-1.7 1.1-.6-1.1 .6-1.5-.4-1.5-2.6-.9-3 1.9-1.5-.2-1.1-2.3-.7-6-.6-1.5-.5-3 0-9-.6-4.6 .3-3-.4-3 1-3-.4-3 .6-3 1-1.5z" fill="#fff" fill-rule="evenodd"/><path d="M462.9 455.5l3.4-1.2 6-.2 7.5 0 1.4 1.4-.1 37.6-.4 4.5-.9 4.4-1.6 .1 .1 .3 1.5 0 .3 2.8-.3 2.8-1.5 0-.3-1.3-1.2-1.3-1.5 0-3.8 2.8-.7 .3-1.5 0-1.9-1.8-1.5-3.1-2.4-6-.2-2.4-.7-2.1-.7-19.6 0-6 .5-3-.5-3 .4-3 .6-1.5zM478.2 509.7l.1-1.4 1.5 0 0 1.7-1.5 0z" fill="#0000ff" fill-opacity="0.070" fill-rule="evenodd"/><path d="M464.9 455.5l2.9-1.1 4.5-.1 7.5 .1 1.1 1.1 .3 27.1-.5 10.5-.9 4.2-1.5 0-1.5 3.1-1.3 1.7-1.7 1.1-.6-1.1 .6-1.5-.4-1.5-2.6-.8-3 1.9-1.5-.2-.7-.9-.4-1.5-.7-6-.7-1.5-.5-4.5 .1-7.5-.7-4.6 .3-3-.4-3 1-3-.3-3 .6-3 1-1.5z" fill="#0000ff" fill-opacity="0.075" fill-rule="evenodd"/><path d="M466.3 455.5l1.5-.7 4.5-.3 7.5 .2 .8 .8 .4 27.1-.8 10.5-.4 1.5-1.5 0-1.5 1.6-1.5 1.1-4.5-.9-1.5 .3-1.6 .9-1.3-1.5-.4-1.5 .5-1.5-.5-1.5-1.2-1.5-.6-1.5-.3-4.5 .5-6-.9-4.6 .3-3-.4-3 1.3-3 .6-6 1-1.5z" fill="#0000ff" fill-opacity="0.105" fill-rule="evenodd"/><path d="M467.3 455.5l2-.5 3-.1 4.5 0 3 .3 .3 .3 .3 13.5 .4 4.5-.4 4.6 .4 4.5-.8 4.5 .1 1.5-.3 1.8-1.5 0-1.5-.7-.3 .4 .1 1.5 .8 1.5-2.1 1.5-1.5 .5-3-1-1.5 .4-2.1-2.9-1.7-1.5-.6-1.5-.3-4.5 .8-6-1.2-4.6 .5-3-.6-3 1.5-3 .7-2.9 .7-1.6zM472.3 461.4l-.5 .1 .5 .3 .1-.3z" fill="#0000ff" fill-opacity="0.143" fill-rule="evenodd"/><path d="M470.7 455.5l1.6-.2 1.2 .2 0 1.5 .3 .5 1.5-.1 .5-.4 0-1.5 1.6 0 0 1.5 .5 1.5 .1 4.5 .3 .4 1.5 0 .3 1.1-.1 4.5 .6 4.5-.6 4.6 .6 4.5-.8 3.6-3-.1-.9 2.5-2.1 3.4-1.5 0-1.5 .6-1.5 .2-3-2.8-.7-1.4-.2-7.5 1.3-3-1.6-4.6 .3-3-.5-3 2.9-5.7 1.5 .2 1.5 1.3 1.5 .2 1.6-.5-.1-1.9-.7-1.1-.8-.4-.9-1.1-.7-1.5zM476.8 479.2l-.3 .4 .3 0 .1 0z" fill="#0000ff" fill-opacity="0.197" fill-rule="evenodd"/><path d="M475 461.5l.3-1 .9 1-.2 1.5 .8 .2 1 1.3 .3 1.5-1.3 1.3-1.5 2.7-1.1 .5 1.1 1.6 1.5-1.5 3-.4 .6 3.3-.6 3.8-3-.3-1.5 .3-.6 2.3 .6 1.2 1.5-.2 1.5-.6 1.5 0 .6 2.6-.3 1.5-.3 .9-1.5 0-1.5-.5-1.1 1.1-.4 1.5-1.5 2.4-3 1.7-1.5 .4-2.9-3 .4-4.5-.5-.8-.3-2.2 .3-.7 1.5-1.4 .5-.9 .2-3.1-.7-2.1-1.5-1.8-.7-2.1 0-1.5 .7-1.1 .7-.4 .8-1.8 1.5-.5 1.5 .4 3-.1 1.4-1zM469.3 470.2l0 .7 1.5 1.3 1.7-.2 .8-1.5-1-.1-1.5-1.3z" fill="#0000ff" fill-opacity="0.283" fill-rule="evenodd"/><path d="M469.6 466l1.2-.8 4.5-.6 1.4 1.4-1.4 2.1-1.5 1.2-1.5-.3-1.9-1.5zM466.4 467.5l1.4-.6 .7 .6 0 1.5-.7 1.1-1.5-1.1zM476.4 473.5l.4-.5 1.5-.8 1.5 0 .3 1.3-.3 2.3-1.5 0-1.5-.7zM470.6 476.5l1.7-1 1.5 .5 .3 .5 .2 1.6-.5 1.5 0 3-1.2 1.5 1.2 .7 .3 .8-.4 1.5-1.4 1.2-1.7-1.2-.5-1.5 2-1.5-.3-1.5-2.1-1.5-.1-3zM467.6 481.1l.2-.2 .6 .2-.6 .6zM475.7 482.6l2.6-1.4 1.5 0 .3 1.4-.3 1.2-1.5 0z" fill="#0000ff" fill-opacity="0.421" fill-rule="evenodd"/><path d="M471.2 466l1.1-.5 1.5 0 1.6 .5-.6 1.5-1 .8-1.5-.2-.7-.6zM470.8 478.1l1.5-.9 1 .9-1 2.5-1.5-.8z" fill="#0000ff" fill-opacity="0.682" fill-rule="evenodd"/><path d="M410.9 455.5l1.2-.6 3-.2 6 .3 1.3 .5 0 1.5 1.7 .6 .6-.6 0-1.5 .9-.4 2.2 .4 0 1.5-1.4 1.5-.5 1.5 1.2 4.5 .3 0 .8-1.5 .4-.2 1.5 .3 .7 1.4-.7 .5-1.5 0-.8 1-.1 1.5 .7 1.5-.4 1.5-1.4 1.5 2 .8 .6 .7-.5 1.5 1.4 1.4 1.5-.8 1.6 .1 1.2 .8 .5 1.6-1.7 3.7-.4-.7-1.2-.4-1.5 0-.8 1.9-2.2 1.9-.7 1.1 .7 3-.4 3-1.7 3-.2 1.5-2.6 1.5-1.3 1.5 .9 1.5-.5 1.5-1.5 1.5-.1 3.1 1.4 .7 .3 .8-.3 .3-1.6-.3 0-3-1.4-.7-.6 .7-.9 .2-1.5-.5-.7-1.3 0-1.5-.6-1.5 0-4.5-1.2-1.5-2-1.5-.2-4.5-.4-1.5 .1-3-.8-3 1.6-4.6-.3-1.9-1.8-2.6 2.8-3-.5-3-1.4-3 0-1.5 1-3zM437.3 455.5l1.9-.7 4.5 .4 3-.5 4.5-.2 4.5 .4 10.6-.5 7.5 .1 6 .5 .5 .5 .5 6-.4 10.5 .3 6.1 0 13.5-.4 3 .1 4.5-.6 3.6-1.5 0-1.5 1.4-1.2-.5-.2-1.5 1.1-1.5-2.4-3-.3-1.2-.6 1.2-.1 3-.8 .8-1.5-1.1-1.5-.5-1.5 .5-1.5 1.9-1.5-.4-1.5-1.2-1.5 .4-4.6 0-4.5-1.1-3 .2-1.5-1.4-3 .4-1.5-1.4-1.5-.5-3-1.9-.6-.7-.2-1.5 1-1.5 .3-1.5-2-.8-1.5 .9-1.5-1-.7-2.1 .9-1.5 .2-1.5 1.1-1.7 .3-1.3-.5-1.5 .3-1.5 1-1.6 .4-1.5-.5-1.5-2.6-1.5 .5-3 1-1.5 .1-1.5-.7-1.5 .7-1.5 .1-1.5-1.4-1.5 1.3-.3 .8-1.2zM431.5 458.5l1.7 1.2 1.1 .3-2.7 1.5-1.3-1.5zM443.7 458.4l-1.5 .2-.9 1.4 .9 .8 1.1-.8zM430.8 469l.8-.4 .3 .4-.3 .5zM429.7 485.6l.4-.9 1.5 .3 .3 .6-.3 1.1-1.5 0zM429.3 491.6l.8-.7 .9 .7-.9 1.3zM454.3 503.6l1.4-.7 .6 .7-.6 2.2-.7-.6zM446 508.2l.7-.8 1.5 .4 .5 .4 .3 1.5-.8 .4-1.5-.1-.6-.3zM472.3 508.2l1.5-.2 .3 .2-.3 1.7-.6-.2zM413.8 455.5l5.6 0 0 1.5 2.8 1.5 .4 1.5-2.5 3 2.1 3 .4 1.2 .5 .3 .2 1.5-1.3 6 .6 .7 1.5 .4 1.5-.3 .6 2.3-.6 .7-1.5 .8-1.5 1.8-.8 1.2-.2 1.5 1 5.5 1.5 0 .5 .5-.1 1.5-1.9 3-1.4 1.5-1.6 1.3-1.5 .4-1.1-1.7-.1-1.5 2.3-3-2.6-2.9-3 .7-.3-.8-1.4-1.5-.5-1.5 .3-1.5-.6-3 1.7-3 .1-1.6-1-3 .1-1.5 1.4-3-1.4-6 .9-3-.1-1.5 1-1.5zM446.2 455.5l1.9 0 .1 1.5 .1-1.5 2.9-.5 1.5 .1 1.3 .4 0 1.5 1.7 .8 1.3-.8 0-1.5 9.3-.8 3 .3 4.5-.1 3.5 .6 0 1.5 1 1.1 1.5 0 .6 3.4-.2 6-.4 2.9-1.5 0-1.6 1.6 .1 1.5 1.5 .8 1.5 0 .4 2.2-.3 6.1 .2 3-.2 1.5 .3 4.5-.4 2-1.5 0-4.5-3.2-1.5-.4-.4 1.6 .5 3-1.6 1.8-1.5-.5-1.5 .4-3 2-1.5-.2-.5-.5-.7-1.5 .2-3-.5-.4-1.5-.1-1.1 .5 .4 1.5-.8 1.7-1.6 .8-1.5 .2-1.5 .7-4.5-1.3-1.5-1.5-1.5-.2-1.5-.9-1.8-2.5-1.2-4-1.5-1.1-1.5-.1-1.1-.8 0-1.5 1.7-1.5-1.7-3 1.1-.9 1.5-.5 1.5 .7 1.5-.5 .2-.3-3.7-4.6 .3-1.5 1.7-.6 3-.4 1.2-2-2.4-3 1.2-1.4 1.5-1 .2-.6 .1-4.5-.8-1.5zM457.2 463.9l-.3 .6 .3 .7 1.6 1.3 1.5 .3 1.5-.4 1.5 .6 1.8-1-.3-.5-1.5-1-1.5 1.1-1.5-.5-1.5-1.7zM439.9 469l2.3-.8 .8 .8-.8 .8zM437.1 470.5l.6-.8 1.5 .8-1.5 .6zM458.8 475l-.1 0 .1 .8 0-.8zM431.5 478.1l.1-.1 .2 .1-.2 0zM450.9 455.5l1 0 0 1.5-.7 .7zM459.9 455.5l3.4-.1 3-.4 3 .4 3-.2 2.5 .3 0 1.5-1 1.1-1.5 .7-1.5-.6-1.5 .2-.5 3.1-1.2 1.5 .2 1.5 1.5-.9 .7 .9 2.3 1.4 1.5-.8 1.5 .1 .9 .8 0 1.5-.9 2.1-.7 .9 .5 3-1.6 3 .1 1.6 .3 1.5 1.8 1.5 1.8 3-.7 1.5-1.5-2.1-6-.6-1.1 1.2-1.3 3 2.1 3 .1 1.5 .7 1.5-2 .2-1.5-.9-6-1.7-4.6 .4-1.7-1 .5-1.5-1.8-.8-.7 .8-.1 1.5-1.2 1.5-1 .9-1.8 .6-1.2-.4-1.9-2.6-.2-3-.8-3-1-1.5-.3-1.5 1.2-.8 .5-.7 .8-1.5 .3-1.6-.1-.4-1.6-1.1-.3-1.5 1.9-.4 .3-1.1 2.2-3 .1-1.5 .4-.4 1.5-.1 2.4-1 1-3-1.9-1.5 .9-3 .6-.6 .5 .6 2.9 1.5 .8 1.5-1.2 1-.9 .5 1.3 3 1.1 1.1 3.1 2 1.5-.9 3-.4 1.5-1.3 1.4-2-1.4-.1-3-1.3-1.5 .6-1.5-.7 1.3-1.5 .5-3-2.2-1.5zM419 460l.6-1.4 .6 1.4-.6 .3zM476.5 461.5l1.8-1.5 1.5 0 .2 1.5-.2 2.4-3 .3-1.1-1.2zM414.6 463l.5-.8 1.5 .4 4.3 3.4 .7 1.5 .1 1.5-1.7 4.5 0 1.5 1.6 1.5 1 1.6-.6 1.5-2.4 1.5-.2 1.5-1.7 1.5-.8 1.5-1.8 1.7-1.5-.1-1.1-1.6 .5-1.5 1.2-1.5 .1-1.5-.7-1.5 .8-3.1-1.1-1.5-.3-1.5 .3-1.5 1.3-1.5 .8-1.5-.3-1.9-1.6-1.1 .1-1.6zM449.6 463l.1-.2 .2 .2-.2 .1zM463.3 472l-1.5 1.3-1.5 .6-1.5-.6-.6 .2-1 .5-1.5 2-1.1 .5 .1 3.1 1 1.6 1.5 1 1-1.1-.6-1.5 0-1.5 1.2-.5 1.5 .2 .8 .3 .7 2.3 1.5 .1 .7 .6 .8 1.6 1.5 .1 .5-.2-.1-1.5-3.4-3.8-1.5-.1-.4-2.2 .4-1 1.5 1.4 1.5-.9 .8-1-.8-.8zM416.6 472.4l-1 1.1 0 1.5 1 .5 1.5-.5 .1-1.5zM451.2 475l-1.5 .7-.8 .8 .8 2.3 1.5 .4 1.4-1.1 .6-1.6zM469.3 478.5l-.3 1.1 .3 .7 1.5-.7zM418.8 487.1l.8-.8 1.3 .8-1.3 1.1zM472.1 487.1l3.2-.9 .7 .9 .1 1.5-.8 1-2.2-1zM419.4 494.6l.2-.2 .4 .2-.4 .4zM453.8 496.1l.4-.7 .1 .7-.1 .1zM465.2 455.5l1.1-.3 2.2 .3 0 1.5-.8 3-1.4 2.6-1.5-.1-1.7-2.5 2.1-3zM417.4 466l.7-.5 1.5 .2 1.1 1.8-.2 1.5-.9 2-1.5 .4-1.2-.9-.1-1.5zM468.8 466l.5-.2 .3 .2 .8 1.5-.6 1.5-2 1.8-6 0-.5-.3 3-1.5 2-.2 1.5-2zM449.5 469l1.7-.8 1.5 .1 1.5 1.8 2.3 1.9-.2 1.5-.6 .9-1.5 .8-3-3-1.5 1.1-1.5 1.9-1.5-1-.3-.7 0-1.5 1.8-2.1zM456.9 469l.3-.3 .6 .3 1.4 1.5-2 .6-.6-.6zM471.9 473.5l.4-.9 .8 .9-.8 .4zM466 475l.3-.3 1.5-.2 .6 .5 0 1.5-.6 1.2-1.5 1.2-1.5-2.4zM418.7 476.5l.9-.1 1.8 1.7-.3 .4-3 1-1.5 1.3-1-1.2-.2-1.5 1.2-1.2zM446.3 478.1l.4-.7 1 .7 .9 1.5-.4 1.5 .3 1.5-.4 1.5 .9 1.5 .1 1.5-.9 1.3-2.7-2.8-.3-1.4-.5-3.1zM453.5 482.6l.7-1.4 2.2 2.9-.2 1.5-.5 .6-1.5 .1-.9-.7zM414.9 484.1l.2-.2 .2 .2-.2 1.2zM461.8 484.1l1.5 1.5 .4 1.5 2.3 3-2.7 .4-.9-.4-1.2-1.5-1-3zM465.5 485.6l.8-.7 .1 .7-.1 .1zM448 490.1l.2-1 1.5 .6 .2 .4z" fill="none" stroke="#ffa500" stroke-width="1.3"/><path d="M464.9 455.5l2.9-.7 4.5-.1 7.5 .1 .7 .7 .3 27.1-.4 10.5-.4 3-.2 1.1-1.5 0-1.5 3.1-1.3 1.8-1.7 1.1-.6-1.1 .6-1.5-.4-1.5-2.6-.9-3 1.9-1.5-.2-1.1-2.3-.7-6-.6-1.5-.5-3 0-9-.6-4.6 .3-3-.4-3 1-3-.4-3 .6-3 1-1.5zM468.2 455.5l4.1-.2 7.6 .2 .1 13.5 .4 4.5-.3 6.1 .3 3-.6 4.3-2.5 .2-.6 1.5-1.3 1.5 0 3-1.6 .3-1.5-.6-3 .6-1.5-1.8-1.8-1.5-.7-1.5-.1-7.5 .8-3-1.4-4.6 .5-3-.5-3 1.5-3 .3-1.5 1.4-2.3 1.5-.4 .5 1.2 1 1.1 1.5 .6 .6-.2 .3-1.5-.9-1-1.5-.5-.9-1.5-.6-.3-1.1-1.2zM477.5 488.6l.8-.6 1.5 0 0 .9zM475.3 461.5l0-.2 .2 .2-.2 .4zM468.1 464.5l1.2-.5 1.5 .3 3-.1 1.5-1 1.5 .4 .7 .9 .4 1.5-1.1 1-1.5 2.4-1.5 .9-1.5-.2-1.5-1.3-1.5 .6-.5 1.1 .5 1.3 1.5 .8 3-.3 1.5 .7 1.5-1.9 1.5-.4 1.5 0 .3 2.8-.3 3.5-4.5-.3-.8 2.9 .8 1.5 3-.8 1.5 0 .3 2.3-.3 2.1-1.5 0-1.5-.4-1.4 1.3-.4 1.5-1.2 2-1.4 1-3.1 1.1-2.5-2.6 .5-4.5-1-1.5-.1-1.5 1.6-1.7 .8-1.3 .3-3.1-.4-1.5-.7-1.4-1.5-1.7-.5-1.4-.1-1.5 .6-.8 1-.7zM469.3 484.1lzM469.9 466l.9-.6 1.5-.4 3-.2 1.2 1.2-1.2 1.9-1.5 1.2-1.5-.3-1.5-1.3zM467 467.5l.8-.3 .4 .3 .1 1.5-.5 .8-1.1-.8zM476.7 473.5l1.6-1 1.5 0 0 3.1-1.5 0-1.1-.6zM471.2 476.5l1.1-.6 1.5 .6 .3 1.6-.8 3-1 1.4-2.2-1.4-.3-1.5 0-1.5zM476.3 482.6l2-1.1 1.5 0 0 2-1.5 0zM470.4 485.6l1.9-1.3 1.6 1.3-.7 1.5-.9 .8-1.1-.8z" fill="none" stroke="#0000ff" stroke-width="1.3"/></g><g clip-path="url(#c44)"><path d="M484.5 561.6l1.5 0 1.6 0 1.5 0 1.5 0 1.5 0 1.5 0 1.5 0 1.5 0 1.5 0 1.5 0 1.5 0 1.5 0 1.5 0 1.5 0 1.5 0 1.5 0 1.5 0 1.5 0 1.5 0 1.6 0 1.5 0 1.5 0 1.5 0 1.5 0 0-.3 1.5 0 0-.1 1.5 0 0-.5 1.5 0 0 .2 1.5 0 0-.3 1.5 0 0-1.4 1.5 0 0-.2 1.5 0 0-5.3 1.5 0 0-3.5 1.5 0 0-5.2 1.5 0 0-2.1 1.5 0 0-2.8 1.5 0 0-2.2 1.6 0 0-2.4 1.5 0 0-4.1 1.5 0 0-3.2 1.5 0 0-3.4 1.5 0 0-2.7 1.5 0 0-10.3 1.5 0 0-6.1 1.5 0 0-11.1 1.5 0 0-11.3 1.5 0 0 .3 1.5 0 0-6.5 1.5 0 0-5.2 1.5 0 0-5.1 1.5 0 0-1.6 1.5 0 0 1.8 1.5 0 0-.8 1.5 0 0-.3 1.5 0 0 1.9 1.6 0 0-5.8 1.5 0 0 7.9 1.5 0 0-2.8 1.5 0 0 3.1 1.5 0 0-3.8 1.5 0 0 5.7 1.5 0 0-4.4 1.5 0 0-3.9 1.5 0 0 5.1 1.5 0 0 5.8 1.5 0 0 5.5 1.5 0 0 5.6 1.5 0 0-3.8 1.5 0 0 3 1.5 0 0 .2 1.5 0 0 76.4" fill="none" stroke="#ffa500" stroke-width="1.3" stroke-linejoin="miter"/><path d="M551.88 456.22V561.62M567.19 456.22V561.62M581.79 456.22V561.62" stroke="#ffa500" stroke-width="1.2" stroke-dasharray="3.9 1.8" fill="none"/><path d="M484.5 561.6l1.5 0 1.6 0 1.5 0 1.5 0 1.5 0 1.5 0 1.5 0 1.5 0 1.5 0 1.5 0 1.5 0 1.5 0 1.5 0 1.5 0 1.5 0 1.5 0 1.5 0 1.5 0 1.5 0 1.6 0 1.5 0 1.5 0 1.5 0 1.5 0 0-.2 1.5 0 0-.2 1.5 0 0-.3 1.5 0 0-.5 1.5 0 0-.2 1.5 0 0-.5 1.5 0 0-1.3 1.5 0 0-3.9 1.5 0 0-4.1 1.5 0 0-3.7 1.5 0 0-4 1.5 0 0-3.2 1.5 0 0-3.8 1.6 0 0-2.6 1.5 0 0-2.5 1.5 0 0-2.8 1.5 0 0-3.2 1.5 0 0-4 1.5 0 0-7.2 1.5 0 0-7.5 1.5 0 0-12.1 1.5 0 0-7.8 1.5 0 0-2.9 1.5 0 0-2.8 1.5 0 0-7.7 1.5 0 0-3.1 1.5 0 0-1 1.5 0 0-.5 1.5 0 0-1.1 1.5 0 0-1.4 1.5 0 0-.4 1.6 0 0 .2 1.5 0 0 .7 1.5 0 0 .8 1.5 0 0 .3 1.5 0 0 2.2 1.5 0 0 .2 1.5 0 0-2.2 1.5 0 0-2.2 1.5 0 0 5.5 1.5 0 0 3.5 1.5 0 0 5.1 1.5 0 0 1.4 1.5 0 0 1.7 1.5 0 0 2.2 1.5 0 0 3.7 1.5 0 0 73.4" fill="none" stroke="#0000ff" stroke-width="1.3" stroke-linejoin="miter"/><path d="M551.78 456.22V561.62M567.26 456.22V561.62M581.85 456.22V561.62" stroke="#0000ff" stroke-width="1.2" stroke-dasharray="3.9 1.8" fill="none"/></g><g clip-path="url(#c50)"><g mask="url(#mo)"><path d="M77.5 565.6l1.1-1 22.9 0 1.3 2 .8 2 .7 7.9-.1 4 .6 3-.8 5 0 4.9 .2 2 1.4 5-1.4 3.9 0 1.1 1.1 6.9-.9 5-.1 3 .7 4-.8 4.9 .3 11-.8 5 .2 8.9 1.3 5-1 4.3 .5 3.6-.4 4-.7 2-1.6 2-22.3 0-2.1-2-.5-1-.6-14.9 .8-6-1.4-3.9-.3-3 1.1-5-1-4 1.2-5-.5-6.9-.6-2-.1-2 1.3-7 .2-7.9-.7-4 0-5 .8-6.9-.5-4 .2-5-1.2-6-.2-2.9 .4-3z" fill="#ffa500" fill-opacity="0.024" fill-rule="evenodd"/><path d="M79.3 565.6l.9-1 19.9 0 1.5 2 1 3 .9 13.9-.5 8.9 .2 3.5 .8 3.5-.9 5 .4 6-.3 4.9 .4 9-.6 6.9 .1 7-.5 6 .2 10.9 .9 5-.9 4 .4 3.9-.1 3-1 2-2.1 2-17.7 0-2.9-2.2-.7-.8-.5-2-.5-13.9 .7-5-1.4-5.9 1-6-.7-4 .7-5-.3-5.9-.8-4 1.1-6 .4-9.9-.8-4-.2-5 .7-6.9-.3-4 .1-5-1-6-.1-2.9 .7-3z" fill="#ffa500" fill-opacity="0.028" fill-rule="evenodd"/><path d="M80.5 565.6l.9-1 17.3 0 1.9 2 1.1 3 .7 13.9-.4 8.9 .6 7-.5 5 .3 5-.2 4.9 .2 9-.5 7.9 .3 5-.6 7 .1 10.9 .8 6-.9 5 .5 3.9-.2 2-1.2 2-3 2-13.2 0-3.1-1.9-1.2-1.1-.5-1-.7-3-.2-11.9 .6-5-1.2-5.9 .9-5-.6-6 .4-4 0-4.9-.8-5 .9-6 .3-8.9-1.2-10 .7-7.9-.1-9-.9-6.9 .4-3 .5-1z" fill="#ffa500" fill-opacity="0.041" fill-rule="evenodd"/><path d="M81.3 565.6l.9-1 15.3 0 2.2 2 1.2 3 .7 13.9-.4 8.9 .4 6-.3 15.9 .3 6-.7 10.9 .4 5-.5 7 0 9.9 .9 7-1 5 .3 4.9-.7 2-1 1.1-3 1.5-2.5 .4-6.6 0-1.9-.5-1.9-1-1.9-1.5-.7-1-1-4-.1-10.9 .5-5-.8-5.9 .6-5-.5-6 .5-8.9-.8-5 .7-5 0-9.9-1.2-10 .8-7.9-.2-9-.7-6.9 .5-3z" fill="#ffa500" fill-opacity="0.056" fill-rule="evenodd"/><path d="M82 565.6l.9-1 13.6 0 3 3 .5 1 .4 3 0 4.9 .5 7-.4 8 .2 17.9-.3 4.9 .4 5-.3 8-.6 3.9 .6 5-.6 16.9 .9 6-1 6 .2 4.9-.9 2-1.8 1.3-6 1.2-4-.3-2-.5-1.9-1.1-1.5-1.6-1.1-4-.1-10.9 .4-4-.5-7.9 .4-5-.6-6 .6-7.9-.7-5 .6-6-.3-8.9-1.3-10 .7-7.9-.6-15.9 .4-3z" fill="#ffa500" fill-opacity="0.074" fill-rule="evenodd"/><path d="M82.6 565.6l1-1 12.2 0 3.1 3 .8 3 .4 12.9-.5 30.8 .3 5-.3 8-.8 4.9 .8 5-.6 15.9 1 5 0 2-.9 4 0 4.9-.4 2-.8 1-1.6 .9-5 .9-5-.5-2.5-1.3-1.4-2-.7-3.9 0-10 .3-4-.3-7.9 .3-5-.7-6 .6-6.9-.4-5 .3-5-.5-9.9-1.5-11 .7-7.9-.5-15.9 .1-2 .8-2z" fill="#ffa500" fill-opacity="0.101" fill-rule="evenodd"/><path d="M83.3 565.6l1.2-1 10 0 2.8 2.3 1.1 1.7 .2 9.9 .8 4-.1 7.4-.6 2.5 .6 2.2 0 1.8-.8 4-.1 27.9-.9 1.9 0 1 .1 3 .7 .9 .1 2.1 0 6-.7 3-.2 6.9 .1 1 .7 1.3 .4 3.7-.4 4.6-.6 1.4-.4 5.9-1.5 1-2.5 .3-2 .8-3-.1-1-.7-2.1-.3-1-1-.2-1-.6-.8-.2-1.2 0-30.8-.3-6 .3-4.9 0-12-.2-2-.6-1.1-.2-6.8-.3-1-.5-.5-.3-5.5-.5-2 .6-3.9 .1-22.9 .9-1 .1-1z" fill="#ffa500" fill-opacity="0.072" fill-rule="evenodd"/></g><path d="M83.6 565.6l1.1-1 10.1 0 3.1 3 .9 2 .1 1 0 33.8-1.3 17.9 .5 5-1 4.9 .9 6-.6 14.9 .3 2 .8 2 .2 2-.8 4-.8 6.9-.8 1.2-1 .6-3 .9-5-.1-2-1.1-1.2-1.5-.6-3.9 .1-7-.3-3 .7-9.9-.3-3-.1-7-.6-6 .6-3.9 .1-9-1.3-10-.6-1.9-.4-3.7-.6-1.3-.2-5 .3-8.9-.1-16.9 .9-2z" fill="#ffa500" fill-opacity="0.055" fill-rule="evenodd"/><path d="M84 565.6l1.2-1 8.9 0 3.3 3 .8 2 .3 2 .1 24.8-1.4 21.9-.6 4 .7 5-.9 4.9 .9 5 .1 3-.8 13.9 1.1 3 .2 2-1.8 10.9-.9 1-.9 .5-2 .6-2 .2-2.7-.3-1.9-1-.7-1-.5-3-.1-7.9-.3-3 .8-9.9-.5-4 0-7-.4-5 .4-3.9 0-9-2.5-13.9-1-8 .6-8.9-.2-15.9 .8-3z" fill="#ffa500" fill-opacity="0.069" fill-rule="evenodd"/><path d="M84.6 565.6l1.3-1 7.5 0 3.4 3 .9 2 .2 2 .2 23.8-.3 8-1.4 7.9-.4 7-.7 4 .8 5-.8 4.9 1 9-.6 6 .1 3.9-.5 3 0 1 1.2 3 0 2-1.6 8.9-.7 1-1.5 1-2.4 .5-3-.6-1-.9-.5-2 .2-3.9-.6-8 .9-8.9-.9-7 .8-7-.6-4-.1-12.9-2.9-11.9-1.2-8 .4-9.9-.1-15.9 1-3z" fill="#ffa500" fill-opacity="0.114" fill-rule="evenodd"/><path d="M85.4 565.6l1.6-1 5.3 0 2 1.2 1.8 1.8 .9 2 .2 2 .2 23.8-.4 8-.7 4-1.7 4.9-.3 5.8-1 4.2 .9 5-.9 4.9 .6 10-.2 5 .4 3.9-.8 1.8-1 .8-1 .3-1-.5-1.5-3.4-.3-4.9-1.3-5 .4-3 1.7-4-1.5-7.9-.3-9-2.2-4.7-1.6-5.2-1.1-5-.6-5 .4-9.9 0-15.9 .4-2 .5-1zM88.6 657.1l.7-.6 1 .1 1 .7 2 1.8 .6 2-.3 2-1 2-.2 2.9-.6 1-1.5 .8-1-.1-.9-.7-.4-1 .8-4.9-.8-4z" fill="#ffa500" fill-opacity="0.179" fill-rule="evenodd"/><path d="M86.5 565.6l1.8-.7 2-.1 3 1.1 2 1.7 .6 1 .5 3 .3 22.8-.7 10-.8 3-1.9 3.6-2 2.4-1 .4-2-.7-1-.9-1.1-1.8-2.2-6-1.3-8 .4-25.8 .9-3z" fill="#ffa500" fill-opacity="0.266" fill-rule="evenodd"/><path d="M88.5 565.6l2.8 .1 2 .9 1.1 1 .9 2 .4 4.9 .1 19.9-.5 7.9-.9 4.1-1 2-1.1 1.3-2 1.3-1 0-1-.5-1-1-2-3.8-1.1-4.3-.8-6 .6-25.8 .4-1.1 .9-1.3 1-.8z" fill="#ffa500" fill-opacity="0.383" fill-rule="evenodd"/><path d="M87.8 566.6l1.5-.3 2 .2 1.8 1.1 1.2 2 .4 3.9 .1 20.9-.3 6-1.3 5-1.2 2-1.7 1.1-1-.1-1-.6-2-2.8-1-2.8-.9-6.7 .4-24.9 .5-2 1-1.2z" fill="#ffa500" fill-opacity="0.517" fill-rule="evenodd"/><path d="M87.8 567.6l2.5-.3 1.2 .3 .8 .7 1 1.9 .3 3.3 .2 17-.4 8.9-1.1 4.1-1 1.5-1 .7-1.5-.3-1.5-1.6-1-2.4-1-5.7 .5-24.1 .5-2.6z" fill="#ffa500" fill-opacity="0.714" fill-rule="evenodd"/><g mask="url(#mb)"><path d="M78.2 565.6l.7-1 23.3 0 1.8 2 .3 1-1 9.9 1.3 8-1.1 13.9 .4 4-.4 7 .7 6.9-.4 12.9 .2 9 .6 4-.6 3 .1 4.9-.3 4 .4 6-.6 9.9-.6 2-1.4 2-21.3 0-2.3-3-1.4-4 0-1.9 .7-4-.7-5 .2-7 .9-6.9-1-9 .3-5-.2-6.9 .5-4-.6-5 .7-5.9-.6-5 .3-4-.6-6.9 .4-4-.4-4 .4-4 .1-10.9 .6-2z" fill="#0000ff" fill-opacity="0.024" fill-rule="evenodd"/><path d="M79.7 565.6l.9-1 19.3 0 2.2 2 .8 2-.6 8.9 1.2 8-1.2 12.9 .6 5-.6 7 .8 6.9-.4 11.9 .3 6-.4 7 .4 7.9-.3 6 .3 5-.5 9.9-.8 2-2.3 2-17.5 0-2.7-3-1.3-4-.1-1.9 .6-4-.7-6 1.1-12.9-.9-8 .3-5-.2-4.9 .5-7-.4-5 .3-4.9-.4-6-.1-14.9-.3-4 .3-4 .2-10.9 .7-2z" fill="#0000ff" fill-opacity="0.028" fill-rule="evenodd"/><path d="M81 565.6l.9-1 16.1 0 2.6 2 1 2 .1 4.9-.4 4 1.3 8-.9 6-.4 5.9 .6 6-.7 7 .7 6.9-.2 11.9 .3 6-.8 7 .7 6.9-.4 20.9-.4 2-.8 1-2 1.2-3.1 .8-11.4 0-2.4-1.7-1.1-1.3-.6-1-.7-3 .5-4.9-.7-7 .9-12.9-.7-7 .3-5-.3-4.9 .7-9-.8-15.9 0-12.9-.4-5 .6-14.9 .9-2z" fill="#0000ff" fill-opacity="0.041" fill-rule="evenodd"/><path d="M81.9 565.6l1-1 13.8 0 3.5 3 .6 2-.2 7.9 1.2 8-1.1 6.9-.2 5 .6 6-.8 7 .6 6.9-.1 11.9 .3 5-.3 4-.6 4 .8 6.9-.4 20.9-.7 2-1.2 1-7.4 2-5-.1-2.9-1.1-2.1-1.8-.6-1-.5-2 .3-5.9-.6-7 .5-4-.2-4 .3-4.9-.5-7 .4-5-.4-4.9 .7-10-1.1-14.9 .2-8-.5-9.9 .4-13.9 .6-2z" fill="#0000ff" fill-opacity="0.056" fill-rule="evenodd"/><path d="M82.8 565.6l1-1 11.9 0 2.5 2 .9 1 .8 2 0 7.9 1 7-.1 3-.7 3-.2 2.9-.1 4 .5 6-1.1 7.9 .7 6 .2 8-.1 10.9-.9 6 1 5.9-.1 11-.5 5 .2 5.9-.3 1-.9 1-1.2 .6-4 1.1-3 .5-4-.2-2.9-1-1.8-2-.4-2 .4-3.9-.5-8 .5-5-.5-4 .3-4.9-.3-7 .4-5-.5-4.9 .7-10-1.4-15.9 .1-10.9-.4-6 .4-13.9 .6-2z" fill="#0000ff" fill-opacity="0.074" fill-rule="evenodd"/><path d="M83.5 565.6l1.2-1 10.2 0 3.3 3 .8 2 .3 3.9-.1 4 .9 7-.1 3-.9 4.9 0 5 .6 5-1.4 8.9 .7 7 .2 7-.2 11.9-.9 5 1 5.9 0 10-.7 5 .4 5.9-.5 1.7-1 .9-3 1.1-4 .8-4-.1-1.9-.7-1.8-1.7-.4-2 .5-3.9-.4-4 .1-4 .5-4-.8-5.9 .2-4-.3-4 .7-9-.6-3.9 .5-9-1.8-16.9 .2-7-.4-8.9 .1-8 .6-7.9 .4-1z" fill="#0000ff" fill-opacity="0.101" fill-rule="evenodd"/><path d="M84.3 565.6l1-.3 .8-.7 7.4 0 3.9 3 .4 2 .5 1 .1 9.9 .6 5-.6 4 0 14.9-.1 1-.7 1-.3 4.2-.4 .7 .4 2 .3 7-.1 15.9-.2 4-.7 1-.1 1 .1 1 .7 1.3 .2 2.7 .1 10.9-.2 3-.6 1-.1 1 .1 1 .5 1 .1 3.9-.1 .5-1.6 1.5-1.4 .4-1 .7-8 0-1.2-1.1-.3-1 .4-4.9-.8-4 .5-2 .4-7-1.1-12.9 .8-3 .2-7-.4-7.9 .3-4-.2-2-.6-1-.1-4.9-.2-1-.6-1.1-.3-5.9-.5-2 .5-3 .1-4-.1-3.9-.8-3 0-8 .1-1.8 .6-2.2 .4-5.4 .9-1.5z" fill="#0000ff" fill-opacity="0.072" fill-rule="evenodd"/></g><path d="M84.6 565.6l1.3-1 7.8 0 3.3 3 .8 1 .2 1 .2 7.9 .6 4 0 6-.5 3.2-.2 4.7 .5 7-1.8 8.9 .1 5 .8 4-.7 11.9 .3 5-.8 5 .6 5 .3 9.9-1 6 .6 4.9-.9 2-1.8 1.3-3 1.1-2 .2-3-.4-1.7-1.2-.5-1 .5-3.9-.7-4 .1-5 .9-5-.8-4.9-.2-7 .4-4-.1-3 .7-4.9-.8-7 0-4-2.5-15.9-.1-17.9 .2-13.9 .9-2z" fill="#0000ff" fill-opacity="0.055" fill-rule="evenodd"/><path d="M85.1 565.6l1.6-1 6.2 0 2.4 1.6 1.3 1.4 .6 1 .4 2 .7 12.9-.5 11.9 .2 7-1.9 8.9 .1 5 .8 4-1 10.9 .5 6-.8 5 .5 4-.1 2.9 .4 9-1 5 .5 4.9-1.3 2-1.4 .9-2 .7-2 .2-3-.5-1.1-1.3 .2-3.9-.7-5 .2-5 .9-4-.8-4.9-.2-7 .3-7 .7-4 0-1.9-.8-6-.1-4-3-17.9 0-21.9 .2-6.9 1-3z" fill="#0000ff" fill-opacity="0.069" fill-rule="evenodd"/><path d="M85.9 565.6l1.9-1 4 0 2.5 1.3 1.7 1.7 .6 1 .4 2 .6 10.9-.4 13.9 .1 6-.6 4-1.5 5.9-.1 5 .9 4-1.5 9.9 .8 7-.8 5 .5 3-.5 3.9 .5 10-.9 5 0 3.9-.6 1-1.1 1-3.1 .7-2-.6-.5-1.1-.9-6.9 .2-6 1-4-.7-4-.2-2.9 .8-4-.5-3-.1-4 .9-6.9-1.1-9-2.7-11.9-1.1-7 0-21.9 .3-6.9 .4-2 .5-1z" fill="#0000ff" fill-opacity="0.114" fill-rule="evenodd"/><path d="M86.9 565.6l1.4-.6 2-.2 3 1.1 2 1.7 .6 1 .5 3 .5 9.9-.4 19.9-.9 5-1.8 4.9-.7 5 .1 1 1.1 2.6 .1 1.4-2.1 5.4-1 1.4-1-.7-1.7-4.1-.1-5-3.7-9.9-1.8-9-.1-21.9 .4-6.9 .5-2 .5-1 1-1.1zM90 630.2l.3-.6 1 0 1 2.1 .5 2.5 .2 4-.7 1.3-1 .3-1.8-1.6-.8-2 .3-4zM90.1 643.2l1.2-.5 .8 .5 .6 1 .2 1-1.6 3.9-1 .6-1-.7-.9-2.8 .5-2zM88.8 656.1l.5-.8 1 .1 1.5 1.7 .7 2-.3 2-1.3 3 .3 2.9-.9 .9-1.1-.9-.1-2.9-.6-2z" fill="#0000ff" fill-opacity="0.179" fill-rule="evenodd"/><path d="M86.4 566.6l2.9-1 3 .5 2.1 1.5 .6 1 .6 2 .4 10.9-.6 20.9-.6 3-.8 2-1.7 2.7-2 2.1-1 0-1-.5-2-2.4-1.1-2.9-1.4-7-.1-17.9 .3-9.9 .6-3z" fill="#0000ff" fill-opacity="0.266" fill-rule="evenodd"/><path d="M88 566.6l1.3-.3 2 .2 2 1.1 1.2 2 .3 3 .2 17.9-.6 11.9-.9 3-1.2 2-1 1-2 .8-1-.3-1-.9-.9-1.6-1.1-3.7-.7-4.3-.1-16.9 .4-9.9 .7-3 .7-1z" fill="#0000ff" fill-opacity="0.383" fill-rule="evenodd"/><path d="M88.2 567.6l2.1-.3 1.2 .3 .8 .6 1 1.4 .4 3 .1 16.9-.4 10.9-1.2 4-.9 1.1-1 .7-1 .2-1-.6-1-1.5-1-2.9-.7-4-.1-15.9 .4-8.9 .5-3 .6-1z" fill="#0000ff" fill-opacity="0.517" fill-rule="evenodd"/><path d="M88.1 569.6l1.2-.9 1 0 1 .5 .8 1.4 .3 2-.1 25.1-1 4-1 1.1-1 .1-1-.9-1-2-.3-2.6-.3-15.9 .5-8.9 .1-1.3z" fill="#0000ff" fill-opacity="0.714" fill-rule="evenodd"/><path d="M84.7 566.3l2.3-.9 1.5-.1 3 .1 3.1 .9-.5 10.6 .5 12 .1 6.1-.3 3-.5 3-2.3 6-1.6 1-1.5-.7-1.5-1.9-.9-1.4-.9-3-.8-7.6 .3-3 0-12 .4-4.5z" fill="#fff" fill-rule="evenodd"/><path d="M84.3 566.3l1.2-1 3-.4 4.5 .3 2 1.1-.1 6.1-.5 4.5 .7 18.1-.9 6-1.2 2.8-.8 3.2-.7 .9-1.5 .6-1.5-.4-1.5-1.9-1.3-2.2-1-3-.6-7.6 .2-15 .3-4.5z" fill="#ffa500" fill-opacity="0.070" fill-rule="evenodd"/><path d="M85.2 566.3l1.8-1.1 1.5-.1 3 .1 2.5 1.1 .1 6.1-.5 4.5 .6 13.5-.2 7.6-.2 1.5-2.3 5.1-1.5 1.7-1.5-.8-1.5-1.5-.8-1.5-1.3-9.1 .8-19.5z" fill="#ffa500" fill-opacity="0.075" fill-rule="evenodd"/><path d="M85.9 566.3l1.1-.8 1.5-.3 3 .3 1.5 .8 .3 6.1-.4 3 0 3 .8 16.6-.4 3-.9 3-2.4 3.3-1.5-.3-1.2-1.5-.9-3-.6-4.5 .4-22.6z" fill="#ffa500" fill-opacity="0.105" fill-rule="evenodd"/><path d="M86.4 566.3l2.1-.8 1.5 0 2.3 .8 .4 6.1-.3 6 .6 16.6-.7 4.5-2.3 3.3-1.5-.2-.8-1.6-1.5-7.6 .7-21z" fill="#ffa500" fill-opacity="0.143" fill-rule="evenodd"/><path d="M87 566.3l1.5-.6 1.5 .1 1.4 .5 .7 6.1-.4 6 .8 12 0 4.6-1 4.3-1.5 2-1.5-.7-.8-2.6-.9-4.6-.2-4.5 .7-4.5 .2-12z" fill="#ffa500" fill-opacity="0.197" fill-rule="evenodd"/><path d="M87.8 566.3l.7-.2 2.1 .2 .1 3.1 .8 3-.5 6 .4 7.5 .6 4.5 0 3-.5 2.8-1.5 3.4-1.5-1.8-1.2-5.9 0-4.5 .7-4.5-.1-7.5 .3-4.5z" fill="#ffa500" fill-opacity="0.283" fill-rule="evenodd"/><path d="M89.2 572.4l.8-1.4 .5 1.4-.3 6 .3 6 .9 7.5-.2 1.5-1.2 2.7-1.5-1.5-.4-1.2-.3-3 .1-3 1-3-.2-3 .4-3-.6-1.5 0-1.5z" fill="#ffa500" fill-opacity="0.421" fill-rule="evenodd"/><path d="M88.5 587.4l1.5-1 .7 4 0 1.5-.7 1.9-1.5-1.5z" fill="#ffa500" fill-opacity="0.682" fill-rule="evenodd"/><path d="M84.7 566.3l2.3-.9 1.5-.1 3 .1 2.7 .9 .1 10.6 .5 6-.4 4.5-.3 12.1-.5 3-1.8 4.5-1.8 1.2-1.5-.2-1.5-1.5-1.1-2.5-.9-4.5-.5-9.1z" fill="#fff" fill-rule="evenodd"/><path d="M84.4 566.3l1.1-.9 3-.5 4.5 .4 1.4 1 .1 10.6 .6 6-.6 4.5-.1 12.1-.5 3-1.7 4.5-.7 .8-1.5 .7-1.5-.1-1.5-1.4-.8-1.5-1.1-3-.4-3-.4-9.1z" fill="#0000ff" fill-opacity="0.070" fill-rule="evenodd"/><path d="M85.5 566.3l1.5-1 1.5-.2 3 .2 1.9 1 .8 16.6-.7 12.1 .1 3-1.5 6-.8 1.5-1.3 1.3-1.5-.4-1.5-2.2-.7-1.7-.6-3-.5-9.1 .3-3-.3-4.5z" fill="#0000ff" fill-opacity="0.075" fill-rule="evenodd"/><path d="M86.1 566.3l.9-.6 1.5-.4 3 .4 1.1 .6 .4 12.1 .6 4.5-.9 10.5 .1 4.6-1.1 4.5-1.7 2.2-1.5-.5-1-1.7-1.4-4.5 .1-4.6-.3-3 .2-3-.3-4.5z" fill="#0000ff" fill-opacity="0.105" fill-rule="evenodd"/><path d="M86.7 566.3l1.8-.7 1.5 0 1.8 .7 .5 4.6 .1 7.5 .6 4.5-.4 7.5-.6 3 .1 4.6-.8 3-1.3 1.6-1.5-.6-1.3-2.5-.4-1.5-.1-1.5 .4-3.1-.6-3 .4-3-.6-4.5 .6-12z" fill="#0000ff" fill-opacity="0.143" fill-rule="evenodd"/><path d="M87.5 566.3l1-.4 1.5 .1 1 .3 .6 6.1 .1 6 .7 3-.4 9-.8 3 0 4.6-1.2 2.7-1.5-.5-.9-2.2-.2-1.5 .5-3.1-.7-3 .4-3-.8-4.5 .9-13.5z" fill="#0000ff" fill-opacity="0.197" fill-rule="evenodd"/><path d="M88.4 566.3l1.6 0 1 12.1 .9 3 .1 1.5-.8 4.5 .1 3-1.2 3 .3 3.1-.4 1.8-1.5-.3-.2-1.5 .2-1.3 1.3-1.8-1.3-.9-.5-2.1 .3-3-.9-4.5 .8-10.5 .3-1.6 1-1.4-1-.9z" fill="#0000ff" fill-opacity="0.283" fill-rule="evenodd"/><path d="M89.7 576.9l.3-.3 .1 1.8 1.1 3 .2 1.5-1.3 4.5 .2 3-.3 .6-.6-.6 .6-3-1.5-2.1-.6-2.4 .6-3.9 .9-.6z" fill="#0000ff" fill-opacity="0.421" fill-rule="evenodd"/><path d="M89 581.4l1-1 .7 2.5-.7 2.2-1.5-2.1z" fill="#0000ff" fill-opacity="0.682" fill-rule="evenodd"/><path d="M84.7 566.3l2.3-.9 1.5-.1 3 .1 3.1 .9-.5 10.6 .5 12 .1 6.1-.3 3-.5 3-2.3 6-1.6 1-1.5-.7-1.5-1.9-.9-1.4-.9-3-.8-7.6 .3-3 0-12 .4-4.5zM86.1 566.3l2.4-.6 1.5 0 2.8 .6 .2 6.1-.4 4.5 .8 18.1-.7 4.5-1.2 2.4-1.5 1.9-1.5-.2-.8-1.1-1-3-.8-6.1 .6-21zM87.8 566.3l2.8 0 .1 3.1 .8 3-.5 6 1 15-.5 3.1-1.5 3.2-1.5-1.6-1.2-6.2-.1-3 .8-6-.1-7.5 .3-4.5zM89.9 581.4l.1-.6 .1 .6-.1 1.1zM89.1 585.9l.9-1.5 .8 4.5 .2 3-1 2.9-1.5-1.2-.3-1.7 0-4.5 .3-1.1z" fill="none" stroke="#ffa500" stroke-width="1.3"/><path d="M84.7 566.3l2.3-.9 1.5-.1 3 .1 2.7 .9 .1 10.6 .5 6-.4 4.5-.3 12.1-.5 3-1.8 4.5-1.8 1.2-1.5-.2-1.5-1.5-1.1-2.5-.9-4.5-.5-9.1zM86.2 566.3l2.3-.6 1.5 0 2.4 .6 .5 12.1 .5 4.5-.9 12.1 .1 3-1.1 4.5-1.5 1.8-1.5-.4-1.5-3-.7-2.9 .1-4.6-.3-3 .2-3-.4-4.5zM88.2 566.3l2.1 0 .7 6.1 .2 6 .9 4.5-.6 4.5 .1 3-1.2 3 .3 3.1-.7 2.7-1.5-.4-.3-.8-.2-1.5 .5-3.1-.7-3 .3-3-.9-4.5 1.2-13.5zM89.6 578.4l.4-1.5 .1 1.5 1.1 3 .2 1.5-1.4 4.5-1.5-2.2-.5-2.3 .5-3.7zM89.9 588.9l.1-1.2 0 3.2-.5-.5z" fill="none" stroke="#0000ff" stroke-width="1.3"/></g><g clip-path="url(#c51)"><g mask="url(#mo)"><path d="M159.7 565.6l1.7-.2 3 .7 5.9 .8 1.4-.3 3.5-2 65.1 0 1.2 1 1.5 .4 3.9-.6 4-.1 2-.6 2 .5 2 1.4 1 .3 2-.1 0 107.9-5-.7-3 .4-3-.4-1 0-1.5 1-63.4 0-1.7-.3-4.2 .3-3.8-1.6-2-1.1-1-.2-2.9 1.6-1 .2-4 .1-1-.2-1.3-.8-1.3-2-.8-3-.1-1 .8-3.9 .1-2-.4-1.2-1.9-1.8 .4-2 2.6-4 .2-1-1.8-3.9 0-1 .8-2 2.6-4 0-1-1.6-2-.4-1-.1-11.9-1.6-2-.4-2 .2-5 .4-1 2.3-2-1.5-3.9 0-1 1.1-3 0-1-1.3-3 0-1 .2-2-.1-3 1.7-3.9 .2-1-.6-4 .5-4-.5-3-4-5-.4-3.9 .5-2 1.3-1zM149.5 617.3l0-.2 1 .4 .7 .8 .2 1-.3 1-1.6 1.1zM149.5 639.2l1 .4 1.3 1.6 .7 3-.4 2-.6 1-1 .7-1 .3z" fill="#ffa500" fill-opacity="0.024" fill-rule="evenodd"/><path d="M178.2 565.6l3.1-.5 3 .7 2 .1 1.5-.3 1.8-1 37.3 0 4.1 .5 5-.3 2 .3 4 2.2 7.9 0 4-.5 3 2.1 3-.5 0 21-1.1 1.1 .4 1 .7 .2 0 22-.6 .6 .1 1 .5 .6 0 48.7-.5 .5-.4 1 .3 .9 .6 .5 0 5.2-4-1-4 1.1-4-.8-4 2.6-.9 0-3-.7-3 .2-6-.6-6 .5-4.7 1-4.6 0-2.6-1-2-.2-4.9 1.1-3.3 .1-3.7-.9-5 .3-4-.9-4.9 .4-3-.9-3 .4-2 0-3-1.2-3-2.4-1-.3-.9 .2-2 1.1-4.5 1.2-1.5-.2-.7-.8-.5-2 .7-7.9-1-4 .1-1 .5-1 2.8-2 .4-1-.3-2-.8-1-1.6-1-.7-.9-.1-1 1.2-3 2.6-3 .1-1-.5-1-2.1-2-.6-2 .7-5.9 .8-1.9 1-1.1 0-1-3.3-3-.6-1-.2-1 .5-2 .6-.7 1-.4 2 .2 .6-1.1-.4-4-1.5-1.9-.5-1 .1-1 1.4-3 1.9-2 .4-2-.2-1-.8-.9-2-.2-1-.4-1.3-2.5 .5-2 1.8-1.8 2.1-1.1 .4-1-.3-1-2.2-1.9-.5-1.1 .4-4-.2-2-.8-2-3.3-4.9-.5-2 .2-1 .7-1.2 2-1.2 2 0 3 .9 4.9 .5 1-.3 4-2.2zM168.4 605.4l-1.2 1-.3 1 .5 .9 1-.1 1-.7 .5-1.1-.5-1zM170.3 654.1l0 1 1 1.1 .3-1.1-.3-.7z" fill="#ffa500" fill-opacity="0.028" fill-rule="evenodd"/><path d="M190.3 565.6l1.7-1 32.2 0 1.9 1 3.9 .8 7 0 1 .3 3 2.1 3.9 .1 2 1.2 3.1 .5 1.9 .8 1 1.4 1.4 4.7 1 2-.5 2 .1 1.3 1 .9 1-.4 1-.9 2-.3 0 4.2-2 .1-2 5.1-1 1.3-2 .5-1-.5-1-1.7-1-.7-.6 2 1.1 3 0 1-1.2 3 .2 1 1.5 1.6 3.5 1.4 .3 1-.8 3 1.1 3 .7 2.9 3.2 6.6 1 .7 0 .8-1-.4-1 .1-1 .8-.3 1.4 .1 1 .6 1 2.6 1.6 0 1.8-4-.7-1 .5-2.6 2.7-.2 1 1.8 1.7 2 1.2 2-2.3 2-1 0 4.4-3 .1-.8 4.9 .4 3-.3 2-.9 1-1.4 .7-4 .5-.7 .7-.8 2-1.9 2 1.2 1 6.2 1.4 4.8 2.6 .1 1-1.2 2-1.7 1.4-3 1.7-.3 .9 1.6 1.9 .3 1-.2 1-1.4 1.6-1 .4-1-.1-1-.7-2.3-3.2-1.7-1.2-1.1 1.2 .7 3 0 1-.5 1-1.1 .8-.9 .1-3-.5-4 .3-4-.8-8.9 1-5 1-2-.1-3-1-2-.3-4.9 1.1-3 .1-4-.9-5 .3-4-.9-3.9 .3-1-.2-2.2-1.3-1.8-1.5-2 1.8-2 .1-2.3-1.4-3.6-3.9 .6-2 1.3-1.2 1-.1 2 1.9 1 .3 1.3-.9 .3-2-.2-1-.8-1-2.6-1.8-.7-1.2-.5-6-2-3.9-1.8-2-.4-1 1.3-3 .6-4-.3-1-2-2-.3-1 2.1-4 1-.7 3 .3 1.2-1.5 .5-2-.7-1.2-5-.2-1-.7-.4-1.9 .4-1.2 1-.9 1-.1 2 .8 2.2 .4 .8 .4 1 1.1 1 0 .7-1.5 .1-2-.8-.9-1 0-1-.7-2-2.4-4.2-3-.2-.9 2-4 .3-2-.9-2.6-1-.6-1.9-.2-.6-.6-.2-1 .8-1.4 .9-.6 .6-1 .2-4-1.3-2.9 .1-1 3.2-2 .6-1-.1-1-1.9-5-.7-3-.7-1-.9-.7-.9 .7-.4 2 .2 2-.9 1.2-1 .2-1-1-2-3.1-1-2.5-2-2.5-.1-1.2 .7-1 1.4-.2 1.2 1.2 .6 2 4.2 .7 1.3-1.7 5.6-4 5-1.1 1 0 3 .8 2-.1zM178.3 639.1l-1.1 1.1 .3 1 .8 .4 .7-.4 .3-1zM175.3 574.5l-.6 1 0 1 .6 .4 1.7-.4 .5-1-.3-1-.9-.2zM176.3 591l-.9 .5-.6 .9 .5 2 1 .9 1-.3 .7-1.6-.1-1-.5-.9zM163.3 594.4l2.1-.7 1.4 .7-.2 1-1.2 .2-1.6-.2zM257.6 594.4l2.3 .1 0 8.3-2-.3-1-.5-1.3-2.6-.2-3 .5-1zM259.7 654.1l.2-.5 0 3.6-.3-1.1zM163.2 657.1l1.2-.9 1 .2 1.2 .7 .6 1 0 1-.5 1-1.3 1.8-1-.4z" fill="#ffa500" fill-opacity="0.041" fill-rule="evenodd"/><path d="M192.1 565.6l1.9-1 28.5 0 3.5 1.8 4 1.2 1 .2 5-.2 1.7 1 1.2 2 1.1 .6 3-.3 .4 .7-1.5 1.9-.4 2 .5 1 2.9 .5 .9 .5-.3 1-1.6 1.2-1.9 .1-2-1.1-1 0-.8 .8 .1 1 2 4 .1 2-.6 2 0 1 1.2 1.4 1 .1 1.5-.5 1.2-3 2.2-3.4 1-.1 .3 2.5-1.3 2-2.8 3 .3 1.9-.7 2-1.7 2.4-1.2 .6 0 1 .6 1 2.2 2 .4 1-.4 1-.6 .5-3 1.5-1 .8-1.8 3.2 .3 .9 .5 .3 2 .1 1 .6 .4 1-.4 1.6-1.5 1.4-.4 3-1.7 2-.2 1 2.1 3 .9 2-.1 2.9 .2 1 1.3 2 0 3 1.4 4.4 1.9 2.6 .5 4-.5 1.3-1-.3-1.1-3-.7-1-1.1 0-.6 1-.3 2 1.8 3.9-.2 2-.7 1.1-4-.8-1 .2-.4 .5 2.4 2.9 1 .7 1-.1 2-2.2 7.9 1.7 1.4 1-.3 1-1.6 2-1.5 .8-1-.3-3-2-.9-.1-1.7 .6-.4 1 1.1 4-.5 3.9-.5 1-4 1-1-.3-2-1.5-1 .1-2 .8-8.9 1.6-3 .9-2 .3-6-1.7-1 0-3.9 1.2-2 .2-2-.3-3-1.1-5 .6-4-1.3-3.9-.2-1.2-1.3-.5-2 .6-1.9 0-1-1-3 .2-2 .9-3 0-1-2-1-.8-1 .1-1 .7-1.2 1-.9 1-.1 2 .6 2.5-3.3 .4-1-.1-1-2-5-.2-5-1.6-1.7-1-.4-2 0-.9-.9-1.1-2.5-.6-.5 .6-.2 .6-1.7 1.5-7 .9-1.4 1.8-1.6 .1-1-1.4-3-.1-2 .6-.9 2.2-2 .3-1-.5-1-1-1.1-6-3.8-.7-1.1-.1-2 .8-1.7 3-1.3-1.2-1-.8-.2-.9-1.8-.2-1.9 .5-1 1.6-1 .7-1 .8-3 .6-1 .1-1-.8-3 .9-4 0-2-.5-2.9 .3-1zM191.2 627.9l-.3 .4 1.2 3.9 1.1 .5 1.3-.5 .5-1-.2-1-.6-1-2-1.2zM191.2 660.7l-1 .4-.7 2-1.7 2 .7 1 .7 .2 .4-.2 1.9-3 .3-1zM179.4 568.6l1.9-.2 .4 .2 .3 1-2.7 1.1-3.2-.1 .4-1 1.8-.4zM246.3 605.4l.6-.6 1-.1 .9 .7 .2 1-.6 2-.5 3.4-1 1.2-1 .2-1.1-.9-.5-1.9 .3-2zM244.5 619.3l.4-.9 1 0 1.1 .9 .4 1-.2 1-1.3 .7-1-.2-.6-1.5zM242.8 626.3l1.1-.8 1 .6 .4 1.2-.4 .7-1 .3-.9-.7-.4-.3zM176.8 654.1l1.5-.8 1 .1 1.2 .7 0 1-.7 1-1.5 1-1 0-1-1 0-1z" fill="#ffa500" fill-opacity="0.056" fill-rule="evenodd"/><path d="M193.7 565.6l2.7-1 24.7 .2 7.4 3.8 3.1 2 1.1 1-.7 1.1-.1 1.8 .4 1 1.7 2 1 2 0 1-.5 1-1.5 1.9-1 2.1-2.6 1-.1 1 1.7 5.9 1.4 2 .2 1-.3 4 1 4 .5 1 1.2 1-1 .8-1-.4-1.8 2.6-2.3 1.9-.4 1 .2 2 1.3 1.8 2-1.9 1-.5 1 .1 1.2 1.5 .1 2-.3 .5-1 .4-3-.7-1 .5-1 1.2-3 .6-2.7 1.5-1.4 1-.2 1 1.1 1 4.2 1.5 1 0 .9-.5 .5-1 .3-2 .3-.6 1-.1 2 2.4 2.4 1.3 .7 1-.5 1-.6 .4-4 .8-1 .7-.6 1-.1 1 .4 1 2 2 .3 1-.7 2-1.8 2-.5 1 .3 1 2.2 2 0 1-1 3 2.5 2.9 0 1-1.3 3-.1 1 1.2 3-.7 2-4.1 4.8-1.4 1.2-1.3 1.9-1.2 .5-2 0-1 .5-2.1 2-.9 .4-2 0-6-2.6-1 .2-2.9 1.8-2 .2-1.4-1-.5-2-1.1-1.3-1-.4-1 .1-2 1.1-1 .2-.6-.7 .2-1.9-1-4 .1-2 2.4-6 .2-5 1.9-2.9-.2-1-1.1-1-1.9-.4-2 0-1-.3-.8-1.3-.2-2 .6-2 .4-.5 4-1.5 1.5-1 .3-1-1-3 0-1.9 .5-1 1.7-1.2 .4-.8 0-2-.4-1.6-1.4-2.4-.6-.5-3-.4-1-1.1 .5-2-.5-1.1-1-.7-3-.5-.9-.7-.1-1 2-1.7 .3-1.2-.4-1-3.7-5-.4-1 .4-2 0-2-1.7-5 .6-5.9 .7-3-.6-4 .4-3 .2-4.9 .4-1 2.9-3zM205.2 631.7l-.4 .5 .4 1.1 1-.1 .8-1-.8-.8zM209.1 649.1l-1 .2-4.9 3.8-.9 2 0 1 1.9 1.2 2 .2 1.9-.3 4 1.4 1 0 3-1.7 2-.6 .5-2.2-.1-1-.4-.6-1-.1-2 1.3-1-.1-2.3-1.5-1.7-2.4zM215.1 634.2l-1 .1-1 .7-.7 1.2-.1 1 .8 1.2 2 .7 1 .1 1-.5 1-1.3 .4-1.2-.2-1-1.2-.7zM224.1 633.7l-.3 .5 .3 1 1 .3 .5-1.3-.5-.8zM226 655l-2 2.1-.5 1 .6 .3 1 .1 1.1-.4 1-1 .3-1-.2-1-.3-.2zM214.1 643l-.8 1.2 .8 1.3 1-.5 .4-.8-.3-1zM237.8 638.2l.2-.3 1-.1 .7 1.4-.7 1.5-1 .5-.6-1zM237 663.1l.3 1-.3 .8-.5-.8z" fill="#ffa500" fill-opacity="0.074" fill-rule="evenodd"/><path d="M195.4 565.6l3.7-1 18.8 0 2.2 .5 3.2 1.5 3.7 3 .8 1 1.9 4.9 .1 2-1.3 2-.3 1-.8 6 1.6 6.9 1.3 3 .1 1-.7 4-1.7 4-.1 2-.9 .6-2.9 1-2 1.8-3.3 4.5-.7 5.2-3 3.2-1.4 2.6-.6 .7-1 .3-2 .2-1.3-.2-.1-1 1.5-4-.3-1-3.7-2.9-1-2.1-.8-1-8.1-4-4.7-5.9-1-2-1.4-5.2-1.6-4.8-.1-1.9 1.2-8-.5-5 .3-5 1-2.9 1.1-2 2.4-2zM213.1 615.2l-1 .5-.4 .6 .4 1 1 .4 1.3-.4 .4-1-.7-.9zM199 638.2l1.2-.4 1 .2 1 .6 .3 .6 .1 1-.4 .8-1 .4-1-.3-1.3-.9-.4-1zM222.2 650.1l.9-.5 1 0 .7 .5 .2 1-1.2 2-.7 .7-1 .3-.6-1 0-1zM213.8 667l.7 0 1.1 1-1.2 0z" fill="#ffa500" fill-opacity="0.101" fill-rule="evenodd"/><path d="M197.9 565.6l3.3-.3 .9-.7 12.8 0 1.2 .8 3 .2 1 .8 1.5 .2 1.6 1 1.9 2 1.9 5.9-1.4 5 .4 2.4 .5 8.6 .7 1.9 .4 4-.4 4-3.1 4.3-5.6 5.6-1.5 1-.9 .3-5 .1-3 .9-3.4-.3-.5-.4-2-.6-5-2.8-1.5-2.1-2.5-2.2-1.1-1.8-.3-2-.6-.7-.2-2.3-.8-1.4-.3-2.6-.7-2 1.6-8.9-.7-3 0-7 .6-.9 .5-2.5 1-1.7 .8-.8 1.2-.4 .6-.6 2.4-.3z" fill="#ffa500" fill-opacity="0.072" fill-rule="evenodd"/></g><path d="M199.1 565.6l1.1-.5 4.1-.5 9.2 0 2.6 .3 1.8 .7 2.2 .3 2 1.1 1.7 1.6 1 2 1.2 3.9-.8 6 .8 11 .6 2.9-.2 6-.9 2-4.4 5.4-2 1.8-3 2-9 1.2-1.9-.1-2-.7-5-2.4-4.9-5.2-1.3-3-1.2-4-.8-5 1-8.9-.7-7 .1-2 1.5-4.9 1.3-1.8 1-.8 2-1z" fill="#ffa500" fill-opacity="0.055" fill-rule="evenodd"/><path d="M200.6 565.6l3.6-.7 6.9-.2 3 .3 5 1.2 3 1.4 1.5 2 .7 2 .7 2.9-.8 5 1.3 14.9-.5 3 0 3-.8 2-4.1 5-3 2.4-2 1.1-8.9 1-2-.4-4-1.6-2-1.4-4-4.1-1.1-2-1.2-4-.7-3-.2-3 .9-8.9-.8-7 .2-2 1.4-4.9 1.5-2 3-1.3z" fill="#ffa500" fill-opacity="0.069" fill-rule="evenodd"/><path d="M203.2 565.6l8.9-.3 7 1.5 1.8 .8 1 1 1.6 4 .2 2.9-.7 4 .6 4 .4 6-.2 4.9-.6 3 .1 3-.9 2-3.2 4-3.1 2.7-2 .9-6 .7-1.9 0-6-2-1.7-1.3-3.6-4-2.3-6-.3-4 .7-11.9-.6-6 1.4-5.9 .6-1 1.8-1.3 3-.9z" fill="#ffa500" fill-opacity="0.114" fill-rule="evenodd"/><path d="M200.9 566.6l5.3-.7 4.9-.1 3 .4 5 1.5 1.3 .9 .9 2 .8 3.9-.6 4 .7 5 .3 6-1 6.9-.2 4-1 2-2.2 2.7-3 2.7-2 .8-6 .7-6.1-1.9-1.8-1.5-2.1-2.5-2.9-6-.4-3 .5-3.9 .7-19.9 .3-1 .9-1.2 1.5-.8z" fill="#ffa500" fill-opacity="0.179" fill-rule="evenodd"/><path d="M207.9 566.6l4 0 2.2 .4 3 1.1 1.7 1.5 1.1 4.9 0 11 .5 4-1.2 9.9-1.1 2.7-2 2.1-3.2 2.2-2.8 .9-2 .1-4.9-1.2-1.8-.8-1.1-1-1.5-2-1.9-4-.8-2-.3-2 .9-7.9 .5-11-.3-3.9 .3-1.6 1.3-1.4 2.1-1 3.6-.8z" fill="#ffa500" fill-opacity="0.266" fill-rule="evenodd"/><path d="M206.9 567.6l5.2 0 3 1.2 .8 .8 .4 1 1.4 6.9-.9 7 1 6-.6 5.9-.6 3-1.2 2-1.3 1.1-3 1.4-4 1-2.9-.8-2-1.2-1-1.1-1-1.4-1.3-3-.7-4 .9-6.9-.1-4 .6-4-.4-5.9 .3-2 .7-1 1.4-1 2.6-.7z" fill="#ffa500" fill-opacity="0.383" fill-rule="evenodd"/><path d="M206.1 569.6l4-.2 1.2 .2 .8 .6 1.6 5.3 .2 2-1.1 7 1.1 6-.2 5.9-.6 1.5-1.4 1.5-2.5 1-2.1 .3-1.9-.5-2.5-1.8-1.1-2-.3-2 1-6.9-.2-4 1-4-.4-5 .1-1.9 .9-2z" fill="#ffa500" fill-opacity="0.517" fill-rule="evenodd"/><g mask="url(#mb)"><path d="M172.5 565.6l1.9-1 3.4 0 2.5 1.3 1-.1 2.4-1.2 55.6 0 3.7 1.4 1.9 .3 9-1.7 6 0 0 109.4-2.5 1-4 0-1.5-.3-3 0-3-1.2-2-.3-4.5 .8-2.7 1-52.9 0-9.5-1.3-4 .6-.9-.1-9-2.9-1.7-1.3-.5-2 .5-1.9 1.1-2 1.4-2 .3-1-.2-1-2.5-4-2.1-5 0-1 .5-1 2.2-2.4 .7-2.5-.9-10-.7-3 .1-5.9-.8-3 .4-9 .6-2 3.4-2.9 .3-1-.2-1-3.1-5-.9-3 .4-3 1.1-3.9 1.1-2 0-1-1.8-2-.9-2 .6-5-.8-4 .9-2.9 1.2-2 .7-2 .6-.7 5-1.2 3.9 .1zM151.8 586.5l.6-.2 1 .6 .4 1.6-.4 .4-1.5-1.4z" fill="#0000ff" fill-opacity="0.024" fill-rule="evenodd"/><path d="M185.3 565.6l3.1-1 40.3 0 4.3 1.5 4-.2 2 .3 5.9 2.1 4-1 6-.3 5-1.2 0 6.2-1.4 .6-.6 .9-1 3 .4 1 .6 .4 2 .3 0 63.2-1.2 .8-.5 1-.1 1 .6 1 1.2 .3 0 26.2-2.4 1.3-1.6 .5-4-.8-3 .2-4-1.6-5.9 1.1-5 1.7-5 .3-3.9-.6-5 0-4 .6-4-.3-5.9 .2-3 .7-1.9 0-4.1-1.1-6 .6-3.9-.1-4-1.6-4-.2-4-.8-2 .1-2 .6-1.9 0-6-2.5-1.7-1-.5-1 .1-1 1.1-1.8 1-.4 1 .2 3 2.5 1 .1 2.4-1.5 .8-1 .3-1-.9-1-5.6-.8-1-1-2.7-4.2-.3-1 .3-2 .7-1.3 1-.8 2.2-.9-1.2-1-2-.8-.6-1.2 .1-1.9 1-3-.5-3-1.3-4 .2-3-.8-3 .2-2.9 .7-2.5 1-.6 3 1.3 1 0 .5-1.2 .1-1-.6-2-2.2-2-.1-1-2-5 .2-1 1.9-1.9 .4-1-.5-4 .3-3 1.8-3 1.6-2 .7-2 0-1-.9-1-1.2-.3-1 .3-.4 4-.6 .9-2 1.1-1-.3-.5-.7-.3-2 .7-3 .6-1 1.6-.9 .8-1 .8-3-.1-1-.6-1-3 .1-1.2-1.1-.1-2 1.4-3-.2-1-1-2-.2-2 .3-1.1 1-1.2 3-1.6 .6-1 1.4-1 1-.2 2.9 .7 1-.4 2.6-2.1 2.4-.6 1 .2 3 1.6 1-.2 2-1.2zM244.9 607.2l-.9 1.2 .9 .2 .4-.2 .3-1zM248.9 641.1l.3 1.1 .7 .4 1.1-.4-.2-1-.9-.3zM252.9 592.2l-.2 .2 .4 1 1.8 1.2 .7-.2 .1-1-.8-1.2-1-.5zM170.3 614.9l-2.9 2.4-.2 1 2.6 1 1.5 .3 1-.1 .5-1.2-.5-3.2-1-.6zM174.3 602.1l-1 .3-1 1 0 2 1 .7 1-.7 .4-1 .1-1zM176.3 575l-1 .9-.2 .6 .2 .5 1-.2 1.4-1.3-.4-.5z" fill="#0000ff" fill-opacity="0.028" fill-rule="evenodd"/><path d="M189.7 565.6l4.7-1 27.6 0 5 .8 6 2.2 6 .5 1.9 .5 1.2 1 1 2 .8 .8 1 .4 2 .1 2-1.1 2-.3 2.6 1.1 .8 .9 .1 1-.5 1.2-1 .5-4-.5-1.2 .8-.3 5 .5 .6 1 0 3-2.2 1-.3 3 1 4-.3 0 9.5-5-1.3-4-.2-1 .1-2 1.2-2.7 .9 1.2 2.9-.1 3 .9 1 1.7 1 .7 1 .1 3-.8 1-3 .8-2.3 1.2-1.6 1.4-.8 1.6 .1 1 .7 1.3 1 .7 2.3 .9 .7 1-.4 1-1.9 2-.4 1 .6 1.7 6-.2 1.7-.5 2.3-1.5 1-.2 1 .1 1 .6-.2 1-2.8 2.4-.9 1.6-.4 5-1.7 1.9-.6 3-1.4 2-3.6 3-.5 1 1 7 0 1-.9 1.9 .2 1 1.8 1.6 1 1.8 2.5 2.6 .7 2-.2 1.9-1 .8-4 .1-2.9 .4-1 .5-1 1.3-.5 2 .5 1.2 2 .6 1.9-1.9 1-.7 1-.2 1 .8 1 2.4 2.6 1.7 .3 1-1.1 1-1.8 .3-2-2-2-.6-1 .1-1.9 1.8-1 .3-2-.3-1 .4-2 1.7-2 .8-5 .4-3-.5-3.9 .3-3-.2-3 .4-5-.3-4.9 .3-4 .9-6-1.2-7 .5-2.9-.6-1.5-1.5-.1-1 1.5-2 0-1-.9-.6-2-.1-2-.8-1-.1-2 .4-1-.3-1.1-2.4 0-1 1-3 0-2 .5-1 2.1-2 .5-1-1.2-4-.8-.9-1 .3-2.8 1.6-2.2 2.4-1-.4-1.2-4 .3-.9 2.5-3 1.4-1.2 2.3-.8 1.5-1 2.2-2.5 .8-1.5 0-1-.8-.3-2 0-1-.5-.6-1.2 .3-1 1.3-.6 2-.5 3-1.8 .9-1.1 .3-.9-.2-1.4-1.6-2.6-1.2-1-1.2-.4-1.5 .4 .3 3-.4 1-1.4 1.1-2 .3-1.2-.4-1.1-1-.6-2 .5-1 3.3-2 .1-2-1-3.2 .2-1.8 .8-1 4-1.1 1.7-1.9 .5-.9-.3-1-3.9-4.2-.5-1.8-.3-4 .3-2 1.9-2 .5-1 1-3.9 .1-1.8-1-1.3-1-.2-.7 .3-1.1 3-1.2 1.5-2 .9-.9-.5-.7-.9-.3-1 .4-4-.3-1-3.1-1.8-.5-1.2 .5-2 .9-.5 5 3.6 1-.4 .7-2.7 1.3-2 1-.7 3-.8 .4-.5 0-1-1.2-3.9 .3-1 1.1-2 2.4-1.6zM243 583.3l-1 .5-.4 2.7 .4 1 1.9 1.8 .5-.8 0-3-.5-1.5zM244.9 621.6l-.3 .7 .2 1 .1 .3 1-.1-.1-1.2zM174.2 568.6l1.1-.7 1-.2 1 .4 1.1 1.5 .1 1-1.2 1.1-2 .4-1-.1-.6-.4-.2-1zM259.3 568.6l.6-.3 0 .3 0 .3zM259.1 601.4l.8-.3 0 2.6-1-.3-.6-1zM251.1 603.4l2.8-.6 1 0 .8 .6 .4 1 .3 2-.1 1-.4 .9-1 .5-1 .1-3.1-.5-.6-1 0-3zM167 604.4l.4-.4 1-.1 .8 1.5 .8 3-.1 1-.5 .5-1 0-1-.9-.8-1.6-.2-2zM258.6 635.2l1.3-.5 0 1.8-1.2-.3zM251.8 636.2l1.1-.1 1 .7 .5 .4 .1 1-1.6 .3-1.2-.3-.6-1zM253.8 649.1l1.3 1 .1 1-1.3 1.1-1-.5-.4-1.6 .4-.7zM259 657.1l.9-.7 0 6.5-1.1-.8-.8-2 .3-2zM167.1 658.1l.3-.3 1-.1 .4 .4-.1 1-1.1 0zM253.7 669l1.2-.2 1 .5 .4 .7-.4 1-1.3 0-1.1-1z" fill="#0000ff" fill-opacity="0.041" fill-rule="evenodd"/><path d="M194.4 565.6l3.1-1 21.8 0 3.8 1.3 3.9 .5 2 .6 4.8 2.6 1 1 .3 1-.8 3.9 .7 1.2 1 .5 3.7 .3-.1 1-1.6 2.5-.1 2.5-.9 1-2 .2-.9 .8 0 1 .9 1.1 4 1 1 .8 .5 1.1 .2 1-.7 .9-1.6 1-1 3 .1 1 1.5 .7 2-.4 1 .3 2.9 2.4 .3 1-2.2 2-4.4 3-.6 3.1-2 .8-1 1 .2 1 1.8 2 .7 3 2.3 4.2 1.4 1.8 .7 2-.3 1-.8 .4-2 .1-1 .5-1 3-3 .7-2 1.2 0 1 1 .5 2 2.4 4-.5 1.4 .6 .5 1-.6 2-1.3 1-2 .5-2-.3-1 .4-.2 .4-.5 5 .5 1.9-.1 2 .7 4-.7 4 .2 3-.3 2 .4 2 .8 1.9 0 1-.8 1.1-4 1.7-1 .1-3-.4-3.9 1-11-.6-4.9 .6-4 1.1-6-1.5-5 .4-2-.2-.8-.3-.1-1 1.2-2 .1-1-1.4-3.3-.9-.6-2-.4-.7-.6-.9-3-1.5-2-.1-1 1.2-1 4.9-.8 .9 .8-1.6 4 .1 1 .6 1 1 0 1-.8 .8-1.2 .7-3 .5-.8 1.6-1.2-.6-1-1-.3-1-1-2.4-4.6-.3-4-.4-1-2.8-3-.3-1 .7-2 2.2-3 .4-1 0-3 .6-3.9-.6-4 .9-1.4 2-.9 .7-.7-.2-1-.7-1-1.4-1-1.4-.5-1.9 0-1-.5 1.6-3.9-.8-6-.8-1.6-1-.9-1-.4-2 .8-1-.2-.4-.7-.3-1 .2-1 .5-.5 2.3-.5 .7-.6 .3-1.4-.7-3 .9-3.9 0-2-.5-1.4-2.3-2.6-.2-1 .5-1.2 1-.2 2 .3 1.2-1.9 .2-2-.9-3-.3-1.9 .3-3 .9-1 3.5-1.8zM227 627.8l-.4 .5-.2 .9 .6 1 1 .3 .7-.3 0-1-.4-.9zM193.2 625.9l-.6 .4-1.8 2.9-.4 1 .1 1 4 4 1.7 .5 1 0 .4-.5-3-3-.4-2 .5-1.9-.5-1.4zM238.5 613.3l.5-.5 1 .1 .4 .4-.2 1-1.2 .3-.7-.3zM234.6 647.2l1.4-.8 1 0 2.2 .8 1.7 .9 3.1 5 .3 1 0 1-.4 .5-.9 .5-1 0-2-.8-2.5-4.2-3-3z" fill="#0000ff" fill-opacity="0.056" fill-rule="evenodd"/><path d="M196.9 565.6l3.7-1 15.6 0 6.9 2.2 4.9 1 2.4 1.8 1.1 2-.7 3.9 1.5 5-.7 5-.1 6 .3 2.9-1.8 1.4-.9 1.6 0 9-2.1 4-.6 1.9 .3 1 1.3 1.1 1.3 1.9 2.7 2.4 1.1 1.6-.2 1-2.9 2.5-4.9 .7-1 1.3-1.3 3.4 .1 1 4.1 5.9 2.4 1.1 .8 1-.9 1-1.3 .4-.6 .6-.3 1 1.3 3-.4 1.4-1 .9-2.9 .9-1.2 .7-1.6 3-1.6 2 .4 1 1 1 1 .4 3-.1 2.9 1.2 1.9 1.5 .1 1-1.4 2-4 3-.8 3.9-.6 1-1.1 .7-1 .1-2-.6-1.5-1.2-.4-1-.2-2.9-.3-1-1.6-1.9-1-.5-1-.1-1.4 .5-.8 1 1.8 4.9-.4 1-1.2 .3-4 .1-2.9 2-2 .7-2.1-1.1-1.3-2-.1-5.9-.4-1 3-2 .5-1-.3-3 .7-.7 2-.5 3.9 .5 1-.2 1-1.2 1-.6 1 .1 1.3 .6 .7 1 .1 1-1.2 2 .1 .9 1 .3 1.5-2.2 1.9-2-.1-1-1.2-2-.8-3-.8-.9-1.5-.7-3-.2-.7-1.1 .2-1 .8-1 2.7-1.2 3-.6 1-1.1 0-.5-.4-.6-.6-.2-5 0-4.9 .7-1-.3-1-1.1-2-5.7-1-1.4 .2-1 2.5-2.9 .3-1-.1-1-.9-1.2-2-.6-2 1.1-1 0-.5-.3-.5-1 .5-1 1.5-.5 1-.8 .3-.7 .2-2-.4-1-1.1-.8-3 .6-1-.3-3.5-3.5-2.8-6.9-.8-3-1.5-3-.1-1 .9-2 .1-1-1.7-3 0-1 .9-2.9 .1-3 .5-2-.2-3 .4-3-.7-5 .6-2.9 1.3-2 1.5-.9zM199.3 644.2l.9-.6 1 0 4.5 1.6 1 1 .4 1-.3 1.9-1.6 1.5-1 .2-1-.3-1.5-1.4-2.1-2.9-.5-1zM194.2 660.1l1-.9 1 0 1.7 .9 .2 1-2.7 1-1.2-.1-.3-.9z" fill="#0000ff" fill-opacity="0.074" fill-rule="evenodd"/><path d="M199.3 565.6l3.6-1 11.2 .2 5 1.2 5 2.1 2.2 .5 1.6 1 .5 1 .1 1-1.4 3.9 .1 2-.6 4 .4 1.7 1.1 1.3 .3 1-1.8 6-.2 6.9-.8 5-1 2-2.5 3.1-3 .9-1.8 1-3.2 3.9-1 .5-2 .2-1-.2-3-1.4-.9 .2-.8 .7-.5 2-.7 .9-1-.6-.6-1.3-1.4-1.4-1-.4-1 0-3 .4-1-.7-.6-.9-4.2-7.9-.8-4 0-4-1.2-4 .9-3.9-.5-7 .2-3-.4-4 1.3-3.9 .5-1 1.8-1.4 4-1.8zM217.8 618.3l1.3 .4 1 1.6-1 1.1-1.5-.1-1.1-1 .6-1.6zM210.9 633.2l1.2 .4 .4 .6 .3 1-.7 1.1-1 .2-1.6-.3-.8-1 1.4-1.6zM217.3 644.2l1.8-.8 1 .4 1 1.4-.2 1-.8 1-1 .4-1-.2-1.1-1.2-.3-1z" fill="#0000ff" fill-opacity="0.101" fill-rule="evenodd"/><path d="M201.9 565.6l4.3-.3 7.9 .2 1 .8 3.4 .3 .6 .6 1.4 .4 .6 .6 1.2 .4 1.8 2 .3 1 0 3.9 .7 2 .1 2-.8 3-.2 16.9-1 4-1.1 1.6-1.5 1.4-1.5 1-3 1.3-3 2.7-1 .4-5-.4-4.9 .2-2-.9-2.3-.3-1.7-1.6-2-2.5-2-3-.2-.9-1.1-9 .1-1.9 .6-2-.6-3-.1-10 .2-3 .6-.9 .4-2 1.9-2 1.2-.5 .6-.5 1.4-.3 .7-.7 3.3-.3z" fill="#0000ff" fill-opacity="0.072" fill-rule="evenodd"/></g><path d="M202.9 565.6l1.3-.6 3.9-.1 3 .2 6 1.1 2 .8 2 1.2 1.2 1.4 1 2 1.1 7.9-.9 5 0 12.9-.3 3-.5 2-1 2-1.6 1.6-8 4.6-1 .3-7.9 0-2-.6-3-1.4-2-1.8-2.3-2.7-1-2-.9-4-.4-5 .5-3.9-.8-13 1.2-4.9 1.1-2 1.6-1.4 2-1.2 3-1z" fill="#0000ff" fill-opacity="0.055" fill-rule="evenodd"/><path d="M204.6 565.6l2.5-.2 5 .4 3 .5 4 1.3 1.4 1 1.4 2 1.4 7.9 0 2-.8 4-.1 13.9-.9 4-1.1 2-1.3 1.2-6 3.3-3 1.1-6.9 0-3.5-1.6-2.5-2-2.6-3-1-2-.7-3-.2-5 .3-3.9-.9-12 1.4-5.9 1.2-2 2.6-2 3.9-1.3z" fill="#0000ff" fill-opacity="0.069" fill-rule="evenodd"/><path d="M202.2 566.6l2-.5 2.9-.2 5 .4 4 .9 3.1 1.4 .9 1 .7 2 .7 7.9-.4 3 .3 4-.1 5-.4 6.9-1.2 4-1.2 2-1.3 1-5.1 2.6-3 1-4.9-.1-1.8-.5-1.2-.8-5-4.6-1.6-2.6-.5-2 .3-6-1-14.9 .9-4 1.1-2.9 1.8-2 1.8-1z" fill="#0000ff" fill-opacity="0.114" fill-rule="evenodd"/><path d="M205.5 566.6l4.6 .2 4 .7 3 1.1 1.2 1 .6 2 0 7.9 1 7-1 10.9-1.6 5-1.2 1.5-2.2 1.5-3.8 1.8-2 .5-2.9-.3-2-.9-2.1-2.1-3.9-3-1-1.5-.5-1.5 .7-6-1.1-9.9 0-3 1.3-6.9 1.4-3 1.2-1 4-1.6z" fill="#0000ff" fill-opacity="0.179" fill-rule="evenodd"/><path d="M205 567.6l3.5 0 4.7 1 2 1 .9 .9 .6 2.1-.7 6.9 1.2 6 .2 3-1.6 10.9-.7 1.8-1 1.2-3.2 2-2.8 .9-1.9-.2-1-.6-5.8-4.1-.8-1-.6-2 1.4-5-1-4.9 0-4-.4-3 .8-7 1.1-2.9 .9-1 1.5-1z" fill="#0000ff" fill-opacity="0.266" fill-rule="evenodd"/><path d="M204.8 569.6l2.3-.4 2 .4 1.6 1 1 1 1 1.9-.6 5 .6 4-.1 4 .4 3-1.1 4.9-.1 3-.3 1-1.4 1.6-2 1.1-1 .1-1.9-.6-1.9-1.2-1.3-2-.1-1 .9-4-.2-1.9-1.3-3-.1-1 .4-3-.1-4 1.3-6.9 1-2z" fill="#0000ff" fill-opacity="0.383" fill-rule="evenodd"/><path d="M195.7 566.3l2.2-.6 9-.5 7.5 .3 5.8 .8 0 1.6-.6 1.5 .2 1.5 .6 1.5 0 1.5-.8 1.5-.3 1.5 1.2 3 .2 1.5-.1 1.5-.8 3 .1 1.5 1.7 3-1.6 9.1-1 1.5-2.1 1.5-2.5 2.8-1.5 1-3 .8-3 1.6-1.5-.5-4.5-3.8-1.8-.4-1.1-1.5 .2-1.5-.2-1.5-2.2-6.1 .3-3-.4-4.5-.3-1.5 .9-3-.5-4.5 1.5-3-1.6-4.5z" fill="#fff" fill-rule="evenodd"/><path d="M195.1 566.3l1.3-.7 1.5-.4 9-.3 9.1 .3 4.5 .7 1.1 .4-.4 4.6 .3 1.5-.2 1.5-.9 1.5-.3 1.5 1.1 3 .1 1.5-.7 4.5 .2 1.5 1.7 3-.1 1.5-1.3 4.6-.5 3-1.6 2.5-1.5 1.1-3.1 3.3-1.5 .9-3 .7-3 1.5-1.5-.5-4.5-3.8-3-1-.8-1.7 0-1.5-.6-1.5-.2-3-1.2-3.1 .3-3-.3-4.5-.4-1.5 .8-3-.1-1.5-.8-3 .5-1.5 1.2-1.5 0-1.5-.9-1.5-.3-1.5z" fill="#ffa500" fill-opacity="0.070" fill-rule="evenodd"/><path d="M196.6 566.3l1.3-.6 1.5-.2 7.5-.5 7.5 .4 2.9 .9 .1 4.6 1.3 1.5 .1 1.5-.8 1.5 0 1.5 1.6 4.5 .1 1.5-1.3 3 .1 1.5 1.3 3-.5 1.5 .4 3.1-.2 3-.5 1.5-2.3 1.5-2.5 3-1.3 1-1.5 .4-3-.3-1.5 1.6-1.5 .2-3-2.7-2.9-1.7-.3-3-2.2-4.5-.3-1.6 .3-1.5-.2-6-.4-1.5 1-3 1.2-6-.1-1.5-1.8-4.5z" fill="#ffa500" fill-opacity="0.075" fill-rule="evenodd"/><path d="M198.1 566.3l8.8-1.2 7.5 .7 1.4 .5-.1 3.1 .5 3-.2 3 1.4 6-.8 3 .1 4.5 .8 4 .8 2.1 0 1.5-.2 1.5-.6 .7-1.5 .9-3.1 3.6-1.5 .6-3-.6-3 1.3-1.5-.7-2.9-2.8-.8-3-1.9-3-.3-1.6 .3-1.5-.3-3 .2-4.5 .9-1.5 1-7.5-.2-1.5-1.7-4.5z" fill="#ffa500" fill-opacity="0.105" fill-rule="evenodd"/><path d="M201.7 566.3l5.2-1 7.6 1 .1 3.1 .6 3-.2 4.5-.4 1.5 1.4 3-.5 3 0 4.5 .1 1.5 1.3 4.6-.3 1.5-2.2 2.1-1.1 2.4-1.9 1.5-3-.6-3 .6-1.5-.7-.8-.8-.7-1.4-.9-3.1-1.4-1.5-.7-1.6-.1-4.5 .7-3 1.6-3-.1-1.5-.7-1.5 .6-4.5-.6-3 .1-1.5 .7-1.5z" fill="#ffa500" fill-opacity="0.143" fill-rule="evenodd"/><path d="M203.8 566.3l1.6-.6 1.5-.2 5.3 .8 0 1.6 1.8 3 .3 1.5-.4 4.5-1.2 1.5-.3 1.5 .5 1.5 1.5 .9 .1 6.6 .9 4.5-.6 1.6-1.6 1.5-1.8 4.5-3-.6-1.5 .5-1.6 .1-1.7-1.5-.5-3-2.4-3.1-.2-3 .5-3 2.1-4.5 .1-1.5-1-1.5-.3-1.5 .9-3 .1-3 .7-3z" fill="#ffa500" fill-opacity="0.197" fill-rule="evenodd"/><path d="M204.6 566.3l2.3-.6 3.6 .6 .3 3.1 2.2 1.5 .5 1.5-.3 3-.5 1.5-1.5 1.5-.2 1.5 .4 2.1 1.9 2.4-.1 1.5 .9 6-.1 1.5-1.4 1.6-1.2 2.2-1.5 1.1-1.5 .4-1.5 .8-1.5 .1-.9-1.6 0-1.5-.6-1.3-1.9-1.8-.4-1.5 .8-1.5 .2-1.5-.3-1.5 .4-1.5 2.2-3 .3-1.5-.4-1.5-.9-1.5 .5-1.5 2.2-1.5 .5-1.5-.4-1.5-1.3-.6-.6-.9z" fill="#ffa500" fill-opacity="0.283" fill-rule="evenodd"/><path d="M205.4 566.3l1.5-.3 2.3 .3 0 1.6-.8 1.3-1.5 .8-.9-.6-.6-1.5zM209.3 572.4l.6-.5 1.5-.3 .8 .8 0 3-.8 1.4-1.5 .8-1.3-.7-.4-1.5 .1-1.5zM207 579.9l1.4-1.4 1.5 1.1 .4 1.8-.4 .8-1.5 .6-1.5-1.3zM203.9 585.9l1.5-.9 1.5 .1 1.5 1.1 3 .2 .9 1 .5 1.5 .2 3-2.2 3.1-.9 1.7-1.5 .2-1.2-.4-.7-1.5-2.6-1.6-.7-1.5 1.1-1.5 0-1.5-.7-1.5zM208.4 593l-.3 .4 .3 .2 .5-.2z" fill="#ffa500" fill-opacity="0.421" fill-rule="evenodd"/><path d="M206.4 566.3l1.5 0 0 1.6-1 .6-.5-.6zM209.9 575.4l0-1.2 .2 1.2-.2 .1zM205.3 587.4l.1-.2 1.5-.1 1.5 .4 1.5 0 1.5 .8 .4 .6-.4 2.2-4.5-.6z" fill="#ffa500" fill-opacity="0.682" fill-rule="evenodd"/><path d="M195.6 566.3l2.3-.6 7.5-.5 9 .4 5.4 .7 .3 4.6 .5 1.5-.1 1.5-1.5 1.5 0 1.5 1.7 4.5 0 1.5-.2 1.5-1.6 3 .6 1.5 .3 1.5-.6 3 .6 4.6-.5 1.5-1.8 2.5-2.3 2-.8 1.7-1.3 1.3-6.2 1.7-1.5-.1-6-3.7-1.5-.5-1.4-1.9-2.3-6 .6-1.5 .1-1.6-.7-1.5-.2-1.5 1.1-3-1-3 0-3-.7-1.5-.3-1.5 1.8-4.5 .6-4.5z" fill="#fff" fill-rule="evenodd"/><path d="M195.1 566.3l2.8-1.1 7.5-.3 10.6 .3 3 .5 1.5 .6 0 3.1 .8 3 0 1.5-1.3 1.5-.2 1.5 1.9 4.5-.5 3-1.3 3 .4 1.5-.6 4.5 .7 4.6-.5 1.5-2.3 3-1.6 1.5-1.6 3.1-6 1.4-1.5 .7-1.5-.1-5.7-3.6-1.8-.6-1-.9-3-6-.4-1.5 .7-3.1-.5-1.5-.1-1.5 1-3-.7-1.5-.2-3-1.2-4.5 1.7-4.5 .2-3 .6-1.5z" fill="#0000ff" fill-opacity="0.070" fill-rule="evenodd"/><path d="M196.9 566.3l1-.5 1.5-.3 6-.5 7.5 .3 4.9 1 0 1.6 .5 1.5-.1 1.5-.8 1.5-.2 1.5 .1 3 .1 1.5 1.1 1.5 .4 1.5 0 1.5-.3 1.5-1.3 3 .9 3 0 1.5-1 3.1 .4 3-.3 1.5-.9 1.5-2 1.5-2.8 3-1.7 1.1-1.5 .5-1.5 .2-1.5-.4-3-1.4-4.5-2.9-.8-1.6-1-4.5 .2-3.1-.7-3 .9-3-1-3 1-3 .1-1.5-.7-3 1.2-6z" fill="#0000ff" fill-opacity="0.075" fill-rule="evenodd"/><path d="M198.4 566.3l7-1.1 6 .4 3.9 .7 0 1.6 .7 3-.3 1.5 .4 3-.5 3 .6 1.5 1.4 1.5 .2 1.5-1.5 4.5 .2 4.5-1.7 3.1 .8 3-.2 1.5-4 4.1-3 2-1.5 0-4.5-1.4-3-2.7-.9-2-.7-4.5 .1-3.1-.5-1.5 .3-4.5-.6-1.5 .1-1.5 .8-3-.2-4.5 1.3-4.5-.7-3z" fill="#0000ff" fill-opacity="0.105" fill-rule="evenodd"/><path d="M201.1 566.3l2.8-.8 1.5-.1 4.5 .3 3.4 .6 0 1.6 1.2 3 .7 4.5-.3 1.5-.8 1.5 .2 1.5 1.7 1.5 .8 1.5-1.6 4.5-.3 4.5-1.7 1.5-.5 1.6 1.4 3-.3 1.5-2.4 2.6-3 1.3-1.5-.7-1.5-1.5-1.5 1.4-1.5 .1-1.6-1.7-.6-1.5-.3-6.1-1.3-3 .2-4.5-.5-1.5 0-1.5 .7-3 .2-4.5 1.8-4.5z" fill="#0000ff" fill-opacity="0.143" fill-rule="evenodd"/><path d="M202.3 566.3l1.6-.5 1.5-.2 5.7 .7 0 1.6 2.3 3 .3 1.5 .4 3-1.3 3 1.6 3.3 1.2 1.2-.2 1.5-1.4 3-.2 3-.8 1.5-1.9 1.5 .1 1.6 1.2 3-1 2-1.5 .4-1.5-.1-3-1-3 1.6-.8-1.4-.3-3 1.9-3.1-2.3-1.5-1.1-1.5-.2-1.5 .5-1.5 0-1.5-.8-1.5 0-1.5 .8-1.5 .3-4.5 2-7.2z" fill="#0000ff" fill-opacity="0.197" fill-rule="evenodd"/><path d="M203.2 566.3l2.2-.4 3.7 .4 0 1.6-.9 3 .2 .4 3 .1 .4 1-.8 1.5 0 1.5 .5 3 2.6 4.5-.2 1.5-1.1 1.5-.4 4.5-3 3 .9 3.1-1 1.5-.9 .3-3-.3-1.5 .3-.7-.3-.5-1.5 1.4-1.5 .7-1.6-.9-2.3-1.5-.7 1.7-1.5 0-1.5-2.9-3 .6-6 1-3 0-3 .6-3z" fill="#0000ff" fill-opacity="0.283" fill-rule="evenodd"/><path d="M204.4 566.3l2.6 0 0 1.6-.8 1.5 .4 3 .3 .8 1.6 .7 .4 1.5-.3 1.5 .2 1.5 1.1 .3 1.5 1.1 1.1 1.6 .4 1.5-1.8 3 .1 3-.6 1.5-3.2 1.5-.3 1.5 .4 3.1-.6 .1-1-.1 .9-3.1-.1-1.5 1.4-3-.2-1.5-1-1-3-1.6-.7-1.9 .6-4.5 1.3-3-.4-1.5-.8-.9-.2-.6 1.2-3-.5-1.5z" fill="#0000ff" fill-opacity="0.421" fill-rule="evenodd"/><path d="M206.3 581.4l.6-.4 3-.7 1.5 .8 .5 1.8-2 2.4-1.5 0-1.2-.9-1.1-1.5z" fill="#0000ff" fill-opacity="0.682" fill-rule="evenodd"/><path d="M195.7 566.3l2.2-.6 9-.5 7.5 .3 5.8 .8 0 1.6-.6 1.5 .2 1.5 .6 1.5 0 1.5-.8 1.5-.3 1.5 1.2 3 .2 1.5-.1 1.5-.8 3 .1 1.5 1.7 3-1.6 9.1-1 1.5-2.1 1.5-2.5 2.8-1.5 1-3 .8-3 1.6-1.5-.5-4.5-3.8-1.8-.4-1.1-1.5 .2-1.5-.2-1.5-2.2-6.1 .3-3-.4-4.5-.3-1.5 .9-3-.5-4.5 1.5-3-1.6-4.5zM199.2 566.3l7.7-.7 8.4 .7-.1 3.1 .5 3 0 6 1.1 3-.9 3 0 4.5 1.8 6.1 0 1.5-.4 1.5-2.1 1.5-2.3 3-1.5 .7-3-.6-3 1-1.5-.7-2-1.9-1-3.4-1.9-2.6-.4-1.6 0-4.5 .8-4.5 1-1.5-.4-3 .7-4.5-1.2-4.5zM204.5 566.3l2.4-.3 3.8 .3 0 1.6 .6 1.5 1.9 1.5 .4 1.5-.3 3-.4 1.5-1.4 1.5-.3 1.5 .4 1.5 1.9 3 .4 6 .4 1.5 0 1.5-1.5 1.6-1.4 2.7-1.5 1-1.5 .3-1.5 .8-1.5 .1-1.2-1.9 0-1.5-.3-.7-.5-.8-1.6-1.6-.4-1.5 1-3-.3-1.5 .5-1.5 1.9-3 .3-1.5-1.4-3 .4-1.5 2.1-1.5 .8-1.5-2.2-3zM205.8 566.3l3 0 0 1.6-.4 .7-1.6 .8-1-1.5zM211 572.4l.5 0 .3 3-.4 .6-1.5 .8-1.1-1.4 .1-1.5 1-1.3zM207.9 579.9l.5-.5 1.5 2-1.5 .7-.8-.7zM204.8 585.9l.6-.4 1.5 .4 1.5 .8 1.5 0 1.5 .4 1 1.8 0 1.5-.2 1.5-.8 1.1-1.4-1.1-1.6-.3-.9 .3-2.1 1.6-1.5-1.4 1-1.7-.1-1.5-.7-1.5z" fill="none" stroke="#ffa500" stroke-width="1.3"/><path d="M195.6 566.3l2.3-.6 7.5-.5 9 .4 5.4 .7 .3 4.6 .5 1.5-.1 1.5-1.5 1.5 0 1.5 1.7 4.5 0 1.5-.2 1.5-1.6 3 .6 1.5 .3 1.5-.6 3 .6 4.6-.5 1.5-1.8 2.5-2.3 2-.8 1.7-1.3 1.3-6.2 1.7-1.5-.1-6-3.7-1.5-.5-1.4-1.9-2.3-6 .6-1.5 .1-1.6-.7-1.5-.2-1.5 1.1-3-1-3 0-3-.7-1.5-.3-1.5 1.8-4.5 .6-4.5zM199.2 566.3l6.2-.7 9.1 .7 0 1.6 1 3 0 3 .3 1.5-.2 1.5-.6 1.5 .5 1.5 1.6 1.5 .3 1.5-1.5 4.5 .1 4.5-2 3.1 1.1 3-.3 1.5-1.1 1.5-2.3 2.1-3 1.8-1.5 0-4.5-1.2-2.8-2.7-.5-1.5-.6-4.5-.1-3.1-.5-1.5 .2-4.5-.5-1.5 0-1.5 .8-3-.1-4.5 1.5-4.5zM203 566.3l2.4-.3 4.2 .3 .3 3.1 2 1.5 .9 1.5-.9 1.5-.1 4.5 2.6 4.5-.1 1.5-1 1.5-.5 4.5-3 3.1 .9 3-.5 1.5-1.8 .8-3-.5-1.5 .4-1.5-.3-.1-1.9 2.2-3.1-.6-1.6-3-1.4-.2-1.5 .2-.5 1.9-1-2.2-3 .7-3 0-3 1-3 .9-6zM204.9 566.3l1.4 0 0 1.6-.8 1.5 .6 3-.7 1.3-1.2-1.3 1.2-3-.5-1.5zM206 575.4l.9-1 1.5 1-1.4 3 2.9 .7 1.5 1 .8 1.3 .4 1.5-1.9 3 0 3-.8 1.6-1.6-.1 .4-1.5-.2-1.5-1.6-1.6-2.6-1.4-.6-1.5 1.2-6z" fill="none" stroke="#0000ff" stroke-width="1.3"/></g><g clip-path="url(#c52)"><g mask="url(#mo)"><path d="M261 565.6l1.1-1 62 0 1.8 2 .6 1 .3 2-.3 5.9 1.3 4-1.5 5 1.3 6-1 5.9 .3 2 1.2 3 .2 2-.9 5-2.6 3.9 .1 1 1.6 3 .6 2 0 4-.4 3 .4 3.9-1.3 3-.1 1 .8 3 0 1-.5 1.1-3.1 1.9-.6 2 .6 1 2.1 1 .9 1 .9 2.9 .1 2-.4 4 1 4-1.2 4 1.8 3 .5 2.9-.4 2-1.2 1.7-1 .4-3.9 .9-3.8 2-55.9 0-2.1-2 0-106.9z" fill="#ffa500" fill-opacity="0.024" fill-rule="evenodd"/><path d="M262.9 565.6l1.9-1 57.2 0 2 1.6 1.1 1.4 .6 2-.3 4.9 .5 5-.8 5 1.1 6-.7 5.9 .6 6-.6 5-3.7 4.9 .1 1 2.7 5-.2 2-.4 .8-1.7 1.2-.3 1 .2 3-.5 2.9 1.6 6-.3 1.1-3 1.3-.5 .6-.7 2-.8 1.1-.4 1.9 .2 3-.6 2.9 .3 2 .5 1 1 .2 1-.5 1-1.7-.2-2.9 .6-1 1.6-.3 1.4 1.3 .4 1.9-.8 2.7-1 1.2-2.2 1.1 .6 1 2.6 .9 1.1 1.1 .3 1-1.4 3 0 1 2 4 .1 .9-.2 1-.9 1.3-6.5 3.7-3.5 1-5-.3-4.4 .3-3.5 .8-6-.9-2 .2-3 .9-25.3 0-1.5-.3-2-1.3-1.7-2.4-.3-1 0-101.9z" fill="#ffa500" fill-opacity="0.028" fill-rule="evenodd"/><path d="M265.5 565.6l5.6-1 49.3 0 2.5 2 1.4 2 .3 2 0 8.9-.6 5 .9 6-.4 4.9 .1 5-.8 6-.3 1-1.3 2-5.6 5.9-.4 1-.3 3-1.4 3-.4 3 .3 2 1.2 2.9 0 1-1.1 3 .2 11-.6 2-1.4 2.9 .8 2 .3 3 .9 2 .2 4 1.6 3-.9 3.9 .7 3-1 1-1.3 .2-3-.3-4.9 .4-4 1-8-.6-5.9 1.6-15-.3-3.9 .2-5-.7-1.9-1.5-.6-1-1.1-4.9-.1-2 .3-3-.1-7-.5-9 0-9.2 1-4.7-1-10.1 0-9.9 .6-3.8 .4-8-1-4.9 0-5.5 .4-3.5-.4-12.9 .6-3 1.2-2 1.2-1.1zM308.1 647.6l-.6 .5 .6 .2 .3-.2zM310 632.2l-.3 0 .3 .2 .1-.2zM311 655.1l-1.9 1-.3 1 .3 1 .9 .4 1.9-1.4 .5-1-.4-.6z" fill="#ffa500" fill-opacity="0.041" fill-rule="evenodd"/><path d="M270.8 565.6l5.8 0 8.6-1 33.7 0 2.1 1.4 1.7 1.6 .9 2 0 9.9-.4 6 .7 6-.3 8.9-1 6-1 2-.9 1-5.1 3.9-.9 1-1 4-.5 1-2.2 2-1.7 1 .1 1 .6 .7 .6 1.3-.3 2-1 1-2.2 1.2-1.3 1.7-.1 3 .4 .7 2.1 1.3 .8 1 .4 3-.8 2-2.5 1.4-1.9 4.5-.8 4 .3 1 1.5 2 1.1 5-.2 1.1-1 .9-2.1 1-.9 1 0 1 1.5 1.9 .8 2-.2 1-.6 1-1.5 .9-3 .1-5-.7-5.9 1.9-19.9 .1-4-.8-1-.8-.8-1.7-.9-4.9 .2-11-.9-14.9 1.3-8-.9-11.9 0-8 .5-3.9 .2-8-1-7 .6-5.9-.2-14.9 1-3 1.9-1.7 2-.7zM303.1 637.2l-1.1 1 .4 1 .7 .5 1-.5 0-1zM306.1 622.3l-1.1 1 1.1 .5 1.2-.5-.1-1z" fill="#ffa500" fill-opacity="0.056" fill-rule="evenodd"/><path d="M283.8 565.6l4.4-.3 4.1-.7 24.8 0 3.6 2 1.7 2 .5 2-.5 14.9 .7 5-.4 9.9-1.2 6-1.2 2-2.3 2-5 2.9-1.7 2-.3 .8-1 0-1.1-.8-2.8-.4-1.1 .4-.7 1-.2 1.4-1 .6-2.5-2-2.5-1.2-1-.1-.6 .3-.4 .7 0 2.5 .4 1.8 .6 1.1 2.2 .9 .3 1-.5 .2-.8 1.8 .8 5.8 3-2.7 1 1.1 .1 1.7-.3 1-.8 .8-2 .2-.7 9-1.5 4 .3 1 1.4 1.9-.1 1-1.5 3-2.9 2.2-.5 .8-.5 1 0 1 1 .8 2 .1 .8-.9 .3-3 .9-.9 1 .2 1 .7 .6 1 .9 3 0 1-.5 .7-1 .5-2 .3-.9 .5-1.1 2-1 1.1-2 .3-.3 .6 .3 .9-.2 1-1.8 1-2.1 2-1.8 1-11 .3-4-.4-3.9 .4-3-.2-2-.9-.7-1.2-1-4.9 .2-11-1-14.9 .1-2 1.4-7-1-6.9-.2-4 0-8 .7-4.9 0-7-1-7 .7-5.9-.3-14.9 .7-2 .7-1 1.3-1 1.4-.6 5-.8 5.9 .1zM295.7 667l1.4-.9 1 .1 2 1.1 .6 .7 .4 1.2-1 1-2.5-.2-1.5-1-.8-1z" fill="#ffa500" fill-opacity="0.074" fill-rule="evenodd"/><path d="M290.5 565.6l6.6-1 18 0 3.9 1.5 1.8 1.5 1.1 2 .4 3-.6 12.9 .7 6.9-.2 6-.4 3-1.2 5-1.5 2-2.1 1.6-3.4 1.3-2.6 1.5-1.9 .5-4 0-3 .9-1 0-4-1.2-2 0-1 .3-1.5 2-.1 1 .5 3-.2 2-.5 2-1.5 3-.1 2.9-.7 3 1.2 4 0 2-1 1.6-1 0-3-1.1-1 .5 .5 3 .5 .9 4 1.4 2.4 2.7 .6 1.9-1.1 .8-3.9 1.3-2 1.4-1.3 1.5-.2 1 1.5 2.3 4 2.2 1.1 1.5-1.7 5.9-1.4 2.5-1 .8-1 .2-4-.3-5 .9-4-.8-3.9 .9-2-.1-1-.2-1.2-.9-.8-2-.7-2.9 .2-4-.5-3 .6-4-.7-5-.6-9.9 .4-3 1.4-4 .3-2-1.4-6.9-.3-4-.1-8 1-4.9-.3-4 .1-4-1-6 .7-5.9-.2-4 .2-4-.5-5 .2-1.9 1.2-2.4 1-.8 2.1-.8 3.9-.6 6.9 .1zM285.2 613.3l-.8 1-.3 1 .1 1.2 1 .7 2.7-1.9 .2-1-.9-1.2-1-.2z" fill="#ffa500" fill-opacity="0.101" fill-rule="evenodd"/><path d="M294.4 565.6l6.7-.3 1.2-.7 8.9 0 1.8 .7 3 .2 1 .9 1.2 .2 1.8 1.5 1 1.3 .1 14.1-.6 2 0 1 .5 .9 .1 1.1 0 11.9-.9 2-.2 2.3-.6 .7-.4 1.3-2.9 2.7-2.1 .2-.9 .8-2.1 .3-.9 .6-1 .2-8 .2-3.8-.4-2.2-.6-3.9 .2-4-2-2-.2-3-1.7-1 0-.3 .4-.2 4.9-1.1 5-1.4 .6-2-.1-.6 .5-.7 2-.7 .6-5.9 2-2 .3-1-.7-.3-1.2-.2-4 .2-3-.4-3 .2-.9 .5-1 3-.7 2.5-2.3 .6-1-.2-1-.9-1-1-.1-2 1.5-1 0-1.1-1.4 0-5-.2-2-.9-2 0-2.9 .9-4 0-6 .3-1.2 .6-.8-1.6-3.8 0-3.6 .8-1.5 .9-1 2.3-1.1 11.9-.2 2-.8 5-.2 1-.2 1-.6 3.9-.2zM279.8 623.3l1.4-.7 1 .2 2.6 1.5 1.1 1 .5 1-.2 1.5-1 .8-1 .1-2-.8-1 .2-1 .7-1.5 1.4-1.1 2-.5 6 1.1 2.1 1 .7 1 .3 .6 .9-.4 1-1.2 .6-2-.6-2 .1-3.9 1.8-2 .1-1.3 1-.9 1.9 0 1 .3 2 .5 1 1.4 1.2 1 .2 2-1.5 .2 .1 .7 1.1 1.3 3.9 1 1 1.7 .6 3-1.3 2 .3 .8 1.4 0 2-.8 1-3-1-4 .6-1.9-.6-1-1.5-1-.5-.2 5 .4 2.9-1.2 1.6-1 .5-1 .1-1-.6-1.4-2.5 0-2 .5-2-1.3-3 .1-3 .9-2 .1-2-.9-2.3-1.2-5.6 .1-7 1.1-1.4 4-1.5 2-.4 1.9-1.7 .4-1-2.9-2 3.8-2.9 3.7-1.8zM278.2 648.1l1 .3 1 2-1 .5-1.2-.8-.3-1z" fill="#ffa500" fill-opacity="0.072" fill-rule="evenodd"/></g><path d="M297.4 565.6l2.7-.6 5-.3 8.9 .3 1.2 .6 1.8 .3 2 1.1 1.4 1.6 .9 3 .2 1.9-.9 13 .9 5-.3 6.9-.8 4-1.7 4-1.7 1.8-3 1.5-4.9 1.2-5 .4-12-1.5-10.9-5.4-5-.7-3.9-1.9-1.9-1.4-2.1-2.6-2-1-1-1.5-.3-1.9 .2-1 1.1-1.1 3 .9 1-.1 .9-.6-.1-1-.8-1.4-1-.6-2 .6-1-.3 0-5.8 1-.3 .6 .8 .1 1 .6 1 .7 .5 1 0 1.1-1.5 0-6 .9-.7 2.9 .9 1 0 1-.6 .3-.6 0-1-.3-.6-.6-.4-3.4 .3-2.9-1.8-1 .1-2 2.2-1 .1-1-1-.2-1.9 .2-1.1 1.1-1.8 1.3-1 3.6-.9 1.9-.1 5 .9 1-.2 5-2.1 5-.4 2.9-.9zM270.8 610.4l.5-.6 1 .1 .3 .5 .2 .9-.5 1.1-1-.1-.6-1zM265.1 639.2l.2-.6 1-.2 .9 .8 .4 1-.1 1-1.2 2.3-1-.5zM270.7 640.2l1.6-.3 .4 .3 .3 1-.3 1-1.4 .8-1.5-.8-.2-1zM267.3 657.1l0 1.2-.7-.2z" fill="#ffa500" fill-opacity="0.055" fill-rule="evenodd"/><path d="M300.4 565.6l4.7-.6 7.9 .4 3 .7 2 .9 1 .8 1.2 1.8 .6 3.9-.7 13 .7 5.9-.3 7-.9 3-1.7 4-1.9 1.7-2 .9-4 .9-4.9 .6-2 0-8-1.4-4.4-1.7-9.5-5.8-3-1.4-5-1.3-.6-.5-.3-1 .2-1 2.2-3 .3-1-.5-2.9 .2-1 2.5-2.7 1-.5 2-.1 1-.6 1-1.7 0-1.7-1-.8-1-.4-.5-.5-.1-1 .2-3 1.1-4.9 .6-1 1.3-1 2.4-.8 3-.3 4.9-1.2zM271.8 570.6l1.4-.5 2 .4 .9 1.1-.1 1-.8 .6-1 .2-1-.5-1.2-1.3z" fill="#ffa500" fill-opacity="0.069" fill-rule="evenodd"/><path d="M304.4 565.6l8.6 .3 4 1.2 1.9 1.5 .5 1 .7 3.9-.3 8-.4 5 .7 5 .1 2.9-.3 4-.7 3-2.2 4.2-2 1.9-3 1.1-6.9 .9-3-.3-6-1.6-4.2-2.2-4.3-3-.6-1-.2-2-.6-1.2-1-.8-3.5-1 .6-2 .2-2-.9-2.9-.1-1 3.2-7-.5-1.9-1.4-2.1-.4-2 .5-3.9 1.2-2 1.1-.6 7.9-2.1z" fill="#ffa500" fill-opacity="0.114" fill-rule="evenodd"/><path d="M301.1 566.6l5-.5 7.9 .6 2.2 .9 1.4 1 1 2 .5 3.9-.2 6-.5 6 .8 6.9-.3 5-.9 3-2 3.1-1.8 1.9-2.2 .9-4.9 .6-4 0-2-.5-4-1.7-3.8-2.3-2-2-1.1-1.5-1.1-2.5-2.8-3-.5-1-.9-3.9 .1-2 .4-1 2.1-3 .6-2-.5-2-1.3-2-.7-2 0-1 .6-1.6 2.2-2.3 2.5-2 3.1-1z" fill="#ffa500" fill-opacity="0.179" fill-rule="evenodd"/><path d="M300.9 567.6l5.2-.7 6.9 .5 2.6 1.2 1.2 2 .7 5.9-.4 9 .7 7.9-.3 4-.8 3-1.7 2.7-2 1.8-2 .8-3.9 .4-5-.7-2-.7-3.4-2.3-2.1-2-1.6-2-1.4-3-.3-3 .8-4.9-.2-4 .6-5-.6-3 .9-4.9 .8-1 1.5-.7z" fill="#ffa500" fill-opacity="0.266" fill-rule="evenodd"/><path d="M303.1 568.6l3-.5 5.7 .5 2 1 .5 1 .9 6.9-.1 6 .5 11.9-1 4-1.1 2-1.5 1-2.9 1-2-.1-6-1.7-4.5-4.2-1.4-2 .1-2 1.9-7.9-.4-5 .4-5 1.6-3.9 2.3-2z" fill="#ffa500" fill-opacity="0.383" fill-rule="evenodd"/><path d="M306.9 572.6l1.2-.5 1 .3 .9 1.2 .4 2.9-.4 7 1.5 5-1.8 7.9-.6 1.3-1 .7-1.1 0-1.9-1.2-1.6-1.8-.1-1 .9-2.9 .2-3-.8-5 2.1-3 .3-1-.3-4 .3-1.3z" fill="#ffa500" fill-opacity="0.517" fill-rule="evenodd"/><g mask="url(#mb)"><path d="M260.5 565.6l.9-1 62.8 0 1.6 2 1.9 5-.1 3.9 .8 3-.5 4 .4 4-1.1 4 .5 2.9-.3 4 .2 5-.1 8-.5 1.3-2 1.7-.5 .9 0 1 .5 2-.2 3 1.4 3 .6 3 .4 6.9-.3 3 1.4 3-.3 2-1.6 3 0 3 .5 2.9 .8 2 1.8 7-.6 2-1.7 2-.4 1 .7 2 .1 1.9-2.1 4-1 1-1.5 .5-6-.3-4 1-3-.1-3.2 .9-44.4 0-2.1-1.8z" fill="#0000ff" fill-opacity="0.024" fill-rule="evenodd"/><path d="M262.1 565.6l1.1-1 59.3 0 2 2 .6 1 1.1 4 .2 3.9 .6 4-.2 3 .2 4-1.1 4 .5 2.9-.4 4 .4 6-.7 6-.6 1-2.1 1.7-.6 1.2-1.2 8 .6 2 2.2 1.4 1 1.7 .3 1.9-.1 4.9-.2 1-.8 1-4.7 4-.4 1 .1 2-.3 2 .1 1 1 .8 2-.5 1 0 1 .8 .5 1.8-.7 2-5.5 4-.3 1 .8 5 2.4 2 .6 1 .5 2 .7 .5 1.3 .5 .9 .9-.2 1-2 1.1-2 1.5-1 .3-3 0-3 .9-1 .1-2-.5-4.9 2.1-2 .5-6-.5-3.3 .5-3.2 1-10.3 0-2.1-.4-2.8 .4-11.2 0-2.9-1.5-2-2.5 0-102.7zM324.8 657.1l.2-.5 1-.1 1 1.1 .4 1.5-.4 1-1 .4-1-.5-.4-.9z" fill="#0000ff" fill-opacity="0.028" fill-rule="evenodd"/><path d="M263.9 565.6l1.4-.6 2.9-.4 11.3 0 2.7 .4 8 .2 2.6-.6 28 0 2.5 2 1.2 2 1.3 9.9 .1 7-1 4 .4 3.9-.4 4 .3 5-.7 4-.8 2-2.7 2.9-1.9 3-.2 1 .2 2-.8 5-2.6 3-.7 3-1 .6-2 .1-2.9-1.6-1-.1-2.3 1-.9 .9-.2 1 1.4 2.2 2 1.9 1 0 2.9-1.4 5 .7 1.3 .6-.8 1-4.4 3-.6 1-.2 1 .4 1 1.6 2 0 1-1.1 2 .8 1 3 1.3 .7 .6 .4 1-.5 1-3.1 3-.4 1 .3 3-2.2 5-.1 1 .7 2 0 .9-2.8 1.4-2.5 2.6-1.8 1-2.6 .6-6-.3-6.9 1.6-4-.3-4 .3-4-.5-5.9 1.5-8-1.4-2-1.5-.7-1-.7-2-.6-6.7 0-2.2 1-4-.3-4 .4-4.9-.5-3-.1-9-.4-4 .2-4.9 .8-4-.6-5 .5-4-.7-4.9 .7-4-.3-4 .6-6-1.1-16.9 .9-8.9 1.1-2z" fill="#0000ff" fill-opacity="0.041" fill-rule="evenodd"/><path d="M268.7 565.6l2.6-.2 3.9 .4 3-.3 4 .5 8 .1 6.1-1.5 23 0 2.9 2 1.4 2 1.2 9.9 .2 6-1 5 .3 3.9-.3 3 .1 6-.9 4-2.2 3-7.5 6.9-.6 2 1 3 0 1-.9 1.2-2 .9-2.9 .2-5 3.2-3 1-.5 .4 2.5 3.7 2 1.4 3.6 3.9-1.6 .3-2-.1-1.2-1.2-.8-1.9-1 .3-.2 2.6 .2 1.7 2 .7 3.6 2.6 1 1 .5 1-.1 1.7-1 2.2 0 4-2 2-.5 4-1.5 1.9-2.4 2.1 1.9 3.9 .5 .5 3 .5-.2 1-1.5 1-10.3 1.2-3.9 1.4-4-.1-4 .4-4-.6-5.9 1.5-7-.9-2-1.1-1.1-1.8-.4-2-.5-6.9 1-6-.2-3 .2-4.9-.9-16 .8-9.9-.4-4 .3-5-.5-3.9 .6-4-.2-5 .7-5-1-8.9-.1-9 .5-6.9 .7-2 1.1-1 1.4-.6zM304.1 647.5l-.7 .6 .7 1.1 1.1-1.1zM306.6 659.1l.5-.4 1 .3 0 1.1-1-.2z" fill="#0000ff" fill-opacity="0.056" fill-rule="evenodd"/><path d="M295.2 565.6l5.2-1 17.1 0 2.5 1.3 2.1 1.7 .7 1 .4 2 .9 12.9-.8 6 .1 10.9-.7 4-.7 2-1.4 2-7.6 5.3-3.9 1-4-2-1-.1-1.3 .7-1.5 4 .4 2 0 2-.8 3-.8 .8-2-.2-1-.6-.7-1-.4-2 1.6-3-.4-1-3.1-.4-2.9 .2-.8 .2-.6 1-.1 4 .5 .5 1.9 .7 .9 1.8 .3 3 .7 .9 2.5 2 .5 1-.3 2 .2 1 1.2 2 .2 1-.3 1-.9 .9-1 .3-2-.2-1 .3-1.5 1.7-.3 1 .3 1 .5 .5 3.9 1.5 .1 1 .2 3.9-1 3 .1 3-.7 2-.2 4-1.4 3.3-3 1.6-.9 2.2-1 .4-2 0-3 1.1-2 0-3-.8-5.9 1.9-6.7-.8-1.7-1-.9-2-.8-7.9 1.3-6-.4-3 .2-4.9-.3-3 .1-4-.8-9 .8-9.9-.4-4 .4-5-.6-3.9 .6-4-.2-5 1.2-5-1-3.9-.6-6 .5-14.9 .3-1 1-1.1 1-.5 4-.6 2-.2 3.9 .4 3-.3 4 .6 8 0zM293.1 654.3l-.5 1.8-1.5 2-.3 1 .4 .5 1.1-.5 1.3-3 .8-1z" fill="#0000ff" fill-opacity="0.074" fill-rule="evenodd"/><path d="M298.8 565.6l3.3-.6 4-.3 9.9 .3 3 1 2 1.4 .9 1.2 .7 3 .7 11.9-.8 6 0 10.9-.8 4-.8 2-1.8 2-7.1 3.4-4.9-.8-3-.1-7 .8-5 2.1-5.9-.2-3 .9-1.2-.2-.8-1.3-.5 1.3 .2 2 .7 1 2.6 2.1 .5 .9 .1 1 .2 4-2.1 3.9 .3 1.7 1 .9 4-.4 .7 .8 .6 2 2.2 2 .4 1-.1 1-.5 1-3.2 3-1.4 4-.8 1-1.9 1.2-3 1.3-.7 .4-.6 1 0 1 .6 1 6.3 4 .4 1 .1 3-.4 1-1.7 .9-1 1.1-1 4.9-.8 1-1.2 .1-1.3-1.1-.4-1 .5-2.9-.8-1.1-1 0-.7 1.1 .4 2.9-.7 1-1.3 1-1.9 1-1.7 .5-6-.6-1.4-.9-.6-1-.9-7.9 .4-2 1.4-3-.8-5 .2-6.9 .6-3-.1-1-.8-2-.2-3-.8-4 .7-6.9 .1-4-.4-4 .8-4-.9-3.9 .7-4-.3-5 1.9-5-.2-1-1.5-2.9-.9-6 .7-10 .1-4.9 1.2-1.4 5-1.1 4.9 .4 4-.2 3 .6 4-.3 4 .1 4.9-1.5zM282.2 641.2l0 .1 0-.1zM272.3 637.1l-1.2 1.1 1.2 .7 1-.7-.6-1zM273.2 650.8l-.3 .3-.1 1 .4 .7 1 .3 1.5-1-.5-1.1-1-.5z" fill="#0000ff" fill-opacity="0.101" fill-rule="evenodd"/><path d="M303.1 565.6l7.9-.1 2 .6 5 .4 1 .7 1 .3 1 1.3 .4 2.8 .6 2.1-.3 3.8 .4 3 0 5-.5 1-.4 2-.1 13.9-.9 2-.2 1.2-1.7 1.8-1.3 .4-.6 .6-2.4 .3-1 .7-2 .2-10.9-.2-1-.7-3-.8-2-.2-2-.8-3.9 0-3-1.2-3 .6-1-.2-.5-.7-.2-1 .2-3-.9-1-3.6-2.8-2-.7-2.6-1.5-1.1-1-1.4-2-1.8-1.5-1-1.4-.5-2-.6-1-.5-3 .6-3.1 1-1.3 1 0 .6 .4 .4 1 1 4.3 1 .1 1.6-1.4 .7-1 .3-3 1.3-2 0-1-3.9-1.4-3.2-.6-.9-1-.3-1.9 .2-1 1.4-1 3.8-1.1 3.9 .7 3-.5 1 .1 3 1.2 1 0 2-.7 5 0 1-.7 .9-.2 1.1-.8 2.9-.5 .5-.5 4.5-.2 1-.2zM266.9 599.4l.4-.5 1-.4 4 .7 1.9 .7 .5 .5 .6 2-.1 1.4-.9 1.6-1.1 .3-2.9-.7-2 .1-1-.5-.9-3.2zM273.5 613.3l1.7-.8 1 .5 .2 .3 .3 7-.5 .8-1.4 1.2-7.3 5 .2 2.9-.4 1.1-1 .3-.3-.4-.1-1 .4-1.4 .6-.5 .3-1-1.2-4 0-3 .3-.8 1-.9 2-.1 2.6-1.2 .6-1 .3-2zM268.7 655.1l.6-.6 1 .6 1 2-.5 5-.5 .7-2.2-3.7z" fill="#0000ff" fill-opacity="0.072" fill-rule="evenodd"/></g><path d="M298.3 566.6l1.8-.6 6-.3 10.9 .3 2.6 1.6 .9 1 .9 2 .4 12.9-.6 16.9-.8 3-1 2-.7 1-1.7 1.2-6 1.5-5.9-.2-3 .2-2-.4-3-1.4-3-.9-4.7-2-.9-1-1.3-2.5-3-2.7-4-.4-2-2.3-1-.3-2-.1-1.2-.7-.5-1-1.4-4.9 .1-1 1-1.2 2-.5 1-.8 .2-1.5-.7-3 .3-1 1.8-2 .2-1-.8-1.5-1-.5-3-.2-3.6-1.7-.4-1 1-1 1.1-.5 1-.1 3.9 .7 3-.5 3 2.3 1 .2 1-.2 2.9-1.9 3.1-.9 4.9-2.7zM279.2 588.3l-1.1 1.2-.2 1 .3 1.3 1 0 1.3-1.3 .1-1-.4-.9zM266.1 582.5l.2-.2 .2 .2 .4 1-.6 1.1-.6-1.1zM271.3 602.4l1-.2 .2 .2-.2 .2zM273.1 619.3l1.1-.1 .4 1.1-1.4 1.3-.9 .4-1-.1-.5-.6 .7-1z" fill="#0000ff" fill-opacity="0.055" fill-rule="evenodd"/><path d="M300.4 566.6l5.7-.6 9.9 .4 2.9 1.2 1.5 2 .7 3.9-.4 5 .4 5-.7 16.9-.5 2-1.5 3-1 1-1.4 .7-6 1.3-4.9-.3-3 .2-2-.6-6-2.8-3.9-3.5-1.9-3-.3-3 .2-1 1.5-2 0-.9-.5-.7-1 0-1 .4-1-.2-1-.9-2.3-3.6-2.7-1.9-.7-1.1-.2-2 .7-2 .2-3.1 .5-.9 .5-.3 1 .1 2.7 1.2 .5 1-.7 3 .1 1 .4 .8 1 .5 1.1-2.3 0-4 2.5-4.9 4.3-3.4 2-.8z" fill="#0000ff" fill-opacity="0.069" fill-rule="evenodd"/><path d="M304.8 566.6l6.2 .1 6 .6 1 .6 1 1.1 1.2 3.6 0 1.9-.5 4 .4 5-.1 8.9-.7 8-1.3 2.6-1.7 2.4-1.3 .7-5 1.2-7.9-.4-2-.6-4.9-2.9-3.1-3-1.1-2 .1-2 1.2-2 .4-2-.6-2.4-2.4-3.5-.5-2 .3-2 2-5 .3-4 .5-1.9 1.4-2 1.5-1 4.9-1.4z" fill="#0000ff" fill-opacity="0.114" fill-rule="evenodd"/><path d="M302.9 567.6l8.1-.2 5 .7 .9 .5 .8 1 1 3.9-.6 5 .6 5 .1 8-1.1 7.9-1.7 2.8-2 2.1-4 1.2-2.9 0-7-1.4-1.2-.7-2.2-2-1.9-3 .6-5-.5-4.9-1-4 1.1-7-.6-4.9 .9-2 1.2-1 2.4-1z" fill="#0000ff" fill-opacity="0.179" fill-rule="evenodd"/><path d="M301.8 569.6l3.3-.8 5.9 .1 2.8 .7 1.2 1 .3 1 .5 2.9-.2 3 1.2 5 0 6-1 4.9-.3 4-.5 2-1.5 2-1.8 1-4.6 .5-5-.8-2-1.5-1.4-2.2-.2-1-.1-5.9 .4-4-.6-4 .8-5-.9-3.2-.1-1.8 1-1.9z" fill="#0000ff" fill-opacity="0.266" fill-rule="evenodd"/><path d="M306.6 576.5l.5-.1 1 .7 1.1 1.4 .2 1-.5 3 .2 1.6-1 .2-1-.4-1-.8-1-1.6-.1-1 .4-2 .7-1.8zM309.7 585.5l.3-.3 1 .6 1 1.4 .2 1.3-1.2 2.3-1.9 1.9-1-.3-.7-.9-.4-2 .2-1zM306.2 595.4l1.9-.7 1 .6 .7 1.1 .2 1-.9 .9-1 .2-2.6-1.1-.4-1z" fill="#0000ff" fill-opacity="0.383" fill-rule="evenodd"/><path d="M290.2 566.3l6.5-.9 13.5-.2 3.1 .2 4 .9 0 1.6 2.1 4.5-.6 3 .7 4.5-.7 3 0 4.5 .6 4.5-.6 3.1 1 3-.5 1.5-1.5 1.3-1.2 1.7-1.2 3-.6 .8-1.5 .9-1.5 0-1.1-.2-.5-1.2-.4 1.2-1.1 .2-3-.6-3 .7-1.5 0-3-1.1-1.5-1.6-1.5-3.3-6 .5-1.3-.8 .5-1.5 .2-1.5-.6-4.6 1.2-1.3 .7-1.7 .2-3-.5-1.5-1.1-1.5 .8-1.5-.2-1.5-1.2-1.5-.7-1.5-.1-1.5 .6-1.2 1.2-.3 1.8-1.7 .1-1.3-.9-3z" fill="#fff" fill-rule="evenodd"/><path d="M290 566.3l2.2-.6 4.5-.7 13.5-.1 4.6 .4 2.8 1 0 1.6 1.9 4.5-.5 3 .7 4.5-.7 3 0 4.5 .6 4.5-.5 3.1 .9 3-.7 1.7-1.5 1.3-1 1.5-1.2 3-.8 1.1-1.5 .8-4.6 .1-1.5-.6-1.5-.1-3 .7-1.5 0-3-1.1-2-2.4-1-2.5-6 .6-1.5-.9 .7-3.2-.7-4.6 1.5-1.6 .5-1.4 .2-3-.7-1.9-1-1.1 .8-1.5-.1-1.5-1.9-3-.2-1.5 .7-1.5 3.1-3-.9-3z" fill="#ffa500" fill-opacity="0.070" fill-rule="evenodd"/><path d="M293.7 566.3l3-1 13.5-.3 3.1 .3 2.2 1 0 1.6 .5 1.5 1.8 3-.9 3 0 3 1 1.5-.7 3 0 1.5 .8 6-.3 1.5-1.4 4.2 0 .7 .6 1.2-.2 1.5-3.4 4.9-3.1-.6-3 1.2-4.5-.4-1.5 .6-1.5-.1-1.5-.4-.7-.7-.8-4-1.5-1.4-1.5 1.2-1.5 .1-.9-.4-.5-1.5 .7-1.5 0-3.1 .7-2.4 1.4-2.1-.3-1.5-.8-1.5 0-1.5 1.2-.7 3-.5 .2-.3-.8-1.5-.9-.7-4.6-.8 .1-.7 1.5-.4 .1-.4 .8-6 .9-1.5z" fill="#ffa500" fill-opacity="0.075" fill-rule="evenodd"/><path d="M295.1 566.3l1.6-.7 1.5-.1 3 .4 4.5-.6 4.5-.1 3.1 .5 1.1 .6 .4 3 1.1 3.1-.4 3-1.1 3 1.6 3-.1 4.5 .8 3-1.6 7.6 .2 3-.5 .7-3 2.2-4.6 1.5-1.5-.1-1.5-1.8-1.5-.6-1.5 .4-1.5-.9-1.2-1.4-1.8-3.4-2.2-2.7 .8-3-.6-3 .8-1.5 2.7-1.4 .2-1.6-2.6-4.5-1-3 0-1.5 .4-.7 1.1-.8 .2-1.5-1.4-3z" fill="#ffa500" fill-opacity="0.105" fill-rule="evenodd"/><path d="M296.1 566.3l2.1-.4 2.4 .4 0 1.6 .6 .2 .3-.2 0-1.6 4.2-.7 4.5-.2 1.6 .2 1.8 .7 .9 7.6-.2 1.5-1.1 1.5-.6 1.5 2.5 3 .4 1.5-.6 3 .9 3-1.4 3-.2 6.1-.7 1.5-1.7 1-.3 .5-4.3 2.1-1.5-.5-.7-1.6-.8-.5-3-.8-1.5-1.2-2.5-3.5-.5-1.6-.3-6 2.5-1.5 .9-1.5-.2-1.5-1.7-3-.4-1.5 0-1.5 .7-.9 1.6-.6 .2-1.5-1.6-1.5-1.2-3-1.1-1.5z" fill="#ffa500" fill-opacity="0.143" fill-rule="evenodd"/><path d="M303.6 566.3l2.1-.4 4.5-.2 2.5 .6 .2 4.6 .4 3-.7 1.5-1.4 1.5-.4 1.5 .9 1.5 1.6 .7 .8 .8 .7 1.5-.7 3 .7 3-1.6 3 .2 3.1-.2 1.5-1 1.5-1.9 1.4-1.1 1.6-.5 .1-1.5 .2-4.5-3.7-1.5-.2-1.5-.9-1.3-1.5-.6-1.6 0-1.5 .4-.9 1.3-.6-.6-1.5 .7-1.5 1.5-1.5 .1-3.4-.3-1.1-1.2-.7-.4-.8-.2-1.5 .6-.9 1.5-.8 .7-1.3 .2-1.5-2.2-1.5-.7-1.5 .5-.7 3.9-.8z" fill="#ffa500" fill-opacity="0.197" fill-rule="evenodd"/><path d="M305.3 566.3l4.9-.3 1.6 .3 0 1.6-.3 1.5-.7 1.5-1.5 1.5-.7 1.5-2.9 3.2-1.5 .5-.7-.7 .2-3-.7-1.5 1.2-.8 3-.3 .7-.4-1.1-1.5-1.1-.7-.4-.8zM305.2 579.9l.5-.5 4.5 .9 3.1 1.3 .8 1.3-.9 3 .8 3-1.6 3-.1 3.1-.5 1-1.6 .8-1.5 1.9-1.5 .4-1.5-.5-.6-.6-.9-2-1.5-.7-2.3-.3-.7-.5-.3-1.1 .3-.4 1.5-.2 2-3.9 1-3.2 1.5-1.1 .8-.2 .5-1.5-1.5-1.5zM308.7 583.8l-1.1 .6 .1 1.5 1 .6 1.5-.4 .3-.2-.3-1.5z" fill="#ffa500" fill-opacity="0.283" fill-rule="evenodd"/><path d="M308.4 566.3l2.1 0-.3 2-1.5-.1-.3-.3zM310.8 582.9l1-.7 1.4 .7-1.4 1.4zM310.3 587.4l1.5-1.3 .9 1.3 .5 1.5-1.4 2.6-.7 .4 0 1.5-.5 1.6-1.9 .3-1.5 2.3-.9-1.1 .3-1.5 .9-1.6-3.3-.4-1-1.1 .4-1.5 2.1-2.8z" fill="#ffa500" fill-opacity="0.421" fill-rule="evenodd"/><path d="M306.8 588.9l5-1 .5 1-1 1.5-1.1 .8-1.5 .2-1.5-.2-1.1-.8z" fill="#ffa500" fill-opacity="0.682" fill-rule="evenodd"/><path d="M292.8 566.3l3.9-.7 15.1-.4 4.5 .1 3.5 1 .4 7.6 1.5 9-.2 1.5-1.2 3 .9 3-1.8 4.6-.1 1.5 .4 3-1.1 3-.9 1.5-4.4 3-1.5 .7-3.1-.2-3 1-4.5-.5-3-2.2-1.5-.5-4.5-5.5-2.1-1.8-.9-1.5 1.5-2.1 1.9-1-1.9-.5-1.5-.8-1.8-1.7 .3-1.6 1.5-1.1 1.7-.3 .4-1.5-.6-1.7-1.1-1.3 .4-1.5 2.5-1.5-.7-1.5-2.6-2.3-.4-.7 .4-1.5 1.5-.5 .8-2.5 1-1.5z" fill="#fff" fill-rule="evenodd"/><path d="M294 566.3l2.7-.9 15.1-.5 6 .4 1.4 1 .6 7.6 1.3 9-.2 1.5-1.2 3 .7 1.5 .4 1.5-1.8 4.6 .2 4.5-1 3-1.1 1.5-5.3 3.4-3.1-.5-3 1.1-4.5-.3-2.6-2.2-1.9-.6-1.9-2.4-1.1-2.1-3-2.7-.7-1.2 .7-.9 3-.5 .5-1.7-.5-.7-3-.8-2.4-1.5 .9-1.7 3 .2 .8-1.5-2.2-4.5 2.6-3-1.2-2.5-.6-.5 1.8-3-1-1.5 .1-1.5 1.2-1.8z" fill="#0000ff" fill-opacity="0.070" fill-rule="evenodd"/><path d="M296.3 566.3l4.9-.8 10.6-.4 4.5 .2 2 1 .1 9.1 .9 9-1.2 3 1.1 3-.6 1.5-1.6 1.5 .7 3.1-.1 1.5-.2 1.5-1.1 2.5-1.5 1.5-1.5 .7-1.5 1.1-4.6-.1-1.5-.5-.9 .8-2.1 .8-4.6-2.3-1.3-1.5-1.5-4.5 .1-1.5 1-1.5 .2-1.6-.2-1.5 1.2-3-.9-1.9-3-2.6 .9-1.5 1.8-1.5 .3-1.4-.9-3.1 .7-1.5-.2-1.5-.9-1.5-.2-1.5 1-1.5z" fill="#0000ff" fill-opacity="0.075" fill-rule="evenodd"/><path d="M300.3 566.3l.9-.3 3 0 7.6-.7 4.5 .3 1.2 .7-.6 9.1 .2 3 1.1 6-1.4 3 .4 3-2.3 3 1.6 3.1-.7 1.5-3.5 4.5-2.1 1.3-1.5 .2-3-2.1-1.5-.1-3 1.4-1.5 .2-1.4-.9-.4-1.5-1.4-3 .5-1.5 2.7-3-1.2-1.6 .4-3-.7-2.1-1.3-2.4 1.7-4.5-.2-4.5-.8-3 .6-.6 1.5-.1 .4-.8z" fill="#0000ff" fill-opacity="0.105" fill-rule="evenodd"/><path d="M305.8 566.3l6-.7 3 .2 2 .5-.5 4.5-1.3 3.1 .6 3-.2 1.5 .7 3 0 3-.6 1.5-.1 4.5-2.1 3 .9 3.1-.5 1.5-2.3 3-1.2 1.1-1.5 .4-3-2.1-3-1.4-3 1.8-1.6-2.8 1.6-.9 1.5 .2 1.5-2.3-.6-1.6-1.8-1.5-.5-3-1.2-4.5 .3-1.5 1.5-3-.2-3 1-2.4 .2-2.1 .4-1.5 .9-1.3 1.7-.2 1.3-1.3z" fill="#0000ff" fill-opacity="0.143" fill-rule="evenodd"/><path d="M307.9 566.3l3.9-.4 3.7 .4 0 1.6-.7 1.5-2.6 1.5-.8 1.5 2.6 3 .3 1.5-.3 1.5 0 3-1.4 3 .1 1.5 1.4 3-.3 1.5-2 2.6-1.3 .4 1.3 .9 .7 2.2-.6 1.5-1.7 .8-1.5 2.2-.8-1.5 1.5-1.5-.7-.7-2.6-.8 2.6-2.9 .7-.2-.1-1.5-.6-1.3-1.5-.6-1.5 .7-1.5 1.3-1.5 .6-.8-.7-1-1.5-.3-3 .3-3-.4-1.5 1.6-3 .1-1.5-.3-1.5 .9-4.5 1.4-1.2 3-.9 .9-.9z" fill="#0000ff" fill-opacity="0.197" fill-rule="evenodd"/><path d="M310.9 566.3l1.4 0 0 1.6-.5 .8-.9-.8zM304.9 573.9l.8-.8 1.5-.1 1 .9-1 2.3zM306.7 578.4l.5-1 3 2.5 .8 1.5-.2 1.5 .3 3-.9 1.4-4.5 1.4-.7-2.8-1.9-1.5-.9-1.5 .5-1.5 1.2-1.5zM311.7 578.4l.1-.1 0 .1 0 .2zM310.9 590.4l.9-1 .2 1-.2 .3z" fill="#0000ff" fill-opacity="0.283" fill-rule="evenodd"/><path d="M306.1 579.9l1.1-.5 2.1 2 .5 4.5-1.1 .8-1.5 0-3.5-3.8 .2-1.5z" fill="#0000ff" fill-opacity="0.421" fill-rule="evenodd"/><path d="M305.1 581.4l.6-.5 1.5-.3 .9 .8 .8 3-.2 .7-1.5 .2-2.1-2.4z" fill="#0000ff" fill-opacity="0.682" fill-rule="evenodd"/><path d="M290.2 566.3l6.5-.9 13.5-.2 3.1 .2 4 .9 0 1.6 2.1 4.5-.6 3 .7 4.5-.7 3 0 4.5 .6 4.5-.6 3.1 1 3-.5 1.5-1.5 1.3-1.2 1.7-1.2 3-.6 .8-1.5 .9-1.5 0-1.1-.2-.5-1.2-.4 1.2-1.1 .2-3-.6-3 .7-1.5 0-3-1.1-1.5-1.6-1.5-3.3-6 .5-1.3-.8 .5-1.5 .2-1.5-.6-4.6 1.2-1.3 .7-1.7 .2-3-.5-1.5-1.1-1.5 .8-1.5-.2-1.5-1.2-1.5-.7-1.5-.1-1.5 .6-1.2 1.2-.3 1.8-1.7 .1-1.3-.9-3zM294.9 566.3l3.3-.5 3 .2 9-.4 4.3 .7 0 1.6 1.6 4.5-.5 3-1 3 1.5 3 0 4.5 .7 3-.1 1.5-1.5 6.1 .2 3-.6 .9-3 2.3-1.6 .3-3 1.1-1.6-.1-1.4-1.7-1.5-.6-3 1.2-.6-.4 .2-1.5-2.6-4.5-2.9-3.1 1.2-3-.4-3 .4-1.5 2.9-1.5 .3-1.5-3.5-6-.3-1.5 0-1.5 1.8-3-1.3-3zM304.2 566.3l6-.3 2.2 .3-.2 7.6-.5 1.5-1.2 1.5-.6 1.5 1.1 1.5 2.7 1.5 .8 1.5-.8 3 .8 3-1.6 3 .1 3.1-.4 1.5-.8 .9-1.6 .7-1.5 2.2-1.5 0-1.5-.8-3-2.9-1.5 0-1.5-.7-.8-.9-.7-1.6 .3-1.5 2.7-1 1.6-3.5-.7-1.5-.1-1.5 1.1-4.5-.4-1.2-.5-.3-.3-1.5 .8-3-1.8-1.5-1.1-1.5 4.4-.9 .5-.6-.5-1.5zM308 566.3l2.7 0 0 1.6-.5 .9-1.5-.1-.7-.8zM310.3 582.9l1.5-1 1.6 1-.1 .5-1 1-.4 1.5 1 1.5 .4 1.5-1.8 3 0 1.5-.5 1.6-2.3 1.3-1.5 1.8-1.5-1.5-.1-1.6-2.9-3.1 .6-1.5 2.4-3.6 3 .7 1.5-.3 1.4-1.3-.1-1.5z" fill="none" stroke="#ffa500" stroke-width="1.3"/><path d="M292.8 566.3l3.9-.7 15.1-.4 4.5 .1 3.5 1 .4 7.6 1.5 9-.2 1.5-1.2 3 .9 3-1.8 4.6-.1 1.5 .4 3-1.1 3-.9 1.5-4.4 3-1.5 .7-3.1-.2-3 1-4.5-.5-3-2.2-1.5-.5-4.5-5.5-2.1-1.8-.9-1.5 1.5-2.1 1.9-1-1.9-.5-1.5-.8-1.8-1.7 .3-1.6 1.5-1.1 1.7-.3 .4-1.5-.6-1.7-1.1-1.3 .4-1.5 2.5-1.5-.7-1.5-2.6-2.3-.4-.7 .4-1.5 1.5-.5 .8-2.5 1-1.5zM299.8 566.3l1.4-.2 10.6-.5 4.5 .2 1.3 .5-.3 9.1 1.2 9-1.4 3 .2 1.5 .6 1.5-2.4 3 1.3 3.1-.5 1.8-1.8 2.7-2.7 2.6-1.6 .6-1.5 .2-1.3-.4-1.7-1.6-1.5 .1-1.5 1.6-3-.4-1.9-1.2-.3-1.5-1.3-3 .3-1.5 1.2-1.5 .2-3.1 .6-1.5 .1-1.5-.4-1.4-2-3.1 1.8-4.5-.4-6-.9-1.6 1.5-1.4 1.5-.8zM307.2 566.3l4.6-.3 4.1 .3 0 1.6-1.1 2.6-1.6 .4-1.2 1.5 2.3 3 .3 1.5-.3 1.5 .2 3-.3 1.5-.9 1.5-.1 1.5 .9 1.5 .4 1.5-.3 1.5-2.3 3 .9 3.1-.5 1.5-1.7 1.5-.9 1.5-1 .4-3-3-1.5-.4 0-1.5 3-2 1-1.1 .5-1.5-1.5-1.4-1.5 .6-1.5 1.5-1.5 .3-1.3-1-.7-1.5-.5-4.5-.1-3 1.6-3-.1-3 .7-3 .1-1.5 .3-.7 1.2-.8 3.3-1.5zM310.8 566.3l1.6 0 0 1.6-.6 .9-1-.9zM304.7 573.9l1-1.1 1.5 0 1.1 1.1-1.1 2.6zM306.6 578.4l.6-1.2 3 2.6 1.4-1.4 .2-.7 0 2.2-1 3 .3 3-.9 1.5-4.5 1.6-.6-.1 .2-1.5-.3-1.5-1.9-1.5-1-1.5 .6-1.5 1.2-1.5zM310.5 590.4l1.3-1.4 .3 1.4-.3 .3z" fill="none" stroke="#0000ff" stroke-width="1.3"/></g><g clip-path="url(#c53)"><g mask="url(#mo)"><path d="M397.9 565.6l1.2-1 82.5 0 0 108.8-2 1.6-80.3 0-2-2-.6-2 .3-5.9-.7-3 .1-6-.8-7 1.1-6.9-.1-6-.5-4 .6-3.9-.2-4 .6-8-.9-6.9 .2-6 .6-5-.8-6-.1-4.9 1.3-9-1-4 0-4.9 .3-2z" fill="#ffa500" fill-opacity="0.024" fill-rule="evenodd"/><path d="M405.1 565.6l2.2-1 74.3 .2 0 48-.8 3.5-.1 3 .3 4-.8 5.9 .6 4-.2 4 .9 4-.5 4 .3 3.9-.3 4 .4 4-.6 5 .4 7.9-.6 2-1 1.2-2 .6-3-.2-3 1-2 .3-2.9-.2-4-.8-5-.1-4 .7-8.9-.6-12.9 .5-5-.4-9 .8-7.9-.9-4 .9-6-1.4-1.6-1.4-.6-3 .7-3.9-1-4 .1-5-1-7 1.5-7.9-.9-9 .7-3.9-.2-4 .6-8-1-5.9 .8-11-.8-7.9-.1-4 .4-4 1.2-5-1.1-4-.1-4.9 .5-2 .9-1.1 1-.6z" fill="#ffa500" fill-opacity="0.028" fill-rule="evenodd"/><path d="M407.8 565.6l1.9-1 70 0 1.9 1.6 0 42.2-1 2.8-.9 4.1-.3 4 .2 5-.8 4.9 .7 4-.3 4 .9 4-.3 4 .2 3.9-.4 4 .4 4-.5 5 .1 7.9-.3 1-.7 .9-1 .3-2-.4-1 .1-3 1.3-2 .3-2.9-.2-4-.8-4-.2-6 1-6.9-.6-14.9 .3-4-.4-9 .7-4.9-.4-3-.5-4 .9-1-.1-4-1.3-1.2-.9-.5-1-.1-2 1.1-3.9-1.3-4-.2-4-1.2-7 1.9-7.9-1.2-9 1-3.9-.3-4 .7-8 0-1-1.4-4.9 .9-9-.8-13.9 .5-5 1.4-4 0-1-1.3-3-.2-3.9 .4-2 .8-1.1 1-.4 4-.3z" fill="#ffa500" fill-opacity="0.041" fill-rule="evenodd"/><path d="M409.5 565.6l2.4-1 13.8 0 6.2 .7 7.4-.7 38.2 0 2.1 .9 2 1.9 0 35.9-.7 4.1-2.5 7.9-.3 5 .1 5-1.1 3.9 .8 4-.5 4 1.3 3 .2 2-.2 6.9-.5 3 .5 6-.6 7-.5 2-1 1.6-2 .7-3 2.4-2 .5-1.9 0-5-1.5-4-.3-2 .4-2.7 1.1-1.3 .2-6.9-.9-4 .2-7-.5-3.9 .6-4-.7-9 1.1-3-.8-2.4-.2-2.5-.8-1 .1-3 1.4-1-.1-3-1.5-1-.9-.1-1.2 1.4-4.9-.2-1-1.6-3-.4-4-1.2-4-.2-2 2.6-7.9-.7-3-.3-3-.8-3 .4-2 .8-1.9-.3-5 .5-5 .7-3-.2-1-1.8-3-.2-1.9 1.1-7-.6-10.9 0-8 .6-2 1.8-3 0-1-1.7-3-.4-2.9 .4-2 .4-.5 4-1.1zM417.9 628.2l-1 .2-.5 1.8 .5 2.7 1 .8 .4-.5 .1-2-.1-2zM430.9 652.8l-1.7 1.3 .7 1.4 1 .1 1-.5 1-1 .5-1-.6-.4-.9-.2zM434.8 644.5l-.3 .7 .2 2 1.1 2.1 1 .2 1.2-1.4 .4-.9-.4-1-1.2-1.4-1-.6zM435.8 631.9l-.5 .3 .3 1 1.2 .3 1-.3 0-1-1-.4zM444.8 652l-1 1-.1 1.1 .5 1 .6 .4 1-.4 .5-1-.5-1.6z" fill="#ffa500" fill-opacity="0.056" fill-rule="evenodd"/><path d="M411.4 565.6l4.5-1 6.3 0 3.7 .9 6 .6 16.6-1.5 23.2 0 4.9 .6 2 .6 1.3 .8 1.4 2 .3 .9 0 31.2-1 3.1-.6 3.6-2.4 5.3-1 1.5-1 .4-3-.6-1.2 .3-.4 1 .2 2-.6 .8-2.9 1.4-1 .8-.4 2-.6 .5-2.8-1.5-1-1-1.2-3.4-1 .2-2.6 3.2-.3 1 .6 2-.1 1-.8 1 .1 1 2.1 1.4 3 .7 1 .8 1 2.6 1.4 1.4 .5 1-1 1-1.9 1-3-.3-1 .6-2.8 2.7 0 1 3.3 5 .7 2 3.8 3.9 .6 1 .1 2-1 2 .1 1 1.2 .8 1 .1 1-1.9 1-.7 1.9-.1 2 .8 1 1.3 1 .4 2-.3 1 1.1 0 1.9-1 2-1-.5-2-3.3-3 .7-2.9-.5-.2 .2-.9 3 .5 3 4.3 3.9-.7 1-2 .3-1-.5-.6-.8-1.2-2.9-3.2-3.8-1-.2-2 1.5-1 .3-2-.8-.4-1 .4-1.2 3.2-.8 .2-1-.8-1-1.6-1.2-2-.1-.5-.7-4.4-2-.7-1-.7-2 .1-1 .9-2-.6-.4-2-.4-2-1.3-3-.6-2-1.1-3.4-5.1-.1-1 .4-1 1.1-.4 1.6 .4 2.4 1.9 1 .3 1-.3 1-.9 3.1-5-.1-1-1.6-2-.7-1.9-.1-1 .7-3-.1-3 .8-.7 3-.9 .9-.5 .7-1.9-.1-1-.6-.7-4.9-2-3 .1-4-2.4-1 .1-.8 .9-.2 1 .2 1 1.8 .8 3-.4 1 .1 1 1 1.7 3.5 .2 1-.7 1-4.2 3-1-.1-2-1.2-3.1-2.7-.9-1.9-1-.5-5.9 2.4-1 .1-1-.5-2-2.9-1.1-.7-1.9 0-.8 1-.2 2 .2 2 .6 1 5.2 2.7 2.3 .3 1.3 1 0 1-1.6 1.9-2 1.6-1 .3-1 0-1-.5-1.6-4.3-1.4-1.3-4-.6-4.2-3.1-1.1-3 .4-2.1-1-.5-1.2 1.6-2.8 1.6-.8-.6 2.5-4 .1-2-.8-1.4-1-.4-2 .9-1 .1-1-1.1-.1-1 2.3-5-1.8-5 .1-2 .5-1.4 1.9-2.6 .1-1-.7-5.9-1.3-2-.2-1 .2-1 2-2.5 .5-1.5-.1-3-1.3-2.9 .1-1 .7-1 3.7-3 2.4-1.5zM456.7 647.1l-.5 1 .4 2 .1 .5 1 .3 .4-2.8-.4-.8zM447.8 640.9l-1.7 1.3-.3 .9 .4 1.1 .6 .3 2-.5 1.3-.8 .7-1-1-1.2zM402.9 622.3l1.1-.7 7.7 5.7-.1 1-1.6 1.7-1 .7-2.2 .5 .1 1 .9 1 3.2 1.7 1.3 1.3 1 2-1.3 2.4-2 1.3-3 .2-1-.3-.6-.6 .4-5-.3-1-3.7-3-.1-1 1.2-2 .1-.9-.9-4zM431.2 623.3l.7-.4 .9 .1 3.1 2.3 1.1 1 .4 1-.1 1-1.5 1-3 .9-.9-.1-.9-.9-.7-1.9 .2-3zM468.6 625.3l5 .4 1 .2 .3 .4-.1 2-.6 1.9-.6 1.1-1 .7-2 .3-.8-1.1-.5-2.9-.7-2zM468.6 633.2l1 .2 .1 4.8 .3 1 .6 .7 2 1.1 3-.1 1.1 .3 .5 1 .1 1-.7 3.4-1 .5-1-.3-2-1.9-1-.4-1 .3-1.4 1.4-1.5 .7-2 .3-1.4-1 0-1 .5-1 2.5-2 .6-1 0-1-1.2-3-.6-3zM429.8 634.2l1.1-.2 1 .5 .5 .7 .3 1-.4 4-.4 1-1 1-2 .7-2-.5-4 .2-3 2.8-2-.5-1.7-1.7-.9-4-.5-1 .8-1 4.3 .3 3-1.5 1-.1 3 1.8 1.4-2.5zM427.7 646.2l.2-.3 1 .2 .5 1.1-.1 .9-.4 .7-1 .2-.8-.9-.1-.9zM411.7 647.2l1.3-.1 .9 .4 1.9 1.6 .1 1-1 1-1.9 .6-2-.1-.9-.5-.9-1 .1-1 .7-1zM419.8 647.2l1.1-.2 1.2 1.1-.1 2-1.1 1.2-1-.2-.8-1-.3-1 .2-1zM400.5 649.1l.5-.8 1 .1 1.6 1.7 .2 1-.8 1.2-1 .3-1-.7-.6-1.8zM439.2 653.1l.6-.5 .5 .5 .9 5 1.1 2 0 1-1.5 .5-3 2.5-1 0 .3-3-1-3 .4-1 1-1zM403.8 657.1l1.2-.2 4 .6 3-.7 1 .1 1.1 1.2 .8 .2 3 .1 3 .7 2.2 0 .4 1-.4 2 .1 1 2.8 3 .6 .9-.6 1-2.1 .8-3-.3-2 .6-2-.5-2.1-1.6-1.5-2.9-1.3-1.2-3-1.6-1-.1-2 .5-1-.2-1.7-2.4-.1-1zM446.7 658.1l1.1-.3 .4 .3 1.2 2 .1 2-1.7 1.2-2-.3-2.8-1.9zM404.9 666.1l.8 .9-.7 .4-.4-.4zM449.2 668l.6-.4 .9-.2 1 .5 1.2 1.1-.1 1-2.1-.1-1.4-.9z" fill="#ffa500" fill-opacity="0.074" fill-rule="evenodd"/><path d="M413.8 565.6l7.1-.6 4 .9 7 1 19.8-1.9 9 .4 9.9-.2 6 .7 2.2 .7 1.1 1 1.2 3 .2 5.9-.2 10 .4 5.9-.3 7-1.7 7-.9 2-2 1.7-2 1-5 .6-2.9 0-5 1.1-7-.6-4 0-2.6-.9-4.3-.4-4-1.5-4-.3-2-.5-1 .1-.9 .9-1.2 1.7-.8 2.5-1 .1-3.3-1.6-1.7-1.4-1 .2-2 1.3-4 1.1-5.9-2.4-2.3-1.7-.7-1-.7-3-3.3-6 .2-1 .8-.9 .5-1.1 .3-2-.6-4.9 .3-4-.4-3 1-4-.2-6.9 1.2-2 1.7-2 2.2-1.2zM449.7 624.3l.9 1 .3 1-1.1 1.1-.5-.1-.5-1 .1-1z" fill="#ffa500" fill-opacity="0.101" fill-rule="evenodd"/><path d="M412.6 566.6l7.3-.4 4 .3 1 .6 5 .4 1 .7 1 .1 1.9-.1 2-.7 3-.2 2-.7 10.9-.4 23.9 .3 1.2 .1 .8 .7 1 .2 1.1 1.1 .5 7.9-.4 4 0 7 .9 3-.1 5.9-.8 3-.2 3-.8 1-.2 2.4-.5 .6-.3 1-2.2 1.1-4 .4-2 .6-4.9 .2-1.5 .7-1.5 .1-3-.9-11.9-.1-4-1.1-1-.7-4.6-.3-1.4-1-.4-1-1.6-1.5-3.9 0-1 0-3 2.6-2 .9-2 .4-5 2.6-3 .1-1.9-1.1-1-1.2-.6-1.8-1.2-2-1.4-2-.3-2 0-6-.7-2.9 0-9 .9-3 .3-8.6 1.4-2.3 1.1-1 1.5-.4z" fill="#ffa500" fill-opacity="0.072" fill-rule="evenodd"/></g><path d="M413.6 566.6l2.3-.6 6 0 2 .8 8.9 2 6-1.8 11-1.1 10.9 .3 9.9-.3 7 1.1 1.7 1.6 .9 2 .2 20.9-.3 8.9-2.3 6-1.2 .9-2 .6-5 .7-3.9 .1-3 .6-5-.5-5 .4-4.9-.4-2-.2-4-1.4-4-.5-1.5-1.3-1.5-3-1-.4-3.9-.2-1 .3-3.4 3.3-1.6 1-8 3-2-.1-.9-.6-3.8-5.3-1-2-.9-11.9 .3-8 .6-3 .4-7.9 1.4-2.4 2-1.2z" fill="#ffa500" fill-opacity="0.055" fill-rule="evenodd"/><path d="M415.9 566.6l5-.3 5 1.7 3 .5 1.7 1.1 1.3 2 .9-.1 1.7-1.9 4.3-1.9 11-1.3 2.9-.2 8 .6 9.9-.3 7 1.2 1.1 .9 1 3 .2 4.9-.3 9 .4 6-.3 7.9-2.1 5.6-1 1.1-1 .4-6.9 1.1-4-.2-3 .5-12.9 0-4-.7-3-1-3-.4-1-.5-2-4.6-2-1-2.9-.3-2 .8-4 4.1-2 1.3-4 1.5-2 .4-2-.1-1-.4-3.6-3.6-1.3-3-.9-8.9 .3-9 .7-4 .2-5.9 .5-3 .7-1 1.5-1z" fill="#ffa500" fill-opacity="0.069" fill-rule="evenodd"/><path d="M414 567.6l4.9-.7 2 .1 1.9 .6 1.7 1 2.4 2 1.3 4.9-.9 3 0 2 2.2 3-.4 3 .3 3-1.1 2-.2 .9 1.1 3-.2 1-3.7 5-2 2-1.8 1-3.6 1.3-3-.4-1.9-1-1-.9-1.4-2-.9-4-.4-5.9 .3-8 .8-6 .4-6.9 .3-1 .9-1zM444.4 567.6l7.3-.7 9 .6 8.9-.4 4.3 .5 3.7 1 1 1.2 .4 1.8 .2 4.9-.2 10 .4 5.9-.4 7-1.4 3.4-1 1.3-2 1-5.9 .8-4-.6-4 .8-10 .3-6.9-1.2-4-1.8-2.6-7-2-4 0-1.9 1.2-4 0-2-.6-1.7-.9-1.3-.5-2-1.4-3 .1-1 3.1-4.9 1-1 2.6-1.3z" fill="#ffa500" fill-opacity="0.114" fill-rule="evenodd"/><path d="M414.9 568.6l5-.7 2.2 .7 .9 1 .3 1 1.1 4.9-.5 4.5-1 3.5 0 1 2.3 5-.1 5.9-1.2 3.1-2 2.6-3 1.8-2 .5-2-.3-1.9-1.4-1.1-2.3-.7-4 0-4.9 .6-10 .7-4 .3-4.9 .7-2zM445.8 568.6l5.9-.9 8 1 6-.6 3.9 0 6 1.2 1 .4 .9 .9 .3 1 .4 4.9-.4 9 .7 6-.7 6.9-1.2 2.4-2 1.4-4 .9-5.9-.7-4 .9-4 0-5 .7-6.9-1.3-2.2-1.3-1.4-2-1.1-5 .4-3.9-.6-4 .1-4-.7-4 .8-4-.7-1.9 0-1 .5-1 1.7-1z" fill="#ffa500" fill-opacity="0.179" fill-rule="evenodd"/><path d="M448.9 570.6l1.8-.8 2 0 2.2 .8 4.9 2.9-2.1 2.5-.4 1.5 .1 2 .3 .5 1 .5 4.7-1 .4-1-2.9-4 .1-1 3.5-1.9 2.2-.8 1 0 1 .6-1.4 2.1-.1 2 .5 1.2 2.9-1.3 1 .4 .6 .7 1 5-.2 1-2.2 3 .8 .7 2 2.8 1.9 1.5 .1 1-2 1.1-3 4.7-1 .8-.9 .1-3-.6-3-.1-3 .6-3-.1-4 1.2-2 .2-3.9-1.1-1.5-.9-.6-1 0-2 1.9-2.9 0-1-1.2-3 .1-1 2.3-5-.2-2-1.1-2 1.3-3 .6-2.9zM468.7 585l-.5 .5 .5 .4 1.7-.4zM418.6 571.6l.3-.2 1.1 .2 .4 1.9 0 2-.5 1.4-1 .7-1 .1-1-.7-.2-2.5 .8-1.9zM415.4 587.5l1.5-.6 1-.1 1 .5 .8 1.2 2 4.9-.2 2-1.1 2-2 2-1.5 .5-1-.4-.8-1.1-1.1-4-.1-4.9 .4-1z" fill="#ffa500" fill-opacity="0.266" fill-rule="evenodd"/><g mask="url(#mb)"><path d="M458.6 565.6l.4-1 22.6 0 0 110.4-19.9 0-1.6-3-.3-4 .3-6.9-.9-13 .6-4.9 0-21.9-.3-6-1.3-5.9-.9-8-.5-12.9 .4-17.9 .8-4z" fill="#0000ff" fill-opacity="0.024" fill-rule="evenodd"/><path d="M459.6 565.6l.5-1 21.5 0 0 109.1-1.3 1.3-17.4 0-1.5-2-.6-2-.2-3 .4-6.9-.9-13 .5-5.9 .1-20.3-.5-7.6-2-11.9-.7-13.9 .5-17.9 .3-2z" fill="#0000ff" fill-opacity="0.028" fill-rule="evenodd"/><path d="M460.4 565.6l.8-1 20 0 .4 .4 0 106.8-.8 1.2-2.2 2-14 0-2.2-2-1-3-.1-3 .5-5.9-1-13 .5-5.9 0-19.9-.5-9-1.9-10.9-.8-13.9 .7-18.9 .5-2z" fill="#0000ff" fill-opacity="0.041" fill-rule="evenodd"/><path d="M461.2 565.6l.9-1 18.1 0 1.4 1.3 0 44.9-.4 3.5 .4 5.2-.3 11.7 .2 7-.3 4 .4 23.9-.4 3.9-.7 2-.9 1.3-1 .7-2 .7-4 .2-6.9-.4-2.5-1.5-.6-1-.6-2-.1-3 .5-4.9-1-14 .6-5.9-.1-20.9-.3-7-2.2-11.9-.6-13.9 .4-17.9 .7-3z" fill="#0000ff" fill-opacity="0.056" fill-rule="evenodd"/><path d="M462 565.6l1.1-1 16.3 0 2.2 2.2 0 41.7-1 2.8-.2 2 .2 5 .6 5-.8 7.9 .3 7-.3 4 .2 6.9-.2 4 .5 5-.1 7-.4 4.9-.7 2-1.1 1.1-2 .7-4 .2-6.9-.3-2-1.2-1-2.5-.2-3 .5-4.9-1-14 .6-5.9 0-19.9-.6-9-2-10.9-.8-14.9 .3-14 .4-3.9 .6-2z" fill="#0000ff" fill-opacity="0.074" fill-rule="evenodd"/><path d="M462.8 565.6l1.4-1 14.3 0 3.1 3.1 0 38.5-1.3 4.2-.5 2.9 .7 10-.7 7.9 .3 7-.4 4 .3 6.9-.3 4 .6 5-.2 8.9-.4 3-.9 2-1.2 .8-2 .5-3 .1-6.9-.4-1.5-1-.9-2-.2-3 .5-4.9-1-14 .7-5.9-.3-24.9-.4-4-2.2-10.9-.7-14.9 .5-16.9 .8-3z" fill="#0000ff" fill-opacity="0.101" fill-rule="evenodd"/><path d="M463.7 565.6l1-.2 1.1-.8 11 0 .8 .8 1.1 .2 2 2 .2 1 .7 .7 0 32.2-.7 .9-.3 4.8-.8 1.2-.1 2-.8 .9-.1 1 .1 7 .2 1 .5 .6 .1 2.4-.1 2.7-.7 1.3-.2 2.9 0 23.9 .4 4-.4 11.9-2.1 2.1-10.9 0-1.1-1.1-.1-16.9-.2-2-.6-.8-.1-3.2 0-2.9 .7-1 .2-2-.2-19.9-.6-5.2-.2-5.8-.8-1.3-.3-3.6-.8-1-.1-7-.2-1-.6-.8-.1-1.2 0-23.8 .9-2 .1-2z" fill="#0000ff" fill-opacity="0.072" fill-rule="evenodd"/></g><path d="M464.1 565.6l.6-.5 2.2-.5 8.4 0 2.3 .3 2.4 1.7 1.3 2 .3 1.6 0 28.8-.5 5.4-.8 4-.9 2-.4 2.9 .4 10-.2 4-.7 3.9 .6 7-.7 4 .4 3 .1 3.9-.5 4 .8 4-.1 9.9-.4 2-1.1 2.2-4 1.1-6.9-.5-1-.3-1.3-1.5-.2-1 0-2.9 .6-3-.5-3-.1-7-.5-5 .7-5.9-.3-4 .2-9-.3-12.9-1.3-7.7-1.7-5.2-.1-7-.8-8.9 .6-5.5 .2-12.4 .2-1 .8-1z" fill="#0000ff" fill-opacity="0.055" fill-rule="evenodd"/><path d="M464.9 565.6l1.8-.6 2.9-.3 5 .1 3 .7 1.8 1.1 .8 1 .9 2 .3 2 .2 21-.3 5.8-1.1 8-1.6 5.1-.3 1.8 .1 5 .5 5-1 7.9 .5 7-.7 4 .3 6.9-.3 4 .9 5-.3 8.9-.8 3-1.5 1-2.4 .4-6.9-.3-1.4-1.1-.4-2 .5-4.9-.4-4 .1-5-.8-6.9 .9-5-.5-5 .4-8-.5-7.9 .1-4-.8-5-2.5-9.9-.6-14.9 .2-14 .4-3.9 1.3-2.5z" fill="#0000ff" fill-opacity="0.069" fill-rule="evenodd"/><path d="M466.4 565.6l5.2-.4 4 .3 2 .4 2.1 1.7 .8 2 .4 2 .3 17.9-.4 7.9-1.1 9-2.1 5.9-.2 6 .5 6-.3 2.2-.7 1.8-.4 1.9 .8 7-.3 2-.9 2-.1 1 .6 3-.5 7.9 1.3 5-.6 6 0 2.9-.2 1.2-.9 .8-3.1 1.1-4.9-.5-1-.4-.4-1.2 .3-3.9-.6-5 .9-7-1.2-3.2-.3-1.7 .3-2 1.3-3 0-1-1.1-3-.2-2 0-3 .8-4-.9-7.9 .5-4-4.2-14.9-.7-14.9 .4-15.9 .3-2 .9-2 1.9-1.5z" fill="#0000ff" fill-opacity="0.114" fill-rule="evenodd"/><path d="M465.2 566.6l1.5-.5 2.9-.3 7 .4 1 .4 1.4 1 .6 1 .5 2 .4 19.9-.7 10.9-1.1 6-2.3 3.9-.8 4-1 1.7-1 .2-2-1.5-2-2.7-2.9-1.2-1-1.2-2.3-5.2-.7-2.5-.9-15.4 .3-14.9 .9-4 .7-1zM470.9 619.3l1.7-.7 1 .5 .2 1.2-.8 1-2.4 .2-.4-.2-.2-1z" fill="#0000ff" fill-opacity="0.179" fill-rule="evenodd"/><path d="M468.5 566.6l4.8 0 3.3 .5 1.1 .5 .9 .8 .7 2.2 .5 18.9-.5 9.9-.7 4-1 3.3-1 1.4-2 1-5.9-.4-2-.7-2-2.5-1.2-3.1-.8-15.2 .3-8.7-.1-5.9 .6-3 1.2-1.7 2-1z" fill="#0000ff" fill-opacity="0.266" fill-rule="evenodd"/><path d="M468.4 567.6l5.2 0 3 .7 1.3 1.3 .4 2 .6 17.9-.5 8.9-.8 3.5-1 2.1-1 1.3-2 .7-4-.1-2.1-.5-1.8-1.6-.7-1.4-.5-2-.7-13.9 .4-8-.1-5.9 .6-2.5 1-1.5z" fill="#0000ff" fill-opacity="0.383" fill-rule="evenodd"/><path d="M469 569.6l4.6 0 1.7 1 .3 .5 1 6.6 .5 11.8-.7 4.9-.1 4-.7 1.6-2 1.3-4 .8-1.9-.8-1-1.4-.4-1.5-.2-2 .5-4.9-.8-6 .5-8 0-4.9 .9-2z" fill="#0000ff" fill-opacity="0.517" fill-rule="evenodd"/><path d="M410.1 566.3l8-.8 6 .4 1.5 .4 0 3.1-.6 1.5 .6 .5 .5 1-.3 4.5 1.5 3-.4 1.5 .7 1.5-.5 7.4 3-.9 1.2 1 .4 1.5-.3 1.5-1.3 .9-1.5-.2-.8-.7-.1-1.5-.6-1.4-.5 2.9-1.3 1.6 .5 1.5 .1 1.5-1.8 .2-1.3 2.8-2.5 1.5-.7 1.7-1.5 .4-6-3.2-2.2-1.9 .4-1.5 1-1.5 .2-3.1-.8-3 .6-3-.5-3 0-4.5-.8-4.5 .6-1.6 1.1-1.4 .4-1.5-2-3zM438.1 566.3l2.6-.6 3 .4 4.5-.5 6-.2 6.1 .2 13.5-.2 6 .4 .6 .5-.1 3.1 .3 3-.3 9 .3 3-.1 7.5-.4 3.1 .5 7.5-.8 3.3-3-.3-3-1.3-3 .8-1-1 0-1.5-.5-.6-1.5 1.9-2.1 .2-2.4 1.2-1.5-.4-1.5-.9-6.1-.4-1.5-.6-1.5 0-2.1 1.1-2.4 1.7-1.1-1.7-2.3-1.5-2.6-3.4-1.5-.2-1.6-.9-.7-1.5 .3-1.5 1.7-3.1-1.2-1.1-1.5-.7-.8-1.2 .2-1.5 1.4-1.5 .2-1.5-1-2.1-3 1.1-1.6-.1-1.6-.4-.8-1.5 .9-1 1.5 .1 1.6 .9 1.5 1.3 .3-1.3 1.8-1.5 .9-1.5-1.1-3 1-4.5 1.6 0 1.5 .8 .8-.8-.8-.3-1.5 .2-1.1-2.9zM432.2 596.5l1-1.1 1.1 1.1-.1 1.5-1 .1z" fill="#fff" fill-rule="evenodd"/><path d="M408.3 566.3l2.3-.9 4.5-.4 9 .2 1.5 .3 1.2 .8 .3 4 1.3 2.1-.5 1.5-.2 3 .9 1 1.5 .1 1.5 .5 1.6 1.6 1.5-.1 .7-1.6-.7-2.1-1.5 .1-.9 .5-.7 .9-.3-.9 1.9-3 1.5-.4 .5-1.1 .1-1.5 1.1-1.5 .2-3.1 1.1-.7 3-.5 3 .2 10.5-.4 25.6 .2 1.3 1.2 .1 19.6-.3 9.1 .3 7.5-.4 3-1 1.9-1.5 0-3 2.4-2-1.3 1.2-1.5-.7-1.5-1.5 1.3-1.5 .7-1.5 1.5-1.5-.8-1.5-1.5-1.5-.9-1.5 .4-3-1-3.1 1.6-3-.1-1.5-1.9-3 1.1-1.5 1.4-1.5 .5-1.5-1-5.4-5.8-.6-.3-1.5-.2-.4 2-1.1 .8-1.5 .1-2.4-.9-.7-.7-1.5-.1-1.4-.7-1.6-1.7-3 1.6-.9 1.6-2.1 1.3-1.5 3.1-1.5-.2-.5-1.2-2.5-1.4-3-.6-2-2.5-2-1.5 .1-1.5 1.8-1.5 .6-1.5 0-1.9-1.2-2.7 .1-1.5 .7-1.5-.6-3 .1-4.5-.6-4.5 .3-3-.4-3-.7-1.5zM430.1 584.4l-1.5 .6-.2 .9 .2 1.9 3-.1 1.6 .8 .6-1.1 1.7-1.5 .7-1.5-1.5-.1-1.5 .7zM430.1 596.4l-1.5 .4-.3 1.2 .3 .5 1.5-.1 .4-.4zM433.2 589.6l-.2 .8 .2 1.4 .7-1.4zM436.2 592.3l-1.4 1.1 1.4 1.4 .5-1.4zM433.2 600.9l-.4 .1 .4 .3 0-.3zM431.4 566.3l.7 0 0 1.6 .9 1.5-1.4 .9-.9-.9 .7-1.5zM416.6 608.5l1.5-1.1 .6 1.1-.6 .4z" fill="#ffa500" fill-opacity="0.070" fill-rule="evenodd"/><path d="M410.3 566.3l4.8-1 3-.1 6 .5 1.3 .6-.1 3.1-1.2 1.5 1.7 1.5-.3 4.5 1.2 3 0 1.5 .5 1.5-.3 7.5-.7 3-1.2 1.6 0 1.5-.9 .9-.5 2.1-.9 1.5-2.7 1.5-.6 1.5-1.3 .5-3.9-2-2.1-1.4-1.8-1.6 1-3 .2-3.1-.7-3 .5-3-.4-3 0-4.5-.8-4.5 .6-1.5 1.4-1.5 .1-1.5-1.9-3zM438.2 566.3l2.5-.9 3 .6 4.5-.7 6-.2 6.1 .2 15-.2 4.5 .4 .9 .8-.2 3.1 .4 3-.4 9 .4 3 0 7.5-.6 3.1 .6 3 .1 4.5-.3 1.5-.9 1.6-3-.2-3-1.4-3 .8-.8-.8 .8-3-1.5 .4-.4 1.1-1.1 1.1-2.5 .4-2 1.2-1.5-.4-1.5-1-3.1-.6-3 .1-1.5-.5-1.5 0-4.5 2.5-.7-1.3-.8-.7-1.6-.8-2.9-3.8-1.5 0-1.3-.7-.9-1.5 .3-1.5 1.9-3.1-3-2-.7-1 .2-1.5 1.3-1.5 .3-1.5-1.1-2.5-.6-.5 2.1-1.8 1.5 .6 .4-.3-1-1.5-.9-.5-1-2.5 1-3.9 3 .9 1.5-1.5-3-1.2-1-1.8zM429.6 581.4l.5-.6 1.5-.1 1.2 .7 1.3 1.5-.9 .3-2.5-.3zM427.8 590.4l2.3-.8 1 .8 .4 1.5-.4 1.5-1 .7-1.9-.7zM432.6 596.5l.6-.7 .7 .7-.7 1.2z" fill="#ffa500" fill-opacity="0.075" fill-rule="evenodd"/><path d="M412.7 566.3l2.4-.6 3-.3 6.1 .9-.1 1.6-1.5 .5-.8 1 .3 1.5 .5 .8 1.2 .7 .6 1.5-.7 1.5-.2 1.5 .6 1.5 0 1.9 1.2 2.6-1.7 1.5 2 .9 .2 .6-.6 6-1.1 1.7-.4 1.4-1.5 3-.1 1.5-1 .8-1.5 .5-1.5 2.1-1.5-.2-1.5-.7-1.2-1-.8-1.5-.9-3 .1-3.1-.6-3 .6-3-.4-3 .2-1.5-1-7.5 2.5-3 0-1.5-.7-1.5zM439.6 566.3l1.1-.4 2.1 .4 0 1.6-.6 .5-1.5 .5-1.1-1zM445.8 566.3l2.4-.7 3 .1 3-.4 3 0 3.1 .4 13.5-.5 6 .8 .4 .3-.4 2.9-1.5 .2 1.5 .1 .8 2.9-.3 7.5-.4 1.5 0 1.5 .7 1.5 .1 1.5-.4 7.5-.5 1.1-1.5 0-1.9 .5-.6 1.5 1 .6 1.5-1.2 1.5 0 .7 2.1 .2 4.5-.9 2.2-3-.2-1-.5-1-1.5 .8-1.5-.3-1.7-3 1.4-1.5-.9-1.5 0-1.5 2.4-3 .9-1.5 1.3-3.9-1.9-.4-1.5 .2-3-.4-.2-3.1 3.1-1.5 .9-3-.1-3 .9-4.5-1.7-1.2-1.4-.3-1.7-1.5-.7-1.5 .3-.9-.9-.2-1.5 1.1-2.1 1.5-.9 1.5-.3 .8-1.3-.3-1.5-.7-1.5-1.3-1-1.5 .3-.9-2.3 .2-1.5 .7-.5 1.5 .6 1.5-.1 .5-4.5 1.7-3-.7-.3-1-1.2-.3-1.5 1.3-2.2 2.1-2.3zM473.8 581.3l-.3 .1-.2 1.5 2 1.3 2.7-1.3-.2-1.5zM438.3 575.4l.9-1 .8 1-.8 .9zM437.3 588.9l.4-1.2 1.8 1.2-1.8 .3z" fill="#ffa500" fill-opacity="0.105" fill-rule="evenodd"/><path d="M414.6 566.3l3.5-.6 1.5 .1 1.4 .5-.3 3.1 .5 1.5 1.7 3-.3 .6-2.6 2.4 1.1 .4 1.4 1.1 .2 3-.8 3 1 3 0 1.5 1 1.5-.9 4.6-1.9 3.1-1.5 1.3-1.5-.1 0 1.7-1.5 .9-1.7-.9-1.2-3-1-1.5-.2-1.5 .5-1.6-.3-3 .4-3-.2-3 .3-1.5-.7-3 .2-3-.2-1.5 2.4-1.5-.4-1.5zM415.1 574.8l-.1 .6 .1 .1 .4-.1zM447.2 566.3l1-.3 3 .1 3-.5 3 0 3.1 .6 3-.5 10.5-.2 1.5 0 2.6 .8 0 1.6-.8 1.5 0 1.5 1.2 .4 1.5 0 .4 1.1-.4 4.9-1.5 0-.7 1.1 0 1.5-5.3 .6-.8-.6 1.3-1.5 .1-3-.6-.6-.9 .6-.6 1.5-1.5 .9-1.1 2.1 1 1.5 1.6 .3 3 3.4 1.5 .4 3-1.9 1.5 0 .4 .8 .1 1.5-.5 4-1.5 0-.1 .5 .1 .7 1.5 0 0 1.7-1.5 0-.5 .6-2.5 1.1-.9 2 .2 1.5-.8 .6-1.5 .9-1.5-.6-1.5 0-1.5 2.5-1.5 .7-1.5 0-1.5 1.3-1.5-.4-1.5-1.1-.6-.9 .3-1.5 1.2-1.5-.9-.7-1.5-.5-3.1 3.3-3 .9-3-.8-1.5 1.1-4.4-1.8-.2-1.5 1.4-1.5-1-3.1 .1-4.5-.6-3 .9-1.5 .4-1.5 0-3 .6-1.5 1.3-1.5 .8-1.5-.8-.8-1.5 0-1.2-.7-.8-1.5 2.3-3 1.7-1.5zM449.7 595.7l-.5 .8 .5 1.9 1.5-.9 .2-1-.2-.5zM457.2 572.9l-1.2 1 .1 1.5 2.7 1.4 .5-1.4 1.5-1.5-.5-1zM467.8 570.1l-.2 .8 .2 .1 .1-.1zM475.3 571.8l-1.8 2.1 .3 .4 1.5 .1 1.2-.5-.4-1.5zM457.2 584.3l-1.5 .8-.1 .8 1.6 .4 1.5-.4zM439.6 593.4l1.1-.8 1.5 .1 1.1 .7-.2 1.6-.9 .7-1.5 .4-1.5-.2-.4-.9zM477.8 598l.5-.5 1.5 0 .2 .5 .3 4.5-.5 1.2-1.5 0-1.5-.5-.6-.7 1.3-3z" fill="#ffa500" fill-opacity="0.143" fill-rule="evenodd"/><path d="M416.9 566.3l1.2-.2 1.8 .2 0 3.1 1.1 3 0 1.5-1.4 .7-1.5-.3-2-1.9 1.6-3-.8-1.5zM451.9 566.3l2.3-.4 3 0 2.2 .4 0 1.6 1.6 1.5-.1 1.5-2.1 1.1-1.6-.2-1.5 1-1.5 2.4-1.3 .2 1.3 .3 3 2.3 1.4 3.4-1.4 .6-3 2.4 .1 1.5 1.4 1.1 1.5 .5 1.6-.3 1.5 .6 1.5 0 1.5-.5 .8-1.4 .6-3-1.1-1.5-.3-.2-3 2.6-1.1-.9-.4-1.5 1.5-2 .2-1-.5-1.5 .6-1.5 4.2-4.3 2.3 1.3 1.3 1.5 .3 1.5-1.7 4.5 .6 1.5 2.7 1.5 2 3.1 1.5 .8 1.5 .1 1.5-1.2 3-.3 0 .9-1.5 0-.6 1.1-.3 3 .2 1.5-.8 .9-1.5 .4-1.6 1.8-1 1.5 .1 1.5-.5 .3-3-.3-1.3 1.5-.7 1.5-1 .6-2.2-.6-1.4-3-2.4-1.9-1.5-.4-1.6 1.2-1.5 2.3-1.5 .6-2-.3 .6-1.5 0-1.5-.4-1.5 .4-1.5-1.6-1-3.4 2.5-1.1 1.3-.4-1.3-1.1-1.6-.5-3 .4-1.5-.2-1.5 .3-1.5 .8-1.5 .3-1.5 .3-3 1.6-1.4 4.5 0 0-.3-3 0-.6-1.3 .6-1.2 1.5 .1 1.4-.4-1.4-1.8-1.5-.2-1.5 .3-1.5-.4-1.5 .2-1.1-1.1 2.3-3 1.8-1.2 3 2 .5-.8zM460.3 591.4l-.3 .5 .3 .5 1.5 0 1.5 .7 1.5-.4 .2-.8-.2-.7-1.5-.7-1.5 .8zM469.3 593.6l-1.2 1.4 1.2 2.5 .8-1 .1-1.5zM462 566.3l2.8-.3 1.5 .3 9-.5 1.5 .5 0 1.6-.9 1.5-2.1 2-3 1.9-1.4-.9 1.4-1.5-.5-1.5-2.5-1.1-1.5-.2-1.1 1.3-.4 .9-2.8-2.4zM474.9 576.9l.4-.6 .4 .6-.4 .5zM414.2 578.4l.9-.7 1.5 .1 1.5-.8 2 1.4-.5 .7-1.5 0-.9 .8-.6 1.5 1.5 1.5 1.5-.3 .3 .3 1.5 3 .2 3 .5 1.5 .1 4.6-1.1 1.2-.8 .3-.7 1-.9-1-.6-.2-1.5 1.5-.7 .2-.8 1-.2-1-1.6-1.5-.3-1.5 1.4-3.1-.5-1.5 1.2-1.2 1.5-.3 .9-1.5 .5-1.5-1.4-1.8-1.5-.4-1.3-2.3-.4-1.5zM440.5 593.4l1 0 .1 1.6-.9 .4-.8-.4zM446 598l.7-1.5 1.1 1.5-1.1 1.1zM461.2 601l.6-.6 .7 .6-.7 .4zM478 602.5l.3-1.4 1.5 0 0 1.5z" fill="#ffa500" fill-opacity="0.197" fill-rule="evenodd"/><path d="M453.7 566.3l1.3 0 0 1.6-.8 1.3-.5-1.3zM456.3 566.3l1.5 0 0 1.6 1.6 1.5 0 1.5-.6 .4-1.2-.4-.9-1.5-.4-1.5zM470.8 566.3l4.5-.1 .5 .1 0 1.6-.5 .7-1.5 .9-1.5-1-1.5-.6zM419 570.9l.6-.5 .2 .5 .2 1.5-.4 .8-1.1-.8zM446.5 570.9l1.7-1.4 .5 1.4-.5 .7-1.5-.1zM452.3 570.9l.4-.7 1.5-.7 .6 1.4 .2 1.5-.8 1.1-1.5 .5-1.3-1.6zM463.5 573.9l1.3-1 1.5 .1 .8 .9 .5 1.5-.4 1.5-.9 1.7-1.5 1.2-3-.6-.9-2.3 .8-1.5zM454 578.4l.2-.4 1.5-.2 .7 .6 .4 1.5-.4 1.5-.7 .6-1.9 .9-.9 1.5 .2 1.5 2.6 1.9 3.1 .4 1.1 .7-2 6.1-2.1 1.5-.1 1.5-1.5 .2-.5-3.2 .3-1.6-1.3-2.7-1.5 0-1.5 1.6-3 1.3-.9-1.7-.2-1.5 .8-3 .7-1.5 1.1-1.4 1-.1-.9-3 1.1-1.5 3.3 .2zM414.9 579.9l.2-.2 .2 .2-.2 1.5zM466.1 582.9l.2-.6 3 1.8 .9 1.8 1.6 1.5-1.5 3 .5 1 3-1.7 1.5-.4 .9 1.1-.9 1.5-3 2.8-1.5-.7-.5-.6-.1-1.5-.9-.4-1.8 1.9-.6 1.6 .1 1.5 .7 1.5-1.4 3-3-4.1-3.3-1.9 1.8-1.3 3 .8 .8-1.1 .2-1.5-.8-3 .6-3-.1-1.5zM419.5 585.9l.1-.3 1.5 4.8 0 4.6-3-.1-1.5 1.7-1.5 .7-1-.8-.5-1.5 2.7-3.1 .3-1.5 1.5-2.3 .9-.7z" fill="#ffa500" fill-opacity="0.283" fill-rule="evenodd"/><path d="M452.6 572.4l.1-.2 .4 .2-.4 .1zM463.8 575.4l1-1 1.5-.3 .6 1.3-.6 1.8-1.5 .9-1.5-.1-1.6-1.1zM454.2 579.9l1.6 0-1.6 1.4zM449.4 581.4l1.8-.7 1.5 .7 1.2 0-1.2 .1-1.5 2.2zM447.9 587.4l.3-.5 1.5 .6 .7 1.4 .1 1.5-.8 .9-1.5 .2-1.5-.6 .3-2zM467.5 587.4l.3-.3 1.5-.5 1 .8-.5 1.5-2 2.8-1.5-1.1-.3-1.7 .3-.6zM452.8 588.9l1.4-1.2 2.8 1.2 0 1.5-1.3 1.3-1.5-.2zM417.3 590.4l.8-1.1 1.5-.2 .8 1.3 .2 1.5-.6 1.5-.4 .4-1.5 .2-1-.6zM472 591.9l.3-.2 .4 .2-.4 1.7zM414.3 595l.8-.9 1.5 .2 .3 .7-1.8 1.4zM461.8 595lz" fill="#ffa500" fill-opacity="0.421" fill-rule="evenodd"/><path d="M451.1 581.4l.1-.1 .2 .1-.2 .2zM448 588.9l.2-.2 .6 .2-.6 .8zM453.8 588.9l.4-.4 .9 .4-.9 .9zM418 590.4l1.6-.3 .5 1.8-.5 .9-1.5 .2-.4-1.1zM415 595l.1-.2 .3 .2-.3 .2z" fill="#ffa500" fill-opacity="0.682" fill-rule="evenodd"/><path d="M464.1 566.3l2.2-.5 10.5-.1 3 .1 .6 .5-.1 12.1 .4 4.5-.1 6-.4 4.5 0 6.1-.4 1.3-1.9 .2-1.1 1.7-1.5 1.4-4.5 0-4.5-.7-1.1-.9-.7-1.5 .4-1.5-.7-3 .3-3.1-.5-1.5 .1-1.5 .5-1.5-.3-4.5 .4-1.5-.4-1.5-.1-4.5 .6-3-.6-3z" fill="#fff" fill-rule="evenodd"/><path d="M462.3 566.3l1-.8 1.5-.4 12-.1 3 0 1.4 1.3 0 31.7-.4 6-1 1.7-1.5 0-3 2.5-4.5 .3-4.5-.8-1.5-1.5-2.6-5.2 .4-6-.5-3.1 .3-4.5-.4-3 .5-4.5-.5-3 .4-3z" fill="#0000ff" fill-opacity="0.070" fill-rule="evenodd"/><path d="M463.3 566.3l1.5-.9 1.5-.2 10.5-.1 3 .1 1.2 1.1-.1 31.7-.8 6-.3 .4-1.5 0-3 1.6-1.5 .2-1.5-.3-1.5 .7-1.5 .2-1.5-.5-1.5-1-2.4-2.8-.6-1.5 .3-7.6-.4-1.5 0-1.5 .4-3-.5-3 .4-6-.3-1.5 .5-3-.4-3z" fill="#0000ff" fill-opacity="0.075" fill-rule="evenodd"/><path d="M464 566.3l2.3-.8 4.5 .2 6-.3 3 0 1 .9-.2 12.1 .4 4.5-.1 7.5-.5 3 .1 6.1-.7 1.3-1.8 .2-1.2 1.8-1.5 1.4-4.5 0-4.5-.7-1.1-1-.7-1.5 .4-1.5-.8-3 .3-3.1-.5-1.5 .1-1.5 .5-1.5-.3-4.5 .5-1.5-.5-1.5-.1-4.5 .7-3-.6-3z" fill="#0000ff" fill-opacity="0.105" fill-rule="evenodd"/><path d="M464.9 566.3l1.4-.5 4.5 .3 6-.4 3 0 .7 .6 0 9.1-.3 3 .7 4.5-.3 7.5-.7 3 .1 6.1-.2 .3-1.5 0-1.5 .6-1.5 1.1-1.5 .5-3 .7-3-.5-1.5-.8-.2-.4 .2-1.5-1.3-3 .4-3.1-.6-1.5 .6-3-.3-3 .5-3-.7-3 .7-6z" fill="#0000ff" fill-opacity="0.143" fill-rule="evenodd"/><path d="M465.9 566.3l1.9-.2 1.1 .2 0 1.6 1.9 1 1.5-.3 .8-.7 0-1.6 3.7-.3 3 .1 .3 .2-.2 7.6 .2 1.5-.3 2.4-1.5 0-1.5 .6-.2 1.5 .2 .2 1.5-.5 1.5 0 .8 3.3-.2 7.5-.6 1.4-2.1 .1-1 1.5 .5 1.6-.1 3-1.8 1.6-4.5 .6-1-.7-.5-1.4-1.5 .7-1.5-1.4-.6-.9 .6-2.5 1.5-.2 1.2 1.2 .3 .7 1.5 .4 1.5-.7 1.5 .4 1.3-.8-.4-1.6-2.4-.5-3-1.5-1.5 .1-1.5 .6-.3-6.2 .6-3-1.1-3 1-6z" fill="#0000ff" fill-opacity="0.197" fill-rule="evenodd"/><path d="M469.1 570.9l.5 0 .2 1.5-.2 1.5-.3 .5-1.5 .9-.2-2.9 .2-.6zM472.5 572.4l1.3-.9 1.6 .9-2.3 1.5 .1 1.5 2.1 1.2 1.5 .1-1.5 1-.1 .7 .3 1.5 1.3 1.5 3-.4 .6 1.9-.3 3 .1 3-.4 2-1.5 0-1-.5-.3-3-1.7-1.5-1.7 1.5 .8 1.5 .4 1.5-1 1.1-1.5 .2-2.2-1.3-.8-1-1.5-.7-.6-2.8 .1-3-.3-1.5-.9-1.5 .2-.6 1.5-1.3 1.5 1.4 1.5-2.3z" fill="#0000ff" fill-opacity="0.283" fill-rule="evenodd"/><path d="M472.3 576.9l1.5 .3 .7 1.2 .8 2.7 1.5 1.2 3-.3 .3 .9-.3 2.6-6-.7-1.5 1.7-3 0-1.1-2.1 0-1.5 .7-1.5 1.9-1.1 .5-1.9zM478.1 588.9l.2-.7 1.5 0 0 1.2-1.5 0zM472 590.4l.3-1.1 .6 1.1-.6 .3z" fill="#0000ff" fill-opacity="0.421" fill-rule="evenodd"/><path d="M472.2 578.4l1.6 .2 .8 2.8 .8 1.5-1.6 .3-1.5-.2-1.5 1.7-1.5-.1-.1-1.7 1.6-.4 .7-1.1zM478 582.9l1.8-.1 0 .6-1.5 0z" fill="#0000ff" fill-opacity="0.682" fill-rule="evenodd"/><path d="M410.1 566.3l8-.8 6 .4 1.5 .4 0 3.1-.6 1.5 .6 .5 .5 1-.3 4.5 1.5 3-.4 1.5 .7 1.5-.5 7.4 3-.9 1.2 1 .4 1.5-.3 1.5-1.3 .9-1.5-.2-.8-.7-.1-1.5-.6-1.4-.5 2.9-1.3 1.6 .5 1.5 .1 1.5-1.8 .2-1.3 2.8-2.5 1.5-.7 1.7-1.5 .4-6-3.2-2.2-1.9 .4-1.5 1-1.5 .2-3.1-.8-3 .6-3-.5-3 0-4.5-.8-4.5 .6-1.6 1.1-1.4 .4-1.5-2-3zM438.1 566.3l2.6-.6 3 .4 4.5-.5 6-.2 6.1 .2 13.5-.2 6 .4 .6 .5-.1 3.1 .3 3-.3 9 .3 3-.1 7.5-.4 3.1 .5 7.5-.8 3.3-3-.3-3-1.3-3 .8-1-1 0-1.5-.5-.6-1.5 1.9-2.1 .2-2.4 1.2-1.5-.4-1.5-.9-6.1-.4-1.5-.6-1.5 0-2.1 1.1-2.4 1.7-1.1-1.7-2.3-1.5-2.6-3.4-1.5-.2-1.6-.9-.7-1.5 .3-1.5 1.7-3.1-1.2-1.1-1.5-.7-.8-1.2 .2-1.5 1.4-1.5 .2-1.5-1-2.1-3 1.1-1.6-.1-1.6-.4-.8-1.5 .9-1 1.5 .1 1.6 .9 1.5 1.3 .3-1.3 1.8-1.5 .9-1.5-1.1-3 1-4.5 1.6 0 1.5 .8 .8-.8-.8-.3-1.5 .2-1.1-2.9zM432.2 596.5l1-1.1 1.1 1.1-.1 1.5-1 .1zM414.2 566.3l3.9-.4 3.5 .4 0 1.6-.7 1.5 .5 1.5 1.9 3-.7 1.5-1.4 1.5 1.4 .8 .4 .7 .2 3-1.1 3 .5 .9 .7 .6 .4 3 .7 1.5-.1 1.5-.9 1.5-.2 1.6-1.1 1.5-1 2.6-1.5 .7-1.5 1.8-1.5 .5-1.9-1.1-2-4.5-.2-1.5 .4-1.6-.4-3 .5-3-.4-3 .3-1.5-.6-3-.3-4.5 1.9-1.5 .4-1.5zM440.6 566.3l.4 0 0 1.6-.3 .1zM446.9 566.3l7.3-.5 6.1 .4 13.5-.4 4.4 .5 0 1.6-.8 1.5 .6 1.5 1.8 .1 .3 1.4-.3 7.7-6 .4-2.6 .9 2.6 3.1 1.5 .7 3-1.8 1.5 0 .4 2.5-.4 7.6-1.5 0-3 1.3-.6 1.7 .3 1.5-1.2 .9-1.5 .9-1.5-.7-1.5 0-1.5 2.5-1.5 .6-1.5 .1-1.5 1.5-3-1.6-.8-1.2 .3-1.5 1-1.5-2-1-3.1 3.3-3 1-3-.4-1.5 .7-4.5-1.7-.3-.4-.2-1.5 1.2-1.5-.7-3-.2 1.5-1.3 1-3 .5-.5-1.5 .7-1.6 1.3-.9 1.5 0 1.5 .9 .3-1.5-.1-3-1-3 1-1.5 .4-1.5-.1-3 .5-1.5 2.3-3-3.3-1.3-.7-1.7 .9-1.5 3-3zM457.2 573.2l-.8 .7 .8 1.7 1.6 0 1.6-1.7-.1-.3-1.5-.4zM475.3 572.4l-.6 1.5 .6 .1 .4-.1zM472.3 575.8l-.5 1.1 .5 .8 .2-.8zM470.8 578l-1.5 .5-.7 1.4 .7 1 1.5-1 .7-1.5zM439.1 584.4l.1-.4 .5 .4-.5 .3zM457.2 585.7l-.3 .2 .3 .1 .2-.1zM449.7 596.5lzM477.3 598l1-.8 1.5 0 .4 5.3-.4 1.4-3-.3-.9-1.1zM417.2 566.3l2.5 0 .1 3.1 1.1 3-.2 1.5-1.1 .5-1.5-.4-1.8-1.6 1.7-3-.8-1.5zM452.1 566.3l5.1-.2 2 .2 0 1.6 1.4 1.5 0 1.5-1.8 1-1.6-.3-1.5 1-1.5 2.4-1.5 .2-1.5-1.8-1.5-.3-1.5 .3-1.5-.3-1.5 .2-.9-.9 2.2-3 1.7-1 1.5 1.3 1.5 .8 .8-1.1zM462.3 566.3l4 0 0 1.6-1.5 1.9-2.5-1.9zM466.3 566.3l9-.2 1.3 .2 0 1.6-.9 1.5-1.9 1.8-1.5 .5-1.5 1.2-.8-.5 1.5-1.5-.8-1.5-4.4-1.5zM463.8 572.4l1-.9 2 .9 1.3 1.5 .4 1.5-1.7 4.5 .6 1.5 2.6 1.5 2 3 1.8 1.1 1.5 .1 1.6-1.2 .5 1.5 0 4.5-.6 .8-1.5 .3-1.8 2-1.1 1.5-.1 1.6-1.8-.1 .3-1.5-.4-1.5-1.1-1.6-1.4 1.6 1.3 3-1.3 1.5-.8 1.5-.8 .5-1.8-.5-1.6-3-2.6-2-1.5-.5-1.6 1.2-1.5 2.3-1.5 .7-1.5-.2 .3-1.5 0-1.5-.4-1.5 .4-1.6-.3-.6-1.5-.6-4.5 3.3-1.5-2.4-.3-2.7 .3-1.5-.1-1.5 1.4-4.5 .4-3 1.3-1.2 4.5 0 0-1.2-1.5 .5-1.5-.3-.3-.8 .3-.7 4.5 0 1.5 .7 1.6 1.5 .5 1.5-.1 1.5-3.5 2.7-.2 .3 .1 1.5 1.6 1.2 1.5 .5 1.6-.2 1.5 .6 1.5 .1 1.5-.2 1-2 .5-3.4-.8-1.1-.7-.4-3 2.5-.7-.6-.6-1.5 1.3-1.5 .4-1.5-.5-1.5 .6-1.5zM475.2 576.9l.1-.2 .1 .2-.1 .1zM414.5 578.4l.6-.5 1.5 .3 1.5-.8 1.6 1-1.6 .5-1.2 1-.5 1.5 .2 1.1 .4 .4 1.1 .4 1.5-.3 1.7 2.9 .7 7.5 0 1.6-.9 1.1-1.5 .7-1.5-.7-1.5 1.5-1.2 .4-.3 .3-1.5-1.6-.4-1.7 1.5-3.1-.3-1.5 .7-.7 1.5-.6 1.1-1.7 .5-1.5-1.6-2.7-1.5 .1-1.1-1.9-.5-1.5zM463.3 589.9l-1.5 1.1-1.5-.1-.4 1 .4 .8 1.5-.1 1.5 .7 1.5-.3 .3-1.1-.3-1.1zM440.6 593.4l.5 0 .3 1.6-.7 .3-.6-.3zM446.3 598l.4-1 .7 1-.7 .7zM461.6 601l.2-.2 .2 .2-.2 .1zM478.3 602.5l1.5-.2 0 .2zM473 566.3l2.3 0 0 1.6-1.5 .6-.8-.6zM458.4 569.4l.4-.1 0 .1 0 1zM452.1 572.4l.6-1.1 1.5 .5 .2 .6-1.7 .8zM464.4 573.9l1.9-.3 .9 1.8-.9 2.4-1.5 1.1-1.5-.1-1.5-1-.4-.9 .4-.8 1.5-1zM453.6 579.9l.6-.9 1.5-.5 .5 1.4-.5 1.5-3 1.5-1.2 1.5 .3 1.5-1 1.5 .1 3-1.2 1.3-3 .7-.6-2 .6-2.1 1.5-2.4 1.9 0 .9-1.5-2.1-3 .8-.9 1.5-.1 1.5 .4zM466.1 584.4l.2-.5 1.5 .3 1.4 1.7 1.8 1.5-2.8 4.5-.4 .6-1.5 .6-.8-4.2 1.2-3-.4-.3zM451.9 587.4l.8-.7 3 1.5 3.3 .7-1.5 3-.3 2-1.5-.1-1.5-1.3-2.1-3.6zM418.1 588.9l1.5-1 1.1 2.5 .2 1.5-.3 1.5-1 .9-1.5 .1-1.5 1.5-1.5 .9-1.1-1.8 1.1-1.2 1.5-.7 .4-2.7zM471.3 591.9l1-.8 1.4 .8-.7 1.5-.7 .7-1.2-.7zM461 595l.8-.6 1.9 .6-.4 .3-1.5 .2zM466.2 595l.1-.5 0 .5 0 .1zM465.2 598l1.1-1.2 .5 1.2-.1 1.5-.4 .7-.6-.7z" fill="none" stroke="#ffa500" stroke-width="1.3"/><path d="M464.1 566.3l2.2-.5 10.5-.1 3 .1 .6 .5-.1 12.1 .4 4.5-.1 6-.4 4.5 0 6.1-.4 1.3-1.9 .2-1.1 1.7-1.5 1.4-4.5 0-4.5-.7-1.1-.9-.7-1.5 .4-1.5-.7-3 .3-3.1-.5-1.5 .1-1.5 .5-1.5-.3-4.5 .4-1.5-.4-1.5-.1-4.5 .6-3-.6-3zM465.8 566.3l3.5 0 0 1.6 1.5 .7 1.4-.7 0-1.6 4.6-.2 3.2 .2-.2 11.9-2 .2 .5 .4 1.5 0 .5 4.1-.1 7.5-.4 1.5-1.6 0-1.1 1.5 .4 1.6 .2 3-1.5 1.5-.9 .4-4.5 .8-1.5-.3-.3-.9-1.2-.3-1.5-1.5-.6-1.2 .6-2.9 1.5-.2 1.5 1.4 1.5 .8 1.5-.5 1.5 .4 .8-.5-.5-1.6-3.3-.9-1.5-.9-1.8 .3-1.2 1.2-.3-1.2 .2-3-.3-3 .6-3-1.1-3 1-6zM476.8 579.6l0 .3 .2 0zM476.6 566.3l.7 0 0 1.6-.5 .3zM467.8 570.9l1.5-.9 1.7 .9-.4 1.5 .2 2.7 .4-2.7 2.4-1.5 1.7-.1 1.1 1.6-2.2 1.5 .1 1.5 1 .5 1.5-.7 .7 .2 0 1.5-1.9 1.5 .2 1.5 1 1.2 3-.4 .4 2.2-.4 8.2-1.5 0-2-.7 .3-3-1.3-1.1-1.2 1.1 1.1 3-1.4 1.5-1.5 .1-3-1.9-1.5-.5-.9-3.7 .3-3-1.2-3 .3-1.4 1.4-1.6-.4-3 .1-1.5zM469.3 576.1l-1.1 .8 1.1 1.8 .6-1.8zM466.9 596.5l.9-.9 .4 .9-.4 .5zM471.6 578.4l.7-1.2 1.5 .3 1.5 4 1.5 1.1 3-.4 0 3-6-.8-1.5 1.5-3 .1-.9-1.6 .1-1.5 .8-1.4 1.5-.7z" fill="none" stroke="#0000ff" stroke-width="1.3"/></g><g clip-path="url(#c54)"><g mask="url(#mo)"><path d="M521.1 565.6l2-1 69.3 0 0 108.5-1.9 1.9-69.5 0-3.2-1.6-2.3-2.4-1-3 .5-3.9-2.4-3-.2-2 .8-3 0-1-1.3-2.1-.5-1.9 .5-1.1 1-.6 2 0 1-.8 .2-4.4 1-7-.3-1-2.4-3-1-6.9-1.7-2-.3-1 .5-1.1 3-1.8 .2-1.1-1-3 1-4-.2-1-1.7-2.9-.3-1.8-1-2.2 1.5-6-.1-1-1.6-4 0-1 .9-2.9-1-4 .3-1 3.1-3 .2-1-.5-3 .1-4-.4-2.9 .1-2 .4-1 1-.9 .9-.3z" fill="#ffa500" fill-opacity="0.024" fill-rule="evenodd"/><path d="M525.1 565.6l2.7-.7 4.1-.3 59.9 0 .6 .7 0 69.4-.2 2.5 .2 12.5-.3 3.4 .3 2.1 0 13.6-1.1 3.2-.8 1.1-1 .7-2 .5-6 .1-4-.8-5 1.3-5.9-.4-9 .5-6.9-.5-4 .2-3-.8-1.3 .1-2.7 .9-4-1-3.8 1.1-3.7 0-2.4-1-3-.2-2-.5-2.1-1.3-1.7-2-.5-1-.1-2 1.8-4.9-2.3-1.2-.8-.8-.2-1 .8-3 2.2-4-.3-6.9 .5-5 .9-3-.7-3 0-3-1.2-3.9-.4-3 .4-4-.9-4 .5-4-.7-3.9 .4-3-1.1-2-.1-1 .6-7 1-2 0-1-1.6-2.9-.5-3 .3-1 3.5-3 .5-1-1.3-5 .4-3.9-.4-3 1.2-1 3.4-2z" fill="#ffa500" fill-opacity="0.028" fill-rule="evenodd"/><path d="M533.3 565.6l2.3-1 54.9 0 1.9 2 0 42.1-1 3.6 .6 6-1.1 5 .6 7.9-.6 7 .8 6-1 7.9 1 10-.4 4.9-.7 3-1 2-1.1 .8-2 .4-5-.1-4-.9-5 1.3-5.9-.4-9 .6-5.9-.6-5 .3-3-.8-4 .7-4-1-5.9 1.6-2-.4-2-.8-3-.4-1-.3-1.1-1-1.3-4 .4-1 3-2.1 .2-.8-.2-1-2.2-4 .1-1 2.1-2.9 .2-1.1-.7-2-1.8-2-.4-1 0-.9 .6-1 1.3-1 .1-1-1.7-2-.4-1 .1-1 1.7-3 .1-1-.4-4-2-3.9-.4-8-1.2-4 .3-2 .6-1.9 1.6-2 .3-5-.6-3-1.9-3 0-2 1.6-3 .6-2-.2-.9-1.9-3 0-1 3.1-5 .1-1-.9-4 .6-3 0-3.9 .9-2 1.3-1 1.4-.6 3-.7z" fill="#ffa500" fill-opacity="0.041" fill-rule="evenodd"/><path d="M535.7 565.6l3-.8 7.2-.2 43.2 0 1.4 1 1.8 2 .1 38.6-2.1 6.1 .6 6-1.1 5 .6 6.9-.8 7 .9 7-.8 3.9-.3 4 .8 4 .4 6-1 6.9-1.1 2-1 .7-2 .5-2-.1-3-.5-3-.8-5 1.4-4.9-.5-10 1.1-5.9-1.1-5 .4-4-1.1-3 .5-1-.3-2-1.7-1-.3-1.9 .4-2.2 2.4-1.8 .6-2-.4-4-2.2-.3-1 .2-1 2.2-2.9 .3-1-1.5-7 .9-3-1.5-4 .5-3.9-.6-5 1.1-2 1.1-4 1.9-3 .1-3.9-.4-1.8-1-.9-2-.2-2 1.1-.3-.2-.1-1 1.4-4-.3-1-2.1-2-.9-2 .3-1.3 2-.7 1.3 0 2.7 1.5 1 0 1-.9 .6-1.6-.3-1-2.3-3.3-2.1-.6-.9-.7-.3-1.3-.4-3 .6-4-1.1-3 .1-1 2.3-2 .8-1-.1-.9-2.9-1.2-1-.7-.5-1.1 .3-2 2.1-2 .1-1-.3-5 .3-3-.8-3.9 .5-2 1.3-1.1 3-.9 5-.9zM535.7 632.9l-.9 .3 1 1 .9 .2 1.4-1.2-.4-.4z" fill="#ffa500" fill-opacity="0.056" fill-rule="evenodd"/><path d="M544.9 565.6l7-1 34.6 0 2 .4 2 1.3 1.5 2.3 .4 2.1 0 32-.5 2.7-2.5 5.9-.6 2 .9 5-1.5 5 1 6.9-.5 2-1 2-.2 1 .4 3 0 3 .8 3-.2 .5-1 .3-1-1.7-1-.3-1.4 1.2-.6 2 .6 1 2.2 1.9 1 3 1.5 3 .4 2 .3 3-.2 2-1.8 6.9-1 1.3-2 .4-2.4-.7-2.6-1.2-2-.4-1 .1-3 1.5-3.9-.8-7.9 1.8-4.1 .5-2-.5-2.9-1.7-1-.1-4 .5-1-.7-1-1.2-6-1.4-2.2-1.3-.9-1-1-2-.5-2 .1-1 .5-.7 1.3-.3 2.7 1.9 1 .1 2-2.7 2.3-2.3 .5-1 .1-1-.9-1.6-.1-1.4 .9-2 .1-1.9-.7-2-.7-1-1.5-.6-1 .1-3 2-1 .2-1-.1-1-.9-1.9-3.7-2-2 0-1 1-.4 2.9 .9 1-.1 2-.7 2-1.6 .8-2.1-.6-2-1.2-1.2-1.9-.8-1.3-.9-.1-1 .3-.6 1-1 2 .1 1-.4 1.2-3.1 2.3-2 1.5-1.7 4.6-1.3 .9-1-1.5-.7-1 0-2.9 .7-2.1 1.6-3-.6-1 0-2 .7-1-.2-.3-.5 .3-1 1.7-1 .8-1 .1-1-.4-1-2.2-.8-2.9-.4-1.3-.7-.9-1-.9-2-.7-4-1.7-1-.6-1-.2-4 1.3-4.5 1-6.8-.3-1.6-.7-1.2-2-.8-.5-1 .1-1 .4-.9 1-.7 2 1.2 .1-.6-1.3-4-2.1-2.9-.3-1 .7-1 1.4-1 8.4-3.6 3-.4zM570.6 653.1l-.7 1 .7 1.8 1 1.2 1.3-1 .6-1.4-.1-.6zM575.5 643l-.8 1.2 .1 1 .7 1.4 1-.1 .5-1.3-.1-1-.4-1zM577.5 622.1l-.8 1.2 .4 1 1.4 1.6 1 .5 1-.1 .6-1-.5-2-1.1-1.3-1-.3zM581.5 651.6l-.4 .5 .4 1.4 .6-.4zM549.7 631.2l-2 .5-.6 .5-.2 1 2 4 .1 1-.7 2 .4 1 1 .4 3-.2 2.9 .9 1-.2 .8-.9 0-1-.5-1-3.2-3.1-3-4.5zM580.5 650.9l0 .2 0 .1 .2-.1zM547.7 645.9l-.9 1.3 .7 3.9-1.3 2 1 2-.1 3 1.5 2 1.1 .7 4.9 1 1 .6 1.1 1.7 .9 .7 1 0 .9-.7-.6-2-.3-3.2-1-.6-2 .4-3-2.6-3.1-2-.6-1-.1-1 .3-1 1.6-1.9 .5-1.1 .2-.9-.2-1-.5-.6-1-.3-1 .1zM530.6 620.3l1.6 0 1.9 4 .3 2-.5 1-1.1 .7-1 .1-1-.7-.5-1.1-.9-4 .1-1zM526.6 642.2l1.2-.9 1 .3 .4 .6 0 1-.4 .8-1 .7-1-.4-.4-1.1zM526.7 649.1l1.1-.4 3 2.4-.8 1-1.2 0-2-1.6zM528.8 658.1l1-.3 1.7 1.3 .3 1-.4 1-.6 .5-1 .1-1-.6-.3-2z" fill="#ffa500" fill-opacity="0.074" fill-rule="evenodd"/><path d="M549.4 565.6l6.2-.8 7.1-.2 4.9 .4 11.3-.4 8.6 .8 2 .8 1.3 1.4 1 3 .6 14.9 0 9.8-.4 6.1-.8 4-.7 1.9-1 1.8-2.5 3.2-.9 2 0 1 1.4 1.7 .3 1.3-.3 1.3-1 1.1-1 .5-1-.4-.9-1.5-.2-2-1.3-1-2.6-1.1-2.6 .1-.4 1 .5 2-.6 1-1.9 .6-1-.4-.6-1.2 1.4-3-.6-1-2.1-.7-1.8 .7-1.9 2-2.3 1-1 0-2-2-1-.4-3.1 .4-.7 1 .8 .9 .3 2.1-.3 .5-1 .4-1.2-.9 .2-1.8 .9-1.2-.3-1-2.6-1.3-3.9-.8-2.6-.9-1.8-1.9-3-2-2.2-1-3.4-.7-1-.6-1.9-2-2.6-3.7-1-2-.5-3 .3-4.9 .6-3 0-3 .7-4-1-7 .2-1.9 2.3-3 2.9-1.8 2-.4 6-.2zM570 625.3l1.6-1 .9 .2 2 1.5 .4 1.3-1.4 1.5-2 .4-.9-.4-.5-.5-.4-2zM585.1 626.3l.4-.4 1 1 .2 1.4-.2 .8-1.2 .1-.7-.9zM573.2 633.2l2.3 .1 2 1.5 4 1.8 1 1.5 .4 1.1-.4 2-1 .8-1-.4-4-4.3-4.7-2.1-.2-1zM561 638.2l.6-.4 1 .2 2 1.4 1 .1 3-1.6 1 .3 .7 1 .2 1-.9 4-.1 2-.9 .4-3-.3-1 .3-1 1.5-1 3.7-1 .7-2 .1-2.8-1.5-1-1-.2-1 .2-1 .7-.9 4.7-4 .3-1-1-3zM565.1 656.1l.5-.6 1 .9 .2 .7 .1 2 .8 3-.1 .9-1 .3-1.1-1.2-.9-2-.2-2zM585.1 656.1l1.4-.6 1 1.1 .3 1.5-.3 2-1 .4-1.2-.4-1.4-1-.1-1zM576 658.1l1.5-.9 1 0 2.9 1.9 .2 1-1.1 1.5-1 .3-2-.4-2.3-1.4-.1-1z" fill="#ffa500" fill-opacity="0.101" fill-rule="evenodd"/><path d="M554.7 565.6l9.9-.1 3 .8 2-.2 2-.6 10.1 .1 1.8 .6 5 .3 2 1.9 .2 7.1 .7 3.6-.2 2.4 .3 3 0 12.9-.6 1-.4 6.7-.9 1.3-.1 1.1-3 2.9-4 2.2-3-.1-3-.7-4-.3-2.9 .2-2 .7-2-.9-2-1.7-1 0-2 1-4 .8-4.9-.1-5-3.8-1-.3-2-1.3-5.7-2.7-1.3-.8-1-1.2-1.9-4.1-.4-2.9 .1-4.9 .9-8-.5-8 .9-3.6 .8-1.3 1.1-.3 1-.8 8-.1 1-.2 1-.7 5-.1 1-.1z" fill="#ffa500" fill-opacity="0.072" fill-rule="evenodd"/></g><path d="M562.1 565.6l9.5 .2 4.9-.5 4 .5 6 .1 1 .2 2.4 1.5 1 2 .2 2 .1 11.9 .4 7-.5 10.9-.3 2-1 3-1.3 1.6-2 1.6-3 1.4-3 .5-5-.6-7.9 .3-3-1.9-2-.5-2 .3-4 1.3-3.9 .2-1-.3-4-2.9-9-4.6-1.6-1.4-2.2-5-.4-2 1-11.9-.4-9.9 .7-3 1-1 .9-.5 3-.7 4-.1 8-1.4z" fill="#ffa500" fill-opacity="0.055" fill-rule="evenodd"/><path d="M552.1 566.6l2.5-.4 7-.3 6 .3 9.9-.4 9 .7 2 .7 1 .8 .8 1.6 .2 2 .6 22.8-1 9-1.1 3-1.5 1.6-3 1.5-4 .6-3-.4-8.9 .3-4-1.7-2-.5-2 .1-4 1.2-2 .1-1.9-.6-1.9-1.2-4.1-1.9-2.8-2.1-3.2-.9-1.7-1.1-.7-1-.6-2-1.5-3-.1-1 .3-1 1.5-1.9 .2-1-1.5-3 .9-6 .3-1 1.8-2 .3-1-.4-1-1.8-1.1-.6-.9-.4-1.9 .2-2 .6-1 1.7-1 2.5-.4 3-.1z" fill="#ffa500" fill-opacity="0.069" fill-rule="evenodd"/><path d="M558.9 566.6l3.7-.2 6 .4 8.9-.5 9 .8 1.4 .5 1.2 1 .5 1 .3 2 .7 23.8-1.2 8-.9 2-2 1.9-3 1-6-.3-5 .6-4.9-.7-5-1.5-6 .2-7.7-2.2-1.3-1-1.9-2.6-1-.8-3-.6-2.4-4-.2-1 2.7-6.9-.7-5 1.2-3 .4-2-.1-2-.4-1-1.6-1.9 0-2 1.1-.7 3-.2 2.4-1.1 3.2-1 4.3-.8z" fill="#ffa500" fill-opacity="0.114" fill-rule="evenodd"/><path d="M554.8 567.6l7.8-.5 6 .5 8.9-.5 8 .8 2 .6 1 1.1 .4 2 .5 4.9-.2 6 .7 11.9-1.2 7-1.2 2.2-2 1.1-3 .9-6 .3-4 .6-4.9-.6-5-1.3-4-.3-3-.9-2.9-.4-2-1.1-2.5-4.5-.9-4-.6-1-1.2-.9-.5-1 1.9-10-.3-5 2.1-4.9 .8-1 1.7-1z" fill="#ffa500" fill-opacity="0.179" fill-rule="evenodd"/><path d="M559.6 568.6l3-.4 8 .7 6.9-.4 6.8 1.1 1.4 1 .8 1.2 1.2 3.7 .1 3-.7 4 1.5 11.9-.5 3-.6 1.5-1 1-7 2.8-6 .4-3.9-.5-3 .2-6.7-1.4-5.3-2.6-1.9-1.5-1-1.4-.3-1.5 .5-2.9-.4-3 1-3 .2-2-1.6-7 .2-2 1.1-2.9 1.3-1.5 .9-.6z" fill="#ffa500" fill-opacity="0.266" fill-rule="evenodd"/><path d="M568.2 580.5l1.4-.1 2.4 1.1 .5 1 0 1-1.4 3 .5 .5 1.9 .6 1.3 .9-1.1 3 1.5 2.9-.5 1-1.2 1-1.3 0-1.5-1-2.1-3.6-1 .4-2 2.2-4 1.1-2-.6-1.3-1.5-.1-1 .4-1 3-1.3 2-3 2.2-1.6 .6-1 .8-3zM579.4 592.4l2.8 1 1 1-.1 1-1.1 1-2.5 .7-1-.2-1.5-1.5-.2-1 1.7-1.7z" fill="#ffa500" fill-opacity="0.383" fill-rule="evenodd"/><g mask="url(#mb)"><path d="M518.9 565.6l5.9-1 67.6 0 0 108.7-1.6 1.7-53.8 0-1.3-.7-.9-.1-2.1 .8-4.9-.2-6.7 .2-4.3-2.1-2.9-2.9-.6-1 .3-1 2.3-2.3 1.2-2.6-.2-1-1.7-3-.4-2 .3-2 .9-2 .3-2-1.1-6.9 1.3-3 .1-1-.2-1-1.7-3-.2-1 .2-4 1-3.9-.6-5 1.2-3 .2-2-.6-1.8-1-.8-1.3-.4-.2-1 2.5-1.9 1-2-1-2.9-1-.8-1.5-.3-1.8-7 1.2-2 .5-2 .6-.7 2-1.2 .1-1-1.5-2-.6-2 0-3 2.3-3 .1-1-2.3-11.9 .3-1 1.6-1.5z" fill="#0000ff" fill-opacity="0.024" fill-rule="evenodd"/><path d="M526.7 565.6l2.1-.4 4-.1 3.1-.5 55.8 0 .7 .7 0 101.6-.5 4.1-1 2-1.4 1.1-2 .4-4-.3-9 .3-3.9-.1-5 .3-6-.1-3-.6-3.9 .6-5-.4-6 .6-2-.3-4-1.7-4.9 .6-3.6-.4-4.4 .8-2.2-.8-2.5-2-.4-1 .2-1 3-5.9-.6-1-2.5-2-1.1-2-.1-2 1.3-4-.6-4.9 1.4-5-.6-4-1.6-3-.3-2 .4-2 1.5-2.9 .2-3 1.3-2-1.4-3-.3-4-.7-3 1.4-3.9-.6-3-.4-5 1.8-3-.8-4 0-1 2-4.9-.8-1-2.2-1-.7-1-.1-1 2-3 .3-1-.6-4-1.9-3.9-.2-2 .5-2 .9-.9 2-.6 4-.5z" fill="#0000ff" fill-opacity="0.028" fill-rule="evenodd"/><path d="M536.9 565.6l3.8-.8 2.6-.2 46.8 0 2.3 2.3 0 39.3-.8 3.2-.2 1.9 .3 5 .5 3-.9 5 .1 3-.2 2.9 .2 3-.6 8 .4 4-.5 2.9 1.3 13-1.5 9.9-.5 1-1.4 1-2.1 .3-9-.5-16.9 .5-4-.6-3.9 .5-5-.3-6 .5-2-.4-4-1.7-3.9-.1-3-.5-5 1.5-1.4-.2-1.1-1-.1-2 1.9-3.9 .2-2-.5-1.4-1-1.3-2.8-2.3-.4-1-.1-1 1.1-4-.2-4.9 1.2-4-.4-4 .7-2 2-4-.4-4.9 1-3 0-1-.7-1.7-2.8-3.3-.6-5 0-1 1.1-3.9-.6-6 .1-1 1.4-3 .1-1-1-4 .2-1 2.4-5.9-.3-1.4-2-1.6-.2-1 1.5-4-.3-2-1-2.7-1.9-2.2-.2-1 .2-1 .9-1.1 4-1.1 3-1.5 2-.4 5-.2z" fill="#0000ff" fill-opacity="0.041" fill-rule="evenodd"/><path d="M543 565.6l10-1 33.9 0 2.6 .6 1 .7 1.4 1.7 .5 1.9 0 32.4-2 8.5-.1 1.9 .7 8-.9 4 .3 3-.4 2.9 .2 3-1.2 8 .8 3 0 1-.6 2.9 .5 5 .7 3 .3 5-1 4-.2 4.9-.4 1-1.4 1-2.2 .1-8-.9-5.9 .2-5 .5-4-.3-2 .4-4-.8-2.9 .7-5-.4-7 .5-2-.9-2-1.5-4.1-.6-1-1-.4-1-.3-1.9-1.1-1.1-1 0-1 .5-1.8 2.5-1.2 .2-.1-3.1-.4-1-1.8-4-2.6-3 .9-1.6 3-.5 2.4-1.9 .8-1 .1-1-.8-1-1.5-1.1-3-.7-.5-1.1 .2-1 1.2-2 .1-1-1.1-2 .1-2 2.9-4-.3-4 1.5-3.9-.3-1-1.8-3-.6-2 .6-1.3 2-.1 1.2-.6-3.2-4-2-1.7-.3-1.3 .3-1.1 2-1.5 .7-1.3 .7-2-.4-2 .3-1 1.7-.7 2-2.3 1-4 0-1-1-.7-5 4.2-1 0-1.2-1.5-.3-2 2.8-6.9 .2-3-.4-3 1.4-4-2.7-2-.6-1-.2-1.9 .4-1 1-1 3.6-2.4 6-.8 4.9-1.4z" fill="#0000ff" fill-opacity="0.056" fill-rule="evenodd"/><path d="M551.6 565.6l7-.8 13-.2 4.9 .6 6-.4 6 .9 1.7 .9 .8 1 .6 2 .8 5.9-.1 19.9-1.2 9-2.3 6.9 .3 5 .7 3-.3 2-1.2 2-.2 1 .9 3-.5 1.7-1 1.6-1-.2-2-2.1-3 1-2 .1-.8 .8 0 1 .6 5 1.2 1.1 1-.2 .7-.9 .6-3 .7-1.1 1-.2 2 .4 1 .8-.4 5.1-3.9 4-.3 1 .4 3-1.5 3.9 0 1 .7 1 5 2.4 1 1.1 .2 4.5-.2 1.2-1 0-1.5-2.2-3-2-1.5-2.3-1-.9-1 0-2 .5-1-.5-2-2.7-2 1.7-.9 .4-4-.3-1-.5-3-3.2-3-2.4-3.6-1.7-.5-1 .2-1 .8-1 4.7-2 .1-1-.9-2-.8-.7-3.6-1.3-1.1-1 0-3-.5-2-2.9-2.9 0-1 .6-1 3-4-1.5-.7-5.9 2.1-.4-.4 1.2-3-.3-2-.6-1-1.9-1.5-4-2.4-2 .2-2.2 2.7-.8 .2-1.5-.2-.8-1 1.1-2.9-.3-1-1.6-3-2.8-2.8-.6-1.2-.1-1 1.8-6-.1-2-1-2.5-2.7-3.4-.7-2 .5-6 2.9-5 0-1-.8-2.9 .9-1 5.8-2.5 3-.6zM560.6 628l-1 .4-.7 .8-.2 1 .2 1 .7 .7 1 .3 1-.2 1-.8 .5-1-.1-1-.4-.4-1-.7zM565.6 639.1l-1.6 1.1 .7 1 3.1 0 1.4-1-.7-1-.9-.6zM572.5 639.8l-1.9 1.4 1.9 3.4 1.4 1.6 .6 2.6 1 .4 .4-1.1-.8-1.9 .9-1 3.6-2 .5-1-.8-1-4.8-1.9zM576.5 615.3l.1 1 1.9 1.7 1 2.4 .9 .9 1.1-.1 1.5-.9 .6-1-.1-1.4-4-.8-2-2zM577.5 624.9l-.5 .4-.4 1 .3 1 .6 .4 1-.6 .2-.8-.2-1.2zM542.7 620.3l1-.2 .3 .2-.3 .2zM538.1 634.2l.6-.4 1 .1 2 .9 4.3-.6 .7 1-.7 3-1.3 1.4-1 .4-6-.4-.9-.4-.6-1 .1-1 .9-2zM550.4 635.2l1.6 0 .3 1-.6 .6-1-.2-.3-.4zM534.7 644.2l1-.4 1 .4 .3 1-1.3 .8-.9-.5zM550.1 648.1l.6-.5 1.3 .5 2.3 3 .3 1.3-.9 .4-2-.8-1.5-1.9-.3-1zM541.4 649.1l.3-.2 .2 .2-.2 .3zM556.4 654.1l2.2-.8 2 .1 3 2.3 2-.5 1 .5 1.4 1.4 1.6 .6 1-.2 1.9-1.7 1-.4 3 .2 1.6 1.5 .2 1-1.2 2 .1 3-.2 1-1.5 2.6-1 1.2-1 .5-4.9 .5-1.4-.9-.3-2.9-.3-.5-1-.7-1-.2-.4 2.4-.6 .9-1 1-1 .4-1 0-.8-1.4 .6-1.9 1.2-1.2 2.6-.8 .2-1 0-4-.8-1.7-1 0-3 1.6-.8 1.1-1.2 3-1.2 4.9-1.8 2-1.9 .6-3-.3-3 .6-2-.6-.4-1.3 .2-1 .3-.9 .9-1.2 4-.2 1.4-.6 .6-.7 1.3-4.3 2.6-3zM530.6 656.1l2.2-.3 5.9 .7 1 .6 .6 1 .8 2 0 1-1.4 1-3.7-1-4-2-1.2-1-.6-1zM582.9 663.1l.6-.7 1 0 .5 .7-.5 .5-1 0zM583.7 668l1.8-.9 1 .1 1.1 .8 .2 1-.2 1-1.1 .7-1-.1-1.5-.6-.7-1z" fill="#0000ff" fill-opacity="0.074" fill-rule="evenodd"/><path d="M567 565.6l4.6-.3 4.9 .5 7-.1 5 .7 1.7 1.2 .7 2 .8 5.9 .2 10-.5 5 .1 5.9-.9 7-1.1 2.9-2 3.3-1 1.1-2.7 1.6-1.3 1.5-1 .4-2.7-1.9-2.3-.4-1.2 .4-2.8 1.9-.9-.4-1.2-1.5-.8-.4-6-.9-2.2 .3-2 1-1.3 1-1.5 2.3-1 .4-1-.2-.4-.5 .4-3-.5-1-1.4-.8-5-.9-3-1.5-1-.1-3 .4-1-.2-1.2-.8-1.5-3-2.9-3-.2-2 .7-4-.2-2-.9-3.9-2-3-.3-2 3.4-10 .3-3.9 .5-1 1.3-1.2 4-1 13.9-1.6zM569.4 618.3l2.2-.6 1.9 .6 1.9 1 .9 1-.1 1-2 1-6.6 1.3-3 .1-.5-.4 2-3zM567.2 646.2l.4-.5 1-.3 1 .7 .8 1.1 .3 1.9-.4 1-.7 .6-1 0-1-.3-1.2-1.3-.2-1 .2-.9z" fill="#0000ff" fill-opacity="0.101" fill-rule="evenodd"/><path d="M554.1 566.6l30.4-.1 .8 .1 1.2 .7 2 .2 1 .8 .4 2.3 .6 1 0 27.8-.6 1-.4 3.4-.6 .6-.4 1.2-2 1.9-3.3 1.9-2.7 .5-4-.3-3 .2-3.9-.9-3 .6-3-.4-3 .1-4-.6-1-.7-2.6-.5-2.3-1.4-4-.2-4-1.3-2-1.1-2.3-2-.3-2 .7-2-2.1-3.7-.3-2.2 0-2 1.3-2-.7-3 0-3-.4-3 1-4-.3-3.9 .6-1 3-1 3.8-.3 2-.7 6-.3z" fill="#0000ff" fill-opacity="0.072" fill-rule="evenodd"/></g><path d="M558.2 566.6l7.4 0 6-.6 3.9 .8 7-.2 5 .6 1.8 1.4 .6 1 .9 5.9 .2 11-.6 4 .4 4.9-1.2 7-.9 2-1.2 1.2-4 2.6-3 1.1-7-.5-2.9-.6-4 .6-6-.2-7.9-2.5-3-1.4-5-.9-2-1-1.7-1.4-.4-1 1.2-3 0-1-1-1-2.1-1.1-1-1.7-.1-1.1 .5-1 2.6-.8 .6-1.2-.3-2-1.5-2-.6-2 .3-1 2.5-3 .4-1-.2-1-1.3-1-.6-1-.7-2.9 .1-1 2.1-1 4.2-1.3 7-1.3z" fill="#0000ff" fill-opacity="0.055" fill-rule="evenodd"/><path d="M553 567.6l5.6-.6 13-.3 4.9 .6 8 0 3 .7 1 .6 1 2 .7 4.9 .2 10-.5 5 .2 4.9-.9 6-.7 1.8-1 1.2-5 3-2 .8-1 0-4-.9-3.9-.3-5 .9-5-.2-2-.4-5.9-2-4-1.8-4-1-2.1-1.1-.5-1 .4-2 1.4-2 2.1-2 .5-1-.1-1-.7-.8-2-.4-1.2-.7-1.2-5-.9-2 0-1 .4-1 2.9-3.2-.1-1.8-1.2-3 .2-.9 .7-2 1.2-1z" fill="#0000ff" fill-opacity="0.069" fill-rule="evenodd"/><path d="M567.3 567.6l4.3-.2 3.9 .6 9 .2 1.8 .4 1.2 .6 1 1.4 .9 4.9 .3 9-.6 6 .3 4.9-.3 3-.6 2.1-1 1.7-2 1.5-4 2.2-2 .3-4-1.4-3.9 .1-5 1.7-5-.5-8.9-3-3.3-1.7-1.3-1-.6-1 .1-2 1.9-3 .2-1-.3-1.9-2.1-4-.5-4 1-5-.7-4 .1-1 1.1-1.9 2.1-2 3.3-1.3 5.9-.6z" fill="#0000ff" fill-opacity="0.114" fill-rule="evenodd"/><path d="M570.4 568.6l2.1 .1 3 .7 4 .1 2 1.1 1 .3 2-.2 2 .9 1 2.5 .9 7.4-.5 6-1.4 4.9 1 2.2 .1 2.8-.3 1-.8 1.1-5 2.3-2 .3-7-.6-5.9 2.5-5-1.6-3-1.3-4-.6-.9-.5-1-1-.3-1.6 .3-4-.5-3.9 .4-3-.1-1-1.8-4.3 0-6.7 1-2.5 1-1.1 1-.5 2.9-.4 4-.9z" fill="#0000ff" fill-opacity="0.179" fill-rule="evenodd"/><path d="M574.2 581.5l1.3-.6 2 .3 1.8 2.3 .5 2-.3 1.7-.8 1.3-1.2 .8-1 .1-2-.9-2.8-2-.7-1z" fill="#0000ff" fill-opacity="0.266" fill-rule="evenodd"/><path d="M548.6 566.3l1.4-.5 1.5-.1 1.6 .4 3-.4 6-.2 18.1-.1 10.5 .4 .6 .5-.2 3.1 .5 3-.1 1.5-.8 2.6-3-.1-.4 .5 1.9 2.4 1.5 0 .8 3.6 .1 1.5-.5 3 .6 6-.8 4.6 .5 3-.7 4.9-4.5-.1-4.5-2.2-1.5 .4-1.6 1-1.5-.1-1.5 .4-3 1.9-2.5-1.7-.5-1.3-1.5-.3-1.5 .8-1.5 .1-4.5-1.8-1.5 .1-1.5 .6-4.2-4.2 0-1.5-.3-.2-1.5 3.2-.2 1.5 .2 1.5-4.2-1.5-1.8-1.5-.4-1.5 2.3-3 .1-1.5-.6-.6-1.5-.4-3 .3-1.3-.9 .5-1.5 .8-.8 3-1.8 0-.6-2.8-2.8 1.3-2.1 1.5-1 .8-1.4 0-3 .7-.8 1.6-.7-1.1-3 .2-1.5 .7-1.5zM554.6 596.3l-.3 .2 .3 .4 .3-.4zM537.4 575.4l.6-.9 1.5-.1 .7 1-.7 .7-1.5 .5zM537.6 591.9l.4-.6 .6 2.1-.6 .4-.8-.4z" fill="#fff" fill-rule="evenodd"/><path d="M534.7 566.3l.8 0 0 1.6-.8 0zM547.4 566.3l2.6-1.1 3.1 .2 9-.4 28.6 .2 1.2 1.1 .1 7.6-1 4.5 .5 1.5 .5 3-.3 4.5 .4 6-.5 4.6 .4 3-.5 4.5-.8 1.8-3 .2-3-.6-3-2.2-3.1 1.6-1.5 .1-4.5 1.6-1.5-.5-1.5-1.2-1.5-.6-1.5 .1-4.5-1.1-1.5-.8-1.5 0-1.5 1.6 .3 1.5-.3 .9-.7 .6-.8 .3-1.5 0-.4-.3-1.1-2.2-1-.8-2.1-1.2-3-1-1.5-1-1-1.3-.5-2.5-1.5 .5-3-.8-1.5 .8-1.5-.9 1.3-1.6-1.3-1.6-3-.1-.3-1.4 3.3-1.8 1.5-2.2 1.5 2.3 1.5 .2 1.5-2.2 .9-.8-.9-.4-1.2-1.1 .2-1.5 1.5-3 1-.9 1.6-.6 0-1.5-1.1-1.5 .2-3-.4-1.5-1-1.5 .7-.9 1.5 0 1.5 .4 .4-1zM553.1 600.8l-.4 1.7 1.9 .7 .7-.7zM541 594.9l-2.8 1.6 1.3 1.1 1.5-.5 1-.6zM544 594.9l-.4 .1-.6 1.5 1 1.1 1.5-.1 1-1-.4-1.5zM537.6 573.9l.4-.4 1.5-.1 .6 .5 .8 1.5-1.4 1.5-1.5 .8-2.1-.8zM532.8 575.4l.7-.6 1.1 .6-1.1 1zM542 579.9l.5-.4 .8 .4-.8 1.1zM537.5 581.4l.5-.3 .4 .3-.4 .3z" fill="#ffa500" fill-opacity="0.070" fill-rule="evenodd"/><path d="M548.9 566.3l1.1-.7 1.5 0 1.5 .7 0 1.6 .1-1.6 3-.8 3-.2 21.1-.2 10.5 .5 .7 .7-.3 3.1 .8 3-.1 1.5-1.1 2-1.5 0-1.8-.5-1.1 1.5 2.9 3.2 1.5 0 1 2.8 .2 1.5-.2 1.5-.7 1.5 .8 4.5 .1 3.1-1.1 3 .7 1.5 .2 1.5-1 2.7-1.5 0-1.5 1.3-1.5 .2-4.5-1.9-1.5 0-1.6 1.3-1.5-.2-1.5 .4-3 2.1-1.9-1.4-.1-1.5-1-1.4-1.5 .1-1.1 1.3-1.9 .6-4.5-2.1-3 .5-3.7-3.5 2.1-3-1.4-.6-1.3 .6-1.8 2.3-.8 .7 .4 1.5-.3 1.5-.8 .5-3-1.3-.8-.7-.3-1.5 1.1-1.3 1.5 1.4 .3-.1-.8-3 .1-1.5-1.1-1.2-1.5-.2-3 .2-.6-.4 .2-1.5 .4-.4 1.5-.7 1.5 .1 .7-.5 .1-1.5-.4-1.5 .5-3-.4-1.5 1-3.1 1.5-1.8 1.5 .6 .5-.2 .1-1.5-.6-.2-1.2-1.3-.6-1.5 0-1.5 .6-1.5zM550 582.5l-.5 .4-.7 1.5 1.2 .1 2.2-1.6-.7-.6zM537.8 575.4l.2-.3 1.5-.2 .3 .5-.3 .4-1.5 0zM543.9 585.9l.1-.2 .8 .2-.8 .2z" fill="#ffa500" fill-opacity="0.075" fill-rule="evenodd"/><path d="M549.9 566.3l1.6-.2 .5 .2 0 1.6 .5 1.5 .6 .3 1.5-1 .7-.8 0-1.6 .8-.3 3-.4 12-.3 6 .3 3.1-.2 4.5 .5 1.5-.1 1.5 .4 3 0 0 2-1.5 0-.4 1.2 .4 .8 1.5 0 1 2.2-.2 1.5-.8 1.1-1.5 0-1.5-.4-1.1-.7-1.4-1.5-.5-1.3-1.5-1.8-.5 1.6 .5 1.2 2.4 3.3-.8 1.5 .1 1.5 2.8 1 1.2 2 1.8 .2 .6 1.3 .4 1.5-.4 1.5-.6 1.1-1.5 0-.7 .4-.1 1.5 .8 .9 1.5 0 1 3.6-.1 1.6-.9 1.3-2.3 .2-.7 .8-.2 .7 .2 .5 1.5 .5 1.5 0 .6 2-.6 1.2-3-.1-1.5-1.3-1.5 .4-.8 1.3-.7 .4-3-2.3-1.6 .4-.3 1.5-2.7 .8-1.5-1.2-1.5-.5-1.5 .7-2-1.3-1-1.9-1.5-.6-.7 1 1.4 3-.7 .7-1.5 .6-1.5-.5-1.2-.8-.3-1.5-3 .9-1.5-.1-.9-.8-1-1.5 1.9-2.5 .9-.5-.9-.6-3-1.2-1.5 .5-1.6 1.7-1.7-.4 .4-1.5 1.4-1.6-1.1-1.5 .7-3-1.7-3 3.8-3 .2-1.5-.4-.5-2.5-1 .9-.5 2.5-2.5-.1-1.5-.8-.7-1.6 .7-1.5-.2-.7-1.3 0-1.5 .5-1.5zM559.1 584l0 1.7 1.5 .4 1.2-.2 1.8-.7 .8-.8-2.3-1-1.5 0zM569.6 579.6l-.5 .3 .5 1.6 .3-.1 .4-1.5zM580.2 573.7l-.2 .2 .2 .2 .5-.2zM583.2 587.3l-.1 .1 .1 .1 0-.1zM587.7 590.2l-.2 .2 .2 .2 .3-.2zM548.1 581.4l.4-1.5 .9 1.5-.9 .5z" fill="#ffa500" fill-opacity="0.105" fill-rule="evenodd"/><path d="M558 566.3l4.1-.5 3 .1 6-.4 6 .5 3.1-.3 3.7 .6 0 1.6-2 1.5-.6 1.5-1.1 .8-1.7-.8-.3-1.5-1.1-.6-1 .6 2.1 4.5 2 2.3 1.5 .6 1.5-1.9 .6 .5-.6 3 1.5 1.5-.6 1.5 .6 1.2 1.5 .5 .2-.2-.4-1.5 1.7-.1 1.5 1.3 1.5 0 .7 1.8-.7 1.8-3-.1-1.5 2.6-1-1.3-.3-1.5-3.2-.9-.6 .9 .2 1.5 1.9 2.4 3 1.3 1.5 1.1 1.5-1 1.5 0 .7 2.2-.1 1.6-.6 .9-3 0-.9 .6-.6 3-1.5-.4-.7-1.1-.8-.4-3-.3-1.6-1.1 0 1.8-1.5 1.1-3 .3-1.5 .8-1.5 1.4-1.5-1.3-1.5-2.3-1.5-.4-.7 .4-1.2 1.5 1.5 3-1.1 .7-1.5-.7 .8-1.5-2.3-1.2-3 1.4-1.5-.5-.7-1.2 2.8-3-.1-1.5-.5-.4-1.5 0-3-.9-1.5 0-.9-1.8 .5-1.5-.1-1.5-1.5-3 2.9-3 .8-1.5-.5-1.5 .3-1.1 1.5-3.1 1.5 .9 2.1-1.2-2.1-1.9-3-.2-1.4-2.4 2.9-2.5 1.5-.2 .4-.3zM560.6 569l-.4 .4-.1 1.5 2 .2 1.3 1.3-.6 1.5-1.5 1.5 .8 .4 2.5-.4 .5-.6 .8-3.9-.8-1.2-3-.7zM568.1 579.9l-.3 1.5 3.3 1.1 .6-1.1-.6-2.2-1.5-.1zM572.6 582.4l-1.1 .5-.1 1.5 1.2 1 1.9-1 0-1.5-.4-.6zM557.6 588.9l-.6 1.5 .6 .8 .5-.8zM559.1 581.1l-.9 3.3 .1 1.5 .8 1.3 4.5-.5 2.3-.8 1-1.5-2.9-1.5-3.4-.9zM568.1 585.7l-.5 .2 2 2.5 .9-1 .2-1.5-1.1-.9zM559.1 591.8l-.3 .1 2.1 0zM584.8 569.4l1.4-1.5 1.5 1 .6 2 .9 .3 1.5 0 .7 1.2-.7 2-1.5 0-1.2-.5-2.8-3zM581.6 599.5l.1 0zM582.8 601l.4-.4 .2 .4-.2 .3z" fill="#ffa500" fill-opacity="0.143" fill-rule="evenodd"/><path d="M560.8 566.3l4.1 0 0 1.6-2.8 .3-1.3-.3zM565.2 566.3l5.9-.5 3 .1 2.8 .4 0 1.6-2.8 1.4-3 .6-.9 1 .9 1.5 2.6-1.5 .4-1.2 .8 1.2 .7 .2 1 1.3 .4 1.5 2.8 3 1.7 3-1.4 6 1.7 4.5 3.6 1.5 .6 1.5 0 1.6-.6 1.5-.7 .7-2.4-.7-2.1-1.5 0-1.8 1.1-1.3-1.1-.2-4 1.7 .8 1.6 .1 1.9-1.3 1.1-2 0-.7-1.5 .1-3.1-.6-1-1.5-1.2-1.4 .7-1.7 1.5 1 3.1-.9 .5-3 .3-1.5 1.8-1.5-.3-3 1.5-1.1-.8 4.1-4.9 1.5 .8 1.5-.4 0-1.5-1.5-.3-1.5-3.1-1.5 .2-1.5-1.1-.2-.3 .2-.2 1.5-.9 1.5 .4 1.5 0 .4-.8 1.1-.7 1.5-.3 1.1 1 .4 1.1 1.5 1.7 1.5-.7 .6-2.1 .9-.9 3-2 .3-1.6 .6-1.5-.9-2.6-1.5 1.6-1.5 .6-.5-1.1-.2-3-.8-.7-.1 .7-1.4 1.5-2.2 1.5-.8 1.2-1.5 1-3-.3-.8-.4-3-3 2.3-2 1.5 .5 3.8-1.5 .4-3 .9-1.5-.4-1.5-1.6-1.5zM569.6 569.2l-.6 .2 .6 .3 .4-.3zM578.2 566.3l2-.2 1.9 .2 0 1.6-1.9 1.1-2-1.1zM585.3 569.4l.9-1 1 1-.4 1.5-.6 .4zM555.1 570.9l1-.6 1 .6-1 .6zM558.8 572.4l1.8-.5 1.5 .2 .3 .3-.3 .4-1.5 .6zM588 572.4l1.2-.6 1.5 0 .3 .6-.3 1.1-1.5 0zM555.7 581.4l.4-.7 1.5 .7 .1 1.5-.3 3-.4 1.5-.9 1.3-1.5 .1-1.5-.9-.9-2 2.4-2.4zM567.2 582.9l.9-.5 1.5 .5-1.5 .8zM582.6 584.4l.6-.9 1 .9-1 .4zM588.1 584.4l1.1-.9 1.5 0 .4 .9-.4 .9-1.5 0zM553.5 591.9l1.1-.6 .8 .6-.8 .5zM586.8 593.4l2.4-1.2 1.5 0 .4 1.2-.2 1.6-.2 .3-3.9-.3zM569.5 598l1.6-.6 .9 .6 .1 1.5-1 1.2-1.2-1.2z" fill="#ffa500" fill-opacity="0.197" fill-rule="evenodd"/><path d="M570.1 566.3l1-.2 4 .2 0 1.6-2.5 .6-1.5 .1-1-.7zM585.9 569.4l.3-.3 .3 .3-.3 .5zM567.3 572.4l.8-1 1.2 1 1.1 3-.2 1.5-1.3 1.5-3.8 2.5-3-.3-.8-.7 0-1.5 5.3-2.8zM573.4 572.4l.7-.6 1.5 .3 .4 1.8 2.6 2.5 1.9 3.5-.6 1.5-.2 3-.7 3 1.1 1.5-.9 1.5-2.1 1.1-3 .2-1.5-.5-.8-.8 1-3 1.3-1 1.5-.3 1.1-3.2 1.1-1.5-2-4.5-.3-1.5-2.1-1.5zM555.7 582.9l.4-.6 .5 .6-.5 3.7-.6-.7-.1-1.5zM554.5 587.4l.1-.2 .3 .2-.3 .1zM565.1 587.4l1.5-.3 .3 .3 1.7 4.5-2 1.2-2.2-1.2-.7-1.5 .4-1.5zM560.1 588.9l.5-.3 .6 .3-.6 .4zM582.7 593.4l.5-.5 1.5 .3 .4 1.8-.4 .6-1.5 .1-1-.7zM588.9 593.4l1.9 0-.1 .4-1.5 0zM566.5 595l.1-.3 .2 .3-.2 .7zM573.9 595l.2-.7 .9 .7-.9 1zM562.6 598l1-.2 .1 .2-.1 0z" fill="#ffa500" fill-opacity="0.283" fill-rule="evenodd"/><path d="M567.6 575.4l.5-1.1 1.2 1.1 .1 1.5-1.2 1.5-1.6 .9-1.5 .3-1.5-.5-.5-.7 2-.9 1.5-1zM576.7 576.9l.4-.6 .7 .6-.7 1zM578.4 578.4l.2-.2 .3 1.7-.3 .4zM577.8 582.9l.8-.9 .5 .9 0 1.5-.5 1.5-1.5 .2-.1-1.7zM573.7 587.4l.4-.3 1.5 .4 1.5 1.2 .2 .2-.3 1.5-1.4 .5-1.5 .1-1-.6-.2-1.5zM565 588.9l1.6-.7 .4 .7 0 3-.4 .3-.4-.3-1.1-1.3z" fill="#ffa500" fill-opacity="0.421" fill-rule="evenodd"/><path d="M567.2 576.9l.9-1.1 .6 1.1-.6 .7zM565.1 578.4l1.5-.7 .6 .7-.6 .3zM573.6 588.9l.5-.9 1.5 .3 .7 .6-.7 1.1-1.5 .1z" fill="#ffa500" fill-opacity="0.682" fill-rule="evenodd"/><path d="M541.2 566.3l1.3-.2 1.6 .2 0 1.6-1.6 1-1.3-1zM547.7 566.3l.8-.2 6.1-.4 3 .3 10.5-.5 3 .5 12.1-.6 7.5 .5 .5 .4 .4 7.6-.2 6-.5 3 .7 6-.1 4.5-.6 3.1 .4 6-.6 4.6-1.7-.1-.4-1.5-1.9-1.5-.5-.9-1.5-.6-.5 1.5-1 .8-3 1.2-1.6-.2-1.5-2-1.5-.2-3 .6-3 1.2-1.5 .1-1.5 2.1-1.5-.3-1.5-1.1-2.6-.7-1.9-1.7-1.5 .6-4.5-1.3-1.4-.6-.7-1.5-3-1.5-.7-3-.9-1.5 1.4-4.6 2.2-2.7 1.5-.3-1.5-.4-3-2.3-.5-1.8-1.6-1.5-2.9-4.5 .5-.7 1.5 .2 1.5-.6 1.5-1.5 .9-.4 .2-1.5-.9-1.5zM548.5 576.1l-.5 .8 0 1.5 .5 .8 1.1-2.3zM553.1 593.3l-.6 1.7 .6 .5 1.5 .3 1.7-.8-.2-1.7-1.5-.7zM536.1 587.4l.4-1.1 .6 1.1-.6 .4z" fill="#fff" fill-rule="evenodd"/><path d="M538.9 566.3l3.6-.8 1.5 .2 1.1 .6 0 1.6-.6 1.5-2 .8-1.5 0-1.5-1.2-.6-1.1zM546.7 566.3l1.8-.9 6.1-.3 3 .3 10.5-.4 3 .4 12.1-.5 7.5 .4 1.1 1 .3 7.6-.2 6-.3 3 .5 6-.1 4.5-.4 3.1 .3 6-.6 4.5-.6 .8-1.5 0-1.5-.5-3 .3-4.5-.6-1.6 .2-1.5-.2-.3-1.5-1.2-1-3 .5-1.5 1-3 1-1.5 1.4-1.5-.1-1.5-1.1-.7-.2-.8-.1-1.5 .4-1.5-2.2-1.5 .2-4.5-1.4-1.6 .3-1.5-.2 .2-1.5-.4-1.5-1.3-.3-1.2-1.2-.3-1.1-1.5-.3-1.5 .9-3-1.2-1.7-2.8 .2-.4 2.8-1.2-.4-3 .6-.9 1.5 0 1.5 .9 1.5 0 1.9-3-2.1-1.5-.8-1.5-.2-1.5-3.1-3-1.2-1.5-.5-1.5 1.5-1.8 1.5 .5 1.5-.7 1-1 .6-1.5-1.1-1.5-.1-1.5 .8-1.5zM554.6 593.3l-.3 .1-.5 1.6 .8 .1 .5-.1-.2-1.6zM544 595.9l-1 .6 2.5 1.4 .7-1.4-.7-1zM535.8 575.4l.7-.6 1.6 .6-1.6 1.4zM538.6 581.4l.9-1.3 .9 1.3-.9 .8zM535.8 585.9l.7-.6 1.3 .6 .2 1.5-1.5 1.2-1.2-1.2z" fill="#0000ff" fill-opacity="0.070" fill-rule="evenodd"/><path d="M548.5 566.3l1.5-.3 3.1 .1 1.5-.5 3 .6 4.5-.7 6-.2 3 .8 1.5-.4 4.5 .1 6.1-.7 4.5 .7 3 .1 .4 .4 .7 7.6-.5 4.5 .3 1.5-.9 2.8-1.5 0-.1 .2 1.6 .1 .5 1.4 .6 3-.1 6-1 2.9-1.6 .2 .1 .2 1.5 0 .2 1.3-.2 1.5 .6 1.5 .1 1.5-.7 1.5-1.5 0-1.6-1.5-1.4-.5-1.5 0-1.2 .5-.8 1.5-1 .7-1.5 .4-1.6-.8-1.5-1.2-3 .4-3 0-1.5 1.2-1.5-.4-1.5 .1-1.5 1.1-1.5-.2-1.5-.3-1.5-1.3-1.5-.8-1.5 .7-1.5-.6-2.6-.5-1.2-1.5-3.8-1.9-.6-1.1-.5-3 .9-1.6 .5-3 1.2-1.2 2.7 2.7-1.2 3.3 1.6 1.1 1.5 0 2.2-1.3 0-1.6-3.7-3 .7-3-2-1.5-3.3-.7-.8-.8-.7-2-2.5-2.5 0-1.5 .6-1.5 1.6 0 .3 2 .6 1 .9 .4 .5-.4 1-2 1.2-1-.2-1.5-1.5-1.5-.2-1.5-.9-1.5zM587.7 599.2l-.1 .3 .1 .6 1.4-.6zM546.8 575.4l.2-.3 .5 .3-.5 1.3z" fill="#0000ff" fill-opacity="0.075" fill-rule="evenodd"/><path d="M554.2 566.3l1.3 0 0 1.6 .5 1.5 3.1 1.1 1.5-.6 .3-.5-.5-1.5 0-1.6 1.7-.3 3 0 3-.4 1.3 .7 .2 1.8 1.5 .3 2-.5 0-1.6 1.6 0 0 1.6 .9 .3 2-.3 0-1.6 2.6-.7 4.5-.2 2.6 .9 0 1.6 .4 .7 1.5 .7 1.5 0 .8 4.6-.8 4.2-1.5 0-.2 .3 1.7 .2 .4 1.3-.4 .7-1.5 0-1.5 .8 0 .4-1.5-.1-.2 1.2 1.7 .3 1.5 1.6 1.5 0 .8 4.1-.2 4.5-.6 1.2-1.5 0-3-2.7-1.5-.6-.8 .6-.7 2.4-.7 3.7 .5 3-1.3 2.4-1.5 .2-1.6-1.8-1.5-1.1-3 1.8-3-.8-1.5-.7-.2-1.5-1.3-1.2-1.5 1.2-1.5 4.3-1.5 .1-2-1.4 .9-3-.4-.5-2.2 .5-1.8 1.5-.5 .9-.5-2.4-2.7-1.5 3.9-3 0-1.6-2.2-1.6-1.2-1.4 .6-1.5-.9-3.1-3.1-.6-1.5-.7-1.7-1.6 .6-1.5 1.9-1.5 .7-1.7 1.6 .5 3 3.5 .7-.8 .8-2.2 .9-.8-.9-2-1.5 1.8-1.5-.7-.3-.6 0-1.5-1.6-1.5 .2-3-.3-1.5 1.6-1.5zM574.1 576.9l-1.7 1.5 .2 1.2 1.5 .5 .7-1.7zM577.1 593.2l-.7 .2 .1 1.6 .6 .7 1.5 .7 .4-1.4-.4-.8zM584.7 570.5l-1 .4 .5 1.5 .5 .4 1.5-.2 0-1.1-.4-.6zM549.9 593.4l.1-.7 .3 .7-.3 .7zM585.3 595l.9-.5 .5 .5-.5 .5zM583.9 599.5l.8-.5 1.5 .5-1.5 1.2zM589 602.5l.2-.7 1.5 0 0 .9z" fill="#0000ff" fill-opacity="0.105" fill-rule="evenodd"/><path d="M566 566.3l2.1-.2 .5 .2 0 1.6 1 1.3 3 0 3 1.4 3.8-2.7 0-1.6 3.8-.7 1.5 .1 1.3 .6 0 1.6-1.3 1.3-3.3 .2 .4 3-.7 1.5-.1 1.5 1.3 1.5-.6 2.2 0 2.3-1.5 1.6-.6 1.4 .6 .9 3-.4 .9 2.5-2.8 1.5 .6 3-.2 .7-1.5 .6-3.1-1.5-1.5 .1-1.5 .5-.7-.4 .7-.3 .9-1.2-.9-.5-1.5 0-.2 .5-1.3 1.1-3 1.5-1.5-.2-3 .5-3-1.3-1.4-.1-.1-3-.9 0 .7 1.5-1.3 1.2-1.8-1.2 1.6-1.5-2.8-4.2-1.5 .2-1.6-.6-1.8-1.4 3.4-2.4 3 3.1 1.5-1.5 1.2-2.2 1.7-1.5 .7-1.5 2.4-3 1.5 .4 1.5 1.4 1.5 .3 .2-.6-1.5-3-.1-1.5-1.3-1.5 .6-1.5zM574.1 575.1l-1.5 1-.3 .8-1.5 1.5 0 1.5 3.3 2.6 1.5-.2 .2-2.4 .9-3zM568.1 585.1l-2.4 2.3 .1 1.5 .8 1.4 2-1.4 .4-1.5-.2-1.5zM554.2 570.9l.4-1 1.7 1 1.5 1.5-1.7 .8-1.2-.8zM561.7 572.4l.4-.4 1.5 .1 .2 .3-.2 1.1zM588.1 572.4l1.1-.7 1.5 0 .5 2.2-.5 2.2-3-.1-.9 2.4-.6 .6-1.5 .3-.8-.9 .2-3 .6-.9 1.5 .1 .9-.7zM585.9 585.9l1.8-.6 1.5 1.1 1.5 0 .5 2.5-.5 2.6-1.5 0-1.5-.4-3.3-2.2zM572.6 593.4l1.5 .5 2.3 2.6-.8 1.8-3 1.8-1.5-.3-.3-.3-1.1-3 0-1.5zM588.9 593.4l.3-1 1.5 0 0 1.3zM557.8 596.5l1.3-.8 1.5 .2 4.5-.3 2.2 .9-2.2 3.9-1.5-2.7-1.5-.7-1.5 .4-1.5 1.1-1.5 0-1.1-.5zM579.5 598l.7-1.2 1 1.2 .6 1.5-.1 1.9-1.5 .2-1.2-2.1z" fill="#0000ff" fill-opacity="0.143" fill-rule="evenodd"/><path d="M581.1 566.3l2.1-.4 1.5 .2 .5 .2 0 1.6-.5 .5-1.5 .3-1.5-.6-.6-.2zM569.4 570.9l3.2-.5 .6 .5 .6 1.5-1.3 1.5-1.4 3.2-1.5-.5-1.4-4.2zM577.2 570.9l1.4-1.1 1.6 .4 .6 2.2-1 3 1.1 1.5 0 3-.5 1.5-1.8 1.3-1.5-.9-.4-1.9 1.1-1.5 .3-1.5-1.6-1.5-.9-1.5 .3-1.5zM563.1 576.9l.5-1 1.5-.2 3.3 2.7 .7 1.5 2 1.5 1.4 1.5 .1 1.1 1.4 .4-1.4 .1-1.5 1.7-1.5-1.8-1.5-.5-3 3-1.5 .5 1.8 3 .1 1.5-1.9 .7-2.6-2.2 .1-1.5-2-.6-1.5-.1-.7-.8-.5-1.5 .3-1.5 .9-.9 1.5-2.8 1.5-.8 1.5 .3 .8-.3-.7-1.5zM565.1 580.1l-1 1.3 1 .9 1.5 .3 0-1.3zM551.3 582.9l1.8-1.2 1.1 1.2-1.1 1.2zM574.7 585.9l.9-1 1.5 .4 1 2.1 .5 3 1.6-.1 0 .3-3.1-.5-2.1-1.2-.7-1.5zM588.9 588.9l.3-.2 1.5 0 0 .2zM568.5 590.4l1.1-1.1 1.2 1.1-1.2 .7zM571.6 595l1-.6 1.5 .9 1.1 1.2-.4 1.5-.7 .6-1.5 .4-1.2-1-.5-1.5z" fill="#0000ff" fill-opacity="0.197" fill-rule="evenodd"/><path d="M582.9 566.3l.7 0 0 1.6-.7 0zM578.6 570.9l1.2 1.5-1.2 2.3-1.1-.8-.4-1.5zM565 578.4l.1-.1 .1 .1-.1 0zM577.9 579.9l.7-1 1.3 1-1.3 1.1zM559.5 581.4l1.1-.6 3 1.5 2.8 2.1-1.3 1.3-1.5 0-1.5 1.6-1.5 .7-2.2-.6-.8-.7-.3-.8zM568 581.4l1.6-.1 1 1.6-1 .5-1.1-.5zM552.8 582.9l.3-.1 .1 .1-.1 .2zM575.6 587.4l0-.1 .4 .1-.4 .1zM563 590.4l.6-.6 .3 .6-.3 .7zM571.9 596.5l.7-.9 1.6 .9-1.6 1.5z" fill="#0000ff" fill-opacity="0.283" fill-rule="evenodd"/><path d="M559.4 582.9l1.2-1.2 2.3 1.2 .7 1.1 1.7 .4-1.7 .2-1.5 1.6-1.5 1-1.3-1.3z" fill="#0000ff" fill-opacity="0.421" fill-rule="evenodd"/><path d="M560.2 582.9l.4-.3 .7 .3 1.1 1.5-1.8 1.9-.4-.4z" fill="#0000ff" fill-opacity="0.682" fill-rule="evenodd"/><path d="M548.6 566.3l1.4-.5 1.5-.1 1.6 .4 3-.4 6-.2 18.1-.1 10.5 .4 .6 .5-.2 3.1 .5 3-.1 1.5-.8 2.6-3-.1-.4 .5 1.9 2.4 1.5 0 .8 3.6 .1 1.5-.5 3 .6 6-.8 4.6 .5 3-.7 4.9-4.5-.1-4.5-2.2-1.5 .4-1.6 1-1.5-.1-1.5 .4-3 1.9-2.5-1.7-.5-1.3-1.5-.3-1.5 .8-1.5 .1-4.5-1.8-1.5 .1-1.5 .6-4.2-4.2 0-1.5-.3-.2-1.5 3.2-.2 1.5 .2 1.5-4.2-1.5-1.8-1.5-.4-1.5 2.3-3 .1-1.5-.6-.6-1.5-.4-3 .3-1.3-.9 .5-1.5 .8-.8 3-1.8 0-.6-2.8-2.8 1.3-2.1 1.5-1 .8-1.4 0-3 .7-.8 1.6-.7-1.1-3 .2-1.5 .7-1.5zM537.4 575.4l.6-.9 1.5-.1 .7 1-.7 .7-1.5 .5zM537.6 591.9l.4-.6 .6 2.1-.6 .4-.8-.4zM554.6 596.3l-.3 .2 .3 .4 .3-.4zM555.9 566.3l15.2-.6 9.1 .1 7 .5 0 1.6 .5 .3 1.4 2.7 1.6 0 .5 1.5-.5 2.3-1.5 0-2-.8-1.4-1.5-1.1-2.3-1.5-1.2-.6 .5-.9 2.7-3.1 .3 .3 1.5 1.3 1.2 1.5 .3 1.5-2 1.9 2-.9 1.5-.1 1.5 .6 .5 3 1.1 .7 1.4 .8 .7 1.5 0 .5 2.3-.5 2.2-1.5 0-1.2 .8-.3 1.2-1.2 1.8 1.2 1 1.5-.8 1.5 0 .6 2.8-.1 1.6-.5 1.1-3 .2-.6 1.7 .6 1.8 3-.2 0 2.1-3-.3-1.5-1.2-1.5 .1-1.5 2.2-3-2.6-1.6-.1-3 2.8-1.5-2-1.5 .3-1.5 1.1-1.5-1.1-1.5-2.3-1.5-.7-1.2 1.6 1.4 3-1.7 .9-2.1-.9-.1-1.5-.8-.6-3 1.1-1.5-.2-.4-.3-.9-1.5 1.3-1.8 1.6-1.2-.1-.7-4.5-1.5-2.7 .7-.4 .5-.2-.5 .8-1.6-.4-1.5 .2-3-1.6-3 3.4-3 .4-1.5-1-1.3-.7-.2 .9-1.5 1.5-1.5 .1-1.5-1.6-1.5-.2-1-.3 1-1.3 .6-1.5-.1-.2-2 .2-.8 1.5 0 .2-.7 2.9-1.6 1.3-1.4zM551.3 569.4l.2-.4 .1 .4-.1 .6zM563.6 570.5l-.5 .4 2 1.5 .3-1.5-.3-.4zM569.6 579.3l-1 .6 .1 1.5 .9 .4 1.3-.4 0-1.5zM559.1 582.7l-.5 1.7 .1 1.5 .4 .5 4.5-.4 1.9-1.6-3.4-1.6zM572.6 583.6l-.2 .8 .2 .2 .5-.2zM581.7 585.8l.3 1.6 1.2 1.3 .9-1.3-.9-1.1zM559.8 566.3l11.3-.3 11.4 .3 0 1.6-2.3 1.5 0 .4-.1-.4-1.5-1-1.5-.5-2.6 1.5 2.2 3 .6 1.5 1.6 1.5 2.8 4.5-.7 4.5-.7 1.5 .4 1.5 1.6 3 2.4 .8 1 .7 .5 1.2 1.5-.1 1.5-1 1.5 0 .3 1.4-.3 1.9-4.5 0-.5 1.2-1 1-3-1-1.5-1.1-.5-.4-.2-1.6-.9-.6-1.9 .6 .8 1.6-.1 3-3.3 .4-1.4-.4 .3-4.6-1.9-1.8-.7 .3-.1 1.5-1.2 1.6 .5 1.9 1.5 .2 1.5 .9-.2 1.5-1.3 1.4-1.5-1.4-.4-1.5-1.1-.8-1.5-.1-1.5 .7-1.5 1.5-1.5-.3-3 1.5-1.4-1 2.7-3 .7-1.5-.5-1.4-3 .2-.8-.4 .8-.5 1.5 .1 3 .9 .9-.5-.9-2.7-1.5-.1-1.5-.9-.5-.8 .5-.6 1.5-.7 3 .2 1.5-1.2 1.5-.3 3 3.5 1.5-.8 .4-1.6 1.1-1.1 2.8-1.9 .9-3-.7-2.1-1.5 1.5-1.5 .6-1.5-4.2-.8 1.2-.7 .1-2.1 1.4-.9 1.4-1.5 1.1-3-.5-1.5-.8-2.8-2.7 2.8-2.4 1.5 .7 3-.9 .6-.4 .4-3 .7-1.5-.7-1.5-1-1.1-3 .1-2.3-.5zM557.4 569.4l1.7-.1-1.1 1.6 1.1 .7 3 .2 .5 .6-.5 .8-1.5 .8-1.5-.2-1.5-2.1-1.5 .5-1.5-.9-.2-.4 1.7-1.3zM585.2 569.4l1-1.1 1.2 1.1-.2 1.5-1 .5zM571.1 570.7l0 .4 1.5 .1 .5-.3-.5-.6zM587.6 572.4l1.6-.7 1.5 0 .2 .7-.2 1.5-1.5 0zM555.5 581.4l.6-1.2 1.5 .6 .3 .6-.2 4.5-.4 1.5-1.2 1.8-1.5 .2-1.5-1.1-1.1-2.4 2.6-2.8zM566.8 582.9l1.3-.7 1.9 .7-.4 .5-1.5 .6zM582.2 584.4l1-1.4 1.6 1.4-1.6 .5zM587.8 584.4l1.4-1 1.5 0 .2 1-.2 1.1-1.5 0zM553 591.9l1.6-1 1.4 1-1.4 .8zM564.8 602.5l.3-.4 .2 .4-.2 .1zM570.5 566.3l3.8 0 0 1.6-3.2 .4-.6-.4zM586.1 569.4l.1-.1 .1 .1-.1 .1zM567.6 572.4l.5-.6 .8 .6 1.3 3-.2 1.5-1.3 1.5-3.6 2.1-3-.3-.4-.3 .3-1.5 1.6-1 1.5-.6 1.9-1.4zM573.7 572.4l.4-.3 1.3 .3 .2 1.9-1.5-.4zM576.6 575.4l.5-.1 1.5 1.3 1.7 3.3-.9 1.5 .2 1.5-.4 3-.6 1.4-.6 .1 .9 1.5-.2 1.5-1.6 .8-3 .3-2-1.1 .5-2.2 .4-.8 1.1-.8 1.5-.1 .5-.6 .8-3 1.2-1.5-2.1-4.5zM556 582.9l.2 0-.1 2.3zM566.1 587.4l.6 0 .8 1.5 .8 3-1.7 .9-1.7-.9-.8-1.5 .2-1.5 .8-1.1zM560.5 588.9l.1 0 .1 0-.1 .1zM583.1 593.4l1.6 .8 0 1-1.5 .2-.6-.4z" fill="none" stroke="#ffa500" stroke-width="1.3"/><path d="M541.2 566.3l1.3-.2 1.6 .2 0 1.6-1.6 1-1.3-1zM547.7 566.3l.8-.2 6.1-.4 3 .3 10.5-.5 3 .5 12.1-.6 7.5 .5 .5 .4 .4 7.6-.2 6-.5 3 .7 6-.1 4.5-.6 3.1 .4 6-.6 4.6-1.7-.1-.4-1.5-1.9-1.5-.5-.9-1.5-.6-.5 1.5-1 .8-3 1.2-1.6-.2-1.5-2-1.5-.2-3 .6-3 1.2-1.5 .1-1.5 2.1-1.5-.3-1.5-1.1-2.6-.7-1.9-1.7-1.5 .6-4.5-1.3-1.4-.6-.7-1.5-3-1.5-.7-3-.9-1.5 1.4-4.6 2.2-2.7 1.5-.3-1.5-.4-3-2.3-.5-1.8-1.6-1.5-2.9-4.5 .5-.7 1.5 .2 1.5-.6 1.5-1.5 .9-.4 .2-1.5-.9-1.5zM548.5 576.1l-.5 .8 0 1.5 .5 .8 1.1-2.3zM536.1 587.4l.4-1.1 .6 1.1-.6 .4zM553.1 593.3l-.6 1.7 .6 .5 1.5 .3 1.7-.8-.2-1.7-1.5-.7zM554.2 566.3l1.2 0 0 1.6 .6 1.5 3.1 1.1 1.5-.5 .3-.6-.5-1.5 .2-1.6 7.5-.4 1.3 .4 0 1.6 .2 .3 1.5 .3 2.1-.6 0-1.6 1.4 0 0 1.6 1 .4 1.5-.1 .5-.3 0-1.6 5.6-.6 4.1 .6 0 1.6 .4 .8 1.5 .6 1.5 0 .5 4.6-.5 4.1-1.5 0-.2 .4 1.7 .2 .2 1.3-.2 .7-1.5 0-1.5 .8 0 .3-1.5-.2-.2 1.4 1.7 .3 1.5 1.7 1.5 0 .5 4-.2 4.5-.3 1.1-1.5 0-3-2.7-1.5-.5-.8 .6-1.4 6.1 .4 3-1.2 2.3-1.5 .2-1.6-1.7-1.3-.8-.2-.4 0 .4-3 1.5-3-.9-1.4-.6-.3-1.5-1.3-1.2-1.5 1.2-1.5 4.3-1.5 .1-1.9-1.4 .8-3-.4-.6-2.2 .6-1.8 1.5-.5 .9-.5-2.4-2.7-1.5 3.9-3 .1-1.6-2.3-1.6-1.1-1.4 .6-1.5-.3-1.5-.7-1.6-4.8-1.4-1.5-1.5 .7-1.5 1.9-1.5 .6-1.7 1.6 .5 3 3.6 .8-.9 .7-2.2 1-.8-1-2-1.5 1.8-1.5-.8-.3-2-1.5-1.5 .1-3-.3-1.5 1.6-1.5zM584.7 570.4l-1.1 .5 .6 1.5 .5 .4 1.5-.2 .1-.2-.4-1.5zM574.1 576.9l-1.7 1.5 .2 1.3 1.5 .4 .7-1.7zM549.9 593.4l.1-.7 .2 .7-.2 .6zM577.1 593.2l-.8 .2 .1 1.6 .7 .7 1.5 .8 .4-1.5-.4-.9zM585.3 595l.9-.4 .4 .4-.4 .4zM583.9 599.5l.8-.4 1.5 .4-1.5 1.2zM589 602.5l.2-.7 1.5 0 0 .9zM566.2 566.3l2.3 0 0 1.6 1.1 1.4 3 .1 3 1.6 4-3.1 0-1.6 3.6-.4 2.7 .4 0 1.6-1.2 1.2-3-.1-.5 .4 .4 3-.7 1.5-.1 1.5 1.3 1.5-.5 1.5 0 3-1.6 1.5-.6 1.5 .8 1.2 1.5-.4 1.5 .3 .3 1.9-2.5 1.5 .7 3-1.5 1.1-4.6-2-.2-.6-1.3-.7-1.5-.2-.4 .9-1.1 .9-3 1.5-1.5-.2-3 .6-3-1.4-1.2-1.4 .1-1.5-1.9 0-3-4.3-1.5 .2-1.1-.4-2.1-1.5 3.2-2.2 3 3.1 1.5-1.5 1.3-2.4 1.7-1.5 3-4.3 1.5 .4 1.5 1.4 1.5 .3 .4-.8-1.5-3 0-1.5-1.2-1.5zM554.4 570.9l.2-.5 1.1 .5 1.8 1.5-1.4 .5-.9-.5zM588.7 572.4l.5-.4 1.5 0 .2 1.9-.2 2-3-.2-1.2 2.7-1.8 .7-.6-.7 .2-3 .4-.6 1.5 0zM574.1 574.9l-1.5 .9-.4 1.1-1.7 1.5 .1 1.5 3.5 2.9 1.5-.1 .4-1.3 0-1.5 1-3zM568.1 584.9l-2.5 2.5 .1 1.5 .9 1.6 2.1-1.6 .5-1.5-.3-1.5zM586.3 585.9l1.4-.4 1.5 1.2 1.5 0 .2 2.2-.2 2.1-3-.1-2.9-2zM556 590.4l1.6-1.4 1 1.4-1 .9zM589.1 593.4l.1-.4 1.5 0 0 .5zM569.9 595l2.7-1.4 1.5 .5 2.1 2.4-.5 1.5-1.6 1.2-1.5 .7-1.5-.3-1.3-3.1zM558.1 596.5l1-.6 3 .2 3-.3 1.7 .7-1.7 3.6-1.5-2.7-1.5-.7-1.5 .3-1.5 1.3-1.5 0-.7-.3zM579.7 598l.5-.8 .7 .8 .8 1.4 0 1.6-1.5 .3-.9-1.8zM582.2 566.3l2.3 0 0 1.6-1.3 .3-1-.3zM578 570.9l.6-.5 .8 .5 .8 1.5-1.6 3.7-1.5-1.3-.5-.9 0-1.5zM571.8 572.4l.8-.7 .3 .7-.3 .3zM569.5 573.9l.1-.8 1.5 .6 0 1.7zM563.3 578.4l.3-.5 1.5-.7 1.6 1.2-.1 .8-3-.4zM578.6 578.4l0-.4 1.6 .3 .2 1.6-.2 .6-1.6 1.2-1.2-1.8zM559 581.4l1.6-.9 1.5 .5 1.5 .8 3.2 2.6-1.7 1.7-1.5 .1-1.1 1.2-.4 1-4.5-.8-.6-1.7zM567.5 581.4l.6-1.4 1.5 .9 1.8 2-.3 1-1.5-.1-1.9-.9zM552.2 582.9l.9-.5 .5 .5-.5 .5zM575.1 587.4l.5-1.5 1.5 .9 .3 .6-.1 1.5-.2 .2-1.5-.7zM562.9 588.9l.7-.2 .9 1.7-.5 1.5-.4 .2-1.6-1.7zM569.5 590.4l.1-.1 .1 .1-.1 .1zM571.5 596.5l1.1-1.4 2 1.4-.4 1.5-1.6 .4-.5-.4z" fill="none" stroke="#0000ff" stroke-width="1.3"/></g><g clip-path="url(#c55)"><path d="M595.4 672.5l1.5 0 1.5 0 1.5 0 1.5 0 1.5 0 1.5 0 1.5 0 1.5 0 1.6 0 1.5 0 1.5 0 1.5 0 1.5 0 1.5 0 1.5 0 1.5 0 1.5 0 1.5 0 1.5 0 1.5 0 1.5 0 1.5 0 1.5 0 1.5 0 1.5 0 1.5 0 1.6 0 1.5 0 1.5 0 0-.1 1.5 0 0-.2 1.5 0 0-.3 1.5 0 0 .1 1.5 0 0-.1 1.5 0 0-.3 1.5 0 0 .1 1.5 0 0-.5 1.5 0 0 .3 1.5 0 0-.2 1.5 0 0-.6 1.5 0 0-2.8 1.5 0 0-3.3 1.5 0 0-8.5 1.5 0 0-8 1.6 0 0-11 1.5 0 0-7 1.5 0 0-13.9 1.5 0 0-14.7 1.5 0 0-5.3 1.5 0 0-2.4 1.5 0 0-6.7 1.5 0 0-1.6 1.5 0 0-2.5 1.5 0 0 .7 1.5 0 0-5.5 1.5 0 0 7.2 1.5 0 0 .9 1.5 0 0-3.3 1.5 0 0 11 1.5 0 0-5.7 1.5 0 0 2.5 1.5 0 0-2 1.6 0 0-.5 1.5 0 0 3.7 1.5 0 1.5 0 0 3.9 1.5 0 0-1.4 1.5 0 0 1.1 1.5 0 0 1.4 1.5 0 0-2.6 1.5 0 0 78.1" fill="none" stroke="#ffa500" stroke-width="1.3" stroke-linejoin="miter"/><path d="M669.00 567.10V672.50M681.28 567.10V672.50M694.25 567.10V672.50" stroke="#ffa500" stroke-width="1.2" stroke-dasharray="3.9 1.8" fill="none"/><path d="M595.4 672.5l1.5 0 1.5 0 1.5 0 1.5 0 1.5 0 1.5 0 1.5 0 1.5 0 1.6 0 1.5 0 1.5 0 1.5 0 1.5 0 1.5 0 1.5 0 1.5 0 1.5 0 1.5 0 1.5 0 1.5 0 1.5 0 1.5 0 1.5 0 1.5 0 1.5 0 1.5 0 1.6 0 1.5 0 1.5 0 0-.1 1.5 0 0-.2 1.5 0 0-.1 1.5 0 0-.2 1.5 0 0-.3 1.5 0 0-.1 1.5 0 0-.1 1.5 0 0-.3 1.5 0 0 .1 1.5 0 0-.2 1.5 0 0-1.8 1.5 0 0-2.2 1.5 0 0-4 1.5 0 0-8.1 1.5 0 0-10.8 1.6 0 0-8.8 1.5 0 0-8.4 1.5 0 0-13.5 1.5 0 0-11.1 1.5 0 0-8.3 1.5 0 0-5.3 1.5 0 0-.8 1.5 0 0 2.8 1.5 0 0-.5 1.5 0 0-1.2 1.5 0 0-4.3 1.5 0 0 1.1 1.5 0 0 2.4 1.5 0 0-.5 1.5 0 0-4.4 1.5 0 0-4.1 1.5 0 0-3.2 1.5 0 0 6.3 1.6 0 0 5.9 1.5 0 0 1.2 1.5 0 0 2.6 1.5 0 0 .5 1.5 0 1.5 0 0-.8 1.5 0 0 2 1.5 0 0 1.6 1.5 0 0 77.2" fill="none" stroke="#0000ff" stroke-width="1.3" stroke-linejoin="miter"/><path d="M668.77 567.10V672.50M681.77 567.10V672.50M694.30 567.10V672.50" stroke="#0000ff" stroke-width="1.2" stroke-dasharray="3.9 1.8" fill="none"/></g>
<rect x="41.10" y="12.70" width="105.4" height="105.4" fill="none" stroke="#3a3a3a" stroke-width="0.9"/><path d="M67.45 118.10v2.4M93.80 118.10v2.4M120.15 118.10v2.4M146.50 118.10v2.4" stroke="#3a3a3a" stroke-width="0.9" fill="none"/><rect x="41.10" y="123.58" width="105.4" height="105.4" fill="none" stroke="#3a3a3a" stroke-width="0.9"/><path d="M67.45 228.98v2.4M93.80 228.98v2.4M120.15 228.98v2.4M146.50 228.98v2.4M41.10 207.90h-2.4M41.10 186.82h-2.4M41.10 165.74h-2.4M41.10 144.66h-2.4M41.10 123.58h-2.4" stroke="#3a3a3a" stroke-width="0.9" fill="none"/><rect x="151.96" y="123.58" width="105.4" height="105.4" fill="none" stroke="#3a3a3a" stroke-width="0.9"/><path d="M173.04 228.98v2.4M194.12 228.98v2.4M215.20 228.98v2.4M236.28 228.98v2.4M257.36 228.98v2.4" stroke="#3a3a3a" stroke-width="0.9" fill="none"/><rect x="41.10" y="234.46" width="105.4" height="105.4" fill="none" stroke="#3a3a3a" stroke-width="0.9"/><path d="M67.45 339.86v2.4M93.80 339.86v2.4M120.15 339.86v2.4M146.50 339.86v2.4M41.10 324.80h-2.4M41.10 302.22h-2.4M41.10 279.63h-2.4M41.10 257.05h-2.4M41.10 234.46h-2.4" stroke="#3a3a3a" stroke-width="0.9" fill="none"/><rect x="151.96" y="234.46" width="105.4" height="105.4" fill="none" stroke="#3a3a3a" stroke-width="0.9"/><path d="M173.04 339.86v2.4M194.12 339.86v2.4M215.20 339.86v2.4M236.28 339.86v2.4M257.36 339.86v2.4M151.96 324.80h-2.4M151.96 302.22h-2.4M151.96 279.63h-2.4M151.96 257.05h-2.4M151.96 234.46h-2.4" stroke="#3a3a3a" stroke-width="0.9" fill="none"/><rect x="262.82" y="234.46" width="105.4" height="105.4" fill="none" stroke="#3a3a3a" stroke-width="0.9"/><path d="M277.88 339.86v2.4M300.46 339.86v2.4M323.05 339.86v2.4M345.63 339.86v2.4M368.22 339.86v2.4" stroke="#3a3a3a" stroke-width="0.9" fill="none"/><rect x="41.10" y="345.34" width="105.4" height="105.4" fill="none" stroke="#3a3a3a" stroke-width="0.9"/><path d="M67.45 450.74v2.4M93.80 450.74v2.4M120.15 450.74v2.4M146.50 450.74v2.4M41.10 428.15h-2.4M41.10 405.57h-2.4M41.10 382.98h-2.4M41.10 360.40h-2.4" stroke="#3a3a3a" stroke-width="0.9" fill="none"/><rect x="151.96" y="345.34" width="105.4" height="105.4" fill="none" stroke="#3a3a3a" stroke-width="0.9"/><path d="M173.04 450.74v2.4M194.12 450.74v2.4M215.20 450.74v2.4M236.28 450.74v2.4M257.36 450.74v2.4M151.96 428.15h-2.4M151.96 405.57h-2.4M151.96 382.98h-2.4M151.96 360.40h-2.4" stroke="#3a3a3a" stroke-width="0.9" fill="none"/><rect x="262.82" y="345.34" width="105.4" height="105.4" fill="none" stroke="#3a3a3a" stroke-width="0.9"/><path d="M277.88 450.74v2.4M300.46 450.74v2.4M323.05 450.74v2.4M345.63 450.74v2.4M368.22 450.74v2.4M262.82 428.15h-2.4M262.82 405.57h-2.4M262.82 382.98h-2.4M262.82 360.40h-2.4" stroke="#3a3a3a" stroke-width="0.9" fill="none"/><rect x="373.68" y="345.34" width="105.4" height="105.4" fill="none" stroke="#3a3a3a" stroke-width="0.9"/><path d="M396.27 450.74v2.4M418.85 450.74v2.4M441.44 450.74v2.4M464.02 450.74v2.4" stroke="#3a3a3a" stroke-width="0.9" fill="none"/><rect x="41.10" y="456.22" width="105.4" height="105.4" fill="none" stroke="#3a3a3a" stroke-width="0.9"/><path d="M67.45 561.62v2.4M93.80 561.62v2.4M120.15 561.62v2.4M146.50 561.62v2.4M41.10 539.03h-2.4M41.10 516.45h-2.4M41.10 493.86h-2.4M41.10 471.28h-2.4" stroke="#3a3a3a" stroke-width="0.9" fill="none"/><rect x="151.96" y="456.22" width="105.4" height="105.4" fill="none" stroke="#3a3a3a" stroke-width="0.9"/><path d="M173.04 561.62v2.4M194.12 561.62v2.4M215.20 561.62v2.4M236.28 561.62v2.4M257.36 561.62v2.4M151.96 539.03h-2.4M151.96 516.45h-2.4M151.96 493.86h-2.4M151.96 471.28h-2.4" stroke="#3a3a3a" stroke-width="0.9" fill="none"/><rect x="262.82" y="456.22" width="105.4" height="105.4" fill="none" stroke="#3a3a3a" stroke-width="0.9"/><path d="M277.88 561.62v2.4M300.46 561.62v2.4M323.05 561.62v2.4M345.63 561.62v2.4M368.22 561.62v2.4M262.82 539.03h-2.4M262.82 516.45h-2.4M262.82 493.86h-2.4M262.82 471.28h-2.4" stroke="#3a3a3a" stroke-width="0.9" fill="none"/><rect x="373.68" y="456.22" width="105.4" height="105.4" fill="none" stroke="#3a3a3a" stroke-width="0.9"/><path d="M396.27 561.62v2.4M418.85 561.62v2.4M441.44 561.62v2.4M464.02 561.62v2.4M373.68 539.03h-2.4M373.68 516.45h-2.4M373.68 493.86h-2.4M373.68 471.28h-2.4" stroke="#3a3a3a" stroke-width="0.9" fill="none"/><rect x="484.54" y="456.22" width="105.4" height="105.4" fill="none" stroke="#3a3a3a" stroke-width="0.9"/><path d="M507.13 561.62v2.4M529.71 561.62v2.4M552.30 561.62v2.4M574.88 561.62v2.4" stroke="#3a3a3a" stroke-width="0.9" fill="none"/><rect x="41.10" y="567.10" width="105.4" height="105.4" fill="none" stroke="#3a3a3a" stroke-width="0.9"/><path d="M67.45 672.50v2.4M93.80 672.50v2.4M120.15 672.50v2.4M146.50 672.50v2.4M41.10 649.91h-2.4M41.10 627.33h-2.4M41.10 604.74h-2.4M41.10 582.16h-2.4" stroke="#3a3a3a" stroke-width="0.9" fill="none"/><rect x="151.96" y="567.10" width="105.4" height="105.4" fill="none" stroke="#3a3a3a" stroke-width="0.9"/><path d="M173.04 672.50v2.4M194.12 672.50v2.4M215.20 672.50v2.4M236.28 672.50v2.4M257.36 672.50v2.4M151.96 649.91h-2.4M151.96 627.33h-2.4M151.96 604.74h-2.4M151.96 582.16h-2.4" stroke="#3a3a3a" stroke-width="0.9" fill="none"/><rect x="262.82" y="567.10" width="105.4" height="105.4" fill="none" stroke="#3a3a3a" stroke-width="0.9"/><path d="M277.88 672.50v2.4M300.46 672.50v2.4M323.05 672.50v2.4M345.63 672.50v2.4M368.22 672.50v2.4M262.82 649.91h-2.4M262.82 627.33h-2.4M262.82 604.74h-2.4M262.82 582.16h-2.4" stroke="#3a3a3a" stroke-width="0.9" fill="none"/><rect x="373.68" y="567.10" width="105.4" height="105.4" fill="none" stroke="#3a3a3a" stroke-width="0.9"/><path d="M396.27 672.50v2.4M418.85 672.50v2.4M441.44 672.50v2.4M464.02 672.50v2.4M373.68 649.91h-2.4M373.68 627.33h-2.4M373.68 604.74h-2.4M373.68 582.16h-2.4" stroke="#3a3a3a" stroke-width="0.9" fill="none"/><rect x="484.54" y="567.10" width="105.4" height="105.4" fill="none" stroke="#3a3a3a" stroke-width="0.9"/><path d="M507.13 672.50v2.4M529.71 672.50v2.4M552.30 672.50v2.4M574.88 672.50v2.4M484.54 649.91h-2.4M484.54 627.33h-2.4M484.54 604.74h-2.4M484.54 582.16h-2.4" stroke="#3a3a3a" stroke-width="0.9" fill="none"/><rect x="595.40" y="567.10" width="105.4" height="105.4" fill="none" stroke="#3a3a3a" stroke-width="0.9"/><path d="M617.99 672.50v2.4M640.57 672.50v2.4M663.16 672.50v2.4M685.74 672.50v2.4" stroke="#3a3a3a" stroke-width="0.9" fill="none"/>
<g font-family="Liberation Sans, sans-serif" fill="#000" stroke="#000" stroke-width="0.14" style="will-change:transform" opacity="0.999"><g transform="translate(57.280 8.700)"><text><tspan x="0.000" y="-0.873438" font-size="8.80">R</tspan><tspan x="6.080" y="-0.873438" font-size="8.80" textLength="5.22" lengthAdjust="spacingAndGlyphs">p</tspan><tspan x="14.415" y="-0.873438" font-size="8.80" textLength="7.01" lengthAdjust="spacingAndGlyphs">=</tspan><tspan x="24.528" y="-0.873438" font-size="8.80" textLength="5.22" lengthAdjust="spacingAndGlyphs">1</tspan><tspan x="30.095" y="-0.873438" font-size="8.80" textLength="2.49" lengthAdjust="spacingAndGlyphs">.</tspan><tspan x="32.877" y="-0.873438" font-size="8.80" textLength="5.34" lengthAdjust="spacingAndGlyphs">0</tspan><tspan x="38.444" y="-0.873438" font-size="8.80" textLength="5.22" lengthAdjust="spacingAndGlyphs">4</tspan><tspan x="44.011" y="-0.873438" font-size="8.80" textLength="5.22" lengthAdjust="spacingAndGlyphs">6</tspan><tspan x="49.664" y="-4.31875" font-size="6.16" textLength="4.99" lengthAdjust="spacingAndGlyphs">+</tspan><tspan x="49.664" y="1.5875" font-size="6.16" textLength="4.87" lengthAdjust="spacingAndGlyphs">−</tspan><tspan x="54.796" y="-4.31875" font-size="6.16" textLength="3.68" lengthAdjust="spacingAndGlyphs">0</tspan><tspan x="54.796" y="1.5875" font-size="6.16" textLength="3.68" lengthAdjust="spacingAndGlyphs">0</tspan><tspan x="58.693" y="-4.31875" font-size="6.16" textLength="1.90" lengthAdjust="spacingAndGlyphs">.</tspan><tspan x="58.693" y="1.5875" font-size="6.16" textLength="1.90" lengthAdjust="spacingAndGlyphs">.</tspan><tspan x="60.640" y="-4.31875" font-size="6.16" textLength="3.68" lengthAdjust="spacingAndGlyphs">0</tspan><tspan x="60.640" y="1.5875" font-size="6.16" textLength="3.68" lengthAdjust="spacingAndGlyphs">0</tspan><tspan x="64.537" y="-4.31875" font-size="6.16" textLength="3.68" lengthAdjust="spacingAndGlyphs">0</tspan><tspan x="64.537" y="1.5875" font-size="6.16" textLength="3.68" lengthAdjust="spacingAndGlyphs">0</tspan><tspan x="68.434" y="-4.31875" font-size="6.16" textLength="3.68" lengthAdjust="spacingAndGlyphs">2</tspan><tspan x="68.434" y="1.5875" font-size="6.16" textLength="3.68" lengthAdjust="spacingAndGlyphs">2</tspan></text></g><text transform="translate(27.027 218.155) rotate(-45)" font-size="8.0" text-anchor="start" textLength="12.50" lengthAdjust="spacingAndGlyphs">1.0</text><text transform="translate(27.027 197.075) rotate(-45)" font-size="8.0" text-anchor="start" textLength="12.62" lengthAdjust="spacingAndGlyphs">1.5</text><text transform="translate(27.027 175.995) rotate(-45)" font-size="8.0" text-anchor="start" textLength="12.62" lengthAdjust="spacingAndGlyphs">2.0</text><text transform="translate(27.027 154.915) rotate(-45)" font-size="8.0" text-anchor="start" textLength="12.75" lengthAdjust="spacingAndGlyphs">2.5</text><text transform="translate(27.027 133.835) rotate(-45)" font-size="8.0" text-anchor="start" textLength="12.50" lengthAdjust="spacingAndGlyphs">3.0</text><text x="7.899438" y="176.28" transform="rotate(-90 7.899438 176.28)" font-size="7.6" text-anchor="middle" textLength="25.12" lengthAdjust="spacingAndGlyphs">log(m)</text><g transform="translate(159.692 119.580)"><text><tspan x="0.000" y="-0.873438" font-size="8.80" textLength="2.38" lengthAdjust="spacingAndGlyphs">l</tspan><tspan x="2.431" y="-0.873438" font-size="8.80" textLength="5.11" lengthAdjust="spacingAndGlyphs">o</tspan><tspan x="7.784" y="-0.873438" font-size="8.80" textLength="5.34" lengthAdjust="spacingAndGlyphs">g</tspan><tspan x="13.339" y="-0.873438" font-size="8.80" textLength="3.21" lengthAdjust="spacingAndGlyphs">(</tspan><tspan x="16.752" y="-0.873438" font-size="8.80" textLength="7.96" lengthAdjust="spacingAndGlyphs">m</tspan><tspan x="25.276" y="-0.873438" font-size="8.80" textLength="3.32" lengthAdjust="spacingAndGlyphs">)</tspan><tspan x="31.471" y="-0.873438" font-size="8.80" textLength="7.01" lengthAdjust="spacingAndGlyphs">=</tspan><tspan x="41.584" y="-0.873438" font-size="8.80" textLength="5.22" lengthAdjust="spacingAndGlyphs">1</tspan><tspan x="47.151" y="-0.873438" font-size="8.80" textLength="2.49" lengthAdjust="spacingAndGlyphs">.</tspan><tspan x="49.682" y="-0.873438" font-size="8.80" textLength="5.34" lengthAdjust="spacingAndGlyphs">8</tspan><tspan x="55.249" y="-0.873438" font-size="8.80" textLength="5.22" lengthAdjust="spacingAndGlyphs">1</tspan><tspan x="60.816" y="-0.873438" font-size="8.80" textLength="5.22" lengthAdjust="spacingAndGlyphs">2</tspan><tspan x="66.469" y="-4.31875" font-size="6.16" textLength="4.99" lengthAdjust="spacingAndGlyphs">+</tspan><tspan x="66.469" y="1.5875" font-size="6.16" textLength="4.87" lengthAdjust="spacingAndGlyphs">−</tspan><tspan x="71.602" y="-4.31875" font-size="6.16" textLength="3.68" lengthAdjust="spacingAndGlyphs">0</tspan><tspan x="71.602" y="1.5875" font-size="6.16" textLength="3.68" lengthAdjust="spacingAndGlyphs">0</tspan><tspan x="75.498" y="-4.31875" font-size="6.16" textLength="1.90" lengthAdjust="spacingAndGlyphs">.</tspan><tspan x="75.498" y="1.5875" font-size="6.16" textLength="1.90" lengthAdjust="spacingAndGlyphs">.</tspan><tspan x="77.445" y="-4.31875" font-size="6.16" textLength="3.68" lengthAdjust="spacingAndGlyphs">1</tspan><tspan x="77.445" y="1.5875" font-size="6.16" textLength="3.68" lengthAdjust="spacingAndGlyphs">1</tspan><tspan x="81.342" y="-4.31875" font-size="6.16" textLength="3.68" lengthAdjust="spacingAndGlyphs">8</tspan><tspan x="81.342" y="1.5875" font-size="6.16" textLength="3.68" lengthAdjust="spacingAndGlyphs">7</tspan><tspan x="85.239" y="-4.31875" font-size="6.16" textLength="3.68" lengthAdjust="spacingAndGlyphs">7</tspan><tspan x="85.239" y="1.5875" font-size="6.16" textLength="3.56" lengthAdjust="spacingAndGlyphs">4</tspan></text></g><text transform="translate(27.027 335.058) rotate(-45)" font-size="8.0" text-anchor="start" textLength="12.50" lengthAdjust="spacingAndGlyphs">0.3</text><text transform="translate(27.027 312.472) rotate(-45)" font-size="8.0" text-anchor="start" textLength="12.50" lengthAdjust="spacingAndGlyphs">0.6</text><text transform="translate(27.027 289.887) rotate(-45)" font-size="8.0" text-anchor="start" textLength="12.62" lengthAdjust="spacingAndGlyphs">0.9</text><text transform="translate(27.027 267.301) rotate(-45)" font-size="8.0" text-anchor="start" textLength="12.62" lengthAdjust="spacingAndGlyphs">1.2</text><text transform="translate(27.027 244.715) rotate(-45)" font-size="8.0" text-anchor="start" textLength="12.62" lengthAdjust="spacingAndGlyphs">1.5</text><text x="7.899438" y="287.16" transform="rotate(-90 7.899438 287.16)" font-size="7.6" text-anchor="middle" textLength="13.75" lengthAdjust="spacingAndGlyphs">C/O</text><g transform="translate(276.844 230.460)"><text><tspan x="0.000" y="-0.873438" font-size="8.80">C</tspan><tspan x="6.110" y="-0.873438" font-size="8.80" textLength="2.85" lengthAdjust="spacingAndGlyphs">/</tspan><tspan x="9.058" y="-0.873438" font-size="8.80">O</tspan><tspan x="18.726" y="-0.873438" font-size="8.80" textLength="7.01" lengthAdjust="spacingAndGlyphs">=</tspan><tspan x="28.839" y="-0.873438" font-size="8.80" textLength="5.34" lengthAdjust="spacingAndGlyphs">0</tspan><tspan x="34.406" y="-0.873438" font-size="8.80" textLength="2.49" lengthAdjust="spacingAndGlyphs">.</tspan><tspan x="37.188" y="-0.873438" font-size="8.80" textLength="5.22" lengthAdjust="spacingAndGlyphs">6</tspan><tspan x="42.755" y="-0.873438" font-size="8.80" textLength="5.34" lengthAdjust="spacingAndGlyphs">7</tspan><tspan x="48.322" y="-0.873438" font-size="8.80" textLength="5.34" lengthAdjust="spacingAndGlyphs">5</tspan><tspan x="53.975" y="-4.31875" font-size="6.16" textLength="4.99" lengthAdjust="spacingAndGlyphs">+</tspan><tspan x="53.975" y="1.5875" font-size="6.16" textLength="4.87" lengthAdjust="spacingAndGlyphs">−</tspan><tspan x="59.107" y="-4.31875" font-size="6.16" textLength="3.68" lengthAdjust="spacingAndGlyphs">0</tspan><tspan x="59.107" y="1.5875" font-size="6.16" textLength="3.68" lengthAdjust="spacingAndGlyphs">0</tspan><tspan x="63.004" y="-4.31875" font-size="6.16" textLength="1.90" lengthAdjust="spacingAndGlyphs">.</tspan><tspan x="63.004" y="1.5875" font-size="6.16" textLength="1.90" lengthAdjust="spacingAndGlyphs">.</tspan><tspan x="64.951" y="-4.31875" font-size="6.16" textLength="3.68" lengthAdjust="spacingAndGlyphs">1</tspan><tspan x="64.951" y="1.5875" font-size="6.16" textLength="3.68" lengthAdjust="spacingAndGlyphs">1</tspan><tspan x="68.848" y="-4.31875" font-size="6.16" textLength="3.68" lengthAdjust="spacingAndGlyphs">0</tspan><tspan x="68.848" y="1.5875" font-size="6.16" textLength="3.68" lengthAdjust="spacingAndGlyphs">2</tspan><tspan x="72.744" y="-4.31875" font-size="6.16" textLength="3.68" lengthAdjust="spacingAndGlyphs">5</tspan><tspan x="72.744" y="1.5875" font-size="6.16" textLength="3.68" lengthAdjust="spacingAndGlyphs">3</tspan></text></g><text transform="translate(27.027 438.409) rotate(-45)" font-size="8.0" text-anchor="start" textLength="12.62" lengthAdjust="spacingAndGlyphs">1.5</text><text transform="translate(27.027 415.824) rotate(-45)" font-size="8.0" text-anchor="start" textLength="12.50" lengthAdjust="spacingAndGlyphs">3.0</text><text transform="translate(27.027 393.238) rotate(-45)" font-size="8.0" text-anchor="start" textLength="12.62" lengthAdjust="spacingAndGlyphs">4.5</text><text transform="translate(27.027 370.652) rotate(-45)" font-size="8.0" text-anchor="start" textLength="12.50" lengthAdjust="spacingAndGlyphs">6.0</text><g transform="translate(7.276 417.838) rotate(-90)"><text><tspan x="0.000" y="-0.682813" font-size="7.60" textLength="2.14" lengthAdjust="spacingAndGlyphs">l</tspan><tspan x="2.118" y="-0.682813" font-size="7.60" textLength="4.39" lengthAdjust="spacingAndGlyphs">o</tspan><tspan x="6.784" y="-0.682813" font-size="7.60" textLength="4.63" lengthAdjust="spacingAndGlyphs">g</tspan><tspan x="11.624" y="-0.682813" font-size="7.60" textLength="2.85" lengthAdjust="spacingAndGlyphs">(</tspan><tspan x="14.598" y="-0.682813" font-size="7.60">P</tspan><tspan x="36.727" y="-0.682813" font-size="7.60" textLength="2.85" lengthAdjust="spacingAndGlyphs">)</tspan><tspan x="19.273" y="-3.745313" font-size="5.32" font-style="italic" textLength="3.21" lengthAdjust="spacingAndGlyphs">h</tspan><tspan x="19.273" y="1.504687" font-size="5.32" font-style="italic" textLength="2.85" lengthAdjust="spacingAndGlyphs">c</tspan><tspan x="22.208" y="1.504687" font-size="5.32" font-style="italic" textLength="1.42" lengthAdjust="spacingAndGlyphs">l</tspan><tspan x="23.691" y="1.504687" font-size="5.32" font-style="italic" textLength="3.09" lengthAdjust="spacingAndGlyphs">o</tspan><tspan x="26.956" y="1.504687" font-size="5.32" font-style="italic" textLength="3.21" lengthAdjust="spacingAndGlyphs">u</tspan><tspan x="30.339" y="1.504687" font-size="5.32" font-style="italic" textLength="3.21" lengthAdjust="spacingAndGlyphs">d</tspan><tspan x="33.727" y="1.504687" font-size="5.32" font-style="italic">s</tspan></text></g><g transform="translate(372.832 341.340)"><text><tspan x="0.000" y="-0.764063" font-size="8.80" textLength="2.38" lengthAdjust="spacingAndGlyphs">l</tspan><tspan x="2.431" y="-0.764063" font-size="8.80" textLength="5.11" lengthAdjust="spacingAndGlyphs">o</tspan><tspan x="7.784" y="-0.764063" font-size="8.80" textLength="5.34" lengthAdjust="spacingAndGlyphs">g</tspan><tspan x="13.339" y="-0.764063" font-size="8.80" textLength="3.21" lengthAdjust="spacingAndGlyphs">(</tspan><tspan x="16.752" y="-0.764063" font-size="8.80">P</tspan><tspan x="42.139" y="-0.764063" font-size="8.80" textLength="3.32" lengthAdjust="spacingAndGlyphs">)</tspan><tspan x="48.334" y="-0.764063" font-size="8.80" textLength="7.01" lengthAdjust="spacingAndGlyphs">=</tspan><tspan x="58.447" y="-0.764063" font-size="8.80" textLength="5.22" lengthAdjust="spacingAndGlyphs">6</tspan><tspan x="64.014" y="-0.764063" font-size="8.80" textLength="2.49" lengthAdjust="spacingAndGlyphs">.</tspan><tspan x="66.795" y="-0.764063" font-size="8.80" textLength="5.22" lengthAdjust="spacingAndGlyphs">4</tspan><tspan x="72.362" y="-0.764063" font-size="8.80" textLength="5.22" lengthAdjust="spacingAndGlyphs">9</tspan><tspan x="77.929" y="-0.764063" font-size="8.80" textLength="5.34" lengthAdjust="spacingAndGlyphs">8</tspan><tspan x="22.115" y="-4.209375" font-size="6.16" font-style="italic" textLength="3.68" lengthAdjust="spacingAndGlyphs">h</tspan><tspan x="22.115" y="1.696875" font-size="6.16" font-style="italic" textLength="3.21" lengthAdjust="spacingAndGlyphs">c</tspan><tspan x="25.482" y="1.696875" font-size="6.16" font-style="italic" textLength="1.66" lengthAdjust="spacingAndGlyphs">l</tspan><tspan x="27.184" y="1.696875" font-size="6.16" font-style="italic" textLength="3.56" lengthAdjust="spacingAndGlyphs">o</tspan><tspan x="30.932" y="1.696875" font-size="6.16" font-style="italic" textLength="3.68" lengthAdjust="spacingAndGlyphs">u</tspan><tspan x="34.814" y="1.696875" font-size="6.16" font-style="italic" textLength="3.68" lengthAdjust="spacingAndGlyphs">d</tspan><tspan x="38.701" y="1.696875" font-size="6.16" font-style="italic">s</tspan><tspan x="83.582" y="-4.209375" font-size="6.16" textLength="4.99" lengthAdjust="spacingAndGlyphs">+</tspan><tspan x="83.582" y="1.696875" font-size="6.16" textLength="4.87" lengthAdjust="spacingAndGlyphs">−</tspan><tspan x="88.714" y="-4.209375" font-size="6.16" textLength="3.68" lengthAdjust="spacingAndGlyphs">0</tspan><tspan x="88.714" y="1.696875" font-size="6.16" textLength="3.68" lengthAdjust="spacingAndGlyphs">0</tspan><tspan x="92.611" y="-4.209375" font-size="6.16" textLength="1.90" lengthAdjust="spacingAndGlyphs">.</tspan><tspan x="92.611" y="1.696875" font-size="6.16" textLength="1.90" lengthAdjust="spacingAndGlyphs">.</tspan><tspan x="94.558" y="-4.209375" font-size="6.16" textLength="3.68" lengthAdjust="spacingAndGlyphs">3</tspan><tspan x="94.558" y="1.696875" font-size="6.16" textLength="3.68" lengthAdjust="spacingAndGlyphs">3</tspan><tspan x="98.455" y="-4.209375" font-size="6.16" textLength="3.68" lengthAdjust="spacingAndGlyphs">2</tspan><tspan x="98.455" y="1.696875" font-size="6.16" textLength="3.68" lengthAdjust="spacingAndGlyphs">1</tspan><tspan x="102.352" y="-4.209375" font-size="6.16" textLength="3.68" lengthAdjust="spacingAndGlyphs">3</tspan><tspan x="102.352" y="1.696875" font-size="6.16" textLength="3.68" lengthAdjust="spacingAndGlyphs">5</tspan></text></g><text transform="translate(27.027 549.289) rotate(-45)" font-size="8.0" text-anchor="start" textLength="12.62" lengthAdjust="spacingAndGlyphs">1.5</text><text transform="translate(27.027 526.704) rotate(-45)" font-size="8.0" text-anchor="start" textLength="12.50" lengthAdjust="spacingAndGlyphs">3.0</text><text transform="translate(27.027 504.118) rotate(-45)" font-size="8.0" text-anchor="start" textLength="12.62" lengthAdjust="spacingAndGlyphs">4.5</text><text transform="translate(27.027 481.532) rotate(-45)" font-size="8.0" text-anchor="start" textLength="12.50" lengthAdjust="spacingAndGlyphs">6.0</text><g transform="translate(7.276 528.718) rotate(-90)"><text><tspan x="0.000" y="-0.651563" font-size="7.60" textLength="2.14" lengthAdjust="spacingAndGlyphs">l</tspan><tspan x="2.118" y="-0.651563" font-size="7.60" textLength="4.39" lengthAdjust="spacingAndGlyphs">o</tspan><tspan x="6.784" y="-0.651563" font-size="7.60" textLength="4.63" lengthAdjust="spacingAndGlyphs">g</tspan><tspan x="11.624" y="-0.651563" font-size="7.60" textLength="2.85" lengthAdjust="spacingAndGlyphs">(</tspan><tspan x="14.598" y="-0.651563" font-size="7.60">P</tspan><tspan x="36.727" y="-0.651563" font-size="7.60" textLength="2.85" lengthAdjust="spacingAndGlyphs">)</tspan><tspan x="19.273" y="-3.745313" font-size="5.32" font-style="italic" textLength="3.21" lengthAdjust="spacingAndGlyphs">d</tspan><tspan x="19.273" y="1.535937" font-size="5.32" font-style="italic" textLength="2.85" lengthAdjust="spacingAndGlyphs">c</tspan><tspan x="22.208" y="1.535937" font-size="5.32" font-style="italic" textLength="1.42" lengthAdjust="spacingAndGlyphs">l</tspan><tspan x="23.691" y="1.535937" font-size="5.32" font-style="italic" textLength="3.09" lengthAdjust="spacingAndGlyphs">o</tspan><tspan x="26.956" y="1.535937" font-size="5.32" font-style="italic" textLength="3.21" lengthAdjust="spacingAndGlyphs">u</tspan><tspan x="30.339" y="1.535937" font-size="5.32" font-style="italic" textLength="3.21" lengthAdjust="spacingAndGlyphs">d</tspan><tspan x="33.727" y="1.535937" font-size="5.32" font-style="italic">s</tspan></text></g><g transform="translate(483.692 452.220)"><text><tspan x="0.000" y="-0.692188" font-size="8.80" textLength="2.38" lengthAdjust="spacingAndGlyphs">l</tspan><tspan x="2.431" y="-0.692188" font-size="8.80" textLength="5.11" lengthAdjust="spacingAndGlyphs">o</tspan><tspan x="7.784" y="-0.692188" font-size="8.80" textLength="5.34" lengthAdjust="spacingAndGlyphs">g</tspan><tspan x="13.339" y="-0.692188" font-size="8.80" textLength="3.21" lengthAdjust="spacingAndGlyphs">(</tspan><tspan x="16.752" y="-0.692188" font-size="8.80">P</tspan><tspan x="42.139" y="-0.692188" font-size="8.80" textLength="3.32" lengthAdjust="spacingAndGlyphs">)</tspan><tspan x="48.334" y="-0.692188" font-size="8.80" textLength="7.01" lengthAdjust="spacingAndGlyphs">=</tspan><tspan x="58.447" y="-0.692188" font-size="8.80" textLength="5.34" lengthAdjust="spacingAndGlyphs">5</tspan><tspan x="64.014" y="-0.692188" font-size="8.80" textLength="2.49" lengthAdjust="spacingAndGlyphs">.</tspan><tspan x="66.795" y="-0.692188" font-size="8.80" textLength="5.34" lengthAdjust="spacingAndGlyphs">5</tspan><tspan x="72.362" y="-0.692188" font-size="8.80" textLength="5.34" lengthAdjust="spacingAndGlyphs">0</tspan><tspan x="77.929" y="-0.692188" font-size="8.80" textLength="5.34" lengthAdjust="spacingAndGlyphs">8</tspan><tspan x="22.115" y="-4.209375" font-size="6.16" font-style="italic" textLength="3.68" lengthAdjust="spacingAndGlyphs">d</tspan><tspan x="22.115" y="1.76875" font-size="6.16" font-style="italic" textLength="3.21" lengthAdjust="spacingAndGlyphs">c</tspan><tspan x="25.482" y="1.76875" font-size="6.16" font-style="italic" textLength="1.66" lengthAdjust="spacingAndGlyphs">l</tspan><tspan x="27.184" y="1.76875" font-size="6.16" font-style="italic" textLength="3.56" lengthAdjust="spacingAndGlyphs">o</tspan><tspan x="30.932" y="1.76875" font-size="6.16" font-style="italic" textLength="3.68" lengthAdjust="spacingAndGlyphs">u</tspan><tspan x="34.814" y="1.76875" font-size="6.16" font-style="italic" textLength="3.68" lengthAdjust="spacingAndGlyphs">d</tspan><tspan x="38.701" y="1.76875" font-size="6.16" font-style="italic">s</tspan><tspan x="83.582" y="-4.1375" font-size="6.16" textLength="4.99" lengthAdjust="spacingAndGlyphs">+</tspan><tspan x="83.582" y="1.76875" font-size="6.16" textLength="4.87" lengthAdjust="spacingAndGlyphs">−</tspan><tspan x="88.714" y="-4.1375" font-size="6.16" textLength="3.68" lengthAdjust="spacingAndGlyphs">0</tspan><tspan x="88.714" y="1.76875" font-size="6.16" textLength="3.68" lengthAdjust="spacingAndGlyphs">1</tspan><tspan x="92.611" y="-4.1375" font-size="6.16" textLength="1.90" lengthAdjust="spacingAndGlyphs">.</tspan><tspan x="92.611" y="1.76875" font-size="6.16" textLength="1.90" lengthAdjust="spacingAndGlyphs">.</tspan><tspan x="94.558" y="-4.1375" font-size="6.16" textLength="3.68" lengthAdjust="spacingAndGlyphs">9</tspan><tspan x="94.558" y="1.76875" font-size="6.16" textLength="3.68" lengthAdjust="spacingAndGlyphs">0</tspan><tspan x="98.455" y="-4.1375" font-size="6.16" textLength="3.56" lengthAdjust="spacingAndGlyphs">4</tspan><tspan x="98.455" y="1.76875" font-size="6.16" textLength="3.68" lengthAdjust="spacingAndGlyphs">1</tspan><tspan x="102.352" y="-4.1375" font-size="6.16" textLength="3.68" lengthAdjust="spacingAndGlyphs">6</tspan><tspan x="102.352" y="1.76875" font-size="6.16" textLength="3.68" lengthAdjust="spacingAndGlyphs">3</tspan></text></g><text transform="translate(60.914 697.393) rotate(-45)" font-size="8.0" text-anchor="start" textLength="22.75" lengthAdjust="spacingAndGlyphs">1.025</text><text transform="translate(87.264 697.393) rotate(-45)" font-size="8.0" text-anchor="start" textLength="22.62" lengthAdjust="spacingAndGlyphs">1.050</text><text transform="translate(113.614 697.393) rotate(-45)" font-size="8.0" text-anchor="start" textLength="22.75" lengthAdjust="spacingAndGlyphs">1.075</text><text transform="translate(139.964 697.393) rotate(-45)" font-size="8.0" text-anchor="start" textLength="22.50" lengthAdjust="spacingAndGlyphs">1.100</text><text x="93.8" y="709.894812" transform="rotate(-0 93.8 709.894812)" font-size="7.6" text-anchor="middle" textLength="10.25" lengthAdjust="spacingAndGlyphs">Rp</text><text transform="translate(27.027 660.169) rotate(-45)" font-size="8.0" text-anchor="start" textLength="12.62" lengthAdjust="spacingAndGlyphs">1.5</text><text transform="translate(27.027 637.584) rotate(-45)" font-size="8.0" text-anchor="start" textLength="12.50" lengthAdjust="spacingAndGlyphs">3.0</text><text transform="translate(27.027 614.998) rotate(-45)" font-size="8.0" text-anchor="start" textLength="12.62" lengthAdjust="spacingAndGlyphs">4.5</text><text transform="translate(27.027 592.412) rotate(-45)" font-size="8.0" text-anchor="start" textLength="12.50" lengthAdjust="spacingAndGlyphs">6.0</text><g transform="translate(7.276 639.598) rotate(-90)"><text><tspan x="0.000" y="-0.798438" font-size="7.60" textLength="2.14" lengthAdjust="spacingAndGlyphs">l</tspan><tspan x="2.118" y="-0.798438" font-size="7.60" textLength="4.39" lengthAdjust="spacingAndGlyphs">o</tspan><tspan x="6.784" y="-0.798438" font-size="7.60" textLength="4.63" lengthAdjust="spacingAndGlyphs">g</tspan><tspan x="11.624" y="-0.798438" font-size="7.60" textLength="2.85" lengthAdjust="spacingAndGlyphs">(</tspan><tspan x="14.598" y="-0.798438" font-size="7.60">P</tspan><tspan x="36.727" y="-0.798438" font-size="7.60" textLength="2.85" lengthAdjust="spacingAndGlyphs">)</tspan><tspan x="19.273" y="-3.860938" font-size="5.32" font-style="italic" textLength="3.21" lengthAdjust="spacingAndGlyphs">n</tspan><tspan x="19.273" y="1.389062" font-size="5.32" font-style="italic" textLength="2.85" lengthAdjust="spacingAndGlyphs">c</tspan><tspan x="22.208" y="1.389062" font-size="5.32" font-style="italic" textLength="1.42" lengthAdjust="spacingAndGlyphs">l</tspan><tspan x="23.691" y="1.389062" font-size="5.32" font-style="italic" textLength="3.09" lengthAdjust="spacingAndGlyphs">o</tspan><tspan x="26.956" y="1.389062" font-size="5.32" font-style="italic" textLength="3.21" lengthAdjust="spacingAndGlyphs">u</tspan><tspan x="30.339" y="1.389062" font-size="5.32" font-style="italic" textLength="3.21" lengthAdjust="spacingAndGlyphs">d</tspan><tspan x="33.727" y="1.389062" font-size="5.32" font-style="italic">s</tspan></text></g><text transform="translate(170.103 690.194) rotate(-45)" font-size="8.0" text-anchor="start" textLength="12.50" lengthAdjust="spacingAndGlyphs">1.0</text><text transform="translate(191.183 690.194) rotate(-45)" font-size="8.0" text-anchor="start" textLength="12.62" lengthAdjust="spacingAndGlyphs">1.5</text><text transform="translate(212.263 690.194) rotate(-45)" font-size="8.0" text-anchor="start" textLength="12.62" lengthAdjust="spacingAndGlyphs">2.0</text><text transform="translate(233.343 690.194) rotate(-45)" font-size="8.0" text-anchor="start" textLength="12.75" lengthAdjust="spacingAndGlyphs">2.5</text><text transform="translate(254.423 690.194) rotate(-45)" font-size="8.0" text-anchor="start" textLength="12.50" lengthAdjust="spacingAndGlyphs">3.0</text><text x="204.66" y="709.894812" transform="rotate(-0 204.66 709.894812)" font-size="7.6" text-anchor="middle" textLength="25.12" lengthAdjust="spacingAndGlyphs">log(m)</text><text transform="translate(274.940 690.194) rotate(-45)" font-size="8.0" text-anchor="start" textLength="12.50" lengthAdjust="spacingAndGlyphs">0.3</text><text transform="translate(297.526 690.194) rotate(-45)" font-size="8.0" text-anchor="start" textLength="12.50" lengthAdjust="spacingAndGlyphs">0.6</text><text transform="translate(320.111 690.194) rotate(-45)" font-size="8.0" text-anchor="start" textLength="12.62" lengthAdjust="spacingAndGlyphs">0.9</text><text transform="translate(342.697 690.194) rotate(-45)" font-size="8.0" text-anchor="start" textLength="12.62" lengthAdjust="spacingAndGlyphs">1.2</text><text transform="translate(365.283 690.194) rotate(-45)" font-size="8.0" text-anchor="start" textLength="12.62" lengthAdjust="spacingAndGlyphs">1.5</text><text x="315.52" y="709.894812" transform="rotate(-0 315.52 709.894812)" font-size="7.6" text-anchor="middle" textLength="13.75" lengthAdjust="spacingAndGlyphs">C/O</text><text transform="translate(393.329 690.194) rotate(-45)" font-size="8.0" text-anchor="start" textLength="12.62" lengthAdjust="spacingAndGlyphs">1.5</text><text transform="translate(415.914 690.194) rotate(-45)" font-size="8.0" text-anchor="start" textLength="12.50" lengthAdjust="spacingAndGlyphs">3.0</text><text transform="translate(438.500 690.194) rotate(-45)" font-size="8.0" text-anchor="start" textLength="12.62" lengthAdjust="spacingAndGlyphs">4.5</text><text transform="translate(461.086 690.194) rotate(-45)" font-size="8.0" text-anchor="start" textLength="12.50" lengthAdjust="spacingAndGlyphs">6.0</text><g transform="translate(406.582 711.112)"><text><tspan x="0.000" y="-0.682813" font-size="7.60" textLength="2.14" lengthAdjust="spacingAndGlyphs">l</tspan><tspan x="2.118" y="-0.682813" font-size="7.60" textLength="4.39" lengthAdjust="spacingAndGlyphs">o</tspan><tspan x="6.784" y="-0.682813" font-size="7.60" textLength="4.63" lengthAdjust="spacingAndGlyphs">g</tspan><tspan x="11.624" y="-0.682813" font-size="7.60" textLength="2.85" lengthAdjust="spacingAndGlyphs">(</tspan><tspan x="14.598" y="-0.682813" font-size="7.60">P</tspan><tspan x="36.727" y="-0.682813" font-size="7.60" textLength="2.85" lengthAdjust="spacingAndGlyphs">)</tspan><tspan x="19.273" y="-3.745313" font-size="5.32" font-style="italic" textLength="3.21" lengthAdjust="spacingAndGlyphs">h</tspan><tspan x="19.273" y="1.504687" font-size="5.32" font-style="italic" textLength="2.85" lengthAdjust="spacingAndGlyphs">c</tspan><tspan x="22.208" y="1.504687" font-size="5.32" font-style="italic" textLength="1.42" lengthAdjust="spacingAndGlyphs">l</tspan><tspan x="23.691" y="1.504687" font-size="5.32" font-style="italic" textLength="3.09" lengthAdjust="spacingAndGlyphs">o</tspan><tspan x="26.956" y="1.504687" font-size="5.32" font-style="italic" textLength="3.21" lengthAdjust="spacingAndGlyphs">u</tspan><tspan x="30.339" y="1.504687" font-size="5.32" font-style="italic" textLength="3.21" lengthAdjust="spacingAndGlyphs">d</tspan><tspan x="33.727" y="1.504687" font-size="5.32" font-style="italic">s</tspan></text></g><text transform="translate(504.189 690.194) rotate(-45)" font-size="8.0" text-anchor="start" textLength="12.62" lengthAdjust="spacingAndGlyphs">1.5</text><text transform="translate(526.774 690.194) rotate(-45)" font-size="8.0" text-anchor="start" textLength="12.50" lengthAdjust="spacingAndGlyphs">3.0</text><text transform="translate(549.360 690.194) rotate(-45)" font-size="8.0" text-anchor="start" textLength="12.62" lengthAdjust="spacingAndGlyphs">4.5</text><text transform="translate(571.946 690.194) rotate(-45)" font-size="8.0" text-anchor="start" textLength="12.50" lengthAdjust="spacingAndGlyphs">6.0</text><g transform="translate(517.442 711.188)"><text><tspan x="0.000" y="-0.651563" font-size="7.60" textLength="2.14" lengthAdjust="spacingAndGlyphs">l</tspan><tspan x="2.118" y="-0.651563" font-size="7.60" textLength="4.39" lengthAdjust="spacingAndGlyphs">o</tspan><tspan x="6.784" y="-0.651563" font-size="7.60" textLength="4.63" lengthAdjust="spacingAndGlyphs">g</tspan><tspan x="11.624" y="-0.651563" font-size="7.60" textLength="2.85" lengthAdjust="spacingAndGlyphs">(</tspan><tspan x="14.598" y="-0.651563" font-size="7.60">P</tspan><tspan x="36.727" y="-0.651563" font-size="7.60" textLength="2.85" lengthAdjust="spacingAndGlyphs">)</tspan><tspan x="19.273" y="-3.745313" font-size="5.32" font-style="italic" textLength="3.21" lengthAdjust="spacingAndGlyphs">d</tspan><tspan x="19.273" y="1.535937" font-size="5.32" font-style="italic" textLength="2.85" lengthAdjust="spacingAndGlyphs">c</tspan><tspan x="22.208" y="1.535937" font-size="5.32" font-style="italic" textLength="1.42" lengthAdjust="spacingAndGlyphs">l</tspan><tspan x="23.691" y="1.535937" font-size="5.32" font-style="italic" textLength="3.09" lengthAdjust="spacingAndGlyphs">o</tspan><tspan x="26.956" y="1.535937" font-size="5.32" font-style="italic" textLength="3.21" lengthAdjust="spacingAndGlyphs">u</tspan><tspan x="30.339" y="1.535937" font-size="5.32" font-style="italic" textLength="3.21" lengthAdjust="spacingAndGlyphs">d</tspan><tspan x="33.727" y="1.535937" font-size="5.32" font-style="italic">s</tspan></text></g><text transform="translate(615.049 690.194) rotate(-45)" font-size="8.0" text-anchor="start" textLength="12.62" lengthAdjust="spacingAndGlyphs">1.5</text><text transform="translate(637.634 690.194) rotate(-45)" font-size="8.0" text-anchor="start" textLength="12.50" lengthAdjust="spacingAndGlyphs">3.0</text><text transform="translate(660.220 690.194) rotate(-45)" font-size="8.0" text-anchor="start" textLength="12.62" lengthAdjust="spacingAndGlyphs">4.5</text><text transform="translate(682.806 690.194) rotate(-45)" font-size="8.0" text-anchor="start" textLength="12.50" lengthAdjust="spacingAndGlyphs">6.0</text><g transform="translate(628.302 710.048)"><text><tspan x="0.000" y="-0.798438" font-size="7.60" textLength="2.14" lengthAdjust="spacingAndGlyphs">l</tspan><tspan x="2.118" y="-0.798438" font-size="7.60" textLength="4.39" lengthAdjust="spacingAndGlyphs">o</tspan><tspan x="6.784" y="-0.798438" font-size="7.60" textLength="4.63" lengthAdjust="spacingAndGlyphs">g</tspan><tspan x="11.624" y="-0.798438" font-size="7.60" textLength="2.85" lengthAdjust="spacingAndGlyphs">(</tspan><tspan x="14.598" y="-0.798438" font-size="7.60">P</tspan><tspan x="36.727" y="-0.798438" font-size="7.60" textLength="2.85" lengthAdjust="spacingAndGlyphs">)</tspan><tspan x="19.273" y="-3.860938" font-size="5.32" font-style="italic" textLength="3.21" lengthAdjust="spacingAndGlyphs">n</tspan><tspan x="19.273" y="1.389062" font-size="5.32" font-style="italic" textLength="2.85" lengthAdjust="spacingAndGlyphs">c</tspan><tspan x="22.208" y="1.389062" font-size="5.32" font-style="italic" textLength="1.42" lengthAdjust="spacingAndGlyphs">l</tspan><tspan x="23.691" y="1.389062" font-size="5.32" font-style="italic" textLength="3.09" lengthAdjust="spacingAndGlyphs">o</tspan><tspan x="26.956" y="1.389062" font-size="5.32" font-style="italic" textLength="3.21" lengthAdjust="spacingAndGlyphs">u</tspan><tspan x="30.339" y="1.389062" font-size="5.32" font-style="italic" textLength="3.21" lengthAdjust="spacingAndGlyphs">d</tspan><tspan x="33.727" y="1.389062" font-size="5.32" font-style="italic">s</tspan></text></g><g transform="translate(594.948 563.100)"><text><tspan x="0.000" y="-0.873438" font-size="8.80" textLength="2.38" lengthAdjust="spacingAndGlyphs">l</tspan><tspan x="2.431" y="-0.873438" font-size="8.80" textLength="5.11" lengthAdjust="spacingAndGlyphs">o</tspan><tspan x="7.784" y="-0.873438" font-size="8.80" textLength="5.34" lengthAdjust="spacingAndGlyphs">g</tspan><tspan x="13.339" y="-0.873438" font-size="8.80" textLength="3.21" lengthAdjust="spacingAndGlyphs">(</tspan><tspan x="16.752" y="-0.873438" font-size="8.80">P</tspan><tspan x="42.139" y="-0.873438" font-size="8.80" textLength="3.32" lengthAdjust="spacingAndGlyphs">)</tspan><tspan x="48.334" y="-0.873438" font-size="8.80" textLength="7.01" lengthAdjust="spacingAndGlyphs">=</tspan><tspan x="58.447" y="-0.873438" font-size="8.80" textLength="5.34" lengthAdjust="spacingAndGlyphs">5</tspan><tspan x="64.014" y="-0.873438" font-size="8.80" textLength="2.49" lengthAdjust="spacingAndGlyphs">.</tspan><tspan x="66.170" y="-0.873438" font-size="8.80" textLength="5.34" lengthAdjust="spacingAndGlyphs">7</tspan><tspan x="71.737" y="-0.873438" font-size="8.80" textLength="5.34" lengthAdjust="spacingAndGlyphs">3</tspan><tspan x="77.304" y="-0.873438" font-size="8.80" textLength="5.22" lengthAdjust="spacingAndGlyphs">9</tspan><tspan x="22.115" y="-4.31875" font-size="6.16" font-style="italic" textLength="3.68" lengthAdjust="spacingAndGlyphs">n</tspan><tspan x="22.115" y="1.5875" font-size="6.16" font-style="italic" textLength="3.21" lengthAdjust="spacingAndGlyphs">c</tspan><tspan x="25.482" y="1.5875" font-size="6.16" font-style="italic" textLength="1.66" lengthAdjust="spacingAndGlyphs">l</tspan><tspan x="27.184" y="1.5875" font-size="6.16" font-style="italic" textLength="3.56" lengthAdjust="spacingAndGlyphs">o</tspan><tspan x="30.932" y="1.5875" font-size="6.16" font-style="italic" textLength="3.68" lengthAdjust="spacingAndGlyphs">u</tspan><tspan x="34.814" y="1.5875" font-size="6.16" font-style="italic" textLength="3.68" lengthAdjust="spacingAndGlyphs">d</tspan><tspan x="38.701" y="1.5875" font-size="6.16" font-style="italic">s</tspan><tspan x="82.957" y="-4.31875" font-size="6.16" textLength="4.99" lengthAdjust="spacingAndGlyphs">+</tspan><tspan x="82.957" y="1.5875" font-size="6.16" textLength="4.87" lengthAdjust="spacingAndGlyphs">−</tspan><tspan x="88.089" y="-4.31875" font-size="6.16" textLength="3.68" lengthAdjust="spacingAndGlyphs">0</tspan><tspan x="88.089" y="1.5875" font-size="6.16" textLength="3.68" lengthAdjust="spacingAndGlyphs">0</tspan><tspan x="91.986" y="-4.31875" font-size="6.16" textLength="1.90" lengthAdjust="spacingAndGlyphs">.</tspan><tspan x="91.986" y="1.5875" font-size="6.16" textLength="1.90" lengthAdjust="spacingAndGlyphs">.</tspan><tspan x="93.758" y="-4.31875" font-size="6.16" textLength="3.68" lengthAdjust="spacingAndGlyphs">8</tspan><tspan x="93.758" y="1.5875" font-size="6.16" textLength="3.68" lengthAdjust="spacingAndGlyphs">8</tspan><tspan x="97.655" y="-4.31875" font-size="6.16" textLength="3.68" lengthAdjust="spacingAndGlyphs">2</tspan><tspan x="97.655" y="1.5875" font-size="6.16" textLength="3.68" lengthAdjust="spacingAndGlyphs">3</tspan><tspan x="101.552" y="-4.31875" font-size="6.16" textLength="3.68" lengthAdjust="spacingAndGlyphs">6</tspan><tspan x="101.552" y="1.5875" font-size="6.16" textLength="3.56" lengthAdjust="spacingAndGlyphs">4</tspan></text></g></g>
</svg></body></html>
